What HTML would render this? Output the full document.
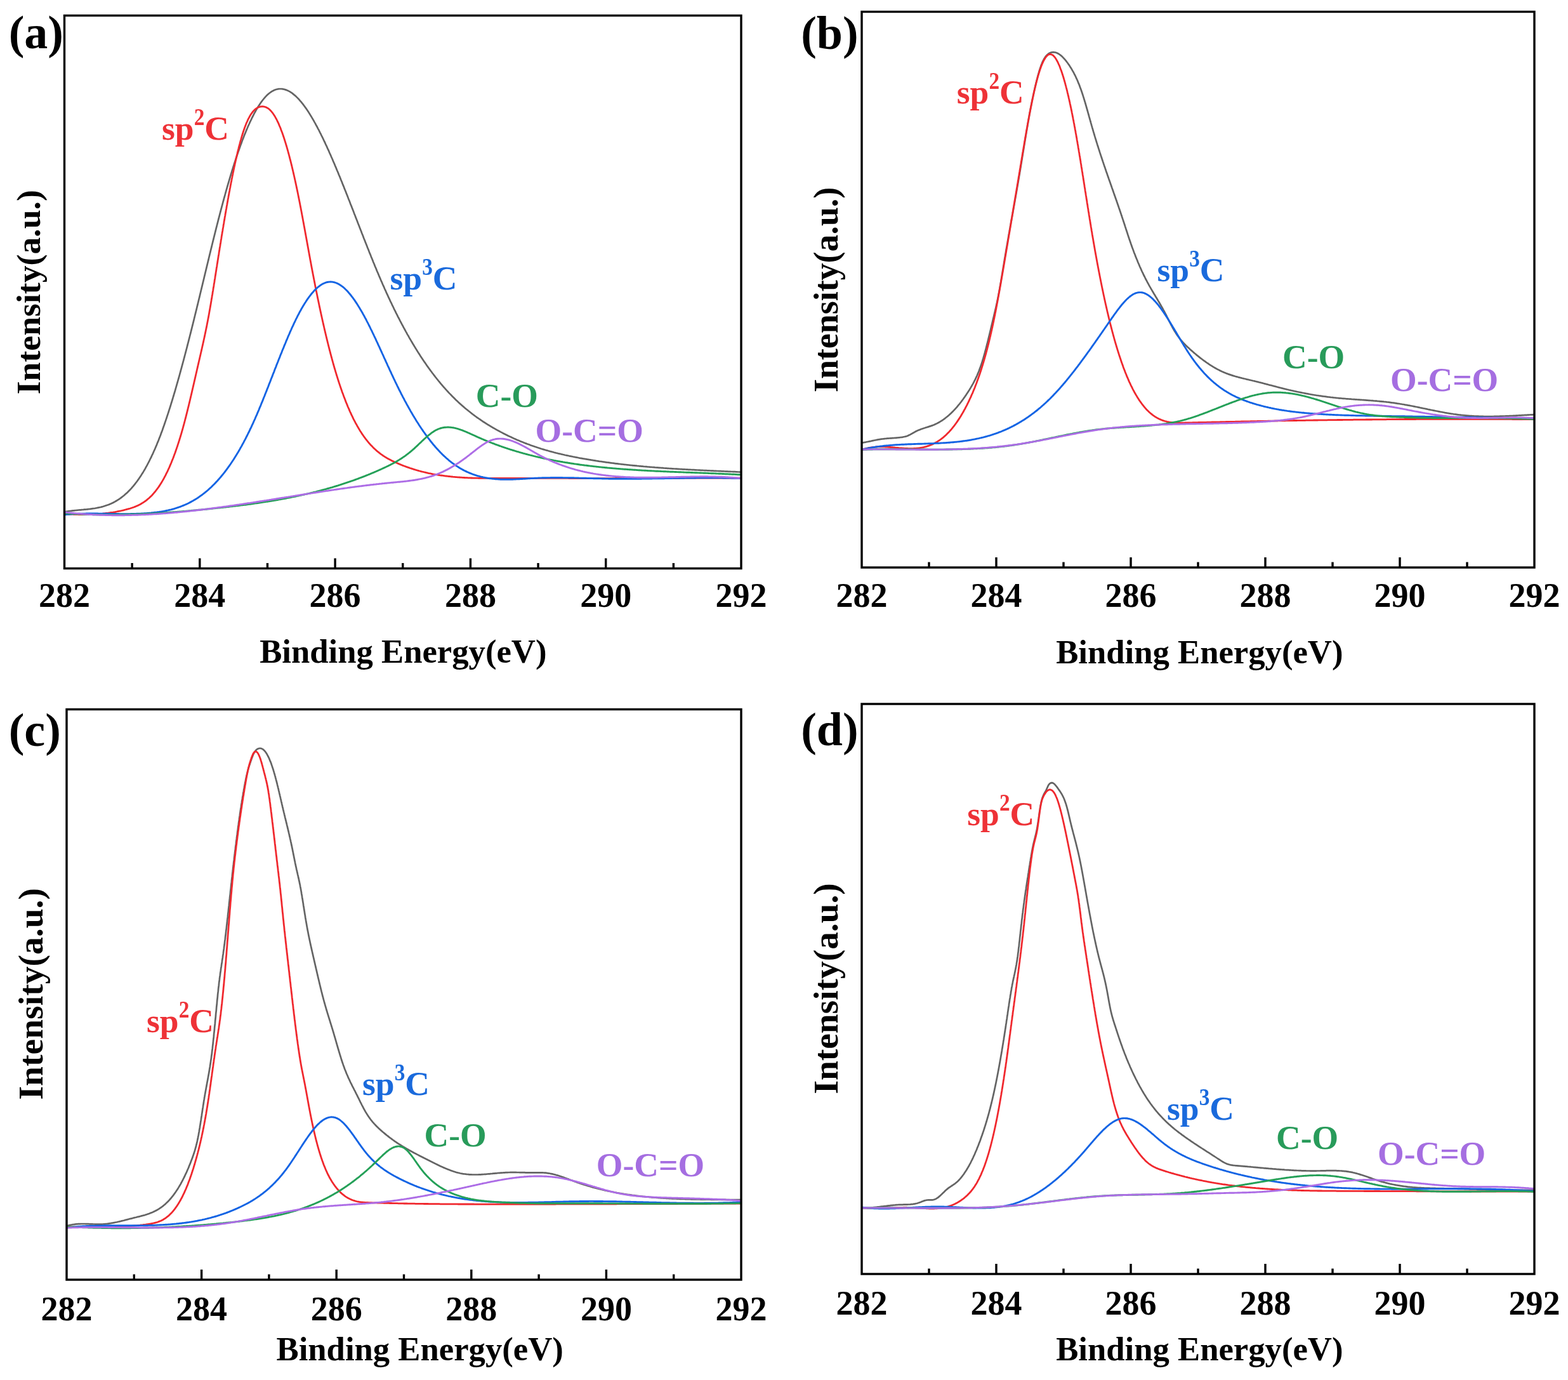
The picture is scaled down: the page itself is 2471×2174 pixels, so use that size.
<!DOCTYPE html>
<html><head><meta charset="utf-8"><title>XPS C1s spectra</title>
<style>html,body{margin:0;padding:0;background:#fff;}svg{display:block;}</style></head>
<body>
<svg xmlns="http://www.w3.org/2000/svg" width="2471" height="2174" viewBox="0 0 2471 2174">
<rect width="2471" height="2174" fill="#fff"/>
<g id="pa">
<clipPath id="ca"><rect x="101.5" y="24.5" width="1066.5" height="871.0"/></clipPath>
<g clip-path="url(#ca)" fill="none" stroke-linejoin="round" stroke-linecap="round">
<path d="M101.5 806.5L103.0 806.2 104.5 805.9 106.0 805.7 107.5 805.4 109.0 805.2 110.5 805.0 112.0 804.8 113.5 804.6 115.0 804.4 116.5 804.3 118.0 804.1 119.5 804.0 121.0 803.8 122.5 803.7 124.0 803.5 125.5 803.4 127.0 803.3 128.5 803.1 130.0 803.0 131.5 802.9 133.0 802.7 134.5 802.6 136.0 802.5 137.5 802.3 139.0 802.1 140.5 802.0 142.0 801.8 143.5 801.6 145.0 801.4 146.5 801.2 148.0 801.0 149.5 800.8 151.0 800.5 152.5 800.2 154.0 799.9 155.5 799.6 157.0 799.3 158.5 799.0 160.0 798.6 161.5 798.2 163.0 797.8 164.5 797.3 166.0 796.8 167.5 796.3 169.0 795.8 170.5 795.3 172.0 794.7 173.5 794.0 175.0 793.4 176.5 792.7 178.0 792.0 179.5 791.2 181.0 790.4 182.5 789.5 184.0 788.7 185.5 787.7 187.0 786.8 188.2 785.9 189.5 785.1 190.8 784.1 192.0 783.2 193.2 782.2 194.5 781.2 195.8 780.2 197.0 779.1 198.2 778.0 199.5 776.9 200.8 775.7 202.0 774.5 203.2 773.3 204.5 772.0 205.8 770.6 207.0 769.3 208.0 768.1 209.0 767.0 210.0 765.8 211.0 764.6 212.0 763.4 213.0 762.1 214.0 760.8 215.0 759.5 216.0 758.2 217.0 756.8 218.0 755.4 219.0 753.9 220.0 752.5 221.0 751.0 222.0 749.5 223.0 747.9 224.0 746.3 225.0 744.7 226.0 743.1 227.0 741.4 228.0 739.7 228.8 738.4 229.5 737.0 230.2 735.7 231.0 734.3 231.8 732.9 232.5 731.5 233.2 730.1 234.0 728.7 234.8 727.2 235.5 725.7 236.2 724.2 237.0 722.7 237.8 721.2 238.5 719.6 239.2 718.0 240.0 716.4 240.8 714.8 241.5 713.2 242.2 711.5 243.0 709.8 243.8 708.1 244.5 706.4 245.2 704.7 246.0 702.9 246.8 701.1 247.5 699.3 248.2 697.4 249.0 695.6 249.8 693.7 250.5 691.8 251.2 689.9 252.0 687.9 252.8 686.0 253.5 684.0 254.2 682.0 255.0 679.9 255.8 677.9 256.5 675.8 257.2 673.7 258.0 671.6 258.5 670.2 259.0 668.7 259.5 667.3 260.0 665.8 260.5 664.4 261.0 662.9 261.5 661.4 262.0 659.9 262.5 658.5 263.0 656.9 263.5 655.4 264.0 653.9 264.5 652.4 265.0 650.9 265.5 649.3 266.0 647.8 266.5 646.2 267.0 644.6 267.5 643.1 268.0 641.5 268.5 639.9 269.0 638.3 269.5 636.7 270.0 635.0 270.5 633.4 271.0 631.8 271.5 630.2 272.0 628.5 272.5 626.9 273.0 625.2 273.5 623.5 274.0 621.8 274.5 620.2 275.0 618.5 275.5 616.8 276.0 615.1 276.5 613.4 277.0 611.6 277.5 609.9 278.0 608.2 278.5 606.4 279.0 604.7 279.5 602.9 280.0 601.2 280.5 599.4 281.0 597.6 281.5 595.9 282.0 594.1 282.5 592.3 283.0 590.5 283.5 588.7 284.0 586.9 284.5 585.1 285.0 583.2 285.5 581.4 286.0 579.6 286.5 577.7 287.0 575.9 287.5 574.0 288.0 572.2 288.5 570.3 289.0 568.5 289.5 566.6 290.0 564.7 290.5 562.8 291.0 560.9 291.5 559.0 292.0 557.1 292.5 555.2 293.0 553.3 293.5 551.4 294.0 549.5 294.5 547.6 295.0 545.6 295.5 543.7 296.0 541.7 296.5 539.8 297.0 537.9 297.5 535.9 298.0 533.9 298.5 532.0 299.0 530.0 299.5 528.0 300.0 526.1 300.5 524.1 301.0 522.1 301.5 520.1 302.0 518.1 302.5 516.1 303.0 514.1 303.5 512.1 304.0 510.1 304.5 508.1 305.0 506.1 305.5 504.1 306.0 502.0 306.5 500.0 307.0 498.0 307.5 495.9 308.0 493.9 308.5 491.9 309.0 489.8 309.5 487.8 310.0 485.7 310.5 483.7 311.0 481.6 311.5 479.6 312.0 477.5 312.5 475.5 313.0 473.4 313.5 471.3 314.0 469.3 314.5 467.2 315.0 465.1 315.5 463.0 316.0 461.0 316.5 458.9 317.0 456.8 317.5 454.7 318.0 452.7 318.5 450.6 319.0 448.5 319.5 446.4 320.0 444.4 320.5 442.3 321.0 440.2 321.5 438.1 322.0 436.0 322.5 434.0 323.0 431.9 323.5 429.8 324.0 427.7 324.5 425.6 325.0 423.6 325.5 421.5 326.0 419.4 326.5 417.4 327.0 415.3 327.5 413.2 328.0 411.1 328.5 409.1 329.0 407.0 329.5 405.0 330.0 402.9 330.5 400.8 331.0 398.8 331.5 396.7 332.0 394.7 332.5 392.6 333.0 390.6 333.5 388.6 334.0 386.5 334.5 384.5 335.0 382.5 335.5 380.4 336.0 378.4 336.5 376.4 337.0 374.4 337.5 372.4 338.0 370.4 338.5 368.4 339.0 366.4 339.5 364.4 340.0 362.4 340.5 360.4 341.0 358.4 341.5 356.5 342.0 354.5 342.5 352.5 343.0 350.6 343.5 348.6 344.0 346.7 344.5 344.7 345.0 342.8 345.5 340.9 346.0 339.0 346.5 337.0 347.0 335.1 347.5 333.2 348.0 331.3 348.5 329.4 349.0 327.6 349.5 325.7 350.0 323.8 350.5 322.0 351.0 320.1 351.5 318.2 352.0 316.4 352.5 314.6 353.0 312.7 353.5 310.9 354.0 309.1 354.5 307.3 355.0 305.5 355.5 303.7 356.0 301.9 356.5 300.2 357.0 298.4 357.5 296.6 358.0 294.9 358.5 293.1 359.0 291.4 359.5 289.7 360.0 288.0 360.5 286.3 361.0 284.6 361.5 282.9 362.0 281.2 362.5 279.5 363.0 277.8 363.5 276.2 364.0 274.5 364.5 272.9 365.0 271.3 365.5 269.6 366.0 268.0 366.5 266.4 367.0 264.8 367.5 263.2 368.0 261.6 368.5 260.1 369.0 258.5 369.5 257.0 370.0 255.4 370.5 253.9 371.0 252.4 371.5 250.8 372.0 249.3 372.5 247.8 373.0 246.3 373.5 244.9 374.0 243.4 374.5 241.9 375.0 240.5 375.5 239.0 376.0 237.6 376.5 236.2 377.0 234.7 377.8 232.6 378.5 230.5 379.2 228.5 380.0 226.4 380.8 224.4 381.5 222.4 382.2 220.4 383.0 218.5 383.8 216.5 384.5 214.6 385.2 212.7 386.0 210.9 386.8 209.0 387.5 207.2 388.2 205.4 389.0 203.6 389.8 201.8 390.5 200.1 391.2 198.4 392.0 196.7 392.8 195.0 393.5 193.4 394.2 191.8 395.0 190.2 395.8 188.6 396.5 187.0 397.2 185.5 398.0 184.0 398.8 182.5 399.5 181.1 400.2 179.6 401.0 178.2 401.8 176.8 402.5 175.5 403.2 174.2 404.0 172.8 405.0 171.1 406.0 169.5 407.0 167.8 408.0 166.3 409.0 164.7 410.0 163.2 411.0 161.8 412.0 160.4 413.0 159.0 414.0 157.7 415.0 156.5 416.0 155.2 417.0 154.1 418.0 152.9 419.2 151.6 420.5 150.3 421.8 149.1 423.0 148.0 424.2 147.0 425.5 146.0 426.8 145.1 428.2 144.1 429.8 143.3 431.2 142.5 432.8 141.8 434.2 141.3 435.8 140.8 437.2 140.5 438.8 140.2 440.2 140.0 441.8 140.0 443.2 140.0 444.8 140.1 446.2 140.4 447.8 140.7 449.2 141.1 450.8 141.6 452.2 142.2 453.8 142.8 455.2 143.6 456.8 144.4 458.2 145.4 459.5 146.2 460.8 147.1 462.0 148.1 463.2 149.1 464.5 150.1 465.8 151.2 467.0 152.4 468.2 153.6 469.5 154.9 470.8 156.2 472.0 157.6 473.0 158.8 474.0 159.9 475.0 161.1 476.0 162.4 477.0 163.6 478.0 164.9 479.0 166.3 480.0 167.6 481.0 169.0 482.0 170.4 483.0 171.8 484.0 173.3 485.0 174.8 486.0 176.3 487.0 177.9 488.0 179.5 489.0 181.1 490.0 182.7 491.0 184.4 492.0 186.1 493.0 187.8 493.8 189.1 494.5 190.4 495.2 191.7 496.0 193.1 496.8 194.4 497.5 195.8 498.2 197.2 499.0 198.5 499.8 200.0 500.5 201.4 501.2 202.8 502.0 204.2 502.8 205.7 503.5 207.2 504.2 208.6 505.0 210.1 505.8 211.6 506.5 213.2 507.2 214.7 508.0 216.2 508.8 217.8 509.5 219.3 510.2 220.9 511.0 222.5 511.8 224.0 512.5 225.6 513.2 227.3 514.0 228.9 514.8 230.5 515.5 232.1 516.2 233.8 517.0 235.4 517.8 237.1 518.5 238.8 519.2 240.5 520.0 242.2 520.8 243.9 521.5 245.6 522.2 247.3 523.0 249.0 523.8 250.7 524.5 252.5 525.2 254.2 526.0 256.0 526.8 257.7 527.5 259.5 528.2 261.3 529.0 263.1 529.8 264.9 530.5 266.7 531.2 268.5 532.0 270.3 532.8 272.1 533.5 273.9 534.2 275.7 535.0 277.6 535.8 279.4 536.5 281.3 537.2 283.1 538.0 285.0 538.8 286.8 539.5 288.7 540.2 290.6 541.0 292.4 541.8 294.3 542.5 296.2 543.2 298.1 544.0 300.0 544.8 301.8 545.5 303.7 546.2 305.6 547.0 307.5 547.8 309.5 548.5 311.4 549.2 313.3 550.0 315.2 550.8 317.1 551.5 319.0 552.2 320.9 553.0 322.9 553.8 324.8 554.5 326.7 555.2 328.6 556.0 330.6 556.8 332.5 557.5 334.4 558.2 336.4 559.0 338.3 559.8 340.2 560.5 342.2 561.2 344.1 562.0 346.0 562.8 348.0 563.5 349.9 564.2 351.8 565.0 353.8 565.8 355.7 566.5 357.6 567.2 359.6 568.0 361.5 568.8 363.4 569.5 365.3 570.2 367.3 571.0 369.2 571.8 371.1 572.5 373.0 573.2 375.0 574.0 376.9 574.8 378.8 575.5 380.7 576.2 382.6 577.0 384.5 577.8 386.4 578.5 388.3 579.2 390.2 580.0 392.1 580.8 394.0 581.5 395.9 582.2 397.8 583.0 399.6 583.8 401.5 584.5 403.4 585.2 405.2 586.0 407.1 586.8 409.0 587.5 410.8 588.2 412.7 589.0 414.5 589.8 416.3 590.5 418.2 591.2 420.0 592.0 421.8 592.8 423.6 593.5 425.4 594.2 427.2 595.0 429.0 595.8 430.8 596.5 432.6 597.2 434.3 598.0 436.1 598.8 437.9 599.5 439.6 600.2 441.3 601.0 443.1 601.8 444.8 602.5 446.5 603.2 448.2 604.0 449.9 604.8 451.6 605.5 453.3 606.2 455.0 607.0 456.7 607.8 458.3 608.5 460.0 609.2 461.7 610.0 463.3 610.8 464.9 611.5 466.6 612.2 468.2 613.0 469.8 613.8 471.4 614.5 473.0 615.2 474.6 616.0 476.2 616.8 477.7 617.5 479.3 618.2 480.9 619.0 482.4 619.8 484.0 620.5 485.5 621.2 487.1 622.0 488.6 622.8 490.1 623.5 491.6 624.2 493.1 625.0 494.6 625.8 496.1 626.5 497.6 627.2 499.1 628.0 500.5 628.8 502.0 629.5 503.4 630.2 504.9 631.0 506.3 631.8 507.8 632.5 509.2 633.2 510.6 634.0 512.0 634.8 513.4 635.5 514.8 636.2 516.2 637.0 517.6 637.8 519.0 638.5 520.3 639.2 521.7 640.0 523.1 640.8 524.4 641.5 525.8 642.2 527.1 643.0 528.4 643.8 529.7 644.5 531.1 645.2 532.4 646.0 533.7 647.0 535.4 648.0 537.1 649.0 538.8 650.0 540.5 651.0 542.2 652.0 543.8 653.0 545.5 654.0 547.1 655.0 548.8 656.0 550.4 657.0 552.0 658.0 553.6 659.0 555.2 660.0 556.7 661.0 558.3 662.0 559.9 663.0 561.4 664.0 562.9 665.0 564.4 666.0 565.9 667.0 567.4 668.0 568.9 669.0 570.4 670.0 571.8 671.0 573.3 672.0 574.7 673.0 576.2 674.0 577.6 675.0 579.0 676.0 580.4 677.0 581.7 678.0 583.1 679.0 584.5 680.0 585.8 681.0 587.2 682.0 588.5 683.0 589.8 684.0 591.1 685.0 592.4 686.0 593.7 687.0 595.0 688.0 596.2 689.0 597.5 690.0 598.7 691.0 600.0 692.0 601.2 693.0 602.4 694.0 603.6 695.0 604.8 696.0 606.0 697.0 607.1 698.0 608.3 699.0 609.5 700.0 610.6 701.0 611.7 702.0 612.8 703.2 614.2 704.5 615.6 705.8 617.0 707.0 618.3 708.2 619.6 709.5 620.9 710.8 622.2 712.0 623.5 713.2 624.8 714.5 626.0 715.8 627.3 717.0 628.5 718.2 629.7 719.5 630.9 720.8 632.1 722.0 633.3 723.2 634.4 724.5 635.6 725.8 636.7 727.0 637.8 728.2 638.9 729.5 640.0 730.8 641.1 732.0 642.2 733.2 643.2 734.5 644.3 735.8 645.3 737.0 646.3 738.2 647.3 739.5 648.3 740.8 649.3 742.0 650.3 743.2 651.3 744.5 652.2 745.8 653.2 747.0 654.1 748.2 655.0 749.5 656.0 750.8 656.9 752.0 657.8 753.2 658.6 754.5 659.5 755.8 660.4 757.0 661.2 758.2 662.1 759.5 662.9 760.8 663.8 762.2 664.8 763.8 665.7 765.2 666.7 766.8 667.6 768.2 668.6 769.8 669.5 771.2 670.4 772.8 671.3 774.2 672.2 775.8 673.1 777.2 674.0 778.8 674.9 780.2 675.7 781.8 676.6 783.2 677.4 784.8 678.2 786.2 679.0 787.8 679.8 789.2 680.6 790.8 681.4 792.2 682.2 793.8 683.0 795.2 683.7 796.8 684.5 798.2 685.2 799.8 686.0 801.2 686.7 802.8 687.4 804.2 688.1 805.8 688.8 807.2 689.5 808.8 690.2 810.2 690.9 811.8 691.5 813.2 692.2 814.8 692.9 816.2 693.5 817.8 694.1 819.2 694.8 820.8 695.4 822.2 696.0 823.8 696.6 825.2 697.2 826.8 697.8 828.2 698.4 829.8 698.9 831.2 699.5 832.8 700.1 834.2 700.6 835.8 701.2 837.2 701.7 838.8 702.2 840.2 702.7 841.8 703.3 843.2 703.8 844.8 704.3 846.2 704.8 847.8 705.3 849.2 705.7 850.8 706.2 852.2 706.7 853.8 707.2 855.2 707.6 856.8 708.1 858.2 708.5 859.8 709.0 861.2 709.4 862.8 709.8 864.2 710.3 865.8 710.7 867.2 711.1 868.8 711.5 870.2 711.9 871.8 712.3 873.2 712.7 874.8 713.1 876.2 713.5 877.8 713.8 879.2 714.2 880.8 714.6 882.2 714.9 883.8 715.3 885.2 715.6 886.8 716.0 888.2 716.3 889.8 716.7 891.2 717.0 892.8 717.3 894.2 717.7 895.8 718.0 897.2 718.3 898.8 718.6 900.2 718.9 901.8 719.2 903.2 719.5 904.8 719.8 906.2 720.1 907.8 720.4 909.2 720.7 910.8 721.0 912.2 721.3 913.8 721.6 915.2 721.8 916.8 722.1 918.2 722.4 919.8 722.7 921.2 722.9 922.8 723.2 924.2 723.4 925.8 723.7 927.2 723.9 928.8 724.2 930.2 724.4 931.8 724.7 933.2 724.9 934.8 725.2 936.2 725.4 937.8 725.6 939.2 725.9 940.8 726.1 942.2 726.3 943.8 726.6 945.2 726.8 946.8 727.0 948.2 727.2 949.8 727.5 951.2 727.7 952.8 727.9 954.2 728.1 955.8 728.3 957.2 728.5 958.8 728.7 960.2 728.9 961.8 729.1 963.2 729.3 964.8 729.5 966.2 729.7 967.8 729.9 969.2 730.1 970.8 730.3 972.2 730.4 973.8 730.6 975.2 730.8 976.8 731.0 978.2 731.2 979.8 731.3 981.2 731.5 982.8 731.7 984.2 731.8 985.8 732.0 987.2 732.2 988.8 732.3 990.2 732.5 991.8 732.7 993.2 732.8 994.8 733.0 996.2 733.1 997.8 733.3 999.2 733.4 1000.8 733.6 1002.2 733.7 1003.8 733.9 1005.2 734.0 1006.8 734.2 1008.2 734.3 1009.8 734.4 1011.2 734.6 1012.8 734.7 1014.2 734.9 1015.8 735.0 1017.2 735.1 1018.8 735.2 1020.2 735.4 1021.8 735.5 1023.2 735.6 1024.8 735.8 1026.2 735.9 1027.8 736.0 1029.2 736.1 1030.8 736.2 1032.2 736.4 1033.8 736.5 1035.2 736.6 1036.8 736.7 1038.2 736.8 1039.8 736.9 1041.2 737.0 1042.8 737.1 1044.2 737.2 1045.8 737.4 1047.2 737.5 1048.8 737.6 1050.2 737.7 1051.8 737.8 1053.2 737.9 1054.8 738.0 1056.2 738.1 1057.8 738.2 1059.2 738.3 1060.8 738.4 1062.2 738.5 1063.8 738.5 1065.2 738.6 1066.8 738.7 1068.2 738.8 1069.8 738.9 1071.2 739.0 1072.8 739.1 1074.2 739.2 1075.8 739.3 1077.2 739.3 1078.8 739.4 1080.2 739.5 1081.8 739.6 1083.2 739.7 1084.8 739.8 1086.2 739.8 1087.8 739.9 1089.2 740.0 1090.8 740.1 1092.2 740.2 1093.8 740.2 1095.2 740.3 1096.8 740.4 1098.2 740.5 1099.8 740.5 1101.2 740.6 1102.8 740.7 1104.2 740.8 1105.8 740.8 1107.2 740.9 1108.8 741.0 1110.2 741.1 1111.8 741.1 1113.2 741.2 1114.8 741.3 1116.2 741.3 1117.8 741.4 1119.2 741.5 1120.8 741.6 1122.2 741.6 1123.8 741.7 1125.2 741.8 1126.8 741.8 1128.2 741.9 1129.8 742.0 1131.2 742.0 1132.8 742.1 1134.2 742.2 1135.8 742.2 1137.2 742.3 1138.8 742.4 1140.2 742.4 1141.8 742.5 1143.2 742.6 1144.8 742.6 1146.2 742.7 1147.8 742.8 1149.2 742.8 1150.8 742.9 1152.2 743.0 1153.8 743.0 1155.2 743.1 1156.8 743.2 1158.2 743.2 1159.8 743.3 1161.2 743.4 1162.8 743.5 1164.2 743.5 1165.8 743.6 1167.2 743.7 1168.0 743.7" stroke="#646464" stroke-width="2.7"/>
<path d="M101.5 809.7L103.0 809.8 104.5 809.8 106.0 809.9 107.5 810.0 109.0 810.0 110.5 810.1 112.0 810.1 113.5 810.2 115.0 810.2 116.5 810.3 118.0 810.3 119.5 810.4 121.0 810.4 122.5 810.4 124.0 810.5 125.5 810.5 127.0 810.5 128.5 810.5 130.0 810.5 131.5 810.5 133.0 810.5 134.5 810.5 136.0 810.5 137.5 810.4 139.0 810.4 140.5 810.4 142.0 810.3 143.5 810.3 145.0 810.2 146.5 810.2 148.0 810.1 149.5 810.0 151.0 809.9 152.5 809.9 154.0 809.8 155.5 809.7 157.0 809.5 158.5 809.4 160.0 809.3 161.5 809.2 163.0 809.0 164.5 808.9 166.0 808.7 167.5 808.5 169.0 808.3 170.5 808.2 172.0 808.0 173.5 807.7 175.0 807.5 176.5 807.3 178.0 807.1 179.5 806.8 181.0 806.6 182.5 806.3 184.0 806.0 185.5 805.7 187.0 805.4 188.5 805.1 190.0 804.8 191.5 804.5 193.0 804.1 194.5 803.8 196.0 803.4 197.5 803.0 199.0 802.6 200.5 802.2 202.0 801.8 203.5 801.4 205.0 801.0 206.5 800.5 208.0 800.0 209.5 799.5 211.0 799.0 212.5 798.4 214.0 797.8 215.5 797.1 217.0 796.5 218.5 795.7 220.0 795.0 221.5 794.2 223.0 793.3 224.5 792.4 226.0 791.5 227.2 790.6 228.5 789.8 229.8 788.8 231.0 787.9 232.2 786.9 233.5 785.8 234.8 784.7 236.0 783.6 237.2 782.4 238.5 781.2 239.8 779.9 241.0 778.5 242.0 777.4 243.0 776.2 244.0 775.0 245.0 773.8 246.0 772.5 247.0 771.2 248.0 769.9 249.0 768.5 250.0 767.1 251.0 765.6 252.0 764.1 253.0 762.5 254.0 760.9 255.0 759.3 256.0 757.6 257.0 755.9 257.8 754.5 258.5 753.2 259.2 751.8 260.0 750.4 260.8 748.9 261.5 747.4 262.2 745.9 263.0 744.4 263.8 742.9 264.5 741.3 265.2 739.7 266.0 738.0 266.8 736.3 267.5 734.6 268.2 732.9 269.0 731.1 269.8 729.3 270.5 727.5 271.2 725.6 272.0 723.7 272.8 721.8 273.5 719.9 274.2 717.9 275.0 715.8 275.8 713.8 276.5 711.7 277.0 710.3 277.5 708.8 278.0 707.4 278.5 705.9 279.0 704.4 279.5 703.0 280.0 701.4 280.5 699.9 281.0 698.4 281.5 696.8 282.0 695.2 282.5 693.7 283.0 692.0 283.5 690.4 284.0 688.8 284.5 687.1 285.0 685.5 285.5 683.8 286.0 682.1 286.5 680.3 287.0 678.6 287.5 676.8 288.0 675.1 288.5 673.3 289.0 671.4 289.5 669.6 290.0 667.8 290.5 665.9 291.0 664.0 291.5 662.1 292.0 660.2 292.5 658.3 293.0 656.3 293.5 654.4 294.0 652.4 294.5 650.4 295.0 648.4 295.5 646.4 296.0 644.4 296.5 642.3 297.0 640.3 297.5 638.2 298.0 636.1 298.5 634.1 299.0 632.0 299.5 629.9 300.0 627.8 300.5 625.6 301.0 623.5 301.5 621.4 302.0 619.2 302.5 617.1 303.0 614.9 303.5 612.8 304.0 610.6 304.5 608.4 305.0 606.3 305.5 604.1 306.0 601.9 306.5 599.8 307.0 597.6 307.5 595.4 308.0 593.2 308.5 591.0 309.0 588.8 309.5 586.7 310.0 584.5 310.5 582.3 311.0 580.1 311.5 577.9 312.0 575.8 312.5 573.6 313.0 571.4 313.5 569.3 314.0 567.1 314.5 565.0 315.0 562.8 315.5 560.6 316.0 558.5 316.5 556.3 317.0 554.1 317.5 551.9 318.0 549.7 318.5 547.5 319.0 545.3 319.5 543.1 320.0 540.8 320.5 538.6 321.0 536.3 321.5 534.0 322.0 531.7 322.5 529.4 323.0 527.0 323.5 524.6 324.0 522.2 324.5 519.8 325.0 517.4 325.5 514.9 326.0 512.4 326.5 509.8 327.0 507.3 327.5 504.7 328.0 502.0 328.5 499.4 329.0 496.7 329.5 493.9 330.0 491.1 330.5 488.3 331.0 485.5 331.5 482.6 332.0 479.7 332.5 476.8 333.0 473.8 333.2 472.3 333.5 470.8 333.8 469.4 334.0 467.8 334.2 466.3 334.5 464.8 334.8 463.3 335.0 461.8 335.2 460.2 335.5 458.7 335.8 457.2 336.0 455.6 336.2 454.1 336.5 452.5 336.8 451.0 337.0 449.4 337.2 447.9 337.5 446.3 337.8 444.7 338.0 443.2 338.2 441.6 338.5 440.0 338.8 438.4 339.0 436.9 339.2 435.3 339.5 433.7 339.8 432.1 340.0 430.6 340.2 429.0 340.5 427.4 340.8 425.8 341.0 424.2 341.2 422.6 341.5 421.0 341.8 419.5 342.0 417.9 342.2 416.3 342.5 414.7 342.8 413.1 343.0 411.5 343.2 410.0 343.5 408.4 343.8 406.8 344.0 405.2 344.2 403.7 344.5 402.1 344.8 400.5 345.0 399.0 345.2 397.4 345.5 395.8 345.8 394.3 346.0 392.7 346.2 391.1 346.5 389.6 346.8 388.0 347.0 386.5 347.2 384.9 347.5 383.4 347.8 381.8 348.0 380.3 348.2 378.8 348.5 377.2 348.8 375.7 349.0 374.1 349.2 372.6 349.5 371.1 349.8 369.6 350.0 368.0 350.2 366.5 350.5 365.0 350.8 363.5 351.0 362.0 351.2 360.5 351.5 359.0 351.8 357.5 352.0 356.0 352.2 354.5 352.5 353.0 352.8 351.5 353.0 350.0 353.2 348.5 353.8 345.6 354.2 342.6 354.8 339.7 355.2 336.8 355.8 333.9 356.2 331.0 356.8 328.2 357.2 325.3 357.8 322.5 358.2 319.7 358.8 316.9 359.2 314.1 359.8 311.3 360.2 308.6 360.8 305.9 361.2 303.2 361.8 300.5 362.2 297.8 362.8 295.2 363.2 292.5 363.8 289.9 364.2 287.3 364.8 284.8 365.2 282.3 365.8 279.7 366.2 277.2 366.8 274.8 367.2 272.3 367.8 269.9 368.2 267.5 368.8 265.1 369.2 262.8 369.8 260.5 370.2 258.2 370.8 255.9 371.2 253.7 371.8 251.4 372.2 249.2 372.8 247.1 373.2 244.9 373.8 242.8 374.2 240.7 374.8 238.7 375.2 236.6 375.8 234.6 376.2 232.7 376.8 230.7 377.2 228.8 377.8 226.9 378.2 225.0 378.8 223.2 379.2 221.4 379.8 219.6 380.2 217.9 380.8 216.2 381.2 214.5 381.8 212.8 382.2 211.2 382.8 209.6 383.2 208.1 383.8 206.5 384.2 205.0 384.8 203.6 385.2 202.2 386.0 200.1 386.8 198.1 387.5 196.1 388.2 194.3 389.0 192.5 389.8 190.8 390.5 189.1 391.2 187.6 392.0 186.1 392.8 184.7 393.5 183.3 394.5 181.6 395.5 180.0 396.5 178.6 397.5 177.2 398.5 176.0 399.5 174.8 400.8 173.5 402.0 172.4 403.2 171.4 404.5 170.5 406.0 169.6 407.5 168.9 409.0 168.4 410.5 168.0 412.0 167.8 413.5 167.7 415.0 167.8 416.5 168.1 418.0 168.5 419.5 169.1 421.0 169.9 422.5 170.8 423.8 171.7 425.0 172.8 426.2 174.0 427.5 175.4 428.5 176.6 429.5 177.8 430.5 179.2 431.5 180.7 432.5 182.2 433.5 183.9 434.2 185.2 435.0 186.6 435.8 188.0 436.5 189.5 437.2 191.0 438.0 192.6 438.8 194.2 439.5 195.9 440.2 197.7 441.0 199.5 441.8 201.3 442.5 203.2 443.2 205.2 444.0 207.2 444.8 209.3 445.5 211.4 446.0 212.8 446.5 214.3 447.0 215.8 447.5 217.3 448.0 218.8 448.5 220.4 449.0 222.0 449.5 223.6 450.0 225.2 450.5 226.8 451.0 228.5 451.5 230.2 452.0 231.9 452.5 233.7 453.0 235.4 453.5 237.2 454.0 239.0 454.5 240.8 455.0 242.7 455.5 244.5 456.0 246.4 456.5 248.3 457.0 250.3 457.5 252.2 458.0 254.2 458.5 256.2 459.0 258.2 459.5 260.2 460.0 262.3 460.5 264.4 461.0 266.5 461.5 268.6 462.0 270.7 462.5 272.9 463.0 275.1 463.5 277.3 464.0 279.5 464.5 281.7 465.0 284.0 465.5 286.3 466.0 288.6 466.5 290.9 467.0 293.2 467.5 295.6 468.0 298.0 468.5 300.4 469.0 302.8 469.5 305.3 470.0 307.7 470.5 310.2 471.0 312.7 471.5 315.2 472.0 317.8 472.5 320.3 473.0 322.9 473.5 325.5 474.0 328.1 474.5 330.7 475.0 333.3 475.5 336.0 476.0 338.7 476.5 341.3 477.0 344.0 477.5 346.7 478.0 349.4 478.5 352.1 479.0 354.9 479.5 357.6 480.0 360.3 480.5 363.1 481.0 365.8 481.5 368.6 482.0 371.3 482.5 374.1 483.0 376.8 483.5 379.6 484.0 382.3 484.5 385.1 485.0 387.8 485.5 390.6 486.0 393.3 486.5 396.1 487.0 398.8 487.5 401.5 488.0 404.2 488.5 407.0 489.0 409.7 489.5 412.3 490.0 415.0 490.5 417.7 491.0 420.4 491.5 423.0 492.0 425.7 492.5 428.3 493.0 430.9 493.5 433.5 494.0 436.1 494.5 438.7 495.0 441.2 495.5 443.8 496.0 446.3 496.5 448.9 497.0 451.4 497.5 453.9 498.0 456.4 498.5 458.9 499.0 461.3 499.5 463.8 500.0 466.3 500.5 468.7 501.0 471.1 501.5 473.5 502.0 475.9 502.5 478.3 503.0 480.7 503.5 483.1 504.0 485.4 504.5 487.7 505.0 490.1 505.5 492.4 506.0 494.7 506.5 497.0 507.0 499.2 507.5 501.5 508.0 503.7 508.5 506.0 509.0 508.2 509.5 510.4 510.0 512.6 510.5 514.8 511.0 517.0 511.5 519.1 512.0 521.3 512.5 523.4 513.0 525.5 513.5 527.6 514.0 529.7 514.5 531.8 515.0 533.8 515.5 535.9 516.0 537.9 516.5 540.0 517.0 542.0 517.5 544.0 518.0 546.0 518.5 547.9 519.0 549.9 519.5 551.8 520.0 553.7 520.5 555.7 521.0 557.6 521.5 559.4 522.0 561.3 522.5 563.2 523.0 565.0 523.5 566.9 524.0 568.7 524.5 570.5 525.0 572.3 525.5 574.0 526.0 575.8 526.5 577.5 527.0 579.3 527.5 581.0 528.0 582.7 528.5 584.4 529.0 586.1 529.5 587.7 530.0 589.4 530.5 591.0 531.0 592.6 531.5 594.2 532.0 595.8 532.5 597.4 533.0 599.0 533.5 600.5 534.0 602.1 534.5 603.6 535.0 605.1 535.5 606.6 536.0 608.1 536.5 609.6 537.0 611.0 537.5 612.5 538.0 613.9 538.5 615.3 539.2 617.5 540.0 619.5 540.8 621.6 541.5 623.6 542.2 625.6 543.0 627.6 543.8 629.6 544.5 631.5 545.2 633.4 546.0 635.3 546.8 637.1 547.5 638.9 548.2 640.7 549.0 642.5 549.8 644.2 550.5 645.9 551.2 647.6 552.0 649.3 552.8 650.9 553.5 652.6 554.2 654.2 555.0 655.7 555.8 657.3 556.5 658.8 557.2 660.3 558.0 661.8 558.8 663.3 559.5 664.7 560.2 666.1 561.0 667.5 561.8 668.9 562.5 670.2 563.2 671.5 564.0 672.8 565.0 674.6 566.0 676.2 567.0 677.9 568.0 679.5 569.0 681.0 570.0 682.6 571.0 684.1 572.0 685.5 573.0 687.0 574.0 688.4 575.0 689.7 576.0 691.1 577.0 692.4 578.0 693.7 579.0 694.9 580.0 696.1 581.0 697.3 582.0 698.5 583.0 699.6 584.2 701.0 585.5 702.3 586.8 703.6 588.0 704.9 589.2 706.1 590.5 707.3 591.8 708.4 593.0 709.6 594.2 710.6 595.5 711.7 596.8 712.7 598.0 713.7 599.2 714.6 600.5 715.6 601.8 716.4 603.0 717.3 604.2 718.2 605.8 719.1 607.2 720.1 608.8 721.0 610.2 721.9 611.8 722.7 613.2 723.5 614.8 724.3 616.2 725.1 617.8 725.9 619.2 726.6 620.8 727.3 622.2 728.0 623.8 728.7 625.2 729.3 626.8 730.0 628.2 730.6 629.8 731.3 631.2 731.9 632.8 732.5 634.2 733.1 635.8 733.7 637.2 734.2 638.8 734.8 640.2 735.4 641.8 735.9 643.2 736.4 644.8 736.9 646.2 737.5 647.8 737.9 649.2 738.4 650.8 738.9 652.2 739.4 653.8 739.8 655.2 740.3 656.8 740.7 658.2 741.2 659.8 741.6 661.2 742.0 662.8 742.4 664.2 742.8 665.8 743.2 667.2 743.5 668.8 743.9 670.2 744.2 671.8 744.6 673.2 744.9 674.8 745.3 676.2 745.6 677.8 745.9 679.2 746.2 680.8 746.5 682.2 746.8 683.8 747.1 685.2 747.3 686.8 747.6 688.2 747.8 689.8 748.1 691.2 748.3 692.8 748.6 694.2 748.8 695.8 749.0 697.2 749.2 698.8 749.4 700.2 749.6 701.8 749.8 703.2 750.0 704.8 750.2 706.2 750.4 707.8 750.5 709.2 750.7 710.8 750.9 712.2 751.0 713.8 751.2 715.2 751.3 716.8 751.4 718.2 751.6 719.8 751.7 721.2 751.8 722.8 751.9 724.2 752.0 725.8 752.1 727.2 752.2 728.8 752.3 730.2 752.4 731.8 752.5 733.2 752.6 734.8 752.6 736.2 752.7 737.8 752.8 739.2 752.8 740.8 752.9 742.2 753.0 743.8 753.0 745.2 753.1 746.8 753.1 748.2 753.1 749.8 753.2 751.2 753.2 752.8 753.2 754.2 753.3 755.8 753.3 757.2 753.3 758.8 753.3 760.2 753.4 761.8 753.4 763.2 753.4 764.8 753.4 766.2 753.4 767.8 753.4 769.2 753.4 770.8 753.4 772.2 753.4 773.8 753.4 775.2 753.4 776.8 753.4 778.2 753.4 779.8 753.4 781.2 753.4 782.8 753.4 784.2 753.4 785.8 753.4 787.2 753.4 788.8 753.4 790.2 753.4 791.8 753.4 793.2 753.4 794.8 753.4 796.2 753.4 797.8 753.3 799.2 753.3 800.8 753.3 802.2 753.3 803.8 753.3 805.2 753.3 806.8 753.3 808.2 753.3 809.8 753.3 811.2 753.3 812.8 753.3 814.2 753.3 815.8 753.3 817.2 753.3 818.8 753.3 820.2 753.3 821.8 753.3 823.2 753.3 824.8 753.3 826.2 753.3 827.8 753.3 829.2 753.3 830.8 753.3 832.2 753.3 833.8 753.3 835.2 753.3 836.8 753.3 838.2 753.3 839.8 753.3 841.2 753.3 842.8 753.3 844.2 753.3 845.8 753.3 847.2 753.3 848.8 753.3 850.2 753.3 851.8 753.3 853.2 753.3 854.8 753.3 856.2 753.3 857.8 753.3 859.2 753.3 860.8 753.3 862.2 753.3 863.8 753.3 865.2 753.3 866.8 753.3 868.2 753.3 869.8 753.4 871.2 753.4 872.8 753.4 874.2 753.4 875.8 753.4 877.2 753.4 878.8 753.4 880.2 753.4 881.8 753.4 883.2 753.4 884.8 753.4 886.2 753.4 887.8 753.4 889.2 753.4 890.8 753.4 892.2 753.4 893.8 753.4 895.2 753.4 896.8 753.5 898.2 753.5 899.8 753.5 901.2 753.5 902.8 753.5 904.2 753.5 905.8 753.5 907.2 753.5 908.8 753.5 910.2 753.5 911.8 753.5 913.2 753.5 914.8 753.5 916.2 753.5 917.8 753.5 919.2 753.5 920.8 753.5 922.2 753.5 923.8 753.5 925.2 753.5 926.8 753.5 928.2 753.5 929.8 753.5 931.2 753.5 932.8 753.6 934.2 753.6 935.8 753.6 937.2 753.6 938.8 753.6 940.2 753.6 941.8 753.6 943.2 753.6 944.8 753.6 946.2 753.6 947.8 753.6 949.2 753.6 950.8 753.6 952.2 753.6 953.8 753.6 955.2 753.6 956.8 753.6 958.2 753.6 959.8 753.6 961.2 753.6 962.8 753.6 964.2 753.6 965.8 753.6 967.2 753.6 968.8 753.6 970.2 753.5 971.8 753.5 973.2 753.5 974.8 753.5 976.2 753.5 977.8 753.5 979.2 753.5 980.8 753.5 982.2 753.5 983.8 753.5 985.2 753.5 986.8 753.5 988.2 753.5 989.8 753.5 991.2 753.5 992.8 753.5 994.2 753.5 995.8 753.5 997.2 753.5 998.8 753.5 1000.2 753.5 1001.8 753.5 1003.2 753.5 1004.8 753.5 1006.2 753.5 1007.8 753.5 1009.2 753.5 1010.8 753.5 1012.2 753.5 1013.8 753.4 1015.2 753.4 1016.8 753.4 1018.2 753.4 1019.8 753.4 1021.2 753.4 1022.8 753.4 1024.2 753.4 1025.8 753.4 1027.2 753.4 1028.8 753.4 1030.2 753.4 1031.8 753.4 1033.2 753.4 1034.8 753.4 1036.2 753.4 1037.8 753.4 1039.2 753.4 1040.8 753.4 1042.2 753.4 1043.8 753.3 1045.2 753.3 1046.8 753.3 1048.2 753.3 1049.8 753.3 1051.2 753.3 1052.8 753.3 1054.2 753.3 1055.8 753.3 1057.2 753.3 1058.8 753.3 1060.2 753.3 1061.8 753.3 1063.2 753.3 1064.8 753.3 1066.2 753.3 1067.8 753.3 1069.2 753.3 1070.8 753.3 1072.2 753.2 1073.8 753.2 1075.2 753.2 1076.8 753.2 1078.2 753.2 1079.8 753.2 1081.2 753.2 1082.8 753.2 1084.2 753.2 1085.8 753.2 1087.2 753.2 1088.8 753.2 1090.2 753.2 1091.8 753.2 1093.2 753.2 1094.8 753.2 1096.2 753.2 1097.8 753.2 1099.2 753.2 1100.8 753.2 1102.2 753.2 1103.8 753.2 1105.2 753.1 1106.8 753.1 1108.2 753.1 1109.8 753.1 1111.2 753.1 1112.8 753.1 1114.2 753.1 1115.8 753.1 1117.2 753.1 1118.8 753.1 1120.2 753.1 1121.8 753.1 1123.2 753.1 1124.8 753.1 1126.2 753.1 1127.8 753.1 1129.2 753.1 1130.8 753.1 1132.2 753.1 1133.8 753.1 1135.2 753.1 1136.8 753.1 1138.2 753.1 1139.8 753.1 1141.2 753.1 1142.8 753.1 1144.2 753.1 1145.8 753.1 1147.2 753.1 1148.8 753.1 1150.2 753.1 1151.8 753.1 1153.2 753.1 1154.8 753.1 1156.2 753.1 1157.8 753.1 1159.2 753.1 1160.8 753.1 1162.2 753.1 1163.8 753.1 1165.2 753.1 1166.8 753.1 1168.0 753.1" stroke="#f0282e" stroke-width="2.8"/>
<path d="M101.5 810.8L103.0 810.7 104.5 810.6 106.0 810.4 107.5 810.3 109.0 810.2 110.5 810.1 112.0 810.0 113.5 809.9 115.0 809.8 116.5 809.7 118.0 809.6 119.5 809.5 121.0 809.5 122.5 809.4 124.0 809.3 125.5 809.3 127.0 809.2 128.5 809.2 130.0 809.1 131.5 809.1 133.0 809.1 134.5 809.1 136.0 809.0 137.5 809.0 139.0 809.0 140.5 809.0 142.0 809.0 143.5 809.0 145.0 809.0 146.5 809.0 148.0 809.0 149.5 809.0 151.0 809.0 152.5 809.0 154.0 809.0 155.5 809.1 157.0 809.1 158.5 809.1 160.0 809.1 161.5 809.1 163.0 809.2 164.5 809.2 166.0 809.2 167.5 809.2 169.0 809.3 170.5 809.3 172.0 809.3 173.5 809.3 175.0 809.4 176.5 809.4 178.0 809.4 179.5 809.4 181.0 809.5 182.5 809.5 184.0 809.5 185.5 809.5 187.0 809.5 188.5 809.6 190.0 809.6 191.5 809.6 193.0 809.6 194.5 809.6 196.0 809.6 197.5 809.6 199.0 809.6 200.5 809.6 202.0 809.6 203.5 809.6 205.0 809.6 206.5 809.5 208.0 809.5 209.5 809.5 211.0 809.5 212.5 809.4 214.0 809.4 215.5 809.3 217.0 809.3 218.5 809.2 220.0 809.2 221.5 809.1 223.0 809.0 224.5 809.0 226.0 808.9 227.5 808.8 229.0 808.7 230.5 808.6 232.0 808.5 233.5 808.4 235.0 808.2 236.5 808.1 238.0 808.0 239.5 807.8 241.0 807.7 242.5 807.5 244.0 807.3 245.5 807.1 247.0 807.0 248.5 806.8 250.0 806.6 251.5 806.3 253.0 806.1 254.5 805.9 256.0 805.6 257.5 805.4 259.0 805.1 260.5 804.8 262.0 804.5 263.5 804.2 265.0 803.9 266.5 803.5 268.0 803.1 269.5 802.8 271.0 802.4 272.5 802.0 274.0 801.6 275.5 801.1 277.0 800.7 278.5 800.2 280.0 799.7 281.5 799.2 283.0 798.7 284.5 798.1 286.0 797.5 287.5 796.9 289.0 796.3 290.5 795.7 292.0 795.0 293.5 794.4 295.0 793.7 296.5 793.0 298.0 792.2 299.5 791.4 301.0 790.6 302.5 789.8 304.0 789.0 305.5 788.1 307.0 787.2 308.5 786.3 310.0 785.4 311.5 784.4 312.8 783.6 314.0 782.7 315.2 781.8 316.5 780.9 317.8 780.0 319.0 779.1 320.2 778.2 321.5 777.2 322.8 776.2 324.0 775.2 325.2 774.1 326.5 773.1 327.8 772.0 329.0 770.9 330.2 769.8 331.5 768.6 332.8 767.5 334.0 766.3 335.2 765.0 336.5 763.8 337.8 762.5 339.0 761.2 340.2 759.9 341.5 758.6 342.8 757.2 344.0 755.8 345.0 754.7 346.0 753.6 347.0 752.4 348.0 751.2 349.0 750.0 350.0 748.8 351.0 747.6 352.0 746.3 353.0 745.1 354.0 743.8 355.0 742.5 356.0 741.2 357.0 739.8 358.0 738.5 359.0 737.1 360.0 735.7 361.0 734.3 362.0 732.9 363.0 731.5 364.0 730.0 365.0 728.5 366.0 727.0 367.0 725.5 368.0 724.0 369.0 722.4 370.0 720.8 371.0 719.2 372.0 717.6 373.0 716.0 374.0 714.3 375.0 712.7 376.0 711.0 377.0 709.2 377.8 707.9 378.5 706.6 379.2 705.3 380.0 704.0 380.8 702.6 381.5 701.3 382.2 699.9 383.0 698.5 383.8 697.1 384.5 695.7 385.2 694.3 386.0 692.9 386.8 691.4 387.5 690.0 388.2 688.5 389.0 687.0 389.8 685.5 390.5 684.0 391.2 682.5 392.0 681.0 392.8 679.5 393.5 677.9 394.2 676.3 395.0 674.8 395.8 673.2 396.5 671.6 397.2 669.9 398.0 668.3 398.8 666.7 399.5 665.0 400.2 663.3 401.0 661.7 401.8 660.0 402.5 658.3 403.2 656.5 404.0 654.8 404.8 653.1 405.5 651.3 406.2 649.6 407.0 647.8 407.8 646.0 408.5 644.2 409.2 642.4 410.0 640.6 410.8 638.8 411.5 637.0 412.2 635.1 413.0 633.3 413.8 631.4 414.5 629.6 415.2 627.7 416.0 625.8 416.8 624.0 417.5 622.1 418.2 620.2 419.0 618.3 419.8 616.4 420.5 614.5 421.2 612.6 422.0 610.7 422.8 608.8 423.5 606.8 424.2 604.9 425.0 603.0 425.8 601.1 426.5 599.2 427.2 597.2 428.0 595.3 428.8 593.4 429.5 591.4 430.2 589.5 431.0 587.6 431.8 585.7 432.5 583.7 433.2 581.8 434.0 579.9 434.8 578.0 435.5 576.0 436.2 574.1 437.0 572.2 437.8 570.3 438.5 568.4 439.2 566.5 440.0 564.6 440.8 562.7 441.5 560.8 442.2 558.9 443.0 557.1 443.8 555.2 444.5 553.3 445.2 551.5 446.0 549.6 446.8 547.8 447.5 545.9 448.2 544.1 449.0 542.3 449.8 540.5 450.5 538.7 451.2 536.9 452.0 535.1 452.8 533.3 453.5 531.5 454.2 529.8 455.0 528.0 455.8 526.3 456.5 524.6 457.2 522.9 458.0 521.2 458.8 519.5 459.5 517.8 460.2 516.2 461.0 514.5 461.8 512.9 462.5 511.3 463.2 509.7 464.0 508.1 464.8 506.5 465.5 505.0 466.2 503.4 467.0 501.9 467.8 500.4 468.5 498.9 469.2 497.4 470.0 496.0 470.8 494.5 471.5 493.1 472.2 491.7 473.0 490.3 473.8 489.0 474.5 487.6 475.2 486.3 476.0 485.0 477.0 483.3 478.0 481.6 479.0 479.9 480.0 478.3 481.0 476.7 482.0 475.2 483.0 473.6 484.0 472.1 485.0 470.7 486.0 469.3 487.0 467.9 488.0 466.6 489.0 465.3 490.0 464.0 491.0 462.7 492.0 461.5 493.0 460.4 494.0 459.3 495.2 457.9 496.5 456.6 497.8 455.4 499.0 454.2 500.2 453.1 501.5 452.0 502.8 451.1 504.0 450.1 505.2 449.3 506.8 448.3 508.2 447.4 509.8 446.7 511.2 446.0 512.8 445.4 514.2 444.9 515.8 444.5 517.2 444.3 518.8 444.1 520.2 444.0 521.8 444.0 523.2 444.1 524.8 444.3 526.2 444.6 527.8 445.0 529.2 445.5 530.8 446.1 532.2 446.8 533.8 447.6 535.2 448.4 536.8 449.4 538.0 450.3 539.2 451.2 540.5 452.2 541.8 453.2 543.0 454.3 544.2 455.5 545.5 456.7 546.8 458.0 548.0 459.3 549.2 460.7 550.2 461.9 551.2 463.0 552.2 464.3 553.2 465.5 554.2 466.8 555.2 468.1 556.2 469.4 557.2 470.8 558.2 472.2 559.2 473.6 560.2 475.1 561.2 476.6 562.2 478.1 563.2 479.7 564.2 481.3 565.2 482.9 566.2 484.5 567.2 486.2 568.2 487.9 569.2 489.6 570.0 490.9 570.8 492.2 571.5 493.5 572.2 494.9 573.0 496.2 573.8 497.6 574.5 499.0 575.2 500.4 576.0 501.8 576.8 503.2 577.5 504.7 578.2 506.1 579.0 507.6 579.8 509.0 580.5 510.5 581.2 512.0 582.0 513.5 582.8 515.0 583.5 516.5 584.2 518.1 585.0 519.6 585.8 521.1 586.5 522.7 587.2 524.2 588.0 525.8 588.8 527.4 589.5 529.0 590.2 530.5 591.0 532.1 591.8 533.7 592.5 535.3 593.2 536.9 594.0 538.6 594.8 540.2 595.5 541.8 596.2 543.4 597.0 545.1 597.8 546.7 598.5 548.3 599.2 550.0 600.0 551.6 600.8 553.3 601.5 554.9 602.2 556.5 603.0 558.2 603.8 559.8 604.5 561.5 605.2 563.1 606.0 564.8 606.8 566.4 607.5 568.1 608.2 569.7 609.0 571.4 609.8 573.0 610.5 574.7 611.2 576.3 612.0 578.0 612.8 579.6 613.5 581.2 614.2 582.9 615.0 584.5 615.8 586.1 616.5 587.7 617.2 589.3 618.0 590.9 618.8 592.6 619.5 594.1 620.2 595.7 621.0 597.3 621.8 598.9 622.5 600.5 623.2 602.0 624.0 603.6 624.8 605.1 625.5 606.7 626.2 608.2 627.0 609.8 627.8 611.3 628.5 612.8 629.2 614.3 630.0 615.8 630.8 617.3 631.5 618.7 632.2 620.2 633.0 621.7 633.8 623.1 634.5 624.6 635.2 626.0 636.0 627.4 636.8 628.8 637.5 630.3 638.2 631.7 639.0 633.1 639.8 634.4 640.5 635.8 641.2 637.2 642.0 638.6 642.8 639.9 643.5 641.3 644.2 642.6 645.0 643.9 645.8 645.2 646.5 646.6 647.2 647.9 648.2 649.6 649.2 651.3 650.2 653.0 651.2 654.7 652.2 656.3 653.2 658.0 654.2 659.6 655.2 661.3 656.2 662.9 657.2 664.5 658.2 666.0 659.2 667.6 660.2 669.2 661.2 670.7 662.2 672.2 663.2 673.7 664.2 675.2 665.2 676.7 666.2 678.1 667.2 679.6 668.2 681.0 669.2 682.4 670.2 683.8 671.2 685.2 672.2 686.6 673.2 687.9 674.2 689.3 675.2 690.6 676.2 691.9 677.2 693.2 678.2 694.5 679.2 695.8 680.2 697.0 681.2 698.2 682.2 699.5 683.2 700.7 684.2 701.8 685.2 703.0 686.2 704.2 687.2 705.3 688.2 706.4 689.5 707.8 690.8 709.2 692.0 710.5 693.2 711.9 694.5 713.2 695.8 714.4 697.0 715.7 698.2 716.9 699.5 718.1 700.8 719.3 702.0 720.4 703.2 721.5 704.5 722.6 705.8 723.7 707.0 724.8 708.2 725.8 709.5 726.8 710.8 727.8 712.0 728.8 713.2 729.7 714.5 730.6 715.8 731.5 717.0 732.4 718.2 733.3 719.5 734.1 721.0 735.1 722.5 736.0 724.0 737.0 725.5 737.9 727.0 738.7 728.5 739.6 730.0 740.4 731.5 741.2 733.0 741.9 734.5 742.6 736.0 743.4 737.5 744.0 739.0 744.7 740.5 745.3 742.0 745.9 743.5 746.5 745.0 747.1 746.5 747.6 748.0 748.1 749.5 748.6 751.0 749.1 752.5 749.6 754.0 750.0 755.5 750.4 757.0 750.8 758.5 751.2 760.0 751.5 761.5 751.9 763.0 752.2 764.5 752.5 766.0 752.8 767.5 753.0 769.0 753.3 770.5 753.5 772.0 753.7 773.5 753.9 775.0 754.1 776.5 754.3 778.0 754.4 779.5 754.6 781.0 754.7 782.5 754.8 784.0 754.9 785.5 755.0 787.0 755.1 788.5 755.2 790.0 755.2 791.5 755.3 793.0 755.3 794.5 755.3 796.0 755.3 797.5 755.3 799.0 755.3 800.5 755.3 802.0 755.3 803.5 755.3 805.0 755.3 806.5 755.2 808.0 755.2 809.5 755.1 811.0 755.1 812.5 755.0 814.0 754.9 815.5 754.9 817.0 754.8 818.5 754.7 820.0 754.6 821.5 754.5 823.0 754.5 824.5 754.4 826.0 754.3 827.5 754.2 829.0 754.1 830.5 754.0 832.0 753.9 833.5 753.8 835.0 753.7 836.5 753.6 838.0 753.6 839.5 753.5 841.0 753.4 842.5 753.3 844.0 753.2 845.5 753.2 847.0 753.1 848.5 753.0 850.0 753.0 851.5 752.9 853.0 752.9 854.5 752.8 856.0 752.8 857.5 752.7 859.0 752.7 860.5 752.7 862.0 752.6 863.5 752.6 865.0 752.6 866.5 752.6 868.0 752.5 869.5 752.5 871.0 752.5 872.5 752.5 874.0 752.5 875.5 752.5 877.0 752.5 878.5 752.5 880.0 752.5 881.5 752.5 883.0 752.5 884.5 752.5 886.0 752.5 887.5 752.6 889.0 752.6 890.5 752.6 892.0 752.6 893.5 752.6 895.0 752.7 896.5 752.7 898.0 752.7 899.5 752.7 901.0 752.8 902.5 752.8 904.0 752.8 905.5 752.9 907.0 752.9 908.5 752.9 910.0 753.0 911.5 753.0 913.0 753.1 914.5 753.1 916.0 753.1 917.5 753.2 919.0 753.2 920.5 753.3 922.0 753.3 923.5 753.3 925.0 753.4 926.5 753.4 928.0 753.5 929.5 753.5 931.0 753.5 932.5 753.6 934.0 753.6 935.5 753.7 937.0 753.7 938.5 753.7 940.0 753.8 941.5 753.8 943.0 753.8 944.5 753.9 946.0 753.9 947.5 753.9 949.0 754.0 950.5 754.0 952.0 754.0 953.5 754.1 955.0 754.1 956.5 754.1 958.0 754.1 959.5 754.2 961.0 754.2 962.5 754.2 964.0 754.2 965.5 754.2 967.0 754.2 968.5 754.3 970.0 754.3 971.5 754.3 973.0 754.3 974.5 754.3 976.0 754.3 977.5 754.3 979.0 754.3 980.5 754.3 982.0 754.3 983.5 754.3 985.0 754.3 986.5 754.3 988.0 754.3 989.5 754.3 991.0 754.3 992.5 754.3 994.0 754.3 995.5 754.3 997.0 754.3 998.5 754.3 1000.0 754.2 1001.5 754.2 1003.0 754.2 1004.5 754.2 1006.0 754.2 1007.5 754.2 1009.0 754.2 1010.5 754.2 1012.0 754.1 1013.5 754.1 1015.0 754.1 1016.5 754.1 1018.0 754.1 1019.5 754.1 1021.0 754.0 1022.5 754.0 1024.0 754.0 1025.5 754.0 1027.0 754.0 1028.5 753.9 1030.0 753.9 1031.5 753.9 1033.0 753.9 1034.5 753.8 1036.0 753.8 1037.5 753.8 1039.0 753.8 1040.5 753.7 1042.0 753.7 1043.5 753.7 1045.0 753.7 1046.5 753.7 1048.0 753.6 1049.5 753.6 1051.0 753.6 1052.5 753.6 1054.0 753.5 1055.5 753.5 1057.0 753.5 1058.5 753.5 1060.0 753.4 1061.5 753.4 1063.0 753.4 1064.5 753.4 1066.0 753.3 1067.5 753.3 1069.0 753.3 1070.5 753.3 1072.0 753.3 1073.5 753.2 1075.0 753.2 1076.5 753.2 1078.0 753.2 1079.5 753.1 1081.0 753.1 1082.5 753.1 1084.0 753.1 1085.5 753.1 1087.0 753.1 1088.5 753.0 1090.0 753.0 1091.5 753.0 1093.0 753.0 1094.5 753.0 1096.0 753.0 1097.5 752.9 1099.0 752.9 1100.5 752.9 1102.0 752.9 1103.5 752.9 1105.0 752.9 1106.5 752.9 1108.0 752.9 1109.5 752.9 1111.0 752.9 1112.5 752.9 1114.0 752.9 1115.5 752.8 1117.0 752.8 1118.5 752.8 1120.0 752.8 1121.5 752.8 1123.0 752.8 1124.5 752.9 1126.0 752.9 1127.5 752.9 1129.0 752.9 1130.5 752.9 1132.0 752.9 1133.5 752.9 1135.0 752.9 1136.5 752.9 1138.0 752.9 1139.5 753.0 1141.0 753.0 1142.5 753.0 1144.0 753.0 1145.5 753.0 1147.0 753.1 1148.5 753.1 1150.0 753.1 1151.5 753.1 1153.0 753.2 1154.5 753.2 1156.0 753.2 1157.5 753.3 1159.0 753.3 1160.5 753.3 1162.0 753.4 1163.5 753.4 1165.0 753.5 1166.5 753.5 1168.0 753.6" stroke="#1464e4" stroke-width="2.9"/>
<path d="M101.5 808.6L103.0 808.7 104.5 808.8 106.0 808.9 107.5 809.0 109.0 809.1 110.5 809.2 112.0 809.2 113.5 809.3 115.0 809.4 116.5 809.5 118.0 809.6 119.5 809.7 121.0 809.7 122.5 809.8 124.0 809.9 125.5 809.9 127.0 810.0 128.5 810.1 130.0 810.1 131.5 810.2 133.0 810.2 134.5 810.3 136.0 810.4 137.5 810.4 139.0 810.5 140.5 810.5 142.0 810.5 143.5 810.6 145.0 810.6 146.5 810.7 148.0 810.7 149.5 810.7 151.0 810.7 152.5 810.8 154.0 810.8 155.5 810.8 157.0 810.8 158.5 810.9 160.0 810.9 161.5 810.9 163.0 810.9 164.5 810.9 166.0 810.9 167.5 810.9 169.0 810.9 170.5 810.9 172.0 810.9 173.5 810.9 175.0 810.9 176.5 810.9 178.0 810.9 179.5 810.9 181.0 810.9 182.5 810.9 184.0 810.9 185.5 810.8 187.0 810.8 188.5 810.8 190.0 810.8 191.5 810.7 193.0 810.7 194.5 810.7 196.0 810.7 197.5 810.6 199.0 810.6 200.5 810.6 202.0 810.5 203.5 810.5 205.0 810.4 206.5 810.4 208.0 810.3 209.5 810.3 211.0 810.2 212.5 810.2 214.0 810.1 215.5 810.1 217.0 810.0 218.5 810.0 220.0 809.9 221.5 809.8 223.0 809.8 224.5 809.7 226.0 809.6 227.5 809.6 229.0 809.5 230.5 809.4 232.0 809.4 233.5 809.3 235.0 809.2 236.5 809.1 238.0 809.1 239.5 809.0 241.0 808.9 242.5 808.8 244.0 808.7 245.5 808.6 247.0 808.5 248.5 808.5 250.0 808.4 251.5 808.3 253.0 808.2 254.5 808.1 256.0 808.0 257.5 807.9 259.0 807.8 260.5 807.7 262.0 807.6 263.5 807.5 265.0 807.4 266.5 807.3 268.0 807.2 269.5 807.0 271.0 806.9 272.5 806.8 274.0 806.7 275.5 806.6 277.0 806.5 278.5 806.4 280.0 806.2 281.5 806.1 283.0 806.0 284.5 805.9 286.0 805.8 287.5 805.6 289.0 805.5 290.5 805.4 292.0 805.3 293.5 805.1 295.0 805.0 296.5 804.9 298.0 804.7 299.5 804.6 301.0 804.5 302.5 804.3 304.0 804.2 305.5 804.0 307.0 803.9 308.5 803.8 310.0 803.6 311.5 803.5 313.0 803.3 314.5 803.2 316.0 803.1 317.5 802.9 319.0 802.8 320.5 802.6 322.0 802.5 323.5 802.3 325.0 802.2 326.5 802.0 328.0 801.9 329.5 801.7 331.0 801.5 332.5 801.4 334.0 801.2 335.5 801.1 337.0 800.9 338.5 800.8 340.0 800.6 341.5 800.4 343.0 800.3 344.5 800.1 346.0 800.0 347.5 799.8 349.0 799.6 350.5 799.5 352.0 799.3 353.5 799.1 355.0 799.0 356.5 798.8 358.0 798.6 359.5 798.5 361.0 798.3 362.5 798.1 364.0 797.9 365.5 797.8 367.0 797.6 368.5 797.4 370.0 797.2 371.5 797.0 373.0 796.9 374.5 796.7 376.0 796.5 377.5 796.3 379.0 796.1 380.5 795.9 382.0 795.7 383.5 795.6 385.0 795.4 386.5 795.2 388.0 795.0 389.5 794.8 391.0 794.6 392.5 794.4 394.0 794.2 395.5 794.0 397.0 793.8 398.5 793.5 400.0 793.3 401.5 793.1 403.0 792.9 404.5 792.7 406.0 792.5 407.5 792.3 409.0 792.0 410.5 791.8 412.0 791.6 413.5 791.4 415.0 791.1 416.5 790.9 418.0 790.7 419.5 790.4 421.0 790.2 422.5 790.0 424.0 789.7 425.5 789.5 427.0 789.2 428.5 789.0 430.0 788.7 431.5 788.5 433.0 788.2 434.5 788.0 436.0 787.7 437.5 787.5 439.0 787.2 440.5 786.9 442.0 786.7 443.5 786.4 445.0 786.1 446.5 785.8 448.0 785.6 449.5 785.3 451.0 785.0 452.5 784.7 454.0 784.4 455.5 784.1 457.0 783.8 458.5 783.5 460.0 783.2 461.5 782.9 463.0 782.6 464.5 782.3 466.0 782.0 467.5 781.7 469.0 781.4 470.5 781.1 472.0 780.7 473.5 780.4 475.0 780.1 476.5 779.7 478.0 779.4 479.5 779.1 481.0 778.7 482.5 778.4 484.0 778.0 485.5 777.7 487.0 777.3 488.5 777.0 490.0 776.6 491.5 776.2 493.0 775.9 494.5 775.5 496.0 775.1 497.5 774.8 499.0 774.4 500.5 774.0 502.0 773.6 503.5 773.2 505.0 772.8 506.5 772.4 508.0 772.0 509.5 771.6 511.0 771.2 512.5 770.8 514.0 770.4 515.5 769.9 517.0 769.5 518.5 769.1 520.0 768.7 521.5 768.2 523.0 767.8 524.5 767.3 526.0 766.9 527.5 766.4 529.0 766.0 530.5 765.5 532.0 765.1 533.5 764.6 535.0 764.1 536.5 763.7 538.0 763.2 539.5 762.7 541.0 762.2 542.5 761.7 544.0 761.2 545.5 760.7 547.0 760.2 548.5 759.7 550.0 759.2 551.5 758.7 553.0 758.1 554.5 757.6 556.0 757.1 557.5 756.6 559.0 756.0 560.5 755.5 562.0 754.9 563.5 754.4 565.0 753.8 566.5 753.2 568.0 752.7 569.5 752.1 571.0 751.5 572.5 751.0 574.0 750.4 575.5 749.8 577.0 749.2 578.5 748.6 580.0 748.0 581.5 747.4 583.0 746.8 584.5 746.1 586.0 745.5 587.5 744.9 589.0 744.3 590.5 743.6 592.0 743.0 593.5 742.3 595.0 741.7 596.5 741.0 598.0 740.3 599.5 739.7 601.0 739.0 602.5 738.3 604.0 737.6 605.5 736.9 607.0 736.2 608.5 735.5 610.0 734.8 611.5 734.1 613.0 733.3 614.5 732.6 616.0 731.8 617.5 731.0 619.0 730.2 620.5 729.4 622.0 728.6 623.5 727.7 625.0 726.9 626.5 726.0 628.0 725.1 629.5 724.1 631.0 723.2 632.5 722.2 634.0 721.2 635.2 720.4 636.5 719.5 637.8 718.7 639.0 717.8 640.2 716.8 641.5 715.9 642.8 714.9 644.0 714.0 645.2 713.0 646.5 712.0 647.8 710.9 649.0 709.9 650.2 708.8 651.5 707.7 652.8 706.6 654.0 705.4 655.2 704.3 656.5 703.1 657.8 701.9 659.0 700.7 660.2 699.5 661.5 698.3 662.8 697.2 664.0 696.0 665.2 694.8 666.5 693.6 667.8 692.4 669.0 691.3 670.2 690.2 671.5 689.0 672.8 687.9 674.0 686.9 675.2 685.8 676.5 684.8 677.8 683.8 679.0 682.8 680.2 681.9 681.5 681.0 682.8 680.2 684.2 679.2 685.8 678.3 687.2 677.5 688.8 676.8 690.2 676.1 691.8 675.5 693.2 675.0 694.8 674.5 696.2 674.1 697.8 673.8 699.2 673.5 700.8 673.3 702.2 673.2 703.8 673.1 705.2 673.0 706.8 673.0 708.2 673.1 709.8 673.2 711.2 673.4 712.8 673.6 714.2 673.8 715.8 674.1 717.2 674.4 718.8 674.8 720.2 675.2 721.8 675.6 723.2 676.1 724.8 676.6 726.2 677.1 727.8 677.6 729.2 678.2 730.8 678.8 732.2 679.4 733.8 680.0 735.2 680.6 736.8 681.3 738.2 682.0 739.8 682.6 741.2 683.3 742.8 684.0 744.2 684.7 745.8 685.4 747.2 686.0 748.8 686.7 750.2 687.4 751.8 688.1 753.2 688.8 754.8 689.4 756.2 690.1 757.8 690.7 759.2 691.4 760.8 692.0 762.2 692.6 763.8 693.3 765.2 693.9 766.8 694.5 768.2 695.1 769.8 695.7 771.2 696.3 772.8 696.9 774.2 697.5 775.8 698.1 777.2 698.6 778.8 699.2 780.2 699.8 781.8 700.3 783.2 700.9 784.8 701.4 786.2 702.0 787.8 702.5 789.2 703.0 790.8 703.6 792.2 704.1 793.8 704.6 795.2 705.1 796.8 705.6 798.2 706.1 799.8 706.6 801.2 707.1 802.8 707.6 804.2 708.1 805.8 708.5 807.2 709.0 808.8 709.5 810.2 709.9 811.8 710.4 813.2 710.8 814.8 711.3 816.2 711.7 817.8 712.2 819.2 712.6 820.8 713.0 822.2 713.5 823.8 713.9 825.2 714.3 826.8 714.7 828.2 715.1 829.8 715.5 831.2 715.9 832.8 716.3 834.2 716.7 835.8 717.1 837.2 717.4 838.8 717.8 840.2 718.2 841.8 718.6 843.2 718.9 844.8 719.3 846.2 719.6 847.8 720.0 849.2 720.3 850.8 720.7 852.2 721.0 853.8 721.3 855.2 721.7 856.8 722.0 858.2 722.3 859.8 722.6 861.2 723.0 862.8 723.3 864.2 723.6 865.8 723.9 867.2 724.2 868.8 724.5 870.2 724.8 871.8 725.1 873.2 725.4 874.8 725.6 876.2 725.9 877.8 726.2 879.2 726.5 880.8 726.7 882.2 727.0 883.8 727.3 885.2 727.5 886.8 727.8 888.2 728.1 889.8 728.3 891.2 728.6 892.8 728.8 894.2 729.0 895.8 729.3 897.2 729.5 898.8 729.8 900.2 730.0 901.8 730.2 903.2 730.4 904.8 730.7 906.2 730.9 907.8 731.1 909.2 731.3 910.8 731.5 912.2 731.7 913.8 732.0 915.2 732.2 916.8 732.4 918.2 732.6 919.8 732.8 921.2 733.0 922.8 733.1 924.2 733.3 925.8 733.5 927.2 733.7 928.8 733.9 930.2 734.1 931.8 734.2 933.2 734.4 934.8 734.6 936.2 734.8 937.8 734.9 939.2 735.1 940.8 735.3 942.2 735.4 943.8 735.6 945.2 735.8 946.8 735.9 948.2 736.1 949.8 736.2 951.2 736.4 952.8 736.5 954.2 736.7 955.8 736.8 957.2 737.0 958.8 737.1 960.2 737.2 961.8 737.4 963.2 737.5 964.8 737.6 966.2 737.8 967.8 737.9 969.2 738.0 970.8 738.1 972.2 738.3 973.8 738.4 975.2 738.5 976.8 738.6 978.2 738.8 979.8 738.9 981.2 739.0 982.8 739.1 984.2 739.2 985.8 739.3 987.2 739.4 988.8 739.5 990.2 739.6 991.8 739.7 993.2 739.8 994.8 739.9 996.2 740.0 997.8 740.1 999.2 740.2 1000.8 740.3 1002.2 740.4 1003.8 740.5 1005.2 740.6 1006.8 740.7 1008.2 740.8 1009.8 740.9 1011.2 741.0 1012.8 741.1 1014.2 741.1 1015.8 741.2 1017.2 741.3 1018.8 741.4 1020.2 741.5 1021.8 741.6 1023.2 741.6 1024.8 741.7 1026.2 741.8 1027.8 741.9 1029.2 741.9 1030.8 742.0 1032.2 742.1 1033.8 742.2 1035.2 742.2 1036.8 742.3 1038.2 742.4 1039.8 742.4 1041.2 742.5 1042.8 742.6 1044.2 742.6 1045.8 742.7 1047.2 742.8 1048.8 742.8 1050.2 742.9 1051.8 743.0 1053.2 743.0 1054.8 743.1 1056.2 743.2 1057.8 743.2 1059.2 743.3 1060.8 743.3 1062.2 743.4 1063.8 743.5 1065.2 743.5 1066.8 743.6 1068.2 743.6 1069.8 743.7 1071.2 743.8 1072.8 743.8 1074.2 743.9 1075.8 743.9 1077.2 744.0 1078.8 744.1 1080.2 744.1 1081.8 744.2 1083.2 744.2 1084.8 744.3 1086.2 744.3 1087.8 744.4 1089.2 744.5 1090.8 744.5 1092.2 744.6 1093.8 744.6 1095.2 744.7 1096.8 744.7 1098.2 744.8 1099.8 744.9 1101.2 744.9 1102.8 745.0 1104.2 745.0 1105.8 745.1 1107.2 745.1 1108.8 745.2 1110.2 745.3 1111.8 745.3 1113.2 745.4 1114.8 745.4 1116.2 745.5 1117.8 745.6 1119.2 745.6 1120.8 745.7 1122.2 745.7 1123.8 745.8 1125.2 745.9 1126.8 745.9 1128.2 746.0 1129.8 746.1 1131.2 746.1 1132.8 746.2 1134.2 746.3 1135.8 746.3 1137.2 746.4 1138.8 746.5 1140.2 746.5 1141.8 746.6 1143.2 746.7 1144.8 746.7 1146.2 746.8 1147.8 746.9 1149.2 747.0 1150.8 747.0 1152.2 747.1 1153.8 747.2 1155.2 747.3 1156.8 747.3 1158.2 747.4 1159.8 747.5 1161.2 747.6 1162.8 747.7 1164.2 747.8 1165.8 747.8 1167.2 747.9 1168.0 748.0" stroke="#24a058" stroke-width="2.9"/>
<path d="M101.5 806.9L103.0 807.0 104.5 807.2 106.0 807.4 107.5 807.6 109.0 807.7 110.5 807.9 112.0 808.0 113.5 808.2 115.0 808.3 116.5 808.5 118.0 808.6 119.5 808.8 121.0 808.9 122.5 809.0 124.0 809.2 125.5 809.3 127.0 809.4 128.5 809.5 130.0 809.6 131.5 809.8 133.0 809.9 134.5 810.0 136.0 810.1 137.5 810.2 139.0 810.3 140.5 810.4 142.0 810.5 143.5 810.5 145.0 810.6 146.5 810.7 148.0 810.8 149.5 810.9 151.0 810.9 152.5 811.0 154.0 811.1 155.5 811.1 157.0 811.2 158.5 811.2 160.0 811.3 161.5 811.3 163.0 811.4 164.5 811.4 166.0 811.5 167.5 811.5 169.0 811.5 170.5 811.6 172.0 811.6 173.5 811.6 175.0 811.6 176.5 811.7 178.0 811.7 179.5 811.7 181.0 811.7 182.5 811.7 184.0 811.7 185.5 811.7 187.0 811.7 188.5 811.7 190.0 811.7 191.5 811.7 193.0 811.7 194.5 811.7 196.0 811.7 197.5 811.6 199.0 811.6 200.5 811.6 202.0 811.6 203.5 811.5 205.0 811.5 206.5 811.5 208.0 811.4 209.5 811.4 211.0 811.4 212.5 811.3 214.0 811.3 215.5 811.2 217.0 811.2 218.5 811.1 220.0 811.1 221.5 811.0 223.0 810.9 224.5 810.9 226.0 810.8 227.5 810.7 229.0 810.7 230.5 810.6 232.0 810.5 233.5 810.5 235.0 810.4 236.5 810.3 238.0 810.2 239.5 810.1 241.0 810.0 242.5 809.9 244.0 809.8 245.5 809.8 247.0 809.7 248.5 809.6 250.0 809.5 251.5 809.4 253.0 809.2 254.5 809.1 256.0 809.0 257.5 808.9 259.0 808.8 260.5 808.7 262.0 808.6 263.5 808.5 265.0 808.3 266.5 808.2 268.0 808.1 269.5 808.0 271.0 807.8 272.5 807.7 274.0 807.6 275.5 807.4 277.0 807.3 278.5 807.2 280.0 807.0 281.5 806.9 283.0 806.7 284.5 806.6 286.0 806.4 287.5 806.3 289.0 806.1 290.5 806.0 292.0 805.8 293.5 805.7 295.0 805.5 296.5 805.4 298.0 805.2 299.5 805.0 301.0 804.9 302.5 804.7 304.0 804.5 305.5 804.4 307.0 804.2 308.5 804.0 310.0 803.9 311.5 803.7 313.0 803.5 314.5 803.3 316.0 803.2 317.5 803.0 319.0 802.8 320.5 802.6 322.0 802.4 323.5 802.3 325.0 802.1 326.5 801.9 328.0 801.7 329.5 801.5 331.0 801.3 332.5 801.1 334.0 800.9 335.5 800.7 337.0 800.5 338.5 800.3 340.0 800.1 341.5 799.9 343.0 799.7 344.5 799.5 346.0 799.3 347.5 799.1 349.0 798.9 350.5 798.7 352.0 798.5 353.5 798.3 355.0 798.1 356.5 797.9 358.0 797.7 359.5 797.5 361.0 797.2 362.5 797.0 364.0 796.8 365.5 796.6 367.0 796.4 368.5 796.2 370.0 795.9 371.5 795.7 373.0 795.5 374.5 795.3 376.0 795.1 377.5 794.8 379.0 794.6 380.5 794.4 382.0 794.2 383.5 793.9 385.0 793.7 386.5 793.5 388.0 793.3 389.5 793.0 391.0 792.8 392.5 792.6 394.0 792.4 395.5 792.1 397.0 791.9 398.5 791.7 400.0 791.4 401.5 791.2 403.0 791.0 404.5 790.7 406.0 790.5 407.5 790.3 409.0 790.0 410.5 789.8 412.0 789.6 413.5 789.3 415.0 789.1 416.5 788.8 418.0 788.6 419.5 788.4 421.0 788.1 422.5 787.9 424.0 787.7 425.5 787.4 427.0 787.2 428.5 786.9 430.0 786.7 431.5 786.5 433.0 786.2 434.5 786.0 436.0 785.7 437.5 785.5 439.0 785.3 440.5 785.0 442.0 784.8 443.5 784.5 445.0 784.3 446.5 784.1 448.0 783.8 449.5 783.6 451.0 783.3 452.5 783.1 454.0 782.9 455.5 782.6 457.0 782.4 458.5 782.1 460.0 781.9 461.5 781.7 463.0 781.4 464.5 781.2 466.0 780.9 467.5 780.7 469.0 780.5 470.5 780.2 472.0 780.0 473.5 779.7 475.0 779.5 476.5 779.3 478.0 779.0 479.5 778.8 481.0 778.6 482.5 778.3 484.0 778.1 485.5 777.8 487.0 777.6 488.5 777.4 490.0 777.1 491.5 776.9 493.0 776.7 494.5 776.4 496.0 776.2 497.5 776.0 499.0 775.7 500.5 775.5 502.0 775.3 503.5 775.0 505.0 774.8 506.5 774.6 508.0 774.4 509.5 774.1 511.0 773.9 512.5 773.7 514.0 773.4 515.5 773.2 517.0 773.0 518.5 772.8 520.0 772.5 521.5 772.3 523.0 772.1 524.5 771.9 526.0 771.7 527.5 771.4 529.0 771.2 530.5 771.0 532.0 770.8 533.5 770.6 535.0 770.3 536.5 770.1 538.0 769.9 539.5 769.7 541.0 769.5 542.5 769.3 544.0 769.1 545.5 768.9 547.0 768.7 548.5 768.4 550.0 768.2 551.5 768.0 553.0 767.8 554.5 767.6 556.0 767.4 557.5 767.2 559.0 767.0 560.5 766.8 562.0 766.6 563.5 766.4 565.0 766.2 566.5 766.0 568.0 765.9 569.5 765.7 571.0 765.5 572.5 765.3 574.0 765.1 575.5 764.9 577.0 764.7 578.5 764.5 580.0 764.4 581.5 764.2 583.0 764.0 584.5 763.8 586.0 763.6 587.5 763.5 589.0 763.3 590.5 763.1 592.0 763.0 593.5 762.8 595.0 762.6 596.5 762.5 598.0 762.3 599.5 762.1 601.0 762.0 602.5 761.8 604.0 761.6 605.5 761.5 607.0 761.3 608.5 761.2 610.0 761.0 611.5 760.9 613.0 760.7 614.5 760.6 616.0 760.4 617.5 760.3 619.0 760.2 620.5 760.0 622.0 759.9 623.5 759.7 625.0 759.6 626.5 759.4 628.0 759.3 629.5 759.2 631.0 759.0 632.5 758.9 634.0 758.7 635.5 758.6 637.0 758.4 638.5 758.2 640.0 758.1 641.5 757.9 643.0 757.7 644.5 757.5 646.0 757.3 647.5 757.1 649.0 756.9 650.5 756.7 652.0 756.5 653.5 756.3 655.0 756.0 656.5 755.8 658.0 755.5 659.5 755.2 661.0 754.9 662.5 754.6 664.0 754.3 665.5 754.0 667.0 753.7 668.5 753.3 670.0 753.0 671.5 752.6 673.0 752.2 674.5 751.8 676.0 751.4 677.5 750.9 679.0 750.5 680.5 750.0 682.0 749.5 683.5 749.0 685.0 748.5 686.5 747.9 688.0 747.4 689.5 746.8 691.0 746.2 692.5 745.5 694.0 744.9 695.5 744.2 697.0 743.6 698.5 742.9 700.0 742.1 701.5 741.4 703.0 740.6 704.5 739.9 706.0 739.1 707.5 738.3 709.0 737.4 710.5 736.6 712.0 735.7 713.5 734.8 715.0 733.9 716.5 733.0 718.0 732.1 719.5 731.1 721.0 730.2 722.5 729.2 723.8 728.4 725.0 727.5 726.2 726.7 727.5 725.8 728.8 724.9 730.0 724.0 731.2 723.1 732.5 722.2 733.8 721.3 735.0 720.3 736.2 719.4 737.5 718.4 738.8 717.5 740.0 716.5 741.2 715.5 742.5 714.5 743.8 713.5 745.0 712.5 746.2 711.6 747.5 710.6 748.8 709.6 750.0 708.6 751.2 707.6 752.5 706.7 753.8 705.7 755.0 704.8 756.2 703.9 757.5 703.0 758.8 702.1 760.0 701.2 761.2 700.4 762.8 699.4 764.2 698.5 765.8 697.6 767.2 696.8 768.8 696.0 770.2 695.2 771.8 694.5 773.2 693.9 774.8 693.4 776.2 692.9 777.8 692.4 779.2 692.1 780.8 691.7 782.2 691.5 783.8 691.3 785.2 691.2 786.8 691.1 788.2 691.1 789.8 691.1 791.2 691.2 792.8 691.3 794.2 691.5 795.8 691.7 797.2 692.0 798.8 692.3 800.2 692.6 801.8 693.0 803.2 693.4 804.8 693.9 806.2 694.4 807.8 694.9 809.2 695.5 810.8 696.1 812.2 696.7 813.8 697.3 815.2 698.0 816.8 698.7 818.2 699.4 819.8 700.2 821.2 700.9 822.8 701.7 824.2 702.5 825.8 703.3 827.2 704.1 828.8 704.9 830.2 705.8 831.8 706.6 833.2 707.5 834.8 708.3 836.2 709.2 837.8 710.1 839.2 710.9 840.8 711.8 842.2 712.7 843.8 713.5 845.2 714.4 846.8 715.2 848.2 716.1 849.8 716.9 851.2 717.7 852.8 718.5 854.2 719.3 855.8 720.0 857.2 720.8 858.8 721.6 860.2 722.3 861.8 723.0 863.2 723.7 864.8 724.4 866.2 725.1 867.8 725.8 869.2 726.5 870.8 727.1 872.2 727.8 873.8 728.4 875.2 729.0 876.8 729.6 878.2 730.2 879.8 730.8 881.2 731.4 882.8 732.0 884.2 732.5 885.8 733.1 887.2 733.6 888.8 734.2 890.2 734.7 891.8 735.2 893.2 735.7 894.8 736.2 896.2 736.7 897.8 737.1 899.2 737.6 900.8 738.0 902.2 738.5 903.8 738.9 905.2 739.3 906.8 739.8 908.2 740.2 909.8 740.6 911.2 741.0 912.8 741.3 914.2 741.7 915.8 742.1 917.2 742.4 918.8 742.8 920.2 743.1 921.8 743.5 923.2 743.8 924.8 744.1 926.2 744.4 927.8 744.7 929.2 745.0 930.8 745.3 932.2 745.6 933.8 745.8 935.2 746.1 936.8 746.4 938.2 746.6 939.8 746.9 941.2 747.1 942.8 747.3 944.2 747.6 945.8 747.8 947.2 748.0 948.8 748.2 950.2 748.4 951.8 748.6 953.2 748.8 954.8 749.0 956.2 749.2 957.8 749.3 959.2 749.5 960.8 749.6 962.2 749.8 963.8 749.9 965.2 750.1 966.8 750.2 968.2 750.4 969.8 750.5 971.2 750.6 972.8 750.7 974.2 750.8 975.8 750.9 977.2 751.0 978.8 751.1 980.2 751.2 981.8 751.3 983.2 751.4 984.8 751.5 986.2 751.6 987.8 751.6 989.2 751.7 990.8 751.8 992.2 751.8 993.8 751.9 995.2 751.9 996.8 752.0 998.2 752.0 999.8 752.1 1001.2 752.1 1002.8 752.1 1004.2 752.2 1005.8 752.2 1007.2 752.2 1008.8 752.2 1010.2 752.2 1011.8 752.3 1013.2 752.3 1014.8 752.3 1016.2 752.3 1017.8 752.3 1019.2 752.3 1020.8 752.3 1022.2 752.3 1023.8 752.3 1025.2 752.3 1026.8 752.3 1028.2 752.3 1029.8 752.2 1031.2 752.2 1032.8 752.2 1034.2 752.2 1035.8 752.2 1037.2 752.1 1038.8 752.1 1040.2 752.1 1041.8 752.1 1043.2 752.0 1044.8 752.0 1046.2 752.0 1047.8 751.9 1049.2 751.9 1050.8 751.9 1052.2 751.9 1053.8 751.8 1055.2 751.8 1056.8 751.7 1058.2 751.7 1059.8 751.7 1061.2 751.6 1062.8 751.6 1064.2 751.6 1065.8 751.5 1067.2 751.5 1068.8 751.5 1070.2 751.4 1071.8 751.4 1073.2 751.3 1074.8 751.3 1076.2 751.3 1077.8 751.2 1079.2 751.2 1080.8 751.2 1082.2 751.1 1083.8 751.1 1085.2 751.1 1086.8 751.1 1088.2 751.0 1089.8 751.0 1091.2 751.0 1092.8 751.0 1094.2 750.9 1095.8 750.9 1097.2 750.9 1098.8 750.9 1100.2 750.9 1101.8 750.9 1103.2 750.8 1104.8 750.8 1106.2 750.8 1107.8 750.8 1109.2 750.8 1110.8 750.8 1112.2 750.8 1113.8 750.8 1115.2 750.8 1116.8 750.9 1118.2 750.9 1119.8 750.9 1121.2 750.9 1122.8 750.9 1124.2 751.0 1125.8 751.0 1127.2 751.0 1128.8 751.1 1130.2 751.1 1131.8 751.1 1133.2 751.2 1134.8 751.2 1136.2 751.3 1137.8 751.3 1139.2 751.4 1140.8 751.5 1142.2 751.5 1143.8 751.6 1145.2 751.7 1146.8 751.8 1148.2 751.9 1149.8 752.0 1151.2 752.1 1152.8 752.2 1154.2 752.3 1155.8 752.4 1157.2 752.5 1158.8 752.6 1160.2 752.7 1161.8 752.9 1163.2 753.0 1164.8 753.1 1166.2 753.3 1167.8 753.4 1168.0 753.5" stroke="#ad6de6" stroke-width="2.9"/>
</g>
<path d="M208.15 895.5V887.0 M314.80 895.5V879.5 M421.45 895.5V887.0 M528.10 895.5V879.5 M634.75 895.5V887.0 M741.40 895.5V879.5 M848.05 895.5V887.0 M954.70 895.5V879.5 M1061.35 895.5V887.0" stroke="#000" stroke-width="3.4" fill="none"/>
<rect x="101.5" y="24.5" width="1066.5" height="871.0" fill="none" stroke="#000" stroke-width="3.4"/>
</g>
<g id="pb">
<clipPath id="cb"><rect x="1358" y="18.5" width="1060" height="875.5"/></clipPath>
<g clip-path="url(#cb)" fill="none" stroke-linejoin="round" stroke-linecap="round">
<path d="M1358.0 697.5L1359.5 697.3 1361.0 697.1 1362.5 696.8 1364.0 696.6 1365.5 696.3 1367.0 696.0 1368.5 695.7 1370.0 695.4 1371.5 695.1 1373.0 694.8 1374.5 694.4 1376.0 694.1 1377.5 693.8 1379.0 693.5 1380.5 693.2 1382.0 692.9 1383.5 692.6 1385.0 692.3 1386.5 692.1 1388.0 691.9 1389.5 691.7 1391.0 691.5 1392.5 691.3 1394.0 691.1 1395.5 691.0 1397.0 690.8 1398.5 690.7 1400.0 690.6 1401.5 690.5 1403.0 690.4 1404.5 690.3 1406.0 690.2 1407.5 690.1 1409.0 690.0 1410.5 689.9 1412.0 689.8 1413.5 689.6 1415.0 689.5 1416.5 689.3 1418.0 689.2 1419.5 689.0 1421.0 688.8 1422.5 688.6 1424.0 688.3 1425.5 688.0 1427.0 687.6 1428.5 687.2 1430.0 686.7 1431.5 686.0 1433.0 685.3 1434.5 684.6 1436.0 683.7 1437.5 682.9 1439.0 682.0 1440.5 681.2 1442.0 680.3 1443.5 679.5 1445.0 678.8 1446.5 678.1 1448.0 677.5 1449.5 676.9 1451.0 676.3 1452.5 675.7 1454.0 675.2 1455.5 674.7 1457.0 674.3 1458.5 673.8 1460.0 673.3 1461.5 672.9 1463.0 672.4 1464.5 671.9 1466.0 671.4 1467.5 670.9 1469.0 670.4 1470.5 669.8 1472.0 669.2 1473.5 668.5 1475.0 667.8 1476.5 667.1 1478.0 666.3 1479.5 665.5 1481.0 664.6 1482.5 663.7 1484.0 662.8 1485.2 661.9 1486.5 661.1 1487.8 660.2 1489.0 659.3 1490.2 658.3 1491.5 657.3 1492.8 656.3 1494.0 655.2 1495.2 654.2 1496.5 653.0 1497.8 651.9 1499.0 650.7 1500.2 649.5 1501.5 648.2 1502.8 646.9 1504.0 645.6 1505.2 644.3 1506.5 642.9 1507.5 641.8 1508.5 640.6 1509.5 639.4 1510.5 638.2 1511.5 637.0 1512.5 635.8 1513.5 634.5 1514.5 633.2 1515.5 631.9 1516.5 630.5 1517.5 629.2 1518.5 627.8 1519.5 626.4 1520.5 625.0 1521.5 623.5 1522.5 622.1 1523.5 620.6 1524.5 619.1 1525.5 617.5 1526.5 615.9 1527.5 614.4 1528.5 612.7 1529.5 611.1 1530.5 609.4 1531.5 607.7 1532.2 606.4 1533.0 605.1 1533.8 603.7 1534.5 602.3 1535.2 600.9 1536.0 599.4 1536.8 597.9 1537.5 596.4 1538.2 594.8 1539.0 593.2 1539.8 591.5 1540.5 589.8 1541.2 588.0 1542.0 586.2 1542.8 584.3 1543.5 582.3 1544.2 580.3 1545.0 578.3 1545.5 576.8 1546.0 575.4 1546.5 573.9 1547.0 572.4 1547.5 570.9 1548.0 569.3 1548.5 567.7 1549.0 566.0 1549.5 564.4 1550.0 562.6 1550.5 560.9 1551.0 559.2 1551.5 557.4 1552.0 555.6 1552.5 553.7 1553.0 551.9 1553.5 550.0 1554.0 548.1 1554.5 546.1 1555.0 544.2 1555.5 542.2 1556.0 540.3 1556.5 538.3 1557.0 536.2 1557.5 534.2 1558.0 532.2 1558.5 530.1 1559.0 528.1 1559.5 526.0 1560.0 523.9 1560.5 521.8 1561.0 519.7 1561.5 517.6 1562.0 515.5 1562.5 513.4 1563.0 511.3 1563.5 509.2 1564.0 507.1 1564.5 505.0 1565.0 502.9 1565.5 500.8 1566.0 498.7 1566.5 496.6 1567.0 494.5 1567.5 492.4 1568.0 490.3 1568.5 488.1 1569.0 486.0 1569.5 483.8 1570.0 481.6 1570.5 479.3 1571.0 477.0 1571.5 474.7 1572.0 472.3 1572.5 469.8 1573.0 467.3 1573.5 464.8 1574.0 462.1 1574.5 459.5 1575.0 456.7 1575.5 453.9 1576.0 451.1 1576.5 448.3 1577.0 445.4 1577.5 442.4 1578.0 439.5 1578.2 438.0 1578.5 436.5 1578.8 435.0 1579.0 433.5 1579.2 432.0 1579.5 430.5 1579.8 429.0 1580.0 427.5 1580.2 426.0 1580.5 424.4 1580.8 422.9 1581.0 421.4 1581.2 419.9 1581.5 418.4 1581.8 416.9 1582.0 415.3 1582.2 413.8 1582.5 412.3 1582.8 410.8 1583.0 409.3 1583.2 407.8 1583.5 406.3 1583.8 404.8 1584.0 403.4 1584.2 401.9 1584.8 398.9 1585.2 396.0 1585.8 393.1 1586.2 390.2 1586.8 387.3 1587.2 384.4 1587.8 381.5 1588.2 378.6 1588.8 375.8 1589.2 372.9 1589.8 370.1 1590.2 367.3 1590.8 364.4 1591.2 361.6 1591.8 358.8 1592.2 356.0 1592.8 353.2 1593.2 350.4 1593.8 347.6 1594.2 344.8 1594.8 342.0 1595.2 339.2 1595.8 336.5 1596.2 333.7 1596.8 330.9 1597.2 328.1 1597.8 325.3 1598.2 322.5 1598.8 319.7 1599.2 316.9 1599.8 314.0 1600.2 311.2 1600.8 308.4 1601.2 305.6 1601.8 302.7 1602.2 299.9 1602.8 297.0 1603.2 294.1 1603.8 291.2 1604.2 288.4 1604.8 285.4 1605.2 282.5 1605.8 279.6 1606.2 276.6 1606.5 275.2 1606.8 273.7 1607.0 272.2 1607.2 270.7 1607.5 269.2 1607.8 267.7 1608.0 266.2 1608.2 264.7 1608.5 263.2 1608.8 261.7 1609.0 260.1 1609.2 258.6 1609.5 257.1 1609.8 255.6 1610.0 254.0 1610.2 252.5 1610.5 251.0 1610.8 249.4 1611.0 247.9 1611.2 246.3 1611.5 244.8 1611.8 243.3 1612.0 241.7 1612.2 240.2 1612.5 238.6 1612.8 237.1 1613.0 235.5 1613.2 234.0 1613.5 232.4 1613.8 230.9 1614.0 229.4 1614.2 227.8 1614.5 226.3 1614.8 224.8 1615.0 223.2 1615.2 221.7 1615.5 220.2 1615.8 218.6 1616.0 217.1 1616.2 215.6 1616.5 214.1 1616.8 212.6 1617.0 211.1 1617.2 209.6 1617.5 208.1 1617.8 206.6 1618.0 205.1 1618.2 203.6 1618.8 200.7 1619.2 197.7 1619.8 194.9 1620.2 192.0 1620.8 189.2 1621.2 186.4 1621.8 183.6 1622.2 180.8 1622.8 178.1 1623.2 175.5 1623.8 172.8 1624.2 170.2 1624.8 167.6 1625.2 165.1 1625.8 162.6 1626.2 160.1 1626.8 157.6 1627.2 155.2 1627.8 152.8 1628.2 150.5 1628.8 148.1 1629.2 145.9 1629.8 143.6 1630.2 141.4 1630.8 139.2 1631.2 137.0 1631.8 134.9 1632.2 132.8 1632.8 130.7 1633.2 128.7 1633.8 126.7 1634.2 124.7 1634.8 122.8 1635.2 120.9 1635.8 119.0 1636.2 117.2 1636.8 115.4 1637.2 113.7 1637.8 112.0 1638.2 110.4 1638.8 108.8 1639.2 107.2 1639.8 105.7 1640.2 104.3 1641.0 102.2 1641.8 100.3 1642.5 98.5 1643.2 96.8 1644.0 95.3 1644.8 93.8 1645.5 92.5 1646.5 90.9 1647.5 89.4 1648.5 88.2 1649.8 86.8 1651.0 85.7 1652.2 84.7 1653.8 83.8 1655.2 83.1 1656.8 82.6 1658.2 82.3 1659.8 82.2 1661.2 82.3 1662.8 82.5 1664.2 82.9 1665.8 83.5 1667.2 84.2 1668.8 85.1 1670.0 86.0 1671.2 86.9 1672.5 87.9 1673.8 89.1 1675.0 90.3 1676.2 91.6 1677.5 93.0 1678.5 94.2 1679.5 95.4 1680.5 96.6 1681.5 98.0 1682.5 99.3 1683.5 100.7 1684.5 102.1 1685.5 103.6 1686.5 105.2 1687.5 106.7 1688.5 108.4 1689.5 110.1 1690.2 111.4 1691.0 112.7 1691.8 114.1 1692.5 115.5 1693.2 117.0 1694.0 118.4 1694.8 120.0 1695.5 121.5 1696.2 123.2 1697.0 124.8 1697.8 126.5 1698.5 128.3 1699.2 130.1 1700.0 131.9 1700.8 133.8 1701.5 135.7 1702.2 137.7 1703.0 139.8 1703.8 141.9 1704.2 143.3 1704.8 144.8 1705.2 146.3 1705.8 147.8 1706.2 149.3 1706.8 150.9 1707.2 152.4 1707.8 154.0 1708.2 155.7 1708.8 157.3 1709.2 159.0 1709.8 160.6 1710.2 162.3 1710.8 164.0 1711.2 165.8 1711.8 167.5 1712.2 169.2 1712.8 171.0 1713.2 172.7 1713.8 174.5 1714.2 176.3 1714.8 178.1 1715.2 179.8 1715.8 181.6 1716.2 183.4 1716.8 185.2 1717.2 187.0 1717.8 188.8 1718.2 190.5 1718.8 192.3 1719.2 194.1 1719.8 195.8 1720.2 197.6 1720.8 199.3 1721.2 201.1 1721.8 202.8 1722.2 204.5 1722.8 206.2 1723.2 207.9 1723.8 209.6 1724.2 211.3 1724.8 213.0 1725.2 214.6 1725.8 216.3 1726.2 217.9 1726.8 219.5 1727.2 221.2 1727.8 222.8 1728.2 224.4 1728.8 226.0 1729.2 227.6 1729.8 229.2 1730.2 230.8 1730.8 232.3 1731.2 233.9 1731.8 235.5 1732.2 237.0 1732.8 238.6 1733.2 240.1 1733.8 241.7 1734.2 243.2 1734.8 244.7 1735.2 246.2 1735.8 247.7 1736.2 249.3 1736.8 250.8 1737.2 252.3 1737.8 253.8 1738.2 255.2 1738.8 256.7 1739.2 258.2 1739.8 259.7 1740.2 261.2 1740.8 262.6 1741.2 264.1 1741.8 265.6 1742.2 267.0 1742.8 268.5 1743.2 269.9 1743.8 271.4 1744.2 272.8 1744.8 274.2 1745.2 275.7 1745.8 277.1 1746.2 278.6 1746.8 280.0 1747.2 281.4 1747.8 282.9 1748.2 284.3 1748.8 285.7 1749.2 287.1 1749.8 288.6 1750.2 290.0 1750.8 291.4 1751.2 292.8 1751.8 294.3 1752.2 295.7 1752.8 297.1 1753.2 298.5 1753.8 299.9 1754.2 301.4 1754.8 302.8 1755.2 304.2 1755.8 305.6 1756.2 307.1 1756.8 308.5 1757.2 309.9 1757.8 311.3 1758.2 312.8 1758.8 314.2 1759.2 315.6 1759.8 317.1 1760.2 318.5 1760.8 320.0 1761.2 321.4 1761.8 322.8 1762.2 324.3 1762.8 325.7 1763.2 327.2 1763.8 328.7 1764.2 330.1 1764.8 331.6 1765.2 333.0 1765.8 334.5 1766.2 336.0 1766.8 337.5 1767.2 339.0 1767.8 340.4 1768.2 341.9 1768.8 343.4 1769.2 344.9 1769.8 346.5 1770.2 348.0 1770.8 349.5 1771.2 351.0 1771.8 352.5 1772.2 354.1 1772.8 355.6 1773.2 357.1 1773.8 358.7 1774.2 360.2 1774.8 361.8 1775.2 363.3 1775.8 364.8 1776.2 366.3 1776.8 367.9 1777.2 369.4 1777.8 370.9 1778.2 372.4 1778.8 373.9 1779.2 375.4 1779.8 376.9 1780.2 378.4 1780.8 379.8 1781.2 381.3 1781.8 382.7 1782.2 384.2 1782.8 385.6 1783.5 387.7 1784.2 389.8 1785.0 391.8 1785.8 393.9 1786.5 395.9 1787.2 397.9 1788.0 399.8 1788.8 401.8 1789.5 403.7 1790.2 405.6 1791.0 407.5 1791.8 409.3 1792.5 411.1 1793.2 413.0 1794.0 414.7 1794.8 416.5 1795.5 418.2 1796.2 420.0 1797.0 421.7 1797.8 423.3 1798.5 425.0 1799.2 426.6 1800.0 428.3 1800.8 429.8 1801.5 431.4 1802.2 433.0 1803.0 434.5 1803.8 436.0 1804.5 437.5 1805.2 439.0 1806.0 440.5 1806.8 441.9 1807.5 443.3 1808.2 444.8 1809.0 446.1 1809.8 447.5 1810.5 448.9 1811.2 450.2 1812.0 451.6 1812.8 452.9 1813.5 454.2 1814.5 455.9 1815.5 457.6 1816.5 459.3 1817.5 461.0 1818.5 462.7 1819.5 464.3 1820.5 466.0 1821.5 467.7 1822.5 469.3 1823.5 471.0 1824.5 472.7 1825.5 474.4 1826.5 476.0 1827.5 477.7 1828.5 479.5 1829.5 481.2 1830.2 482.5 1831.0 483.8 1831.8 485.2 1832.5 486.5 1833.2 487.9 1834.0 489.3 1834.8 490.7 1835.5 492.1 1836.2 493.5 1837.0 494.9 1837.8 496.4 1838.5 497.9 1839.2 499.4 1840.0 500.8 1840.8 502.3 1841.5 503.8 1842.2 505.3 1843.0 506.8 1843.8 508.3 1844.5 509.7 1845.2 511.2 1846.0 512.6 1846.8 514.0 1847.5 515.4 1848.2 516.8 1849.0 518.1 1849.8 519.5 1850.8 521.2 1851.8 522.8 1852.8 524.4 1853.8 525.9 1854.8 527.4 1855.8 528.9 1856.8 530.2 1857.8 531.6 1858.8 532.9 1859.8 534.2 1860.8 535.4 1861.8 536.6 1862.8 537.7 1863.8 538.9 1865.0 540.2 1866.2 541.5 1867.5 542.8 1868.8 544.1 1870.0 545.3 1871.2 546.5 1872.5 547.6 1873.8 548.8 1875.0 549.9 1876.2 551.0 1877.5 552.1 1878.8 553.2 1880.0 554.3 1881.2 555.4 1882.5 556.5 1883.8 557.5 1885.0 558.6 1886.2 559.6 1887.5 560.6 1888.8 561.6 1890.0 562.6 1891.2 563.6 1892.5 564.6 1893.8 565.5 1895.0 566.5 1896.2 567.4 1897.5 568.3 1898.8 569.2 1900.0 570.1 1901.2 571.0 1902.5 571.9 1903.8 572.7 1905.0 573.6 1906.5 574.6 1908.0 575.5 1909.5 576.5 1911.0 577.4 1912.5 578.3 1914.0 579.2 1915.5 580.0 1917.0 580.9 1918.5 581.7 1920.0 582.4 1921.5 583.2 1923.0 584.0 1924.5 584.7 1926.0 585.4 1927.5 586.0 1929.0 586.7 1930.5 587.3 1932.0 587.9 1933.5 588.5 1935.0 589.1 1936.5 589.6 1938.0 590.1 1939.5 590.6 1941.0 591.1 1942.5 591.6 1944.0 592.1 1945.5 592.5 1947.0 593.0 1948.5 593.4 1950.0 593.8 1951.5 594.2 1953.0 594.6 1954.5 595.0 1956.0 595.4 1957.5 595.8 1959.0 596.1 1960.5 596.5 1962.0 596.8 1963.5 597.2 1965.0 597.6 1966.5 597.9 1968.0 598.3 1969.5 598.6 1971.0 599.0 1972.5 599.3 1974.0 599.7 1975.5 600.0 1977.0 600.4 1978.5 600.8 1980.0 601.1 1981.5 601.5 1983.0 601.9 1984.5 602.3 1986.0 602.6 1987.5 603.0 1989.0 603.4 1990.5 603.8 1992.0 604.2 1993.5 604.6 1995.0 605.0 1996.5 605.4 1998.0 605.8 1999.5 606.2 2001.0 606.6 2002.5 606.9 2004.0 607.3 2005.5 607.7 2007.0 608.1 2008.5 608.5 2010.0 608.9 2011.5 609.3 2013.0 609.7 2014.5 610.1 2016.0 610.5 2017.5 610.9 2019.0 611.2 2020.5 611.6 2022.0 612.0 2023.5 612.4 2025.0 612.7 2026.5 613.1 2028.0 613.5 2029.5 613.8 2031.0 614.2 2032.5 614.5 2034.0 614.9 2035.5 615.2 2037.0 615.5 2038.5 615.9 2040.0 616.2 2041.5 616.5 2043.0 616.9 2044.5 617.2 2046.0 617.5 2047.5 617.8 2049.0 618.1 2050.5 618.4 2052.0 618.7 2053.5 619.0 2055.0 619.3 2056.5 619.6 2058.0 619.9 2059.5 620.2 2061.0 620.4 2062.5 620.7 2064.0 621.0 2065.5 621.3 2067.0 621.5 2068.5 621.8 2070.0 622.0 2071.5 622.3 2073.0 622.5 2074.5 622.8 2076.0 623.0 2077.5 623.2 2079.0 623.5 2080.5 623.7 2082.0 623.9 2083.5 624.1 2085.0 624.3 2086.5 624.5 2088.0 624.7 2089.5 624.9 2091.0 625.1 2092.5 625.3 2094.0 625.5 2095.5 625.7 2097.0 625.9 2098.5 626.0 2100.0 626.2 2101.5 626.4 2103.0 626.5 2104.5 626.7 2106.0 626.8 2107.5 627.0 2109.0 627.1 2110.5 627.3 2112.0 627.4 2113.5 627.5 2115.0 627.7 2116.5 627.8 2118.0 627.9 2119.5 628.0 2121.0 628.2 2122.5 628.3 2124.0 628.4 2125.5 628.5 2127.0 628.6 2128.5 628.7 2130.0 628.9 2131.5 629.0 2133.0 629.1 2134.5 629.2 2136.0 629.3 2137.5 629.4 2139.0 629.5 2140.5 629.6 2142.0 629.7 2143.5 629.8 2145.0 629.9 2146.5 630.0 2148.0 630.1 2149.5 630.2 2151.0 630.3 2152.5 630.4 2154.0 630.6 2155.5 630.7 2157.0 630.8 2158.5 630.9 2160.0 631.0 2161.5 631.1 2163.0 631.2 2164.5 631.4 2166.0 631.5 2167.5 631.6 2169.0 631.7 2170.5 631.9 2172.0 632.0 2173.5 632.1 2175.0 632.3 2176.5 632.4 2178.0 632.6 2179.5 632.7 2181.0 632.9 2182.5 633.0 2184.0 633.2 2185.5 633.4 2187.0 633.5 2188.5 633.7 2190.0 633.9 2191.5 634.1 2193.0 634.3 2194.5 634.5 2196.0 634.7 2197.5 634.9 2199.0 635.1 2200.5 635.3 2202.0 635.6 2203.5 635.8 2205.0 636.0 2206.5 636.3 2208.0 636.5 2209.5 636.8 2211.0 637.0 2212.5 637.3 2214.0 637.6 2215.5 637.8 2217.0 638.1 2218.5 638.4 2220.0 638.7 2221.5 638.9 2223.0 639.2 2224.5 639.5 2226.0 639.8 2227.5 640.1 2229.0 640.4 2230.5 640.7 2232.0 641.0 2233.5 641.3 2235.0 641.6 2236.5 641.9 2238.0 642.3 2239.5 642.6 2241.0 642.9 2242.5 643.2 2244.0 643.5 2245.5 643.8 2247.0 644.1 2248.5 644.4 2250.0 644.8 2251.5 645.1 2253.0 645.4 2254.5 645.7 2256.0 646.0 2257.5 646.3 2259.0 646.6 2260.5 646.9 2262.0 647.2 2263.5 647.5 2265.0 647.8 2266.5 648.1 2268.0 648.4 2269.5 648.7 2271.0 649.0 2272.5 649.2 2274.0 649.5 2275.5 649.8 2277.0 650.1 2278.5 650.3 2280.0 650.6 2281.5 650.8 2283.0 651.1 2284.5 651.3 2286.0 651.6 2287.5 651.8 2289.0 652.0 2290.5 652.3 2292.0 652.5 2293.5 652.7 2295.0 652.9 2296.5 653.1 2298.0 653.3 2299.5 653.5 2301.0 653.6 2302.5 653.8 2304.0 654.0 2305.5 654.1 2307.0 654.3 2308.5 654.4 2310.0 654.6 2311.5 654.7 2313.0 654.8 2314.5 654.9 2316.0 655.0 2317.5 655.1 2319.0 655.2 2320.5 655.3 2322.0 655.4 2323.5 655.5 2325.0 655.5 2326.5 655.6 2328.0 655.7 2329.5 655.7 2331.0 655.8 2332.5 655.8 2334.0 655.9 2335.5 655.9 2337.0 655.9 2338.5 656.0 2340.0 656.0 2341.5 656.0 2343.0 656.0 2344.5 656.0 2346.0 656.0 2347.5 656.0 2349.0 656.0 2350.5 656.0 2352.0 656.0 2353.5 656.0 2355.0 655.9 2356.5 655.9 2358.0 655.9 2359.5 655.9 2361.0 655.8 2362.5 655.8 2364.0 655.7 2365.5 655.7 2367.0 655.7 2368.5 655.6 2370.0 655.5 2371.5 655.5 2373.0 655.4 2374.5 655.4 2376.0 655.3 2377.5 655.3 2379.0 655.2 2380.5 655.1 2382.0 655.0 2383.5 655.0 2385.0 654.9 2386.5 654.8 2388.0 654.8 2389.5 654.7 2391.0 654.6 2392.5 654.5 2394.0 654.4 2395.5 654.4 2397.0 654.3 2398.5 654.2 2400.0 654.1 2401.5 654.0 2403.0 653.9 2404.5 653.9 2406.0 653.8 2407.5 653.7 2409.0 653.6 2410.5 653.5 2412.0 653.4 2413.5 653.4 2415.0 653.3 2416.5 653.2 2418.0 653.1" stroke="#646464" stroke-width="2.7"/>
<path d="M1358.0 708.8L1359.5 708.2 1361.0 707.7 1362.5 707.2 1364.0 706.8 1365.5 706.4 1367.0 706.0 1368.5 705.7 1370.0 705.4 1371.5 705.1 1373.0 704.9 1374.5 704.6 1376.0 704.5 1377.5 704.3 1379.0 704.2 1380.5 704.0 1382.0 704.0 1383.5 703.9 1385.0 703.8 1386.5 703.8 1388.0 703.8 1389.5 703.8 1391.0 703.8 1392.5 703.9 1394.0 703.9 1395.5 704.0 1397.0 704.1 1398.5 704.2 1400.0 704.3 1401.5 704.4 1403.0 704.5 1404.5 704.6 1406.0 704.7 1407.5 704.9 1409.0 705.0 1410.5 705.1 1412.0 705.3 1413.5 705.4 1415.0 705.5 1416.5 705.7 1418.0 705.8 1419.5 705.9 1421.0 706.0 1422.5 706.1 1424.0 706.2 1425.5 706.3 1427.0 706.4 1428.5 706.5 1430.0 706.5 1431.5 706.6 1433.0 706.6 1434.5 706.6 1436.0 706.6 1437.5 706.6 1439.0 706.6 1440.5 706.5 1442.0 706.4 1443.5 706.3 1445.0 706.2 1446.5 706.1 1448.0 705.9 1449.5 705.7 1451.0 705.4 1452.5 705.2 1454.0 704.9 1455.5 704.6 1457.0 704.2 1458.5 703.8 1460.0 703.4 1461.5 702.9 1463.0 702.4 1464.5 701.9 1466.0 701.3 1467.5 700.7 1469.0 700.1 1470.5 699.4 1472.0 698.6 1473.5 697.8 1475.0 697.0 1476.5 696.1 1478.0 695.2 1479.5 694.2 1480.8 693.4 1482.0 692.5 1483.2 691.6 1484.5 690.6 1485.8 689.6 1487.0 688.6 1488.2 687.5 1489.5 686.4 1490.8 685.2 1492.0 684.0 1493.2 682.8 1494.5 681.5 1495.8 680.2 1497.0 678.8 1498.0 677.7 1499.0 676.6 1500.0 675.4 1501.0 674.2 1502.0 672.9 1503.0 671.7 1504.0 670.4 1505.0 669.0 1506.0 667.7 1507.0 666.3 1508.0 664.9 1509.0 663.4 1510.0 661.9 1511.0 660.4 1512.0 658.9 1513.0 657.3 1514.0 655.7 1515.0 654.0 1516.0 652.3 1517.0 650.6 1517.8 649.3 1518.5 648.0 1519.2 646.6 1520.0 645.3 1520.8 643.9 1521.5 642.5 1522.2 641.0 1523.0 639.6 1523.8 638.1 1524.5 636.6 1525.2 635.1 1526.0 633.6 1526.8 632.0 1527.5 630.4 1528.2 628.8 1529.0 627.2 1529.8 625.6 1530.5 623.9 1531.2 622.2 1532.0 620.5 1532.8 618.8 1533.5 617.0 1534.2 615.2 1535.0 613.4 1535.8 611.5 1536.5 609.7 1537.2 607.7 1538.0 605.8 1538.8 603.8 1539.5 601.8 1540.2 599.8 1541.0 597.7 1541.8 595.6 1542.2 594.2 1542.8 592.8 1543.2 591.3 1543.8 589.9 1544.2 588.4 1544.8 586.9 1545.2 585.4 1545.8 583.8 1546.2 582.3 1546.8 580.7 1547.2 579.1 1547.8 577.5 1548.2 575.9 1548.8 574.3 1549.2 572.6 1549.8 571.0 1550.2 569.3 1550.8 567.6 1551.2 565.8 1551.8 564.1 1552.2 562.3 1552.8 560.5 1553.2 558.7 1553.8 556.9 1554.2 555.0 1554.8 553.1 1555.2 551.3 1555.8 549.3 1556.2 547.4 1556.8 545.5 1557.2 543.5 1557.8 541.5 1558.2 539.5 1558.8 537.4 1559.2 535.3 1559.8 533.3 1560.2 531.1 1560.8 529.0 1561.2 526.8 1561.8 524.7 1562.2 522.5 1562.8 520.2 1563.2 518.0 1563.8 515.7 1564.2 513.4 1564.8 511.1 1565.2 508.7 1565.8 506.3 1566.2 503.9 1566.8 501.5 1567.2 499.0 1567.8 496.6 1568.2 494.0 1568.8 491.5 1569.2 489.0 1569.8 486.4 1570.2 483.8 1570.8 481.1 1571.2 478.5 1571.8 475.8 1572.2 473.1 1572.8 470.4 1573.2 467.7 1573.8 464.9 1574.2 462.1 1574.8 459.4 1575.2 456.6 1575.8 453.7 1576.2 450.9 1576.8 448.1 1577.2 445.2 1577.8 442.4 1578.2 439.5 1578.8 436.6 1579.2 433.7 1579.8 430.8 1580.2 427.9 1580.8 425.0 1581.2 422.0 1581.8 419.1 1582.2 416.2 1582.8 413.2 1583.2 410.3 1583.8 407.4 1584.2 404.4 1584.8 401.5 1585.2 398.5 1585.8 395.6 1586.2 392.6 1586.8 389.7 1587.2 386.7 1587.8 383.8 1588.0 382.3 1588.2 380.8 1588.5 379.3 1588.8 377.8 1589.0 376.4 1589.2 374.9 1589.5 373.4 1589.8 371.9 1590.0 370.4 1590.2 368.9 1590.5 367.5 1590.8 366.0 1591.0 364.5 1591.2 363.0 1591.5 361.5 1591.8 360.0 1592.0 358.6 1592.2 357.1 1592.5 355.6 1592.8 354.1 1593.0 352.6 1593.2 351.1 1593.5 349.6 1593.8 348.1 1594.0 346.7 1594.2 345.2 1594.5 343.7 1594.8 342.2 1595.0 340.7 1595.2 339.2 1595.5 337.7 1595.8 336.2 1596.0 334.7 1596.2 333.2 1596.5 331.8 1596.8 330.3 1597.0 328.8 1597.2 327.3 1597.5 325.8 1597.8 324.3 1598.0 322.8 1598.2 321.3 1598.5 319.8 1598.8 318.3 1599.0 316.8 1599.2 315.3 1599.5 313.8 1599.8 312.3 1600.0 310.9 1600.2 309.4 1600.5 307.9 1600.8 306.4 1601.0 304.9 1601.2 303.4 1601.5 301.9 1601.8 300.4 1602.0 298.9 1602.2 297.4 1602.5 295.9 1602.8 294.4 1603.0 292.9 1603.2 291.4 1603.5 289.9 1603.8 288.4 1604.0 286.9 1604.2 285.4 1604.5 283.9 1604.8 282.4 1605.0 280.9 1605.2 279.4 1605.5 277.9 1605.8 276.4 1606.0 275.0 1606.2 273.5 1606.5 272.0 1606.8 270.5 1607.0 269.0 1607.2 267.5 1607.5 266.0 1607.8 264.5 1608.0 263.0 1608.2 261.5 1608.5 260.0 1608.8 258.5 1609.0 257.0 1609.2 255.5 1609.5 254.0 1609.8 252.5 1610.0 251.0 1610.2 249.5 1610.5 248.0 1610.8 246.5 1611.0 245.0 1611.2 243.6 1611.5 242.1 1611.8 240.6 1612.0 239.1 1612.2 237.6 1612.5 236.1 1612.8 234.7 1613.2 231.7 1613.8 228.8 1614.2 225.8 1614.8 222.9 1615.2 220.0 1615.8 217.1 1616.2 214.2 1616.8 211.3 1617.2 208.4 1617.8 205.6 1618.2 202.8 1618.8 200.0 1619.2 197.2 1619.8 194.4 1620.2 191.6 1620.8 188.9 1621.2 186.2 1621.8 183.5 1622.2 180.8 1622.8 178.1 1623.2 175.5 1623.8 172.9 1624.2 170.3 1624.8 167.8 1625.2 165.3 1625.8 162.8 1626.2 160.3 1626.8 157.9 1627.2 155.5 1627.8 153.1 1628.2 150.8 1628.8 148.4 1629.2 146.2 1629.8 143.9 1630.2 141.7 1630.8 139.6 1631.2 137.4 1631.8 135.3 1632.2 133.3 1632.8 131.3 1633.2 129.3 1633.8 127.4 1634.2 125.5 1634.8 123.6 1635.2 121.8 1635.8 120.0 1636.2 118.3 1636.8 116.6 1637.2 115.0 1637.8 113.4 1638.2 111.8 1638.8 110.3 1639.2 108.8 1639.8 107.4 1640.5 105.3 1641.2 103.4 1642.0 101.5 1642.8 99.7 1643.5 98.1 1644.2 96.5 1645.0 95.0 1645.8 93.7 1646.8 92.0 1647.8 90.5 1648.8 89.2 1650.0 87.9 1651.2 86.8 1652.8 85.9 1654.2 85.5 1655.8 85.5 1657.2 85.9 1658.8 86.7 1660.0 87.7 1661.2 89.0 1662.2 90.2 1663.2 91.5 1664.2 93.1 1665.2 94.8 1666.0 96.2 1666.8 97.6 1667.5 99.2 1668.2 100.8 1669.0 102.5 1669.8 104.3 1670.5 106.2 1671.2 108.2 1672.0 110.2 1672.8 112.3 1673.2 113.8 1673.8 115.3 1674.2 116.8 1674.8 118.4 1675.2 120.0 1675.8 121.6 1676.2 123.3 1676.8 125.0 1677.2 126.7 1677.8 128.5 1678.2 130.3 1678.8 132.1 1679.2 133.9 1679.8 135.8 1680.2 137.8 1680.8 139.7 1681.2 141.7 1681.8 143.7 1682.2 145.8 1682.8 147.9 1683.2 150.0 1683.8 152.1 1684.2 154.3 1684.8 156.5 1685.2 158.7 1685.8 161.0 1686.2 163.3 1686.8 165.6 1687.2 167.9 1687.8 170.3 1688.2 172.7 1688.8 175.2 1689.2 177.6 1689.8 180.1 1690.2 182.6 1690.8 185.2 1691.2 187.8 1691.8 190.4 1692.2 193.0 1692.8 195.6 1693.2 198.3 1693.8 201.0 1694.2 203.8 1694.8 206.5 1695.2 209.3 1695.8 212.1 1696.2 214.9 1696.8 217.8 1697.2 220.7 1697.8 223.6 1698.2 226.5 1698.8 229.4 1699.0 230.9 1699.2 232.4 1699.5 233.9 1699.8 235.4 1700.0 236.9 1700.2 238.4 1700.5 239.9 1700.8 241.4 1701.0 242.9 1701.2 244.4 1701.5 246.0 1701.8 247.5 1702.0 249.0 1702.2 250.6 1702.5 252.1 1702.8 253.6 1703.0 255.2 1703.2 256.7 1703.5 258.3 1703.8 259.8 1704.0 261.4 1704.2 262.9 1704.5 264.5 1704.8 266.1 1705.0 267.6 1705.2 269.2 1705.5 270.8 1705.8 272.3 1706.0 273.9 1706.2 275.5 1706.5 277.1 1706.8 278.6 1707.0 280.2 1707.2 281.8 1707.5 283.4 1707.8 285.0 1708.0 286.6 1708.2 288.1 1708.5 289.7 1708.8 291.3 1709.0 292.9 1709.2 294.5 1709.5 296.1 1709.8 297.7 1710.0 299.3 1710.2 300.9 1710.5 302.4 1710.8 304.0 1711.0 305.6 1711.2 307.2 1711.5 308.8 1711.8 310.4 1712.0 312.0 1712.2 313.6 1712.5 315.1 1712.8 316.7 1713.0 318.3 1713.2 319.9 1713.5 321.5 1713.8 323.1 1714.0 324.6 1714.2 326.2 1714.5 327.8 1714.8 329.4 1715.0 330.9 1715.2 332.5 1715.5 334.1 1715.8 335.6 1716.0 337.2 1716.2 338.7 1716.5 340.3 1716.8 341.9 1717.0 343.4 1717.2 345.0 1717.5 346.5 1717.8 348.0 1718.0 349.6 1718.2 351.1 1718.5 352.7 1718.8 354.2 1719.0 355.7 1719.2 357.2 1719.5 358.7 1719.8 360.3 1720.0 361.8 1720.2 363.3 1720.5 364.8 1720.8 366.3 1721.0 367.8 1721.2 369.2 1721.5 370.7 1722.0 373.7 1722.5 376.6 1723.0 379.5 1723.5 382.4 1724.0 385.3 1724.5 388.2 1725.0 391.0 1725.5 393.9 1726.0 396.7 1726.5 399.5 1727.0 402.2 1727.5 405.0 1728.0 407.7 1728.5 410.5 1729.0 413.2 1729.5 415.9 1730.0 418.5 1730.5 421.2 1731.0 423.8 1731.5 426.5 1732.0 429.1 1732.5 431.6 1733.0 434.2 1733.5 436.8 1734.0 439.3 1734.5 441.8 1735.0 444.3 1735.5 446.8 1736.0 449.3 1736.5 451.7 1737.0 454.1 1737.5 456.5 1738.0 458.9 1738.5 461.3 1739.0 463.7 1739.5 466.0 1740.0 468.3 1740.5 470.7 1741.0 472.9 1741.5 475.2 1742.0 477.5 1742.5 479.7 1743.0 481.9 1743.5 484.1 1744.0 486.3 1744.5 488.5 1745.0 490.7 1745.5 492.8 1746.0 494.9 1746.5 497.0 1747.0 499.1 1747.5 501.2 1748.0 503.2 1748.5 505.3 1749.0 507.3 1749.5 509.3 1750.0 511.3 1750.5 513.2 1751.0 515.2 1751.5 517.1 1752.0 519.0 1752.5 520.9 1753.0 522.8 1753.5 524.7 1754.0 526.5 1754.5 528.4 1755.0 530.2 1755.5 532.0 1756.0 533.8 1756.5 535.6 1757.0 537.3 1757.5 539.1 1758.0 540.8 1758.5 542.5 1759.0 544.2 1759.5 545.9 1760.0 547.5 1760.5 549.2 1761.0 550.8 1761.5 552.4 1762.0 554.0 1762.5 555.6 1763.0 557.2 1763.5 558.8 1764.0 560.3 1764.5 561.8 1765.0 563.3 1765.5 564.8 1766.0 566.3 1766.5 567.8 1767.0 569.2 1767.5 570.7 1768.0 572.1 1768.8 574.2 1769.5 576.3 1770.2 578.4 1771.0 580.4 1771.8 582.4 1772.5 584.3 1773.2 586.3 1774.0 588.2 1774.8 590.0 1775.5 591.9 1776.2 593.7 1777.0 595.4 1777.8 597.2 1778.5 598.9 1779.2 600.6 1780.0 602.3 1780.8 603.9 1781.5 605.5 1782.2 607.1 1783.0 608.6 1783.8 610.2 1784.5 611.7 1785.2 613.1 1786.0 614.6 1786.8 616.0 1787.5 617.4 1788.2 618.8 1789.0 620.1 1789.8 621.4 1790.8 623.1 1791.8 624.8 1792.8 626.4 1793.8 628.0 1794.8 629.6 1795.8 631.1 1796.8 632.5 1797.8 633.9 1798.8 635.3 1799.8 636.7 1800.8 638.0 1801.8 639.2 1802.8 640.5 1803.8 641.6 1804.8 642.8 1806.0 644.2 1807.2 645.5 1808.5 646.8 1809.8 648.0 1811.0 649.2 1812.2 650.3 1813.5 651.4 1814.8 652.4 1816.0 653.4 1817.2 654.3 1818.5 655.2 1819.8 656.1 1821.2 657.0 1822.8 657.9 1824.2 658.7 1825.8 659.5 1827.2 660.2 1828.8 660.9 1830.2 661.5 1831.8 662.1 1833.2 662.6 1834.8 663.1 1836.2 663.5 1837.8 663.9 1839.2 664.3 1840.8 664.6 1842.2 664.9 1843.8 665.1 1845.2 665.3 1846.8 665.5 1848.2 665.7 1849.8 665.8 1851.2 665.9 1852.8 666.0 1854.2 666.1 1855.8 666.1 1857.2 666.1 1858.8 666.2 1860.2 666.2 1861.8 666.1 1863.2 666.1 1864.8 666.1 1866.2 666.1 1867.8 666.0 1869.2 666.0 1870.8 666.0 1872.2 665.9 1873.8 665.9 1875.2 665.9 1876.8 665.8 1878.2 665.8 1879.8 665.7 1881.2 665.7 1882.8 665.7 1884.2 665.6 1885.8 665.6 1887.2 665.6 1888.8 665.5 1890.2 665.5 1891.8 665.5 1893.2 665.4 1894.8 665.4 1896.2 665.4 1897.8 665.3 1899.2 665.3 1900.8 665.3 1902.2 665.2 1903.8 665.2 1905.2 665.1 1906.8 665.1 1908.2 665.1 1909.8 665.0 1911.2 665.0 1912.8 665.0 1914.2 664.9 1915.8 664.9 1917.2 664.9 1918.8 664.8 1920.2 664.8 1921.8 664.8 1923.2 664.7 1924.8 664.7 1926.2 664.7 1927.8 664.6 1929.2 664.6 1930.8 664.6 1932.2 664.5 1933.8 664.5 1935.2 664.5 1936.8 664.5 1938.2 664.4 1939.8 664.4 1941.2 664.4 1942.8 664.3 1944.2 664.3 1945.8 664.3 1947.2 664.2 1948.8 664.2 1950.2 664.2 1951.8 664.1 1953.2 664.1 1954.8 664.1 1956.2 664.0 1957.8 664.0 1959.2 664.0 1960.8 664.0 1962.2 663.9 1963.8 663.9 1965.2 663.9 1966.8 663.8 1968.2 663.8 1969.8 663.8 1971.2 663.7 1972.8 663.7 1974.2 663.7 1975.8 663.7 1977.2 663.6 1978.8 663.6 1980.2 663.6 1981.8 663.5 1983.2 663.5 1984.8 663.5 1986.2 663.5 1987.8 663.4 1989.2 663.4 1990.8 663.4 1992.2 663.3 1993.8 663.3 1995.2 663.3 1996.8 663.3 1998.2 663.2 1999.8 663.2 2001.2 663.2 2002.8 663.2 2004.2 663.1 2005.8 663.1 2007.2 663.1 2008.8 663.0 2010.2 663.0 2011.8 663.0 2013.2 663.0 2014.8 662.9 2016.2 662.9 2017.8 662.9 2019.2 662.9 2020.8 662.8 2022.2 662.8 2023.8 662.8 2025.2 662.8 2026.8 662.7 2028.2 662.7 2029.8 662.7 2031.2 662.7 2032.8 662.6 2034.2 662.6 2035.8 662.6 2037.2 662.6 2038.8 662.5 2040.2 662.5 2041.8 662.5 2043.2 662.5 2044.8 662.4 2046.2 662.4 2047.8 662.4 2049.2 662.4 2050.8 662.3 2052.2 662.3 2053.8 662.3 2055.2 662.3 2056.8 662.3 2058.2 662.2 2059.8 662.2 2061.2 662.2 2062.8 662.2 2064.2 662.1 2065.8 662.1 2067.2 662.1 2068.8 662.1 2070.2 662.0 2071.8 662.0 2073.2 662.0 2074.8 662.0 2076.2 662.0 2077.8 661.9 2079.2 661.9 2080.8 661.9 2082.2 661.9 2083.8 661.9 2085.2 661.8 2086.8 661.8 2088.2 661.8 2089.8 661.8 2091.2 661.8 2092.8 661.7 2094.2 661.7 2095.8 661.7 2097.2 661.7 2098.8 661.7 2100.2 661.6 2101.8 661.6 2103.2 661.6 2104.8 661.6 2106.2 661.6 2107.8 661.5 2109.2 661.5 2110.8 661.5 2112.2 661.5 2113.8 661.5 2115.2 661.5 2116.8 661.4 2118.2 661.4 2119.8 661.4 2121.2 661.4 2122.8 661.4 2124.2 661.3 2125.8 661.3 2127.2 661.3 2128.8 661.3 2130.2 661.3 2131.8 661.3 2133.2 661.2 2134.8 661.2 2136.2 661.2 2137.8 661.2 2139.2 661.2 2140.8 661.2 2142.2 661.1 2143.8 661.1 2145.2 661.1 2146.8 661.1 2148.2 661.1 2149.8 661.1 2151.2 661.1 2152.8 661.0 2154.2 661.0 2155.8 661.0 2157.2 661.0 2158.8 661.0 2160.2 661.0 2161.8 661.0 2163.2 660.9 2164.8 660.9 2166.2 660.9 2167.8 660.9 2169.2 660.9 2170.8 660.9 2172.2 660.9 2173.8 660.8 2175.2 660.8 2176.8 660.8 2178.2 660.8 2179.8 660.8 2181.2 660.8 2182.8 660.8 2184.2 660.8 2185.8 660.7 2187.2 660.7 2188.8 660.7 2190.2 660.7 2191.8 660.7 2193.2 660.7 2194.8 660.7 2196.2 660.7 2197.8 660.7 2199.2 660.6 2200.8 660.6 2202.2 660.6 2203.8 660.6 2205.2 660.6 2206.8 660.6 2208.2 660.6 2209.8 660.6 2211.2 660.6 2212.8 660.6 2214.2 660.5 2215.8 660.5 2217.2 660.5 2218.8 660.5 2220.2 660.5 2221.8 660.5 2223.2 660.5 2224.8 660.5 2226.2 660.5 2227.8 660.5 2229.2 660.5 2230.8 660.5 2232.2 660.4 2233.8 660.4 2235.2 660.4 2236.8 660.4 2238.2 660.4 2239.8 660.4 2241.2 660.4 2242.8 660.4 2244.2 660.4 2245.8 660.4 2247.2 660.4 2248.8 660.4 2250.2 660.4 2251.8 660.4 2253.2 660.4 2254.8 660.4 2256.2 660.3 2257.8 660.3 2259.2 660.3 2260.8 660.3 2262.2 660.3 2263.8 660.3 2265.2 660.3 2266.8 660.3 2268.2 660.3 2269.8 660.3 2271.2 660.3 2272.8 660.3 2274.2 660.3 2275.8 660.3 2277.2 660.3 2278.8 660.3 2280.2 660.3 2281.8 660.3 2283.2 660.3 2284.8 660.3 2286.2 660.3 2287.8 660.3 2289.2 660.3 2290.8 660.3 2292.2 660.3 2293.8 660.3 2295.2 660.3 2296.8 660.3 2298.2 660.3 2299.8 660.3 2301.2 660.3 2302.8 660.3 2304.2 660.3 2305.8 660.3 2307.2 660.3 2308.8 660.3 2310.2 660.3 2311.8 660.3 2313.2 660.3 2314.8 660.3 2316.2 660.3 2317.8 660.3 2319.2 660.3 2320.8 660.3 2322.2 660.3 2323.8 660.3 2325.2 660.3 2326.8 660.3 2328.2 660.3 2329.8 660.3 2331.2 660.3 2332.8 660.3 2334.2 660.3 2335.8 660.3 2337.2 660.3 2338.8 660.3 2340.2 660.3 2341.8 660.3 2343.2 660.3 2344.8 660.3 2346.2 660.3 2347.8 660.3 2349.2 660.3 2350.8 660.3 2352.2 660.3 2353.8 660.3 2355.2 660.3 2356.8 660.3 2358.2 660.3 2359.8 660.4 2361.2 660.4 2362.8 660.4 2364.2 660.4 2365.8 660.4 2367.2 660.4 2368.8 660.4 2370.2 660.4 2371.8 660.4 2373.2 660.4 2374.8 660.4 2376.2 660.4 2377.8 660.4 2379.2 660.4 2380.8 660.4 2382.2 660.4 2383.8 660.5 2385.2 660.5 2386.8 660.5 2388.2 660.5 2389.8 660.5 2391.2 660.5 2392.8 660.5 2394.2 660.5 2395.8 660.5 2397.2 660.5 2398.8 660.5 2400.2 660.6 2401.8 660.6 2403.2 660.6 2404.8 660.6 2406.2 660.6 2407.8 660.6 2409.2 660.6 2410.8 660.6 2412.2 660.6 2413.8 660.6 2415.2 660.7 2416.8 660.7 2418.0 660.7" stroke="#f0282e" stroke-width="2.8"/>
<path d="M1358.0 708.2L1359.5 707.9 1361.0 707.6 1362.5 707.2 1364.0 706.9 1365.5 706.6 1367.0 706.3 1368.5 706.0 1370.0 705.8 1371.5 705.5 1373.0 705.2 1374.5 705.0 1376.0 704.7 1377.5 704.5 1379.0 704.3 1380.5 704.0 1382.0 703.8 1383.5 703.6 1385.0 703.4 1386.5 703.2 1388.0 703.0 1389.5 702.9 1391.0 702.7 1392.5 702.5 1394.0 702.3 1395.5 702.2 1397.0 702.0 1398.5 701.9 1400.0 701.8 1401.5 701.6 1403.0 701.5 1404.5 701.4 1406.0 701.3 1407.5 701.1 1409.0 701.0 1410.5 700.9 1412.0 700.8 1413.5 700.7 1415.0 700.6 1416.5 700.6 1418.0 700.5 1419.5 700.4 1421.0 700.3 1422.5 700.2 1424.0 700.2 1425.5 700.1 1427.0 700.0 1428.5 700.0 1430.0 699.9 1431.5 699.8 1433.0 699.8 1434.5 699.7 1436.0 699.7 1437.5 699.6 1439.0 699.6 1440.5 699.5 1442.0 699.5 1443.5 699.4 1445.0 699.4 1446.5 699.3 1448.0 699.3 1449.5 699.2 1451.0 699.2 1452.5 699.2 1454.0 699.1 1455.5 699.1 1457.0 699.0 1458.5 699.0 1460.0 698.9 1461.5 698.9 1463.0 698.8 1464.5 698.8 1466.0 698.7 1467.5 698.7 1469.0 698.6 1470.5 698.6 1472.0 698.5 1473.5 698.4 1475.0 698.4 1476.5 698.3 1478.0 698.2 1479.5 698.2 1481.0 698.1 1482.5 698.0 1484.0 697.9 1485.5 697.9 1487.0 697.8 1488.5 697.7 1490.0 697.6 1491.5 697.5 1493.0 697.4 1494.5 697.3 1496.0 697.2 1497.5 697.0 1499.0 696.9 1500.5 696.8 1502.0 696.7 1503.5 696.5 1505.0 696.4 1506.5 696.2 1508.0 696.1 1509.5 695.9 1511.0 695.8 1512.5 695.6 1514.0 695.4 1515.5 695.2 1517.0 695.0 1518.5 694.8 1520.0 694.6 1521.5 694.4 1523.0 694.2 1524.5 694.0 1526.0 693.7 1527.5 693.5 1529.0 693.2 1530.5 693.0 1532.0 692.7 1533.5 692.4 1535.0 692.1 1536.5 691.8 1538.0 691.5 1539.5 691.2 1541.0 690.9 1542.5 690.6 1544.0 690.2 1545.5 689.9 1547.0 689.5 1548.5 689.2 1550.0 688.8 1551.5 688.4 1553.0 688.0 1554.5 687.6 1556.0 687.2 1557.5 686.7 1559.0 686.3 1560.5 685.8 1562.0 685.4 1563.5 684.9 1565.0 684.4 1566.5 683.9 1568.0 683.4 1569.5 682.9 1571.0 682.3 1572.5 681.8 1574.0 681.2 1575.5 680.6 1577.0 680.1 1578.5 679.5 1580.0 678.8 1581.5 678.2 1583.0 677.6 1584.5 676.9 1586.0 676.3 1587.5 675.6 1589.0 674.9 1590.5 674.2 1592.0 673.4 1593.5 672.7 1595.0 671.9 1596.5 671.2 1598.0 670.4 1599.5 669.6 1601.0 668.8 1602.5 667.9 1604.0 667.1 1605.5 666.2 1607.0 665.3 1608.5 664.4 1610.0 663.5 1611.5 662.6 1613.0 661.7 1614.5 660.7 1616.0 659.7 1617.2 658.9 1618.5 658.0 1619.8 657.2 1621.0 656.3 1622.2 655.4 1623.5 654.6 1624.8 653.6 1626.0 652.7 1627.2 651.8 1628.5 650.9 1629.8 649.9 1631.0 648.9 1632.2 648.0 1633.5 647.0 1634.8 646.0 1636.0 644.9 1637.2 643.9 1638.5 642.9 1639.8 641.8 1641.0 640.7 1642.2 639.6 1643.5 638.5 1644.8 637.4 1646.0 636.3 1647.2 635.2 1648.5 634.0 1649.8 632.8 1651.0 631.6 1652.2 630.4 1653.5 629.2 1654.8 628.0 1656.0 626.8 1657.2 625.5 1658.5 624.2 1659.8 622.9 1661.0 621.6 1662.2 620.3 1663.5 619.0 1664.8 617.6 1666.0 616.3 1667.2 614.9 1668.5 613.5 1669.5 612.4 1670.5 611.3 1671.5 610.1 1672.5 609.0 1673.5 607.8 1674.5 606.7 1675.5 605.5 1676.5 604.3 1677.5 603.2 1678.5 602.0 1679.5 600.8 1680.5 599.6 1681.5 598.3 1682.5 597.1 1683.5 595.9 1684.5 594.7 1685.5 593.4 1686.5 592.2 1687.5 590.9 1688.5 589.7 1689.5 588.4 1690.5 587.1 1691.5 585.9 1692.5 584.6 1693.5 583.3 1694.5 582.0 1695.5 580.7 1696.5 579.4 1697.5 578.1 1698.5 576.8 1699.5 575.4 1700.5 574.1 1701.5 572.8 1702.5 571.4 1703.5 570.1 1704.5 568.7 1705.5 567.4 1706.5 566.0 1707.5 564.7 1708.5 563.3 1709.5 561.9 1710.5 560.6 1711.5 559.2 1712.5 557.8 1713.5 556.4 1714.5 555.0 1715.5 553.6 1716.5 552.3 1717.5 550.9 1718.5 549.5 1719.5 548.1 1720.5 546.6 1721.5 545.2 1722.5 543.8 1723.5 542.4 1724.5 541.0 1725.5 539.6 1726.5 538.1 1727.5 536.7 1728.5 535.3 1729.5 533.9 1730.5 532.4 1731.5 531.0 1732.5 529.6 1733.5 528.1 1734.5 526.7 1735.5 525.3 1736.5 523.8 1737.5 522.4 1738.5 520.9 1739.5 519.5 1740.5 518.0 1741.5 516.6 1742.5 515.2 1743.5 513.7 1744.5 512.3 1745.5 510.8 1746.5 509.4 1747.5 507.9 1748.5 506.5 1749.5 505.0 1750.5 503.6 1751.5 502.1 1752.5 500.7 1753.5 499.3 1754.5 497.9 1755.5 496.4 1756.5 495.0 1757.5 493.6 1758.5 492.3 1759.5 490.9 1760.5 489.5 1761.5 488.2 1762.5 486.9 1763.5 485.6 1764.5 484.3 1765.5 483.0 1766.5 481.8 1767.5 480.5 1768.5 479.3 1769.5 478.2 1770.5 477.0 1771.5 475.9 1772.8 474.5 1774.0 473.2 1775.2 472.0 1776.5 470.8 1777.8 469.6 1779.0 468.5 1780.2 467.5 1781.5 466.5 1782.8 465.6 1784.0 464.8 1785.5 463.8 1787.0 463.0 1788.5 462.3 1790.0 461.7 1791.5 461.3 1793.0 460.9 1794.5 460.7 1796.0 460.6 1797.5 460.6 1799.0 460.8 1800.5 461.0 1802.0 461.4 1803.5 461.9 1805.0 462.6 1806.5 463.3 1808.0 464.2 1809.5 465.1 1810.8 466.0 1812.0 466.9 1813.2 467.9 1814.5 469.0 1815.8 470.1 1817.0 471.3 1818.2 472.6 1819.5 473.9 1820.8 475.2 1821.8 476.4 1822.8 477.5 1823.8 478.7 1824.8 479.9 1825.8 481.2 1826.8 482.5 1827.8 483.8 1828.8 485.1 1829.8 486.5 1830.8 487.9 1831.8 489.3 1832.8 490.7 1833.8 492.2 1834.8 493.6 1835.8 495.1 1836.8 496.7 1837.8 498.2 1838.8 499.7 1839.8 501.3 1840.8 502.9 1841.8 504.5 1842.8 506.1 1843.8 507.7 1844.8 509.3 1845.8 511.0 1846.8 512.6 1847.8 514.3 1848.8 515.9 1849.8 517.6 1850.8 519.3 1851.8 521.0 1852.8 522.6 1853.8 524.3 1854.8 526.0 1855.8 527.7 1856.8 529.4 1857.8 531.1 1858.8 532.8 1859.8 534.4 1860.8 536.1 1861.8 537.8 1862.8 539.4 1863.8 541.1 1864.8 542.7 1865.8 544.4 1866.8 546.0 1867.8 547.6 1868.8 549.2 1869.8 550.8 1870.8 552.4 1871.8 553.9 1872.8 555.5 1873.8 557.0 1874.8 558.5 1875.8 560.0 1876.8 561.4 1877.8 562.9 1878.8 564.3 1879.8 565.7 1880.8 567.1 1881.8 568.5 1882.8 569.8 1883.8 571.1 1884.8 572.5 1885.8 573.8 1886.8 575.0 1887.8 576.3 1888.8 577.5 1889.8 578.8 1890.8 580.0 1891.8 581.1 1892.8 582.3 1893.8 583.5 1894.8 584.6 1895.8 585.7 1897.0 587.1 1898.2 588.5 1899.5 589.8 1900.8 591.1 1902.0 592.4 1903.2 593.6 1904.5 594.9 1905.8 596.1 1907.0 597.3 1908.2 598.4 1909.5 599.6 1910.8 600.7 1912.0 601.8 1913.2 602.9 1914.5 603.9 1915.8 604.9 1917.0 606.0 1918.2 606.9 1919.5 607.9 1920.8 608.9 1922.0 609.8 1923.2 610.7 1924.5 611.6 1925.8 612.5 1927.0 613.3 1928.2 614.2 1929.8 615.2 1931.2 616.1 1932.8 617.0 1934.2 618.0 1935.8 618.8 1937.2 619.7 1938.8 620.6 1940.2 621.4 1941.8 622.2 1943.2 623.0 1944.8 623.7 1946.2 624.4 1947.8 625.2 1949.2 625.9 1950.8 626.6 1952.2 627.2 1953.8 627.9 1955.2 628.5 1956.8 629.1 1958.2 629.7 1959.8 630.3 1961.2 630.9 1962.8 631.4 1964.2 632.0 1965.8 632.5 1967.2 633.0 1968.8 633.6 1970.2 634.1 1971.8 634.5 1973.2 635.0 1974.8 635.5 1976.2 636.0 1977.8 636.4 1979.2 636.8 1980.8 637.3 1982.2 637.7 1983.8 638.1 1985.2 638.5 1986.8 638.9 1988.2 639.3 1989.8 639.7 1991.2 640.1 1992.8 640.5 1994.2 640.8 1995.8 641.2 1997.2 641.5 1998.8 641.9 2000.2 642.2 2001.8 642.5 2003.2 642.9 2004.8 643.2 2006.2 643.5 2007.8 643.8 2009.2 644.1 2010.8 644.4 2012.2 644.7 2013.8 644.9 2015.2 645.2 2016.8 645.5 2018.2 645.7 2019.8 646.0 2021.2 646.2 2022.8 646.4 2024.2 646.7 2025.8 646.9 2027.2 647.1 2028.8 647.4 2030.2 647.6 2031.8 647.8 2033.2 648.0 2034.8 648.2 2036.2 648.4 2037.8 648.6 2039.2 648.7 2040.8 648.9 2042.2 649.1 2043.8 649.3 2045.2 649.4 2046.8 649.6 2048.2 649.8 2049.8 649.9 2051.2 650.1 2052.8 650.2 2054.2 650.3 2055.8 650.5 2057.2 650.6 2058.8 650.8 2060.2 650.9 2061.8 651.0 2063.2 651.1 2064.8 651.3 2066.2 651.4 2067.8 651.5 2069.2 651.6 2070.8 651.7 2072.2 651.8 2073.8 651.9 2075.2 652.0 2076.8 652.2 2078.2 652.3 2079.8 652.3 2081.2 652.4 2082.8 652.5 2084.2 652.6 2085.8 652.7 2087.2 652.8 2088.8 652.9 2090.2 653.0 2091.8 653.0 2093.2 653.1 2094.8 653.2 2096.2 653.3 2097.8 653.3 2099.2 653.4 2100.8 653.5 2102.2 653.5 2103.8 653.6 2105.2 653.7 2106.8 653.7 2108.2 653.8 2109.8 653.9 2111.2 653.9 2112.8 654.0 2114.2 654.0 2115.8 654.1 2117.2 654.1 2118.8 654.2 2120.2 654.2 2121.8 654.3 2123.2 654.3 2124.8 654.3 2126.2 654.4 2127.8 654.4 2129.2 654.5 2130.8 654.5 2132.2 654.5 2133.8 654.6 2135.2 654.6 2136.8 654.7 2138.2 654.7 2139.8 654.7 2141.2 654.8 2142.8 654.8 2144.2 654.8 2145.8 654.8 2147.2 654.9 2148.8 654.9 2150.2 654.9 2151.8 655.0 2153.2 655.0 2154.8 655.0 2156.2 655.0 2157.8 655.1 2159.2 655.1 2160.8 655.1 2162.2 655.1 2163.8 655.1 2165.2 655.2 2166.8 655.2 2168.2 655.2 2169.8 655.2 2171.2 655.2 2172.8 655.3 2174.2 655.3 2175.8 655.3 2177.2 655.3 2178.8 655.4 2180.2 655.4 2181.8 655.4 2183.2 655.4 2184.8 655.4 2186.2 655.5 2187.8 655.5 2189.2 655.5 2190.8 655.5 2192.2 655.5 2193.8 655.6 2195.2 655.6 2196.8 655.6 2198.2 655.6 2199.8 655.6 2201.2 655.7 2202.8 655.7 2204.2 655.7 2205.8 655.7 2207.2 655.8 2208.8 655.8 2210.2 655.8 2211.8 655.8 2213.2 655.8 2214.8 655.9 2216.2 655.9 2217.8 655.9 2219.2 655.9 2220.8 656.0 2222.2 656.0 2223.8 656.0 2225.2 656.0 2226.8 656.1 2228.2 656.1 2229.8 656.1 2231.2 656.1 2232.8 656.1 2234.2 656.2 2235.8 656.2 2237.2 656.2 2238.8 656.2 2240.2 656.3 2241.8 656.3 2243.2 656.3 2244.8 656.3 2246.2 656.4 2247.8 656.4 2249.2 656.4 2250.8 656.4 2252.2 656.5 2253.8 656.5 2255.2 656.5 2256.8 656.5 2258.2 656.6 2259.8 656.6 2261.2 656.6 2262.8 656.6 2264.2 656.7 2265.8 656.7 2267.2 656.7 2268.8 656.7 2270.2 656.8 2271.8 656.8 2273.2 656.8 2274.8 656.8 2276.2 656.9 2277.8 656.9 2279.2 656.9 2280.8 656.9 2282.2 657.0 2283.8 657.0 2285.2 657.0 2286.8 657.0 2288.2 657.1 2289.8 657.1 2291.2 657.1 2292.8 657.1 2294.2 657.2 2295.8 657.2 2297.2 657.2 2298.8 657.2 2300.2 657.3 2301.8 657.3 2303.2 657.3 2304.8 657.3 2306.2 657.4 2307.8 657.4 2309.2 657.4 2310.8 657.4 2312.2 657.4 2313.8 657.5 2315.2 657.5 2316.8 657.5 2318.2 657.5 2319.8 657.6 2321.2 657.6 2322.8 657.6 2324.2 657.6 2325.8 657.7 2327.2 657.7 2328.8 657.7 2330.2 657.7 2331.8 657.8 2333.2 657.8 2334.8 657.8 2336.2 657.8 2337.8 657.9 2339.2 657.9 2340.8 657.9 2342.2 657.9 2343.8 658.0 2345.2 658.0 2346.8 658.0 2348.2 658.0 2349.8 658.1 2351.2 658.1 2352.8 658.1 2354.2 658.1 2355.8 658.1 2357.2 658.2 2358.8 658.2 2360.2 658.2 2361.8 658.2 2363.2 658.3 2364.8 658.3 2366.2 658.3 2367.8 658.3 2369.2 658.4 2370.8 658.4 2372.2 658.4 2373.8 658.4 2375.2 658.4 2376.8 658.5 2378.2 658.5 2379.8 658.5 2381.2 658.5 2382.8 658.6 2384.2 658.6 2385.8 658.6 2387.2 658.6 2388.8 658.6 2390.2 658.7 2391.8 658.7 2393.2 658.7 2394.8 658.7 2396.2 658.7 2397.8 658.8 2399.2 658.8 2400.8 658.8 2402.2 658.8 2403.8 658.8 2405.2 658.9 2406.8 658.9 2408.2 658.9 2409.8 658.9 2411.2 658.9 2412.8 659.0 2414.2 659.0 2415.8 659.0 2417.2 659.0 2418.0 659.0" stroke="#1464e4" stroke-width="2.9"/>
<path d="M1358.0 708.4L1359.5 708.3 1361.0 708.3 1362.5 708.3 1364.0 708.2 1365.5 708.2 1367.0 708.1 1368.5 708.1 1370.0 708.0 1371.5 708.0 1373.0 708.0 1374.5 708.0 1376.0 707.9 1377.5 707.9 1379.0 707.9 1380.5 707.8 1382.0 707.8 1383.5 707.8 1385.0 707.8 1386.5 707.8 1388.0 707.8 1389.5 707.7 1391.0 707.7 1392.5 707.7 1394.0 707.7 1395.5 707.7 1397.0 707.7 1398.5 707.7 1400.0 707.7 1401.5 707.7 1403.0 707.7 1404.5 707.7 1406.0 707.7 1407.5 707.7 1409.0 707.7 1410.5 707.7 1412.0 707.7 1413.5 707.7 1415.0 707.7 1416.5 707.7 1418.0 707.7 1419.5 707.7 1421.0 707.7 1422.5 707.7 1424.0 707.8 1425.5 707.8 1427.0 707.8 1428.5 707.8 1430.0 707.8 1431.5 707.8 1433.0 707.8 1434.5 707.8 1436.0 707.8 1437.5 707.9 1439.0 707.9 1440.5 707.9 1442.0 707.9 1443.5 707.9 1445.0 707.9 1446.5 707.9 1448.0 707.9 1449.5 708.0 1451.0 708.0 1452.5 708.0 1454.0 708.0 1455.5 708.0 1457.0 708.0 1458.5 708.0 1460.0 708.0 1461.5 708.0 1463.0 708.1 1464.5 708.1 1466.0 708.1 1467.5 708.1 1469.0 708.1 1470.5 708.1 1472.0 708.1 1473.5 708.1 1475.0 708.1 1476.5 708.1 1478.0 708.1 1479.5 708.1 1481.0 708.1 1482.5 708.1 1484.0 708.1 1485.5 708.1 1487.0 708.1 1488.5 708.1 1490.0 708.1 1491.5 708.0 1493.0 708.0 1494.5 708.0 1496.0 708.0 1497.5 708.0 1499.0 708.0 1500.5 708.0 1502.0 707.9 1503.5 707.9 1505.0 707.9 1506.5 707.9 1508.0 707.8 1509.5 707.8 1511.0 707.8 1512.5 707.7 1514.0 707.7 1515.5 707.7 1517.0 707.6 1518.5 707.6 1520.0 707.5 1521.5 707.5 1523.0 707.4 1524.5 707.4 1526.0 707.3 1527.5 707.3 1529.0 707.2 1530.5 707.1 1532.0 707.1 1533.5 707.0 1535.0 706.9 1536.5 706.9 1538.0 706.8 1539.5 706.7 1541.0 706.6 1542.5 706.6 1544.0 706.5 1545.5 706.4 1547.0 706.3 1548.5 706.2 1550.0 706.1 1551.5 706.0 1553.0 705.9 1554.5 705.8 1556.0 705.7 1557.5 705.5 1559.0 705.4 1560.5 705.3 1562.0 705.2 1563.5 705.1 1565.0 704.9 1566.5 704.8 1568.0 704.7 1569.5 704.5 1571.0 704.4 1572.5 704.2 1574.0 704.1 1575.5 703.9 1577.0 703.7 1578.5 703.6 1580.0 703.4 1581.5 703.2 1583.0 703.1 1584.5 702.9 1586.0 702.7 1587.5 702.5 1589.0 702.3 1590.5 702.1 1592.0 701.9 1593.5 701.7 1595.0 701.5 1596.5 701.3 1598.0 701.1 1599.5 700.8 1601.0 700.6 1602.5 700.4 1604.0 700.1 1605.5 699.9 1607.0 699.7 1608.5 699.4 1610.0 699.2 1611.5 698.9 1613.0 698.6 1614.5 698.4 1616.0 698.1 1617.5 697.8 1619.0 697.6 1620.5 697.3 1622.0 697.0 1623.5 696.7 1625.0 696.4 1626.5 696.2 1628.0 695.9 1629.5 695.6 1631.0 695.3 1632.5 695.0 1634.0 694.7 1635.5 694.4 1637.0 694.1 1638.5 693.8 1640.0 693.5 1641.5 693.2 1643.0 692.9 1644.5 692.5 1646.0 692.2 1647.5 691.9 1649.0 691.6 1650.5 691.3 1652.0 691.0 1653.5 690.7 1655.0 690.3 1656.5 690.0 1658.0 689.7 1659.5 689.4 1661.0 689.1 1662.5 688.8 1664.0 688.5 1665.5 688.1 1667.0 687.8 1668.5 687.5 1670.0 687.2 1671.5 686.9 1673.0 686.6 1674.5 686.3 1676.0 686.0 1677.5 685.7 1679.0 685.3 1680.5 685.0 1682.0 684.7 1683.5 684.4 1685.0 684.1 1686.5 683.8 1688.0 683.6 1689.5 683.3 1691.0 683.0 1692.5 682.7 1694.0 682.4 1695.5 682.1 1697.0 681.8 1698.5 681.6 1700.0 681.3 1701.5 681.0 1703.0 680.7 1704.5 680.5 1706.0 680.2 1707.5 680.0 1709.0 679.7 1710.5 679.5 1712.0 679.2 1713.5 679.0 1715.0 678.7 1716.5 678.5 1718.0 678.3 1719.5 678.1 1721.0 677.8 1722.5 677.6 1724.0 677.4 1725.5 677.2 1727.0 677.0 1728.5 676.8 1730.0 676.6 1731.5 676.4 1733.0 676.3 1734.5 676.1 1736.0 675.9 1737.5 675.8 1739.0 675.6 1740.5 675.5 1742.0 675.3 1743.5 675.2 1745.0 675.0 1746.5 674.9 1748.0 674.8 1749.5 674.6 1751.0 674.5 1752.5 674.4 1754.0 674.3 1755.5 674.2 1757.0 674.1 1758.5 674.0 1760.0 673.9 1761.5 673.8 1763.0 673.7 1764.5 673.6 1766.0 673.5 1767.5 673.4 1769.0 673.3 1770.5 673.2 1772.0 673.1 1773.5 673.0 1775.0 672.9 1776.5 672.8 1778.0 672.7 1779.5 672.7 1781.0 672.6 1782.5 672.5 1784.0 672.4 1785.5 672.3 1787.0 672.2 1788.5 672.1 1790.0 672.0 1791.5 671.9 1793.0 671.8 1794.5 671.7 1796.0 671.6 1797.5 671.5 1799.0 671.4 1800.5 671.3 1802.0 671.2 1803.5 671.1 1805.0 671.0 1806.5 670.9 1808.0 670.8 1809.5 670.6 1811.0 670.5 1812.5 670.4 1814.0 670.2 1815.5 670.1 1817.0 669.9 1818.5 669.8 1820.0 669.6 1821.5 669.5 1823.0 669.3 1824.5 669.1 1826.0 669.0 1827.5 668.8 1829.0 668.6 1830.5 668.4 1832.0 668.2 1833.5 668.0 1835.0 667.8 1836.5 667.6 1838.0 667.3 1839.5 667.1 1841.0 666.9 1842.5 666.6 1844.0 666.3 1845.5 666.1 1847.0 665.8 1848.5 665.5 1850.0 665.2 1851.5 664.9 1853.0 664.6 1854.5 664.3 1856.0 664.0 1857.5 663.6 1859.0 663.3 1860.5 662.9 1862.0 662.6 1863.5 662.2 1865.0 661.8 1866.5 661.4 1868.0 661.0 1869.5 660.6 1871.0 660.1 1872.5 659.7 1874.0 659.2 1875.5 658.8 1877.0 658.3 1878.5 657.8 1880.0 657.4 1881.5 656.9 1883.0 656.4 1884.5 655.8 1886.0 655.3 1887.5 654.8 1889.0 654.3 1890.5 653.7 1892.0 653.2 1893.5 652.7 1895.0 652.1 1896.5 651.5 1898.0 651.0 1899.5 650.4 1901.0 649.8 1902.5 649.3 1904.0 648.7 1905.5 648.1 1907.0 647.5 1908.5 646.9 1910.0 646.3 1911.5 645.7 1913.0 645.2 1914.5 644.6 1916.0 644.0 1917.5 643.4 1919.0 642.8 1920.5 642.2 1922.0 641.6 1923.5 641.0 1925.0 640.4 1926.5 639.8 1928.0 639.2 1929.5 638.6 1931.0 638.0 1932.5 637.4 1934.0 636.8 1935.5 636.3 1937.0 635.7 1938.5 635.1 1940.0 634.5 1941.5 634.0 1943.0 633.4 1944.5 632.9 1946.0 632.3 1947.5 631.8 1949.0 631.2 1950.5 630.7 1952.0 630.2 1953.5 629.6 1955.0 629.1 1956.5 628.6 1958.0 628.1 1959.5 627.6 1961.0 627.1 1962.5 626.7 1964.0 626.2 1965.5 625.8 1967.0 625.3 1968.5 624.9 1970.0 624.4 1971.5 624.0 1973.0 623.6 1974.5 623.2 1976.0 622.9 1977.5 622.5 1979.0 622.1 1980.5 621.8 1982.0 621.5 1983.5 621.2 1985.0 620.9 1986.5 620.6 1988.0 620.3 1989.5 620.0 1991.0 619.8 1992.5 619.6 1994.0 619.4 1995.5 619.2 1997.0 619.0 1998.5 618.8 2000.0 618.7 2001.5 618.6 2003.0 618.5 2004.5 618.4 2006.0 618.3 2007.5 618.2 2009.0 618.2 2010.5 618.2 2012.0 618.2 2013.5 618.2 2015.0 618.2 2016.5 618.3 2018.0 618.3 2019.5 618.4 2021.0 618.5 2022.5 618.6 2024.0 618.7 2025.5 618.8 2027.0 619.0 2028.5 619.1 2030.0 619.3 2031.5 619.5 2033.0 619.7 2034.5 619.9 2036.0 620.1 2037.5 620.3 2039.0 620.6 2040.5 620.8 2042.0 621.1 2043.5 621.4 2045.0 621.7 2046.5 622.0 2048.0 622.3 2049.5 622.6 2051.0 623.0 2052.5 623.3 2054.0 623.7 2055.5 624.0 2057.0 624.4 2058.5 624.8 2060.0 625.2 2061.5 625.6 2063.0 626.0 2064.5 626.4 2066.0 626.8 2067.5 627.3 2069.0 627.7 2070.5 628.1 2072.0 628.6 2073.5 629.0 2075.0 629.5 2076.5 630.0 2078.0 630.4 2079.5 630.9 2081.0 631.4 2082.5 631.9 2084.0 632.4 2085.5 632.8 2087.0 633.3 2088.5 633.8 2090.0 634.3 2091.5 634.8 2093.0 635.3 2094.5 635.8 2096.0 636.3 2097.5 636.8 2099.0 637.3 2100.5 637.8 2102.0 638.3 2103.5 638.8 2105.0 639.3 2106.5 639.8 2108.0 640.3 2109.5 640.8 2111.0 641.2 2112.5 641.7 2114.0 642.2 2115.5 642.7 2117.0 643.2 2118.5 643.6 2120.0 644.1 2121.5 644.5 2123.0 645.0 2124.5 645.4 2126.0 645.9 2127.5 646.3 2129.0 646.7 2130.5 647.2 2132.0 647.6 2133.5 648.0 2135.0 648.4 2136.5 648.8 2138.0 649.1 2139.5 649.5 2141.0 649.9 2142.5 650.2 2144.0 650.6 2145.5 650.9 2147.0 651.2 2148.5 651.5 2150.0 651.8 2151.5 652.1 2153.0 652.4 2154.5 652.7 2156.0 652.9 2157.5 653.2 2159.0 653.4 2160.5 653.6 2162.0 653.8 2163.5 654.0 2165.0 654.2 2166.5 654.4 2168.0 654.6 2169.5 654.8 2171.0 654.9 2172.5 655.1 2174.0 655.2 2175.5 655.4 2177.0 655.5 2178.5 655.7 2180.0 655.8 2181.5 655.9 2183.0 656.0 2184.5 656.1 2186.0 656.2 2187.5 656.3 2189.0 656.4 2190.5 656.5 2192.0 656.6 2193.5 656.7 2195.0 656.7 2196.5 656.8 2198.0 656.9 2199.5 656.9 2201.0 657.0 2202.5 657.1 2204.0 657.1 2205.5 657.2 2207.0 657.3 2208.5 657.3 2210.0 657.4 2211.5 657.4 2213.0 657.5 2214.5 657.5 2216.0 657.6 2217.5 657.6 2219.0 657.7 2220.5 657.7 2222.0 657.8 2223.5 657.8 2225.0 657.9 2226.5 657.9 2228.0 657.9 2229.5 658.0 2231.0 658.0 2232.5 658.1 2234.0 658.1 2235.5 658.1 2237.0 658.2 2238.5 658.2 2240.0 658.2 2241.5 658.2 2243.0 658.3 2244.5 658.3 2246.0 658.3 2247.5 658.3 2249.0 658.4 2250.5 658.4 2252.0 658.4 2253.5 658.4 2255.0 658.4 2256.5 658.4 2258.0 658.5 2259.5 658.5 2261.0 658.5 2262.5 658.5 2264.0 658.5 2265.5 658.5 2267.0 658.5 2268.5 658.5 2270.0 658.6 2271.5 658.6 2273.0 658.6 2274.5 658.6 2276.0 658.6 2277.5 658.6 2279.0 658.6 2280.5 658.6 2282.0 658.6 2283.5 658.6 2285.0 658.6 2286.5 658.6 2288.0 658.6 2289.5 658.6 2291.0 658.6 2292.5 658.6 2294.0 658.6 2295.5 658.6 2297.0 658.6 2298.5 658.6 2300.0 658.6 2301.5 658.6 2303.0 658.6 2304.5 658.6 2306.0 658.6 2307.5 658.6 2309.0 658.6 2310.5 658.6 2312.0 658.6 2313.5 658.6 2315.0 658.6 2316.5 658.6 2318.0 658.6 2319.5 658.6 2321.0 658.6 2322.5 658.6 2324.0 658.6 2325.5 658.6 2327.0 658.6 2328.5 658.6 2330.0 658.6 2331.5 658.7 2333.0 658.7 2334.5 658.7 2336.0 658.7 2337.5 658.7 2339.0 658.7 2340.5 658.7 2342.0 658.7 2343.5 658.7 2345.0 658.7 2346.5 658.7 2348.0 658.7 2349.5 658.7 2351.0 658.7 2352.5 658.8 2354.0 658.8 2355.5 658.8 2357.0 658.8 2358.5 658.8 2360.0 658.8 2361.5 658.8 2363.0 658.9 2364.5 658.9 2366.0 658.9 2367.5 658.9 2369.0 658.9 2370.5 659.0 2372.0 659.0 2373.5 659.0 2375.0 659.0 2376.5 659.1 2378.0 659.1 2379.5 659.1 2381.0 659.1 2382.5 659.2 2384.0 659.2 2385.5 659.2 2387.0 659.3 2388.5 659.3 2390.0 659.4 2391.5 659.4 2393.0 659.4 2394.5 659.5 2396.0 659.5 2397.5 659.6 2399.0 659.6 2400.5 659.7 2402.0 659.7 2403.5 659.8 2405.0 659.8 2406.5 659.9 2408.0 659.9 2409.5 660.0 2411.0 660.0 2412.5 660.1 2414.0 660.2 2415.5 660.2 2417.0 660.3 2418.0 660.4" stroke="#24a058" stroke-width="2.9"/>
<path d="M1358.0 708.0L1359.5 708.0 1361.0 708.0 1362.5 708.0 1364.0 708.0 1365.5 708.0 1367.0 707.9 1368.5 707.9 1370.0 707.9 1371.5 707.9 1373.0 707.9 1374.5 707.9 1376.0 707.9 1377.5 707.9 1379.0 707.9 1380.5 707.9 1382.0 707.9 1383.5 707.9 1385.0 707.9 1386.5 707.9 1388.0 707.9 1389.5 707.9 1391.0 707.9 1392.5 707.9 1394.0 707.9 1395.5 707.9 1397.0 707.9 1398.5 707.9 1400.0 707.9 1401.5 707.9 1403.0 707.9 1404.5 707.9 1406.0 707.9 1407.5 707.9 1409.0 707.9 1410.5 707.9 1412.0 708.0 1413.5 708.0 1415.0 708.0 1416.5 708.0 1418.0 708.0 1419.5 708.0 1421.0 708.0 1422.5 708.0 1424.0 708.0 1425.5 708.0 1427.0 708.1 1428.5 708.1 1430.0 708.1 1431.5 708.1 1433.0 708.1 1434.5 708.1 1436.0 708.1 1437.5 708.1 1439.0 708.1 1440.5 708.1 1442.0 708.1 1443.5 708.2 1445.0 708.2 1446.5 708.2 1448.0 708.2 1449.5 708.2 1451.0 708.2 1452.5 708.2 1454.0 708.2 1455.5 708.2 1457.0 708.2 1458.5 708.2 1460.0 708.2 1461.5 708.2 1463.0 708.2 1464.5 708.2 1466.0 708.2 1467.5 708.2 1469.0 708.2 1470.5 708.2 1472.0 708.2 1473.5 708.2 1475.0 708.2 1476.5 708.2 1478.0 708.2 1479.5 708.1 1481.0 708.1 1482.5 708.1 1484.0 708.1 1485.5 708.1 1487.0 708.1 1488.5 708.0 1490.0 708.0 1491.5 708.0 1493.0 708.0 1494.5 708.0 1496.0 707.9 1497.5 707.9 1499.0 707.9 1500.5 707.8 1502.0 707.8 1503.5 707.8 1505.0 707.7 1506.5 707.7 1508.0 707.7 1509.5 707.6 1511.0 707.6 1512.5 707.5 1514.0 707.5 1515.5 707.4 1517.0 707.4 1518.5 707.3 1520.0 707.3 1521.5 707.2 1523.0 707.2 1524.5 707.1 1526.0 707.0 1527.5 707.0 1529.0 706.9 1530.5 706.8 1532.0 706.8 1533.5 706.7 1535.0 706.6 1536.5 706.5 1538.0 706.4 1539.5 706.4 1541.0 706.3 1542.5 706.2 1544.0 706.1 1545.5 706.0 1547.0 705.9 1548.5 705.8 1550.0 705.7 1551.5 705.6 1553.0 705.5 1554.5 705.4 1556.0 705.3 1557.5 705.1 1559.0 705.0 1560.5 704.9 1562.0 704.8 1563.5 704.6 1565.0 704.5 1566.5 704.4 1568.0 704.2 1569.5 704.1 1571.0 704.0 1572.5 703.8 1574.0 703.7 1575.5 703.5 1577.0 703.3 1578.5 703.2 1580.0 703.0 1581.5 702.9 1583.0 702.7 1584.5 702.5 1586.0 702.3 1587.5 702.2 1589.0 702.0 1590.5 701.8 1592.0 701.6 1593.5 701.4 1595.0 701.2 1596.5 701.0 1598.0 700.8 1599.5 700.6 1601.0 700.4 1602.5 700.2 1604.0 699.9 1605.5 699.7 1607.0 699.5 1608.5 699.3 1610.0 699.0 1611.5 698.8 1613.0 698.5 1614.5 698.3 1616.0 698.0 1617.5 697.8 1619.0 697.5 1620.5 697.3 1622.0 697.0 1623.5 696.8 1625.0 696.5 1626.5 696.2 1628.0 696.0 1629.5 695.7 1631.0 695.4 1632.5 695.2 1634.0 694.9 1635.5 694.6 1637.0 694.3 1638.5 694.1 1640.0 693.8 1641.5 693.5 1643.0 693.2 1644.5 692.9 1646.0 692.6 1647.5 692.3 1649.0 692.1 1650.5 691.8 1652.0 691.5 1653.5 691.2 1655.0 690.9 1656.5 690.6 1658.0 690.3 1659.5 690.0 1661.0 689.7 1662.5 689.4 1664.0 689.1 1665.5 688.8 1667.0 688.5 1668.5 688.2 1670.0 687.9 1671.5 687.6 1673.0 687.3 1674.5 687.0 1676.0 686.7 1677.5 686.4 1679.0 686.2 1680.5 685.9 1682.0 685.6 1683.5 685.3 1685.0 685.0 1686.5 684.7 1688.0 684.4 1689.5 684.1 1691.0 683.8 1692.5 683.5 1694.0 683.3 1695.5 683.0 1697.0 682.7 1698.5 682.4 1700.0 682.1 1701.5 681.9 1703.0 681.6 1704.5 681.3 1706.0 681.1 1707.5 680.8 1709.0 680.5 1710.5 680.3 1712.0 680.0 1713.5 679.8 1715.0 679.5 1716.5 679.2 1718.0 679.0 1719.5 678.8 1721.0 678.5 1722.5 678.3 1724.0 678.0 1725.5 677.8 1727.0 677.6 1728.5 677.3 1730.0 677.1 1731.5 676.9 1733.0 676.7 1734.5 676.5 1736.0 676.3 1737.5 676.1 1739.0 675.9 1740.5 675.7 1742.0 675.5 1743.5 675.3 1745.0 675.1 1746.5 674.9 1748.0 674.7 1749.5 674.6 1751.0 674.4 1752.5 674.2 1754.0 674.0 1755.5 673.9 1757.0 673.7 1758.5 673.6 1760.0 673.4 1761.5 673.3 1763.0 673.1 1764.5 673.0 1766.0 672.8 1767.5 672.7 1769.0 672.5 1770.5 672.4 1772.0 672.3 1773.5 672.1 1775.0 672.0 1776.5 671.9 1778.0 671.8 1779.5 671.7 1781.0 671.5 1782.5 671.4 1784.0 671.3 1785.5 671.2 1787.0 671.1 1788.5 671.0 1790.0 670.9 1791.5 670.8 1793.0 670.7 1794.5 670.6 1796.0 670.5 1797.5 670.4 1799.0 670.4 1800.5 670.3 1802.0 670.2 1803.5 670.1 1805.0 670.0 1806.5 670.0 1808.0 669.9 1809.5 669.8 1811.0 669.7 1812.5 669.7 1814.0 669.6 1815.5 669.5 1817.0 669.5 1818.5 669.4 1820.0 669.3 1821.5 669.3 1823.0 669.2 1824.5 669.2 1826.0 669.1 1827.5 669.1 1829.0 669.0 1830.5 668.9 1832.0 668.9 1833.5 668.8 1835.0 668.8 1836.5 668.8 1838.0 668.7 1839.5 668.7 1841.0 668.6 1842.5 668.6 1844.0 668.5 1845.5 668.5 1847.0 668.5 1848.5 668.4 1850.0 668.4 1851.5 668.3 1853.0 668.3 1854.5 668.3 1856.0 668.2 1857.5 668.2 1859.0 668.2 1860.5 668.1 1862.0 668.1 1863.5 668.1 1865.0 668.0 1866.5 668.0 1868.0 668.0 1869.5 667.9 1871.0 667.9 1872.5 667.9 1874.0 667.9 1875.5 667.8 1877.0 667.8 1878.5 667.8 1880.0 667.7 1881.5 667.7 1883.0 667.7 1884.5 667.7 1886.0 667.6 1887.5 667.6 1889.0 667.6 1890.5 667.6 1892.0 667.5 1893.5 667.5 1895.0 667.5 1896.5 667.4 1898.0 667.4 1899.5 667.4 1901.0 667.4 1902.5 667.3 1904.0 667.3 1905.5 667.3 1907.0 667.3 1908.5 667.2 1910.0 667.2 1911.5 667.2 1913.0 667.1 1914.5 667.1 1916.0 667.1 1917.5 667.0 1919.0 667.0 1920.5 667.0 1922.0 666.9 1923.5 666.9 1925.0 666.9 1926.5 666.8 1928.0 666.8 1929.5 666.8 1931.0 666.7 1932.5 666.7 1934.0 666.7 1935.5 666.6 1937.0 666.6 1938.5 666.5 1940.0 666.5 1941.5 666.5 1943.0 666.4 1944.5 666.4 1946.0 666.3 1947.5 666.3 1949.0 666.2 1950.5 666.2 1952.0 666.1 1953.5 666.1 1955.0 666.0 1956.5 666.0 1958.0 665.9 1959.5 665.9 1961.0 665.8 1962.5 665.8 1964.0 665.7 1965.5 665.6 1967.0 665.6 1968.5 665.5 1970.0 665.4 1971.5 665.4 1973.0 665.3 1974.5 665.2 1976.0 665.2 1977.5 665.1 1979.0 665.0 1980.5 664.9 1982.0 664.9 1983.5 664.8 1985.0 664.7 1986.5 664.6 1988.0 664.5 1989.5 664.5 1991.0 664.4 1992.5 664.3 1994.0 664.2 1995.5 664.1 1997.0 664.0 1998.5 663.9 2000.0 663.8 2001.5 663.7 2003.0 663.5 2004.5 663.4 2006.0 663.3 2007.5 663.2 2009.0 663.1 2010.5 662.9 2012.0 662.8 2013.5 662.6 2015.0 662.5 2016.5 662.4 2018.0 662.2 2019.5 662.0 2021.0 661.9 2022.5 661.7 2024.0 661.5 2025.5 661.3 2027.0 661.2 2028.5 661.0 2030.0 660.8 2031.5 660.6 2033.0 660.3 2034.5 660.1 2036.0 659.9 2037.5 659.7 2039.0 659.4 2040.5 659.2 2042.0 658.9 2043.5 658.7 2045.0 658.4 2046.5 658.1 2048.0 657.9 2049.5 657.6 2051.0 657.3 2052.5 657.0 2054.0 656.6 2055.5 656.3 2057.0 656.0 2058.5 655.7 2060.0 655.3 2061.5 655.0 2063.0 654.6 2064.5 654.3 2066.0 653.9 2067.5 653.6 2069.0 653.2 2070.5 652.8 2072.0 652.4 2073.5 652.1 2075.0 651.7 2076.5 651.3 2078.0 650.9 2079.5 650.6 2081.0 650.2 2082.5 649.8 2084.0 649.4 2085.5 649.0 2087.0 648.6 2088.5 648.3 2090.0 647.9 2091.5 647.5 2093.0 647.1 2094.5 646.8 2096.0 646.4 2097.5 646.0 2099.0 645.7 2100.5 645.3 2102.0 644.9 2103.5 644.6 2105.0 644.3 2106.5 643.9 2108.0 643.6 2109.5 643.3 2111.0 642.9 2112.5 642.6 2114.0 642.3 2115.5 642.0 2117.0 641.7 2118.5 641.5 2120.0 641.2 2121.5 640.9 2123.0 640.7 2124.5 640.4 2126.0 640.2 2127.5 640.0 2129.0 639.8 2130.5 639.6 2132.0 639.4 2133.5 639.2 2135.0 639.0 2136.5 638.9 2138.0 638.7 2139.5 638.6 2141.0 638.5 2142.5 638.4 2144.0 638.3 2145.5 638.2 2147.0 638.1 2148.5 638.0 2150.0 638.0 2151.5 637.9 2153.0 637.9 2154.5 637.9 2156.0 637.9 2157.5 637.8 2159.0 637.9 2160.5 637.9 2162.0 637.9 2163.5 637.9 2165.0 638.0 2166.5 638.1 2168.0 638.1 2169.5 638.2 2171.0 638.3 2172.5 638.4 2174.0 638.6 2175.5 638.7 2177.0 638.8 2178.5 639.0 2180.0 639.1 2181.5 639.3 2183.0 639.5 2184.5 639.7 2186.0 639.9 2187.5 640.1 2189.0 640.3 2190.5 640.6 2192.0 640.8 2193.5 641.0 2195.0 641.3 2196.5 641.5 2198.0 641.8 2199.5 642.1 2201.0 642.3 2202.5 642.6 2204.0 642.9 2205.5 643.2 2207.0 643.5 2208.5 643.7 2210.0 644.0 2211.5 644.3 2213.0 644.6 2214.5 644.9 2216.0 645.2 2217.5 645.5 2219.0 645.8 2220.5 646.1 2222.0 646.4 2223.5 646.7 2225.0 647.0 2226.5 647.3 2228.0 647.6 2229.5 647.9 2231.0 648.1 2232.5 648.4 2234.0 648.7 2235.5 649.0 2237.0 649.3 2238.5 649.5 2240.0 649.8 2241.5 650.1 2243.0 650.4 2244.5 650.6 2246.0 650.9 2247.5 651.1 2249.0 651.4 2250.5 651.6 2252.0 651.9 2253.5 652.1 2255.0 652.4 2256.5 652.6 2258.0 652.9 2259.5 653.1 2261.0 653.3 2262.5 653.5 2264.0 653.8 2265.5 654.0 2267.0 654.2 2268.5 654.4 2270.0 654.6 2271.5 654.8 2273.0 655.0 2274.5 655.2 2276.0 655.4 2277.5 655.5 2279.0 655.7 2280.5 655.9 2282.0 656.1 2283.5 656.2 2285.0 656.4 2286.5 656.5 2288.0 656.7 2289.5 656.8 2291.0 657.0 2292.5 657.1 2294.0 657.2 2295.5 657.3 2297.0 657.4 2298.5 657.6 2300.0 657.7 2301.5 657.8 2303.0 657.8 2304.5 657.9 2306.0 658.0 2307.5 658.1 2309.0 658.1 2310.5 658.2 2312.0 658.3 2313.5 658.3 2315.0 658.4 2316.5 658.4 2318.0 658.4 2319.5 658.5 2321.0 658.5 2322.5 658.5 2324.0 658.5 2325.5 658.5 2327.0 658.6 2328.5 658.6 2330.0 658.6 2331.5 658.6 2333.0 658.6 2334.5 658.6 2336.0 658.6 2337.5 658.5 2339.0 658.5 2340.5 658.5 2342.0 658.5 2343.5 658.5 2345.0 658.5 2346.5 658.4 2348.0 658.4 2349.5 658.4 2351.0 658.4 2352.5 658.3 2354.0 658.3 2355.5 658.3 2357.0 658.2 2358.5 658.2 2360.0 658.2 2361.5 658.1 2363.0 658.1 2364.5 658.1 2366.0 658.1 2367.5 658.0 2369.0 658.0 2370.5 658.0 2372.0 658.0 2373.5 657.9 2375.0 657.9 2376.5 657.9 2378.0 657.9 2379.5 657.9 2381.0 657.9 2382.5 657.8 2384.0 657.8 2385.5 657.8 2387.0 657.8 2388.5 657.8 2390.0 657.8 2391.5 657.9 2393.0 657.9 2394.5 657.9 2396.0 657.9 2397.5 657.9 2399.0 658.0 2400.5 658.0 2402.0 658.0 2403.5 658.1 2405.0 658.1 2406.5 658.2 2408.0 658.2 2409.5 658.3 2411.0 658.4 2412.5 658.4 2414.0 658.5 2415.5 658.6 2417.0 658.7 2418.0 658.8" stroke="#ad6de6" stroke-width="2.9"/>
</g>
<path d="M1464.00 894V885.5 M1570.00 894V878 M1676.00 894V885.5 M1782.00 894V878 M1888.00 894V885.5 M1994.00 894V878 M2100.00 894V885.5 M2206.00 894V878 M2312.00 894V885.5" stroke="#000" stroke-width="3.4" fill="none"/>
<rect x="1358" y="18.5" width="1060" height="875.5" fill="none" stroke="#000" stroke-width="3.4"/>
</g>
<g id="pc">
<clipPath id="cc"><rect x="105" y="1117.5" width="1063" height="898.5"/></clipPath>
<g clip-path="url(#cc)" fill="none" stroke-linejoin="round" stroke-linecap="round">
<path d="M105.0 1931.4L106.5 1930.9 108.0 1930.5 109.5 1930.1 111.0 1929.8 112.5 1929.5 114.0 1929.2 115.5 1929.0 117.0 1928.8 118.5 1928.6 120.0 1928.4 121.5 1928.3 123.0 1928.2 124.5 1928.1 126.0 1928.1 127.5 1928.0 129.0 1928.0 130.5 1928.0 132.0 1928.0 133.5 1928.0 135.0 1928.1 136.5 1928.1 138.0 1928.2 139.5 1928.2 141.0 1928.3 142.5 1928.3 144.0 1928.4 145.5 1928.4 147.0 1928.5 148.5 1928.5 150.0 1928.6 151.5 1928.6 153.0 1928.6 154.5 1928.7 156.0 1928.7 157.5 1928.6 159.0 1928.6 160.5 1928.6 162.0 1928.5 163.5 1928.4 165.0 1928.3 166.5 1928.1 168.0 1928.0 169.5 1927.8 171.0 1927.6 172.5 1927.4 174.0 1927.2 175.5 1926.9 177.0 1926.7 178.5 1926.4 180.0 1926.1 181.5 1925.8 183.0 1925.5 184.5 1925.2 186.0 1924.8 187.5 1924.5 189.0 1924.1 190.5 1923.8 192.0 1923.4 193.5 1923.0 195.0 1922.7 196.5 1922.3 198.0 1921.9 199.5 1921.5 201.0 1921.1 202.5 1920.7 204.0 1920.3 205.5 1919.9 207.0 1919.6 208.5 1919.2 210.0 1918.8 211.5 1918.4 213.0 1918.0 214.5 1917.7 216.0 1917.3 217.5 1916.9 219.0 1916.6 220.5 1916.2 222.0 1915.8 223.5 1915.4 225.0 1915.0 226.5 1914.6 228.0 1914.2 229.5 1913.7 231.0 1913.2 232.5 1912.8 234.0 1912.2 235.5 1911.7 237.0 1911.1 238.5 1910.5 240.0 1909.9 241.5 1909.2 243.0 1908.5 244.5 1907.8 246.0 1907.0 247.5 1906.2 249.0 1905.3 250.5 1904.4 252.0 1903.4 253.2 1902.6 254.5 1901.7 255.8 1900.7 257.0 1899.8 258.2 1898.7 259.5 1897.7 260.8 1896.6 262.0 1895.4 263.2 1894.2 264.5 1893.0 265.8 1891.7 267.0 1890.4 268.2 1889.0 269.2 1887.8 270.2 1886.6 271.2 1885.4 272.2 1884.2 273.2 1882.9 274.2 1881.5 275.2 1880.1 276.2 1878.7 277.2 1877.3 278.2 1875.8 279.2 1874.3 280.2 1872.7 281.2 1871.1 282.2 1869.4 283.2 1867.7 284.0 1866.4 284.8 1865.1 285.5 1863.7 286.2 1862.3 287.0 1860.9 287.8 1859.5 288.5 1858.0 289.2 1856.6 290.0 1855.0 290.8 1853.5 291.5 1851.9 292.2 1850.3 293.0 1848.7 293.8 1847.1 294.5 1845.4 295.2 1843.7 296.0 1842.0 296.8 1840.2 297.5 1838.4 298.2 1836.6 299.0 1834.7 299.8 1832.9 300.5 1831.0 301.2 1829.0 302.0 1827.1 302.8 1825.1 303.5 1823.0 304.2 1821.0 304.8 1819.5 305.2 1818.1 305.8 1816.6 306.2 1815.0 306.8 1813.4 307.2 1811.7 307.8 1810.0 308.2 1808.2 308.8 1806.4 309.2 1804.4 309.8 1802.4 310.2 1800.3 310.8 1798.1 311.2 1795.8 311.8 1793.4 312.2 1790.9 312.8 1788.3 313.2 1785.6 313.8 1782.7 314.2 1779.8 314.5 1778.3 314.8 1776.8 315.0 1775.3 315.2 1773.8 315.5 1772.2 315.8 1770.6 316.0 1769.0 316.2 1767.4 316.5 1765.8 316.8 1764.2 317.0 1762.6 317.2 1761.0 317.5 1759.3 317.8 1757.7 318.0 1756.0 318.2 1754.4 318.5 1752.7 318.8 1751.1 319.0 1749.4 319.2 1747.8 319.5 1746.1 319.8 1744.5 320.0 1742.9 320.2 1741.3 320.5 1739.7 320.8 1738.1 321.0 1736.5 321.2 1734.9 321.5 1733.3 321.8 1731.8 322.0 1730.3 322.2 1728.7 322.5 1727.2 323.0 1724.3 323.5 1721.5 324.0 1718.7 324.5 1715.9 325.0 1713.2 325.5 1710.5 326.0 1707.8 326.5 1705.1 327.0 1702.5 327.5 1699.8 328.0 1697.0 328.5 1694.3 329.0 1691.5 329.5 1688.6 330.0 1685.6 330.2 1684.1 330.5 1682.6 330.8 1681.0 331.0 1679.5 331.2 1677.9 331.5 1676.2 331.8 1674.6 332.0 1672.9 332.2 1671.2 332.5 1669.4 332.8 1667.6 333.0 1665.8 333.2 1663.9 333.5 1662.0 333.8 1660.1 334.0 1658.1 334.2 1656.1 334.5 1654.0 334.8 1651.9 335.0 1649.7 335.2 1647.5 335.5 1645.3 335.8 1643.0 336.0 1640.6 336.2 1638.3 336.5 1635.8 336.8 1633.4 337.0 1630.9 337.2 1628.4 337.5 1625.9 337.8 1623.3 338.0 1620.8 338.2 1618.2 338.5 1615.6 338.8 1612.9 339.0 1610.3 339.2 1607.7 339.5 1605.0 339.8 1602.3 340.0 1599.7 340.2 1597.0 340.5 1594.4 340.8 1591.8 341.0 1589.1 341.2 1586.5 341.5 1583.9 341.8 1581.3 342.0 1578.7 342.2 1576.2 342.5 1573.6 342.8 1571.1 343.0 1568.7 343.2 1566.2 343.5 1563.8 343.8 1561.4 344.0 1559.1 344.2 1556.8 344.5 1554.6 344.8 1552.4 345.0 1550.2 345.2 1548.1 345.5 1546.0 345.8 1544.0 346.0 1542.0 346.2 1540.1 346.5 1538.2 346.8 1536.4 347.0 1534.5 347.2 1532.7 347.5 1531.0 347.8 1529.2 348.0 1527.5 348.2 1525.8 348.5 1524.1 348.8 1522.4 349.0 1520.7 349.2 1519.1 349.5 1517.4 349.8 1515.7 350.0 1514.1 350.2 1512.4 350.5 1510.7 350.8 1509.0 351.0 1507.3 351.2 1505.6 351.5 1503.9 351.8 1502.2 352.0 1500.4 352.2 1498.6 352.5 1496.8 352.8 1494.9 353.0 1493.1 353.2 1491.2 353.5 1489.2 353.8 1487.3 354.0 1485.4 354.2 1483.4 354.5 1481.4 354.8 1479.4 355.0 1477.3 355.2 1475.3 355.5 1473.2 355.8 1471.1 356.0 1469.0 356.2 1466.9 356.5 1464.7 356.8 1462.6 357.0 1460.4 357.2 1458.2 357.5 1456.0 357.8 1453.8 358.0 1451.6 358.2 1449.4 358.5 1447.1 358.8 1444.9 359.0 1442.6 359.2 1440.4 359.5 1438.1 359.8 1435.8 360.0 1433.6 360.2 1431.3 360.5 1429.0 360.8 1426.7 361.0 1424.4 361.2 1422.1 361.5 1419.8 361.8 1417.5 362.0 1415.2 362.2 1412.9 362.5 1410.6 362.8 1408.3 363.0 1406.0 363.2 1403.7 363.5 1401.4 363.8 1399.1 364.0 1396.8 364.2 1394.5 364.5 1392.2 364.8 1389.9 365.0 1387.7 365.2 1385.4 365.5 1383.2 365.8 1380.9 366.0 1378.7 366.2 1376.5 366.5 1374.2 366.8 1372.0 367.0 1369.8 367.2 1367.6 367.5 1365.5 367.8 1363.3 368.0 1361.1 368.2 1359.0 368.5 1356.8 368.8 1354.7 369.0 1352.6 369.2 1350.5 369.5 1348.4 369.8 1346.3 370.0 1344.2 370.2 1342.1 370.5 1340.1 370.8 1338.0 371.0 1336.0 371.2 1333.9 371.5 1331.9 371.8 1329.9 372.0 1327.9 372.2 1325.9 372.5 1323.9 372.8 1322.0 373.0 1320.0 373.2 1318.1 373.5 1316.1 373.8 1314.2 374.0 1312.3 374.2 1310.4 374.5 1308.5 374.8 1306.6 375.0 1304.7 375.2 1302.9 375.5 1301.0 375.8 1299.2 376.0 1297.4 376.2 1295.5 376.5 1293.7 376.8 1292.0 377.0 1290.2 377.2 1288.4 377.5 1286.7 377.8 1284.9 378.0 1283.2 378.2 1281.5 378.5 1279.8 378.8 1278.1 379.0 1276.4 379.2 1274.7 379.5 1273.1 379.8 1271.4 380.0 1269.8 380.2 1268.2 380.5 1266.6 380.8 1265.0 381.0 1263.4 381.2 1261.8 381.5 1260.3 381.8 1258.7 382.0 1257.2 382.2 1255.7 382.5 1254.2 382.8 1252.7 383.2 1249.8 383.8 1246.9 384.2 1244.1 384.8 1241.3 385.2 1238.6 385.8 1235.9 386.2 1233.3 386.8 1230.8 387.2 1228.3 387.8 1225.9 388.2 1223.6 388.8 1221.4 389.2 1219.2 389.8 1217.1 390.2 1215.2 390.8 1213.3 391.2 1211.5 391.8 1209.8 392.2 1208.1 392.8 1206.5 393.2 1205.0 393.8 1203.5 394.2 1202.0 394.8 1200.5 395.2 1199.0 395.8 1197.6 396.2 1196.1 397.0 1194.0 397.8 1192.0 398.5 1190.1 399.2 1188.3 400.0 1186.8 400.8 1185.4 401.8 1183.8 402.8 1182.5 404.0 1181.3 405.2 1180.3 406.8 1179.5 408.2 1179.0 409.8 1178.9 411.2 1179.0 412.8 1179.6 414.2 1180.4 415.5 1181.4 416.8 1182.7 417.8 1183.8 418.8 1185.2 419.8 1186.6 420.8 1188.3 421.5 1189.6 422.2 1191.0 423.0 1192.5 423.8 1194.1 424.5 1195.8 425.2 1197.6 426.0 1199.4 426.8 1201.3 427.5 1203.3 428.2 1205.4 428.8 1206.9 429.2 1208.4 429.8 1209.9 430.2 1211.5 430.8 1213.1 431.2 1214.7 431.8 1216.4 432.2 1218.1 432.8 1219.8 433.2 1221.6 433.8 1223.4 434.2 1225.3 434.8 1227.2 435.2 1229.1 435.8 1231.0 436.2 1233.0 436.8 1235.0 437.2 1237.0 437.8 1239.1 438.2 1241.1 438.8 1243.2 439.2 1245.3 439.8 1247.4 440.2 1249.6 440.8 1251.7 441.2 1253.8 441.8 1256.0 442.2 1258.1 442.8 1260.3 443.2 1262.5 443.8 1264.6 444.2 1266.8 444.8 1268.9 445.2 1271.1 445.8 1273.2 446.2 1275.3 446.8 1277.4 447.2 1279.5 447.8 1281.6 448.2 1283.6 448.8 1285.7 449.2 1287.8 449.8 1289.8 450.2 1291.9 450.8 1293.9 451.2 1295.9 451.8 1298.0 452.2 1300.1 452.8 1302.1 453.2 1304.2 453.8 1306.3 454.2 1308.4 454.8 1310.5 455.2 1312.6 455.8 1314.7 456.2 1316.9 456.8 1319.1 457.2 1321.3 457.8 1323.5 458.2 1325.8 458.8 1328.1 459.2 1330.4 459.8 1332.8 460.2 1335.2 460.8 1337.6 461.2 1340.1 461.8 1342.6 462.2 1345.1 462.8 1347.6 463.2 1350.1 463.8 1352.6 464.2 1355.1 464.8 1357.5 465.2 1360.0 465.8 1362.4 466.2 1364.7 466.8 1367.0 467.2 1369.3 467.8 1371.5 468.2 1373.7 468.8 1375.9 469.2 1378.1 469.8 1380.2 470.2 1382.4 470.8 1384.7 471.2 1386.9 471.8 1389.3 472.2 1391.7 472.8 1394.1 473.2 1396.7 473.8 1399.4 474.2 1402.1 474.8 1405.0 475.2 1407.9 475.5 1409.4 475.8 1410.9 476.0 1412.4 476.2 1413.9 476.5 1415.5 476.8 1417.0 477.0 1418.6 477.2 1420.1 477.5 1421.7 477.8 1423.3 478.0 1424.9 478.2 1426.5 478.5 1428.1 478.8 1429.7 479.0 1431.2 479.2 1432.8 479.5 1434.4 479.8 1436.0 480.0 1437.6 480.2 1439.1 480.5 1440.7 480.8 1442.3 481.0 1443.8 481.2 1445.3 481.5 1446.9 481.8 1448.4 482.0 1449.8 482.5 1452.8 483.0 1455.6 483.5 1458.5 484.0 1461.2 484.5 1463.9 485.0 1466.5 485.5 1469.1 486.0 1471.7 486.5 1474.2 487.0 1476.6 487.5 1479.1 488.0 1481.4 488.5 1483.8 489.0 1486.1 489.5 1488.4 490.0 1490.7 490.5 1492.9 491.0 1495.1 491.5 1497.4 492.0 1499.5 492.5 1501.7 493.0 1503.9 493.5 1506.1 494.0 1508.2 494.5 1510.4 495.0 1512.6 495.5 1514.7 496.0 1516.9 496.5 1519.1 497.0 1521.2 497.5 1523.4 498.0 1525.6 498.5 1527.7 499.0 1529.9 499.5 1532.1 500.0 1534.2 500.5 1536.4 501.0 1538.5 501.5 1540.7 502.0 1542.8 502.5 1544.9 503.0 1547.0 503.5 1549.1 504.0 1551.2 504.5 1553.3 505.0 1555.4 505.5 1557.4 506.0 1559.4 506.5 1561.5 507.0 1563.4 507.5 1565.4 508.0 1567.4 508.5 1569.3 509.0 1571.2 509.5 1573.1 510.0 1575.0 510.5 1576.8 511.0 1578.6 511.5 1580.4 512.0 1582.2 512.5 1584.0 513.0 1585.7 513.5 1587.4 514.0 1589.1 514.5 1590.8 515.0 1592.5 515.5 1594.1 516.0 1595.8 516.5 1597.4 517.0 1599.1 517.5 1600.7 518.0 1602.3 518.5 1603.9 519.0 1605.5 519.5 1607.1 520.0 1608.7 520.5 1610.3 521.0 1612.0 521.5 1613.6 522.0 1615.2 522.5 1616.8 523.0 1618.4 523.5 1620.1 524.0 1621.7 524.5 1623.4 525.0 1625.0 525.5 1626.7 526.0 1628.4 526.5 1630.1 527.0 1631.8 527.5 1633.5 528.0 1635.2 528.5 1636.9 529.0 1638.7 529.5 1640.4 530.0 1642.1 530.5 1643.9 531.0 1645.6 531.5 1647.3 532.0 1649.0 532.5 1650.8 533.0 1652.5 533.5 1654.2 534.0 1655.9 534.5 1657.5 535.0 1659.2 535.5 1660.9 536.0 1662.5 536.5 1664.1 537.0 1665.7 537.5 1667.3 538.0 1668.9 538.5 1670.5 539.0 1672.0 539.5 1673.5 540.0 1675.0 540.5 1676.4 541.0 1677.9 541.8 1679.9 542.5 1682.0 543.2 1684.0 544.0 1685.9 544.8 1687.8 545.5 1689.7 546.2 1691.5 547.0 1693.3 547.8 1695.0 548.5 1696.7 549.2 1698.4 550.0 1700.0 550.8 1701.6 551.5 1703.2 552.2 1704.8 553.0 1706.3 553.8 1707.8 554.5 1709.4 555.2 1710.9 556.0 1712.3 556.8 1713.8 557.5 1715.3 558.2 1716.8 559.0 1718.2 559.8 1719.7 560.5 1721.2 561.2 1722.6 562.0 1724.1 562.8 1725.6 563.5 1727.1 564.2 1728.7 565.0 1730.2 565.8 1731.7 566.5 1733.2 567.2 1734.7 568.0 1736.3 568.8 1737.8 569.5 1739.3 570.2 1740.8 571.0 1742.2 571.8 1743.7 572.5 1745.1 573.2 1746.5 574.0 1747.9 574.8 1749.2 575.5 1750.6 576.5 1752.3 577.5 1753.9 578.5 1755.5 579.5 1757.1 580.5 1758.6 581.5 1760.0 582.5 1761.4 583.5 1762.8 584.5 1764.1 585.5 1765.3 586.5 1766.6 587.5 1767.8 588.5 1768.9 589.5 1770.1 590.8 1771.4 592.0 1772.8 593.2 1774.0 594.5 1775.3 595.8 1776.5 597.0 1777.7 598.2 1778.8 599.5 1780.0 600.8 1781.1 602.0 1782.2 603.2 1783.3 604.5 1784.3 605.8 1785.4 607.0 1786.4 608.2 1787.4 609.5 1788.5 610.8 1789.4 612.0 1790.4 613.2 1791.4 614.5 1792.3 615.8 1793.3 617.0 1794.2 618.2 1795.1 619.5 1796.0 620.8 1796.9 622.0 1797.8 623.2 1798.6 624.5 1799.5 625.8 1800.3 627.2 1801.3 628.8 1802.3 630.2 1803.2 631.8 1804.2 633.2 1805.1 634.8 1806.0 636.2 1807.0 637.8 1807.8 639.2 1808.7 640.8 1809.6 642.2 1810.5 643.8 1811.3 645.2 1812.2 646.8 1813.0 648.2 1813.8 649.8 1814.6 651.2 1815.5 652.8 1816.3 654.2 1817.1 655.8 1817.8 657.2 1818.6 658.8 1819.4 660.2 1820.2 661.8 1821.0 663.2 1821.7 664.8 1822.5 666.2 1823.2 667.8 1824.0 669.2 1824.8 670.8 1825.5 672.2 1826.3 673.8 1827.0 675.2 1827.8 676.8 1828.5 678.2 1829.3 679.8 1830.1 681.2 1830.8 682.8 1831.6 684.2 1832.3 685.8 1833.1 687.2 1833.8 688.8 1834.5 690.2 1835.3 691.8 1836.0 693.2 1836.7 694.8 1837.4 696.2 1838.1 697.8 1838.8 699.2 1839.4 700.8 1840.1 702.2 1840.7 703.8 1841.3 705.2 1842.0 706.8 1842.6 708.2 1843.1 709.8 1843.7 711.2 1844.2 712.8 1844.8 714.2 1845.3 715.8 1845.8 717.2 1846.2 718.8 1846.7 720.2 1847.1 721.8 1847.5 723.2 1847.8 724.8 1848.2 726.2 1848.5 727.8 1848.8 729.2 1849.1 730.8 1849.3 732.2 1849.5 733.8 1849.7 735.2 1849.9 736.8 1850.0 738.2 1850.1 739.8 1850.3 741.2 1850.3 742.8 1850.4 744.2 1850.5 745.8 1850.5 747.2 1850.5 748.8 1850.5 750.2 1850.5 751.8 1850.5 753.2 1850.5 754.8 1850.4 756.2 1850.4 757.8 1850.3 759.2 1850.2 760.8 1850.1 762.2 1850.0 763.8 1849.9 765.2 1849.8 766.8 1849.7 768.2 1849.5 769.8 1849.4 771.2 1849.3 772.8 1849.1 774.2 1849.0 775.8 1848.9 777.2 1848.7 778.8 1848.6 780.2 1848.4 781.8 1848.3 783.2 1848.2 784.8 1848.0 786.2 1847.9 787.8 1847.8 789.2 1847.7 790.8 1847.6 792.2 1847.5 793.8 1847.4 795.2 1847.3 796.8 1847.2 798.2 1847.1 799.8 1847.1 801.2 1847.0 802.8 1847.0 804.2 1846.9 805.8 1846.9 807.2 1846.9 808.8 1846.9 810.2 1846.9 811.8 1846.9 813.2 1846.9 814.8 1847.0 816.2 1847.0 817.8 1847.0 819.2 1847.1 820.8 1847.1 822.2 1847.1 823.8 1847.2 825.2 1847.2 826.8 1847.2 828.2 1847.3 829.8 1847.3 831.2 1847.3 832.8 1847.3 834.2 1847.4 835.8 1847.4 837.2 1847.4 838.8 1847.4 840.2 1847.4 841.8 1847.3 843.2 1847.3 844.8 1847.3 846.2 1847.3 847.8 1847.3 849.2 1847.3 850.8 1847.3 852.2 1847.3 853.8 1847.4 855.2 1847.4 856.8 1847.5 858.2 1847.6 859.8 1847.7 861.2 1847.9 862.8 1848.1 864.2 1848.3 865.8 1848.5 867.2 1848.8 868.8 1849.1 870.2 1849.4 871.8 1849.8 873.2 1850.2 874.8 1850.5 876.2 1851.0 877.8 1851.4 879.2 1851.8 880.8 1852.3 882.2 1852.8 883.8 1853.3 885.2 1853.8 886.8 1854.3 888.2 1854.9 889.8 1855.4 891.2 1855.9 892.8 1856.5 894.2 1857.0 895.8 1857.6 897.2 1858.2 898.8 1858.7 900.2 1859.3 901.8 1859.8 903.2 1860.4 904.8 1861.0 906.2 1861.5 907.8 1862.0 909.2 1862.6 910.8 1863.1 912.2 1863.6 913.8 1864.1 915.2 1864.6 916.8 1865.1 918.2 1865.6 919.8 1866.1 921.2 1866.6 922.8 1867.0 924.2 1867.5 925.8 1868.0 927.2 1868.4 928.8 1868.8 930.2 1869.3 931.8 1869.7 933.2 1870.1 934.8 1870.6 936.2 1871.0 937.8 1871.4 939.2 1871.8 940.8 1872.2 942.2 1872.5 943.8 1872.9 945.2 1873.3 946.8 1873.7 948.2 1874.0 949.8 1874.4 951.2 1874.7 952.8 1875.1 954.2 1875.4 955.8 1875.8 957.2 1876.1 958.8 1876.4 960.2 1876.7 961.8 1877.0 963.2 1877.3 964.8 1877.6 966.2 1877.9 967.8 1878.2 969.2 1878.5 970.8 1878.8 972.2 1879.1 973.8 1879.3 975.2 1879.6 976.8 1879.9 978.2 1880.1 979.8 1880.4 981.2 1880.6 982.8 1880.9 984.2 1881.1 985.8 1881.3 987.2 1881.6 988.8 1881.8 990.2 1882.0 991.8 1882.2 993.2 1882.4 994.8 1882.6 996.2 1882.9 997.8 1883.0 999.2 1883.2 1000.8 1883.4 1002.2 1883.6 1003.8 1883.8 1005.2 1884.0 1006.8 1884.2 1008.2 1884.3 1009.8 1884.5 1011.2 1884.7 1012.8 1884.8 1014.2 1885.0 1015.8 1885.1 1017.2 1885.3 1018.8 1885.4 1020.2 1885.6 1021.8 1885.7 1023.2 1885.9 1024.8 1886.0 1026.2 1886.1 1027.8 1886.3 1029.2 1886.4 1030.8 1886.5 1032.2 1886.6 1033.8 1886.7 1035.2 1886.8 1036.8 1887.0 1038.2 1887.1 1039.8 1887.2 1041.2 1887.3 1042.8 1887.4 1044.2 1887.5 1045.8 1887.6 1047.2 1887.6 1048.8 1887.7 1050.2 1887.8 1051.8 1887.9 1053.2 1888.0 1054.8 1888.1 1056.2 1888.1 1057.8 1888.2 1059.2 1888.3 1060.8 1888.3 1062.2 1888.4 1063.8 1888.5 1065.2 1888.5 1066.8 1888.6 1068.2 1888.7 1069.8 1888.7 1071.2 1888.8 1072.8 1888.8 1074.2 1888.9 1075.8 1888.9 1077.2 1889.0 1078.8 1889.0 1080.2 1889.1 1081.8 1889.1 1083.2 1889.1 1084.8 1889.2 1086.2 1889.2 1087.8 1889.2 1089.2 1889.3 1090.8 1889.3 1092.2 1889.3 1093.8 1889.4 1095.2 1889.4 1096.8 1889.4 1098.2 1889.5 1099.8 1889.5 1101.2 1889.5 1102.8 1889.5 1104.2 1889.6 1105.8 1889.6 1107.2 1889.6 1108.8 1889.6 1110.2 1889.6 1111.8 1889.7 1113.2 1889.7 1114.8 1889.7 1116.2 1889.7 1117.8 1889.7 1119.2 1889.7 1120.8 1889.8 1122.2 1889.8 1123.8 1889.8 1125.2 1889.8 1126.8 1889.8 1128.2 1889.8 1129.8 1889.8 1131.2 1889.8 1132.8 1889.9 1134.2 1889.9 1135.8 1889.9 1137.2 1889.9 1138.8 1889.9 1140.2 1889.9 1141.8 1889.9 1143.2 1889.9 1144.8 1890.0 1146.2 1890.0 1147.8 1890.0 1149.2 1890.0 1150.8 1890.0 1152.2 1890.0 1153.8 1890.0 1155.2 1890.0 1156.8 1890.1 1158.2 1890.1 1159.8 1890.1 1161.2 1890.1 1162.8 1890.1 1164.2 1890.1 1165.8 1890.2 1167.2 1890.2 1168.0 1890.2" stroke="#646464" stroke-width="2.7"/>
<path d="M105.0 1933.1L106.5 1933.0 108.0 1933.0 109.5 1933.0 111.0 1933.0 112.5 1932.9 114.0 1932.9 115.5 1932.9 117.0 1932.9 118.5 1932.9 120.0 1932.9 121.5 1932.9 123.0 1932.9 124.5 1932.8 126.0 1932.8 127.5 1932.8 129.0 1932.8 130.5 1932.8 132.0 1932.8 133.5 1932.8 135.0 1932.8 136.5 1932.8 138.0 1932.8 139.5 1932.8 141.0 1932.8 142.5 1932.8 144.0 1932.8 145.5 1932.8 147.0 1932.8 148.5 1932.8 150.0 1932.8 151.5 1932.8 153.0 1932.8 154.5 1932.8 156.0 1932.8 157.5 1932.8 159.0 1932.8 160.5 1932.8 162.0 1932.8 163.5 1932.8 165.0 1932.7 166.5 1932.7 168.0 1932.7 169.5 1932.7 171.0 1932.7 172.5 1932.7 174.0 1932.6 175.5 1932.6 177.0 1932.6 178.5 1932.5 180.0 1932.5 181.5 1932.5 183.0 1932.4 184.5 1932.4 186.0 1932.3 187.5 1932.3 189.0 1932.2 190.5 1932.2 192.0 1932.1 193.5 1932.1 195.0 1932.0 196.5 1931.9 198.0 1931.9 199.5 1931.8 201.0 1931.7 202.5 1931.6 204.0 1931.5 205.5 1931.4 207.0 1931.3 208.5 1931.2 210.0 1931.1 211.5 1931.0 213.0 1930.9 214.5 1930.8 216.0 1930.6 217.5 1930.5 219.0 1930.3 220.5 1930.2 222.0 1930.0 223.5 1929.8 225.0 1929.7 226.5 1929.5 228.0 1929.3 229.5 1929.1 231.0 1928.8 232.5 1928.6 234.0 1928.4 235.5 1928.1 237.0 1927.9 238.5 1927.6 240.0 1927.3 241.5 1927.0 243.0 1926.7 244.5 1926.3 246.0 1925.9 247.5 1925.5 249.0 1925.0 250.5 1924.4 252.0 1923.8 253.5 1923.2 255.0 1922.4 256.5 1921.7 258.0 1920.8 259.5 1919.9 260.8 1919.0 262.0 1918.1 263.2 1917.2 264.5 1916.2 265.8 1915.1 267.0 1914.0 268.2 1912.8 269.5 1911.5 270.8 1910.2 272.0 1908.8 273.0 1907.6 274.0 1906.4 275.0 1905.1 276.0 1903.8 277.0 1902.4 278.0 1901.0 279.0 1899.6 280.0 1898.0 281.0 1896.5 282.0 1894.8 283.0 1893.1 283.8 1891.8 284.5 1890.5 285.2 1889.1 286.0 1887.7 286.8 1886.3 287.5 1884.8 288.2 1883.3 289.0 1881.7 289.8 1880.2 290.5 1878.6 291.2 1876.9 292.0 1875.2 292.8 1873.5 293.5 1871.7 294.2 1869.9 295.0 1868.1 295.8 1866.2 296.5 1864.3 297.2 1862.3 298.0 1860.3 298.8 1858.3 299.5 1856.2 300.2 1854.0 300.8 1852.6 301.2 1851.1 301.8 1849.7 302.2 1848.2 302.8 1846.6 303.2 1845.1 303.8 1843.5 304.2 1842.0 304.8 1840.4 305.2 1838.7 305.8 1837.1 306.2 1835.5 306.8 1833.8 307.2 1832.1 307.8 1830.3 308.2 1828.6 308.8 1826.8 309.2 1825.1 309.8 1823.3 310.2 1821.4 310.8 1819.6 311.2 1817.7 311.8 1815.8 312.2 1813.9 312.8 1811.9 313.2 1810.0 313.8 1808.0 314.2 1805.9 314.8 1803.9 315.2 1801.8 315.8 1799.7 316.2 1797.5 316.8 1795.3 317.2 1793.1 317.8 1790.8 318.2 1788.5 318.8 1786.2 319.2 1783.8 319.8 1781.4 320.2 1778.9 320.8 1776.4 321.2 1773.8 321.8 1771.2 322.2 1768.6 322.8 1765.9 323.2 1763.2 323.8 1760.4 324.2 1757.6 324.8 1754.7 325.2 1751.8 325.5 1750.3 325.8 1748.8 326.0 1747.2 326.2 1745.7 326.5 1744.2 326.8 1742.6 327.0 1741.1 327.2 1739.5 327.5 1737.9 327.8 1736.3 328.0 1734.6 328.2 1733.0 328.5 1731.3 328.8 1729.7 329.0 1728.0 329.2 1726.3 329.5 1724.6 329.8 1722.9 330.0 1721.1 330.2 1719.4 330.5 1717.7 330.8 1715.9 331.0 1714.1 331.2 1712.4 331.5 1710.6 331.8 1708.8 332.0 1707.0 332.2 1705.2 332.5 1703.4 332.8 1701.6 333.0 1699.8 333.2 1698.0 333.5 1696.2 333.8 1694.4 334.0 1692.6 334.2 1690.8 334.5 1688.9 334.8 1687.1 335.0 1685.3 335.2 1683.5 335.5 1681.7 335.8 1679.9 336.0 1678.1 336.2 1676.3 336.5 1674.5 336.8 1672.7 337.0 1671.0 337.2 1669.2 337.5 1667.4 337.8 1665.7 338.0 1663.9 338.2 1662.2 338.5 1660.5 338.8 1658.8 339.0 1657.1 339.2 1655.4 339.5 1653.7 339.8 1652.0 340.0 1650.4 340.2 1648.7 340.5 1647.1 340.8 1645.5 341.0 1643.9 341.2 1642.3 341.5 1640.7 341.8 1639.1 342.0 1637.5 342.2 1635.9 342.5 1634.3 342.8 1632.7 343.0 1631.1 343.2 1629.5 343.5 1627.9 343.8 1626.3 344.0 1624.7 344.2 1623.0 344.5 1621.4 344.8 1619.7 345.0 1618.0 345.2 1616.3 345.5 1614.5 345.8 1612.8 346.0 1611.0 346.2 1609.2 346.5 1607.4 346.8 1605.5 347.0 1603.6 347.2 1601.7 347.5 1599.7 347.8 1597.7 348.0 1595.7 348.2 1593.6 348.5 1591.5 348.8 1589.4 349.0 1587.2 349.2 1585.0 349.5 1582.7 349.8 1580.4 350.0 1578.1 350.2 1575.8 350.5 1573.4 350.8 1571.0 351.0 1568.5 351.2 1566.1 351.5 1563.5 351.8 1561.0 352.0 1558.4 352.2 1555.8 352.5 1553.2 352.8 1550.5 353.0 1547.8 353.2 1545.1 353.5 1542.3 353.8 1539.5 354.0 1536.7 354.2 1533.8 354.5 1530.9 354.8 1528.0 355.0 1525.1 355.2 1522.1 355.5 1519.1 355.8 1516.1 356.0 1513.1 356.2 1510.0 356.5 1506.9 356.8 1503.8 357.0 1500.7 357.2 1497.6 357.5 1494.4 357.8 1491.2 358.0 1488.1 358.2 1484.9 358.5 1481.7 358.8 1478.5 359.0 1475.3 359.2 1472.1 359.5 1468.9 359.8 1465.8 360.0 1462.6 360.2 1459.4 360.5 1456.2 360.8 1453.0 361.0 1449.9 361.2 1446.8 361.5 1443.6 361.8 1440.5 362.0 1437.4 362.2 1434.3 362.5 1431.3 362.8 1428.2 363.0 1425.2 363.2 1422.2 363.5 1419.2 363.8 1416.2 364.0 1413.3 364.2 1410.4 364.5 1407.5 364.8 1404.7 365.0 1401.8 365.2 1399.0 365.5 1396.3 365.8 1393.5 366.0 1390.8 366.2 1388.2 366.5 1385.5 366.8 1382.9 367.0 1380.4 367.2 1377.8 367.5 1375.3 367.8 1372.9 368.0 1370.5 368.2 1368.1 368.5 1365.7 368.8 1363.4 369.0 1361.1 369.2 1358.8 369.5 1356.6 369.8 1354.4 370.0 1352.2 370.2 1350.0 370.5 1347.8 370.8 1345.7 371.0 1343.6 371.2 1341.5 371.5 1339.5 371.8 1337.4 372.0 1335.4 372.2 1333.4 372.5 1331.4 372.8 1329.4 373.0 1327.4 373.2 1325.5 373.5 1323.5 373.8 1321.6 374.0 1319.7 374.2 1317.8 374.5 1315.9 374.8 1314.0 375.0 1312.1 375.2 1310.2 375.5 1308.4 375.8 1306.5 376.0 1304.7 376.2 1302.9 376.5 1301.1 376.8 1299.3 377.0 1297.5 377.2 1295.7 377.5 1293.9 377.8 1292.2 378.0 1290.4 378.2 1288.7 378.5 1286.9 378.8 1285.2 379.0 1283.5 379.2 1281.8 379.5 1280.1 379.8 1278.4 380.0 1276.7 380.2 1275.0 380.5 1273.4 380.8 1271.7 381.0 1270.1 381.2 1268.4 381.5 1266.8 381.8 1265.2 382.0 1263.6 382.2 1262.0 382.5 1260.4 382.8 1258.8 383.0 1257.2 383.2 1255.6 383.5 1254.1 383.8 1252.5 384.0 1251.0 384.2 1249.4 384.5 1247.9 384.8 1246.4 385.0 1244.9 385.2 1243.3 385.5 1241.8 385.8 1240.3 386.0 1238.9 386.2 1237.4 386.8 1234.4 387.2 1231.5 387.8 1228.6 388.2 1225.8 388.8 1223.1 389.2 1220.4 389.8 1217.9 390.2 1215.5 390.8 1213.2 391.2 1211.0 391.8 1209.0 392.2 1207.0 392.8 1205.2 393.2 1203.4 393.8 1201.7 394.2 1200.0 394.8 1198.4 395.2 1196.9 395.8 1195.4 396.2 1194.0 397.0 1192.0 397.8 1190.1 398.5 1188.4 399.2 1187.0 400.2 1185.5 401.5 1184.3 403.0 1183.9 404.5 1184.5 405.8 1185.8 406.8 1187.2 407.5 1188.6 408.2 1190.1 409.0 1191.9 409.8 1193.9 410.2 1195.3 410.8 1196.8 411.2 1198.4 411.8 1200.1 412.2 1201.8 412.8 1203.6 413.2 1205.4 413.8 1207.2 414.2 1209.1 414.8 1211.0 415.2 1212.9 415.8 1214.9 416.2 1216.8 416.8 1218.7 417.2 1220.7 417.8 1222.6 418.2 1224.6 418.8 1226.6 419.2 1228.6 419.8 1230.7 420.2 1232.9 420.8 1235.2 421.2 1237.7 421.8 1240.2 422.2 1242.9 422.8 1245.8 423.0 1247.3 423.2 1248.8 423.5 1250.4 423.8 1252.1 424.0 1253.8 424.2 1255.5 424.5 1257.2 424.8 1259.0 425.0 1260.9 425.2 1262.7 425.5 1264.6 425.8 1266.5 426.0 1268.5 426.2 1270.4 426.5 1272.4 426.8 1274.4 427.0 1276.4 427.2 1278.4 427.5 1280.4 427.8 1282.5 428.0 1284.5 428.2 1286.6 428.5 1288.6 428.8 1290.7 429.0 1292.8 429.2 1294.9 429.5 1296.9 429.8 1299.0 430.0 1301.1 430.2 1303.3 430.5 1305.4 430.8 1307.5 431.0 1309.6 431.2 1311.8 431.5 1313.9 431.8 1316.0 432.0 1318.2 432.2 1320.3 432.5 1322.5 432.8 1324.6 433.0 1326.7 433.2 1328.9 433.5 1331.0 433.8 1333.2 434.0 1335.3 434.2 1337.5 434.5 1339.6 434.8 1341.8 435.0 1343.9 435.2 1346.1 435.5 1348.2 435.8 1350.3 436.0 1352.5 436.2 1354.6 436.5 1356.7 436.8 1358.8 437.0 1360.9 437.2 1363.0 437.5 1365.1 437.8 1367.2 438.0 1369.3 438.2 1371.4 438.5 1373.6 438.8 1375.7 439.0 1377.8 439.2 1379.9 439.5 1382.1 439.8 1384.2 440.0 1386.4 440.2 1388.6 440.5 1390.8 440.8 1393.0 441.0 1395.3 441.2 1397.5 441.5 1399.8 441.8 1402.1 442.0 1404.5 442.2 1406.8 442.5 1409.2 442.8 1411.6 443.0 1414.0 443.2 1416.5 443.5 1418.9 443.8 1421.4 444.0 1423.9 444.2 1426.3 444.5 1428.8 444.8 1431.3 445.0 1433.8 445.2 1436.3 445.5 1438.7 445.8 1441.2 446.0 1443.7 446.2 1446.1 446.5 1448.6 446.8 1451.0 447.0 1453.4 447.2 1455.8 447.5 1458.1 447.8 1460.5 448.0 1462.9 448.2 1465.2 448.5 1467.5 448.8 1469.8 449.0 1472.1 449.2 1474.4 449.5 1476.7 449.8 1479.0 450.0 1481.2 450.2 1483.5 450.5 1485.7 450.8 1488.0 451.0 1490.2 451.2 1492.4 451.5 1494.7 451.8 1496.9 452.0 1499.1 452.2 1501.3 452.5 1503.5 452.8 1505.7 453.0 1507.9 453.2 1510.1 453.5 1512.3 453.8 1514.5 454.0 1516.7 454.2 1518.9 454.5 1521.0 454.8 1523.2 455.0 1525.4 455.2 1527.6 455.5 1529.8 455.8 1532.0 456.0 1534.2 456.2 1536.4 456.5 1538.6 456.8 1540.8 457.0 1543.0 457.2 1545.2 457.5 1547.4 457.8 1549.6 458.0 1551.8 458.2 1554.0 458.5 1556.2 458.8 1558.4 459.0 1560.6 459.2 1562.8 459.5 1565.0 459.8 1567.2 460.0 1569.4 460.2 1571.5 460.5 1573.7 460.8 1575.9 461.0 1578.0 461.2 1580.2 461.5 1582.3 461.8 1584.4 462.0 1586.6 462.2 1588.7 462.5 1590.8 462.8 1592.9 463.0 1595.0 463.2 1597.1 463.5 1599.2 463.8 1601.3 464.0 1603.4 464.2 1605.4 464.5 1607.5 464.8 1609.5 465.0 1611.6 465.2 1613.6 465.5 1615.6 465.8 1617.6 466.0 1619.6 466.2 1621.6 466.5 1623.5 466.8 1625.5 467.0 1627.4 467.2 1629.3 467.5 1631.2 467.8 1633.1 468.0 1635.0 468.2 1636.9 468.5 1638.7 468.8 1640.6 469.0 1642.4 469.2 1644.2 469.5 1646.0 469.8 1647.8 470.0 1649.5 470.2 1651.3 470.5 1653.0 470.8 1654.7 471.0 1656.4 471.2 1658.1 471.5 1659.7 471.8 1661.4 472.0 1663.0 472.2 1664.6 472.5 1666.1 472.8 1667.7 473.0 1669.2 473.2 1670.8 473.5 1672.2 474.0 1675.2 474.5 1678.0 475.0 1680.7 475.5 1683.4 476.0 1686.0 476.5 1688.6 477.0 1691.1 477.5 1693.6 478.0 1696.0 478.5 1698.5 479.0 1701.0 479.5 1703.5 480.0 1706.0 480.5 1708.6 481.0 1711.2 481.5 1713.9 482.0 1716.6 482.5 1719.3 483.0 1722.1 483.5 1724.8 484.0 1727.6 484.5 1730.3 485.0 1733.1 485.5 1735.8 486.0 1738.5 486.5 1741.2 487.0 1743.9 487.5 1746.6 488.0 1749.2 488.5 1751.8 489.0 1754.4 489.5 1756.9 490.0 1759.4 490.5 1761.9 491.0 1764.4 491.5 1766.8 492.0 1769.2 492.5 1771.6 493.0 1773.9 493.5 1776.2 494.0 1778.4 494.5 1780.7 495.0 1782.9 495.5 1785.0 496.0 1787.1 496.5 1789.2 497.0 1791.3 497.5 1793.3 498.0 1795.3 498.5 1797.3 499.0 1799.2 499.5 1801.1 500.0 1803.0 500.5 1804.8 501.0 1806.6 501.5 1808.4 502.0 1810.1 502.5 1811.8 503.0 1813.5 503.5 1815.2 504.0 1816.8 504.5 1818.4 505.0 1820.0 505.5 1821.5 506.0 1823.1 506.5 1824.6 507.0 1826.0 507.5 1827.5 508.0 1828.9 508.8 1831.0 509.5 1833.0 510.2 1835.0 511.0 1836.9 511.8 1838.8 512.5 1840.6 513.2 1842.3 514.0 1844.1 514.8 1845.7 515.5 1847.4 516.2 1848.9 517.0 1850.5 517.8 1852.0 518.5 1853.4 519.2 1854.8 520.0 1856.2 520.8 1857.5 521.8 1859.2 522.8 1860.9 523.8 1862.5 524.8 1864.0 525.8 1865.5 526.8 1866.9 527.8 1868.3 528.8 1869.6 529.8 1870.9 530.8 1872.1 531.8 1873.3 532.8 1874.4 534.0 1875.8 535.2 1877.1 536.5 1878.4 537.8 1879.6 539.0 1880.7 540.2 1881.7 541.5 1882.7 542.8 1883.7 544.0 1884.6 545.2 1885.4 546.8 1886.4 548.2 1887.3 549.8 1888.1 551.2 1888.8 552.8 1889.5 554.2 1890.1 555.8 1890.7 557.2 1891.2 558.8 1891.7 560.2 1892.1 561.8 1892.5 563.2 1892.8 564.8 1893.1 566.2 1893.4 567.8 1893.6 569.2 1893.8 570.8 1893.9 572.2 1894.1 573.8 1894.2 575.2 1894.3 576.8 1894.4 578.2 1894.5 579.8 1894.5 581.2 1894.6 582.8 1894.6 584.2 1894.7 585.8 1894.7 587.2 1894.8 588.8 1894.8 590.2 1894.8 591.8 1894.9 593.2 1894.9 594.8 1895.0 596.2 1895.0 597.8 1895.1 599.2 1895.1 600.8 1895.1 602.2 1895.2 603.8 1895.2 605.2 1895.3 606.8 1895.3 608.2 1895.3 609.8 1895.4 611.2 1895.4 612.8 1895.4 614.2 1895.5 615.8 1895.5 617.2 1895.5 618.8 1895.6 620.2 1895.6 621.8 1895.6 623.2 1895.7 624.8 1895.7 626.2 1895.7 627.8 1895.8 629.2 1895.8 630.8 1895.8 632.2 1895.9 633.8 1895.9 635.2 1895.9 636.8 1896.0 638.2 1896.0 639.8 1896.0 641.2 1896.0 642.8 1896.1 644.2 1896.1 645.8 1896.1 647.2 1896.1 648.8 1896.2 650.2 1896.2 651.8 1896.2 653.2 1896.2 654.8 1896.3 656.2 1896.3 657.8 1896.3 659.2 1896.3 660.8 1896.4 662.2 1896.4 663.8 1896.4 665.2 1896.4 666.8 1896.4 668.2 1896.5 669.8 1896.5 671.2 1896.5 672.8 1896.5 674.2 1896.5 675.8 1896.6 677.2 1896.6 678.8 1896.6 680.2 1896.6 681.8 1896.6 683.2 1896.6 684.8 1896.7 686.2 1896.7 687.8 1896.7 689.2 1896.7 690.8 1896.7 692.2 1896.7 693.8 1896.8 695.2 1896.8 696.8 1896.8 698.2 1896.8 699.8 1896.8 701.2 1896.8 702.8 1896.8 704.2 1896.8 705.8 1896.9 707.2 1896.9 708.8 1896.9 710.2 1896.9 711.8 1896.9 713.2 1896.9 714.8 1896.9 716.2 1896.9 717.8 1896.9 719.2 1896.9 720.8 1896.9 722.2 1897.0 723.8 1897.0 725.2 1897.0 726.8 1897.0 728.2 1897.0 729.8 1897.0 731.2 1897.0 732.8 1897.0 734.2 1897.0 735.8 1897.0 737.2 1897.0 738.8 1897.0 740.2 1897.0 741.8 1897.0 743.2 1897.0 744.8 1897.0 746.2 1897.0 747.8 1897.1 749.2 1897.1 750.8 1897.1 752.2 1897.1 753.8 1897.1 755.2 1897.1 756.8 1897.1 758.2 1897.1 759.8 1897.1 761.2 1897.1 762.8 1897.1 764.2 1897.1 765.8 1897.1 767.2 1897.1 768.8 1897.1 770.2 1897.1 771.8 1897.1 773.2 1897.1 774.8 1897.1 776.2 1897.1 777.8 1897.1 779.2 1897.1 780.8 1897.1 782.2 1897.1 783.8 1897.1 785.2 1897.1 786.8 1897.1 788.2 1897.1 789.8 1897.1 791.2 1897.1 792.8 1897.1 794.2 1897.1 795.8 1897.1 797.2 1897.1 798.8 1897.1 800.2 1897.1 801.8 1897.1 803.2 1897.1 804.8 1897.1 806.2 1897.1 807.8 1897.1 809.2 1897.1 810.8 1897.1 812.2 1897.1 813.8 1897.1 815.2 1897.1 816.8 1897.1 818.2 1897.0 819.8 1897.0 821.2 1897.0 822.8 1897.0 824.2 1897.0 825.8 1897.0 827.2 1897.0 828.8 1897.0 830.2 1897.0 831.8 1897.0 833.2 1897.0 834.8 1897.0 836.2 1897.0 837.8 1897.0 839.2 1897.0 840.8 1897.0 842.2 1897.0 843.8 1897.0 845.2 1897.0 846.8 1897.0 848.2 1897.0 849.8 1897.0 851.2 1897.0 852.8 1897.0 854.2 1897.0 855.8 1897.0 857.2 1897.0 858.8 1897.0 860.2 1897.0 861.8 1897.0 863.2 1897.0 864.8 1897.0 866.2 1897.0 867.8 1897.0 869.2 1897.0 870.8 1897.0 872.2 1897.0 873.8 1897.0 875.2 1897.0 876.8 1896.9 878.2 1896.9 879.8 1896.9 881.2 1896.9 882.8 1896.9 884.2 1896.9 885.8 1896.9 887.2 1896.9 888.8 1896.9 890.2 1896.9 891.8 1896.9 893.2 1896.9 894.8 1896.9 896.2 1896.9 897.8 1896.9 899.2 1896.9 900.8 1896.9 902.2 1896.9 903.8 1896.9 905.2 1896.9 906.8 1896.9 908.2 1896.9 909.8 1896.9 911.2 1896.9 912.8 1896.9 914.2 1896.9 915.8 1896.9 917.2 1896.9 918.8 1896.9 920.2 1896.9 921.8 1896.9 923.2 1896.9 924.8 1896.9 926.2 1896.9 927.8 1896.9 929.2 1896.8 930.8 1896.8 932.2 1896.8 933.8 1896.8 935.2 1896.8 936.8 1896.8 938.2 1896.8 939.8 1896.8 941.2 1896.8 942.8 1896.8 944.2 1896.8 945.8 1896.8 947.2 1896.8 948.8 1896.8 950.2 1896.8 951.8 1896.8 953.2 1896.8 954.8 1896.8 956.2 1896.8 957.8 1896.8 959.2 1896.8 960.8 1896.8 962.2 1896.8 963.8 1896.8 965.2 1896.8 966.8 1896.8 968.2 1896.8 969.8 1896.8 971.2 1896.8 972.8 1896.7 974.2 1896.7 975.8 1896.7 977.2 1896.7 978.8 1896.7 980.2 1896.7 981.8 1896.7 983.2 1896.7 984.8 1896.7 986.2 1896.7 987.8 1896.7 989.2 1896.7 990.8 1896.7 992.2 1896.7 993.8 1896.7 995.2 1896.7 996.8 1896.7 998.2 1896.7 999.8 1896.7 1001.2 1896.7 1002.8 1896.7 1004.2 1896.7 1005.8 1896.7 1007.2 1896.7 1008.8 1896.6 1010.2 1896.6 1011.8 1896.6 1013.2 1896.6 1014.8 1896.6 1016.2 1896.6 1017.8 1896.6 1019.2 1896.6 1020.8 1896.6 1022.2 1896.6 1023.8 1896.6 1025.2 1896.6 1026.8 1896.6 1028.2 1896.6 1029.8 1896.6 1031.2 1896.6 1032.8 1896.6 1034.2 1896.6 1035.8 1896.6 1037.2 1896.6 1038.8 1896.6 1040.2 1896.5 1041.8 1896.5 1043.2 1896.5 1044.8 1896.5 1046.2 1896.5 1047.8 1896.5 1049.2 1896.5 1050.8 1896.5 1052.2 1896.5 1053.8 1896.5 1055.2 1896.5 1056.8 1896.5 1058.2 1896.5 1059.8 1896.5 1061.2 1896.5 1062.8 1896.5 1064.2 1896.5 1065.8 1896.5 1067.2 1896.5 1068.8 1896.4 1070.2 1896.4 1071.8 1896.4 1073.2 1896.4 1074.8 1896.4 1076.2 1896.4 1077.8 1896.4 1079.2 1896.4 1080.8 1896.4 1082.2 1896.4 1083.8 1896.4 1085.2 1896.4 1086.8 1896.4 1088.2 1896.4 1089.8 1896.4 1091.2 1896.4 1092.8 1896.3 1094.2 1896.3 1095.8 1896.3 1097.2 1896.3 1098.8 1896.3 1100.2 1896.3 1101.8 1896.3 1103.2 1896.3 1104.8 1896.3 1106.2 1896.3 1107.8 1896.3 1109.2 1896.3 1110.8 1896.3 1112.2 1896.3 1113.8 1896.3 1115.2 1896.2 1116.8 1896.2 1118.2 1896.2 1119.8 1896.2 1121.2 1896.2 1122.8 1896.2 1124.2 1896.2 1125.8 1896.2 1127.2 1896.2 1128.8 1896.2 1130.2 1896.2 1131.8 1896.2 1133.2 1896.2 1134.8 1896.1 1136.2 1896.1 1137.8 1896.1 1139.2 1896.1 1140.8 1896.1 1142.2 1896.1 1143.8 1896.1 1145.2 1896.1 1146.8 1896.1 1148.2 1896.1 1149.8 1896.1 1151.2 1896.1 1152.8 1896.0 1154.2 1896.0 1155.8 1896.0 1157.2 1896.0 1158.8 1896.0 1160.2 1896.0 1161.8 1896.0 1163.2 1896.0 1164.8 1896.0 1166.2 1896.0 1167.8 1896.0 1168.0 1896.0" stroke="#f0282e" stroke-width="2.8"/>
<path d="M105.0 1933.8L106.5 1933.7 108.0 1933.5 109.5 1933.4 111.0 1933.2 112.5 1933.1 114.0 1933.0 115.5 1932.8 117.0 1932.7 118.5 1932.6 120.0 1932.5 121.5 1932.4 123.0 1932.3 124.5 1932.2 126.0 1932.1 127.5 1932.0 129.0 1931.9 130.5 1931.8 132.0 1931.8 133.5 1931.7 135.0 1931.6 136.5 1931.5 138.0 1931.5 139.5 1931.4 141.0 1931.4 142.5 1931.3 144.0 1931.3 145.5 1931.2 147.0 1931.2 148.5 1931.1 150.0 1931.1 151.5 1931.1 153.0 1931.0 154.5 1931.0 156.0 1931.0 157.5 1930.9 159.0 1930.9 160.5 1930.9 162.0 1930.9 163.5 1930.8 165.0 1930.8 166.5 1930.8 168.0 1930.8 169.5 1930.8 171.0 1930.8 172.5 1930.8 174.0 1930.8 175.5 1930.8 177.0 1930.8 178.5 1930.7 180.0 1930.7 181.5 1930.7 183.0 1930.7 184.5 1930.7 186.0 1930.7 187.5 1930.7 189.0 1930.7 190.5 1930.7 192.0 1930.7 193.5 1930.7 195.0 1930.7 196.5 1930.7 198.0 1930.7 199.5 1930.7 201.0 1930.7 202.5 1930.7 204.0 1930.7 205.5 1930.7 207.0 1930.7 208.5 1930.7 210.0 1930.7 211.5 1930.7 213.0 1930.7 214.5 1930.7 216.0 1930.7 217.5 1930.7 219.0 1930.7 220.5 1930.6 222.0 1930.6 223.5 1930.6 225.0 1930.6 226.5 1930.6 228.0 1930.5 229.5 1930.5 231.0 1930.5 232.5 1930.5 234.0 1930.4 235.5 1930.4 237.0 1930.3 238.5 1930.3 240.0 1930.3 241.5 1930.2 243.0 1930.2 244.5 1930.1 246.0 1930.1 247.5 1930.0 249.0 1929.9 250.5 1929.9 252.0 1929.8 253.5 1929.7 255.0 1929.6 256.5 1929.6 258.0 1929.5 259.5 1929.4 261.0 1929.3 262.5 1929.2 264.0 1929.1 265.5 1929.0 267.0 1928.9 268.5 1928.8 270.0 1928.6 271.5 1928.5 273.0 1928.4 274.5 1928.2 276.0 1928.1 277.5 1928.0 279.0 1927.8 280.5 1927.7 282.0 1927.5 283.5 1927.3 285.0 1927.2 286.5 1927.0 288.0 1926.8 289.5 1926.6 291.0 1926.4 292.5 1926.2 294.0 1926.0 295.5 1925.8 297.0 1925.6 298.5 1925.3 300.0 1925.1 301.5 1924.9 303.0 1924.6 304.5 1924.4 306.0 1924.1 307.5 1923.8 309.0 1923.6 310.5 1923.3 312.0 1923.0 313.5 1922.7 315.0 1922.4 316.5 1922.1 318.0 1921.8 319.5 1921.4 321.0 1921.1 322.5 1920.8 324.0 1920.4 325.5 1920.1 327.0 1919.7 328.5 1919.3 330.0 1918.9 331.5 1918.6 333.0 1918.2 334.5 1917.7 336.0 1917.3 337.5 1916.9 339.0 1916.5 340.5 1916.0 342.0 1915.6 343.5 1915.1 345.0 1914.6 346.5 1914.2 348.0 1913.7 349.5 1913.2 351.0 1912.7 352.5 1912.1 354.0 1911.6 355.5 1911.1 357.0 1910.5 358.5 1910.0 360.0 1909.4 361.5 1908.8 363.0 1908.2 364.5 1907.6 366.0 1907.0 367.5 1906.4 369.0 1905.7 370.5 1905.1 372.0 1904.4 373.5 1903.8 375.0 1903.1 376.5 1902.4 378.0 1901.7 379.5 1901.0 381.0 1900.3 382.5 1899.5 384.0 1898.8 385.5 1898.0 387.0 1897.3 388.5 1896.5 390.0 1895.7 391.5 1894.9 393.0 1894.0 394.5 1893.2 396.0 1892.3 397.5 1891.4 399.0 1890.5 400.5 1889.6 402.0 1888.6 403.5 1887.6 405.0 1886.6 406.2 1885.8 407.5 1884.9 408.8 1884.1 410.0 1883.2 411.2 1882.2 412.5 1881.3 413.8 1880.4 415.0 1879.4 416.2 1878.4 417.5 1877.4 418.8 1876.4 420.0 1875.3 421.2 1874.3 422.5 1873.2 423.8 1872.1 425.0 1871.0 426.2 1869.8 427.5 1868.6 428.8 1867.4 430.0 1866.2 431.2 1865.0 432.5 1863.7 433.8 1862.4 435.0 1861.1 436.2 1859.8 437.5 1858.4 438.8 1857.0 439.8 1855.9 440.8 1854.7 441.8 1853.6 442.8 1852.4 443.8 1851.2 444.8 1850.0 445.8 1848.7 446.8 1847.5 447.8 1846.2 448.8 1844.9 449.8 1843.6 450.8 1842.3 451.8 1840.9 452.8 1839.6 453.8 1838.2 454.8 1836.8 455.8 1835.4 456.8 1833.9 457.8 1832.5 458.8 1831.0 459.8 1829.5 460.8 1828.0 461.8 1826.5 462.8 1825.0 463.8 1823.5 464.8 1821.9 465.8 1820.4 466.8 1818.9 467.8 1817.3 468.8 1815.8 469.8 1814.2 470.8 1812.7 471.8 1811.1 472.8 1809.6 473.8 1808.0 474.8 1806.5 475.8 1804.9 476.8 1803.4 477.8 1801.9 478.8 1800.4 479.8 1798.8 480.8 1797.4 481.8 1795.9 482.8 1794.4 483.8 1793.0 484.8 1791.5 485.8 1790.1 486.8 1788.7 487.8 1787.3 488.8 1785.9 489.8 1784.6 490.8 1783.3 491.8 1782.0 492.8 1780.7 493.8 1779.5 494.8 1778.3 495.8 1777.1 496.8 1775.9 497.8 1774.8 499.0 1773.4 500.2 1772.1 501.5 1770.9 502.8 1769.7 504.0 1768.5 505.2 1767.5 506.5 1766.5 507.8 1765.5 509.0 1764.6 510.5 1763.7 512.0 1762.8 513.5 1762.1 515.0 1761.4 516.5 1760.9 518.0 1760.4 519.5 1760.1 521.0 1759.9 522.5 1759.8 524.0 1759.9 525.5 1760.0 527.0 1760.3 528.5 1760.7 530.0 1761.3 531.5 1761.9 533.0 1762.7 534.5 1763.6 535.8 1764.5 537.0 1765.5 538.2 1766.5 539.5 1767.6 540.8 1768.8 542.0 1770.0 543.2 1771.3 544.5 1772.7 545.5 1773.8 546.5 1775.0 547.5 1776.2 548.5 1777.4 549.5 1778.7 550.5 1779.9 551.5 1781.2 552.5 1782.6 553.5 1783.9 554.5 1785.3 555.5 1786.7 556.5 1788.0 557.5 1789.4 558.5 1790.9 559.5 1792.3 560.5 1793.7 561.5 1795.1 562.5 1796.6 563.5 1798.0 564.5 1799.4 565.5 1800.9 566.5 1802.3 567.5 1803.7 568.5 1805.1 569.5 1806.5 570.5 1807.8 571.5 1809.2 572.5 1810.5 573.5 1811.9 574.5 1813.2 575.5 1814.4 576.5 1815.7 577.5 1816.9 578.5 1818.1 579.5 1819.3 580.5 1820.4 581.5 1821.5 582.8 1822.9 584.0 1824.3 585.2 1825.6 586.5 1826.9 587.8 1828.1 589.0 1829.3 590.2 1830.5 591.5 1831.7 592.8 1832.8 594.0 1833.9 595.2 1834.9 596.5 1836.0 597.8 1837.0 599.0 1838.0 600.2 1839.0 601.5 1839.9 602.8 1840.8 604.0 1841.7 605.2 1842.6 606.5 1843.5 607.8 1844.3 609.2 1845.3 610.8 1846.3 612.2 1847.2 613.8 1848.1 615.2 1849.0 616.8 1849.9 618.2 1850.8 619.8 1851.6 621.2 1852.5 622.8 1853.3 624.2 1854.1 625.8 1854.9 627.2 1855.6 628.8 1856.4 630.2 1857.2 631.8 1857.9 633.2 1858.7 634.8 1859.4 636.2 1860.1 637.8 1860.8 639.2 1861.5 640.8 1862.2 642.2 1862.9 643.8 1863.6 645.2 1864.3 646.8 1864.9 648.2 1865.6 649.8 1866.2 651.2 1866.8 652.8 1867.5 654.2 1868.1 655.8 1868.7 657.2 1869.3 658.8 1869.8 660.2 1870.4 661.8 1871.0 663.2 1871.5 664.8 1872.1 666.2 1872.6 667.8 1873.2 669.2 1873.7 670.8 1874.2 672.2 1874.7 673.8 1875.2 675.2 1875.7 676.8 1876.2 678.2 1876.7 679.8 1877.1 681.2 1877.6 682.8 1878.1 684.2 1878.5 685.8 1878.9 687.2 1879.4 688.8 1879.8 690.2 1880.2 691.8 1880.6 693.2 1881.0 694.8 1881.4 696.2 1881.8 697.8 1882.2 699.2 1882.5 700.8 1882.9 702.2 1883.2 703.8 1883.6 705.2 1883.9 706.8 1884.3 708.2 1884.6 709.8 1884.9 711.2 1885.2 712.8 1885.5 714.2 1885.8 715.8 1886.1 717.2 1886.4 718.8 1886.7 720.2 1887.0 721.8 1887.3 723.2 1887.5 724.8 1887.8 726.2 1888.0 727.8 1888.3 729.2 1888.5 730.8 1888.8 732.2 1889.0 733.8 1889.2 735.2 1889.4 736.8 1889.6 738.2 1889.8 739.8 1890.0 741.2 1890.2 742.8 1890.4 744.2 1890.6 745.8 1890.8 747.2 1891.0 748.8 1891.1 750.2 1891.3 751.8 1891.5 753.2 1891.6 754.8 1891.8 756.2 1891.9 757.8 1892.1 759.2 1892.2 760.8 1892.3 762.2 1892.4 763.8 1892.6 765.2 1892.7 766.8 1892.8 768.2 1892.9 769.8 1893.0 771.2 1893.1 772.8 1893.2 774.2 1893.3 775.8 1893.4 777.2 1893.5 778.8 1893.5 780.2 1893.6 781.8 1893.7 783.2 1893.8 784.8 1893.8 786.2 1893.9 787.8 1893.9 789.2 1894.0 790.8 1894.1 792.2 1894.1 793.8 1894.1 795.2 1894.2 796.8 1894.2 798.2 1894.3 799.8 1894.3 801.2 1894.3 802.8 1894.3 804.2 1894.4 805.8 1894.4 807.2 1894.4 808.8 1894.4 810.2 1894.4 811.8 1894.4 813.2 1894.4 814.8 1894.5 816.2 1894.5 817.8 1894.5 819.2 1894.5 820.8 1894.5 822.2 1894.4 823.8 1894.4 825.2 1894.4 826.8 1894.4 828.2 1894.4 829.8 1894.4 831.2 1894.4 832.8 1894.3 834.2 1894.3 835.8 1894.3 837.2 1894.3 838.8 1894.3 840.2 1894.2 841.8 1894.2 843.2 1894.2 844.8 1894.1 846.2 1894.1 847.8 1894.1 849.2 1894.0 850.8 1894.0 852.2 1894.0 853.8 1893.9 855.2 1893.9 856.8 1893.9 858.2 1893.8 859.8 1893.8 861.2 1893.8 862.8 1893.7 864.2 1893.7 865.8 1893.6 867.2 1893.6 868.8 1893.6 870.2 1893.5 871.8 1893.5 873.2 1893.4 874.8 1893.4 876.2 1893.3 877.8 1893.3 879.2 1893.3 880.8 1893.2 882.2 1893.2 883.8 1893.1 885.2 1893.1 886.8 1893.1 888.2 1893.0 889.8 1893.0 891.2 1893.0 892.8 1892.9 894.2 1892.9 895.8 1892.9 897.2 1892.8 898.8 1892.8 900.2 1892.8 901.8 1892.7 903.2 1892.7 904.8 1892.7 906.2 1892.6 907.8 1892.6 909.2 1892.6 910.8 1892.6 912.2 1892.6 913.8 1892.5 915.2 1892.5 916.8 1892.5 918.2 1892.5 919.8 1892.5 921.2 1892.5 922.8 1892.5 924.2 1892.5 925.8 1892.5 927.2 1892.5 928.8 1892.4 930.2 1892.4 931.8 1892.4 933.2 1892.4 934.8 1892.4 936.2 1892.5 937.8 1892.5 939.2 1892.5 940.8 1892.5 942.2 1892.5 943.8 1892.5 945.2 1892.5 946.8 1892.5 948.2 1892.5 949.8 1892.5 951.2 1892.6 952.8 1892.6 954.2 1892.6 955.8 1892.6 957.2 1892.6 958.8 1892.7 960.2 1892.7 961.8 1892.7 963.2 1892.7 964.8 1892.7 966.2 1892.8 967.8 1892.8 969.2 1892.8 970.8 1892.8 972.2 1892.9 973.8 1892.9 975.2 1892.9 976.8 1893.0 978.2 1893.0 979.8 1893.0 981.2 1893.1 982.8 1893.1 984.2 1893.1 985.8 1893.2 987.2 1893.2 988.8 1893.2 990.2 1893.3 991.8 1893.3 993.2 1893.3 994.8 1893.4 996.2 1893.4 997.8 1893.4 999.2 1893.5 1000.8 1893.5 1002.2 1893.5 1003.8 1893.6 1005.2 1893.6 1006.8 1893.7 1008.2 1893.7 1009.8 1893.7 1011.2 1893.8 1012.8 1893.8 1014.2 1893.9 1015.8 1893.9 1017.2 1893.9 1018.8 1894.0 1020.2 1894.0 1021.8 1894.0 1023.2 1894.1 1024.8 1894.1 1026.2 1894.2 1027.8 1894.2 1029.2 1894.2 1030.8 1894.3 1032.2 1894.3 1033.8 1894.3 1035.2 1894.4 1036.8 1894.4 1038.2 1894.5 1039.8 1894.5 1041.2 1894.5 1042.8 1894.6 1044.2 1894.6 1045.8 1894.6 1047.2 1894.7 1048.8 1894.7 1050.2 1894.7 1051.8 1894.8 1053.2 1894.8 1054.8 1894.8 1056.2 1894.9 1057.8 1894.9 1059.2 1894.9 1060.8 1894.9 1062.2 1895.0 1063.8 1895.0 1065.2 1895.0 1066.8 1895.1 1068.2 1895.1 1069.8 1895.1 1071.2 1895.1 1072.8 1895.1 1074.2 1895.2 1075.8 1895.2 1077.2 1895.2 1078.8 1895.2 1080.2 1895.2 1081.8 1895.3 1083.2 1895.3 1084.8 1895.3 1086.2 1895.3 1087.8 1895.3 1089.2 1895.3 1090.8 1895.3 1092.2 1895.3 1093.8 1895.4 1095.2 1895.4 1096.8 1895.4 1098.2 1895.4 1099.8 1895.4 1101.2 1895.4 1102.8 1895.4 1104.2 1895.4 1105.8 1895.4 1107.2 1895.4 1108.8 1895.4 1110.2 1895.3 1111.8 1895.3 1113.2 1895.3 1114.8 1895.3 1116.2 1895.3 1117.8 1895.3 1119.2 1895.3 1120.8 1895.2 1122.2 1895.2 1123.8 1895.2 1125.2 1895.2 1126.8 1895.2 1128.2 1895.1 1129.8 1895.1 1131.2 1895.1 1132.8 1895.0 1134.2 1895.0 1135.8 1895.0 1137.2 1894.9 1138.8 1894.9 1140.2 1894.8 1141.8 1894.8 1143.2 1894.8 1144.8 1894.7 1146.2 1894.7 1147.8 1894.6 1149.2 1894.6 1150.8 1894.5 1152.2 1894.4 1153.8 1894.4 1155.2 1894.3 1156.8 1894.3 1158.2 1894.2 1159.8 1894.1 1161.2 1894.0 1162.8 1894.0 1164.2 1893.9 1165.8 1893.8 1167.2 1893.7 1168.0 1893.7" stroke="#1464e4" stroke-width="2.9"/>
<path d="M105.0 1932.6L106.5 1932.7 108.0 1932.8 109.5 1932.9 111.0 1932.9 112.5 1933.0 114.0 1933.1 115.5 1933.1 117.0 1933.2 118.5 1933.2 120.0 1933.3 121.5 1933.4 123.0 1933.4 124.5 1933.5 126.0 1933.5 127.5 1933.6 129.0 1933.6 130.5 1933.7 132.0 1933.7 133.5 1933.8 135.0 1933.8 136.5 1933.9 138.0 1933.9 139.5 1934.0 141.0 1934.0 142.5 1934.1 144.0 1934.1 145.5 1934.1 147.0 1934.2 148.5 1934.2 150.0 1934.2 151.5 1934.3 153.0 1934.3 154.5 1934.3 156.0 1934.4 157.5 1934.4 159.0 1934.4 160.5 1934.5 162.0 1934.5 163.5 1934.5 165.0 1934.5 166.5 1934.6 168.0 1934.6 169.5 1934.6 171.0 1934.6 172.5 1934.6 174.0 1934.6 175.5 1934.7 177.0 1934.7 178.5 1934.7 180.0 1934.7 181.5 1934.7 183.0 1934.7 184.5 1934.7 186.0 1934.7 187.5 1934.7 189.0 1934.7 190.5 1934.7 192.0 1934.7 193.5 1934.7 195.0 1934.7 196.5 1934.7 198.0 1934.7 199.5 1934.7 201.0 1934.7 202.5 1934.7 204.0 1934.7 205.5 1934.7 207.0 1934.6 208.5 1934.6 210.0 1934.6 211.5 1934.6 213.0 1934.6 214.5 1934.6 216.0 1934.5 217.5 1934.5 219.0 1934.5 220.5 1934.5 222.0 1934.4 223.5 1934.4 225.0 1934.4 226.5 1934.3 228.0 1934.3 229.5 1934.3 231.0 1934.2 232.5 1934.2 234.0 1934.2 235.5 1934.1 237.0 1934.1 238.5 1934.1 240.0 1934.0 241.5 1934.0 243.0 1933.9 244.5 1933.9 246.0 1933.8 247.5 1933.8 249.0 1933.7 250.5 1933.7 252.0 1933.6 253.5 1933.6 255.0 1933.5 256.5 1933.4 258.0 1933.4 259.5 1933.3 261.0 1933.3 262.5 1933.2 264.0 1933.1 265.5 1933.1 267.0 1933.0 268.5 1932.9 270.0 1932.9 271.5 1932.8 273.0 1932.7 274.5 1932.6 276.0 1932.6 277.5 1932.5 279.0 1932.4 280.5 1932.3 282.0 1932.3 283.5 1932.2 285.0 1932.1 286.5 1932.0 288.0 1931.9 289.5 1931.8 291.0 1931.7 292.5 1931.6 294.0 1931.5 295.5 1931.5 297.0 1931.4 298.5 1931.3 300.0 1931.2 301.5 1931.1 303.0 1931.0 304.5 1930.9 306.0 1930.8 307.5 1930.6 309.0 1930.5 310.5 1930.4 312.0 1930.3 313.5 1930.2 315.0 1930.1 316.5 1930.0 318.0 1929.9 319.5 1929.8 321.0 1929.6 322.5 1929.5 324.0 1929.4 325.5 1929.3 327.0 1929.1 328.5 1929.0 330.0 1928.9 331.5 1928.8 333.0 1928.6 334.5 1928.5 336.0 1928.4 337.5 1928.2 339.0 1928.1 340.5 1928.0 342.0 1927.8 343.5 1927.7 345.0 1927.5 346.5 1927.4 348.0 1927.2 349.5 1927.1 351.0 1927.0 352.5 1926.8 354.0 1926.7 355.5 1926.5 357.0 1926.3 358.5 1926.2 360.0 1926.0 361.5 1925.9 363.0 1925.7 364.5 1925.6 366.0 1925.4 367.5 1925.2 369.0 1925.1 370.5 1924.9 372.0 1924.7 373.5 1924.6 375.0 1924.4 376.5 1924.2 378.0 1924.0 379.5 1923.9 381.0 1923.7 382.5 1923.5 384.0 1923.3 385.5 1923.1 387.0 1922.9 388.5 1922.8 390.0 1922.6 391.5 1922.4 393.0 1922.2 394.5 1922.0 396.0 1921.8 397.5 1921.6 399.0 1921.4 400.5 1921.1 402.0 1920.9 403.5 1920.7 405.0 1920.5 406.5 1920.3 408.0 1920.0 409.5 1919.8 411.0 1919.6 412.5 1919.3 414.0 1919.1 415.5 1918.8 417.0 1918.6 418.5 1918.3 420.0 1918.0 421.5 1917.8 423.0 1917.5 424.5 1917.2 426.0 1916.9 427.5 1916.7 429.0 1916.4 430.5 1916.1 432.0 1915.8 433.5 1915.5 435.0 1915.1 436.5 1914.8 438.0 1914.5 439.5 1914.2 441.0 1913.8 442.5 1913.5 444.0 1913.1 445.5 1912.8 447.0 1912.4 448.5 1912.0 450.0 1911.7 451.5 1911.3 453.0 1910.9 454.5 1910.5 456.0 1910.1 457.5 1909.7 459.0 1909.2 460.5 1908.8 462.0 1908.4 463.5 1907.9 465.0 1907.5 466.5 1907.0 468.0 1906.6 469.5 1906.1 471.0 1905.6 472.5 1905.1 474.0 1904.6 475.5 1904.1 477.0 1903.6 478.5 1903.1 480.0 1902.5 481.5 1902.0 483.0 1901.4 484.5 1900.9 486.0 1900.3 487.5 1899.7 489.0 1899.1 490.5 1898.5 492.0 1897.9 493.5 1897.3 495.0 1896.7 496.5 1896.0 498.0 1895.4 499.5 1894.7 501.0 1894.1 502.5 1893.4 504.0 1892.7 505.5 1892.0 507.0 1891.3 508.5 1890.6 510.0 1889.8 511.5 1889.1 513.0 1888.3 514.5 1887.6 516.0 1886.8 517.5 1886.0 519.0 1885.2 520.5 1884.4 522.0 1883.6 523.5 1882.7 525.0 1881.9 526.5 1881.0 528.0 1880.1 529.5 1879.3 531.0 1878.4 532.5 1877.5 534.0 1876.5 535.5 1875.6 537.0 1874.7 538.5 1873.7 540.0 1872.7 541.5 1871.8 543.0 1870.8 544.2 1869.9 545.5 1869.1 546.8 1868.2 548.0 1867.3 549.2 1866.5 550.5 1865.6 551.8 1864.7 553.0 1863.8 554.2 1862.9 555.5 1862.0 556.8 1861.0 558.0 1860.1 559.2 1859.1 560.5 1858.2 561.8 1857.2 563.0 1856.2 564.2 1855.3 565.5 1854.3 566.8 1853.3 568.0 1852.2 569.2 1851.2 570.5 1850.2 571.8 1849.1 573.0 1848.1 574.2 1847.0 575.5 1845.9 576.8 1844.9 578.0 1843.8 579.2 1842.7 580.5 1841.5 581.8 1840.4 583.0 1839.3 584.2 1838.1 585.5 1837.0 586.8 1835.8 588.0 1834.6 589.2 1833.4 590.5 1832.3 591.8 1831.0 593.0 1829.8 594.2 1828.6 595.5 1827.4 596.8 1826.1 598.0 1824.9 599.2 1823.7 600.5 1822.5 601.8 1821.3 603.0 1820.1 604.2 1818.9 605.5 1817.8 606.8 1816.7 608.0 1815.6 609.2 1814.5 610.5 1813.5 611.8 1812.6 613.0 1811.7 614.2 1810.8 615.8 1809.9 617.2 1809.0 618.8 1808.2 620.2 1807.5 621.8 1807.0 623.2 1806.5 624.8 1806.2 626.2 1806.0 627.8 1805.9 629.2 1805.9 630.8 1806.2 632.2 1806.5 633.8 1807.0 635.2 1807.7 636.8 1808.6 638.0 1809.4 639.2 1810.4 640.5 1811.5 641.8 1812.6 643.0 1813.9 644.2 1815.3 645.2 1816.5 646.2 1817.7 647.2 1818.9 648.2 1820.2 649.2 1821.5 650.2 1822.9 651.2 1824.2 652.2 1825.6 653.2 1827.0 654.2 1828.5 655.2 1829.9 656.2 1831.3 657.2 1832.8 658.2 1834.2 659.2 1835.6 660.2 1837.0 661.2 1838.4 662.2 1839.8 663.2 1841.1 664.2 1842.4 665.2 1843.7 666.2 1844.9 667.2 1846.2 668.2 1847.4 669.2 1848.5 670.2 1849.7 671.2 1850.8 672.5 1852.2 673.8 1853.5 675.0 1854.8 676.2 1856.0 677.5 1857.3 678.8 1858.5 680.0 1859.6 681.2 1860.7 682.5 1861.8 683.8 1862.9 685.0 1863.9 686.2 1864.9 687.5 1865.8 688.8 1866.8 690.0 1867.7 691.2 1868.6 692.5 1869.4 694.0 1870.4 695.5 1871.3 697.0 1872.3 698.5 1873.1 700.0 1874.0 701.5 1874.8 703.0 1875.6 704.5 1876.4 706.0 1877.1 707.5 1877.8 709.0 1878.5 710.5 1879.1 712.0 1879.8 713.5 1880.4 715.0 1881.0 716.5 1881.6 718.0 1882.1 719.5 1882.7 721.0 1883.2 722.5 1883.7 724.0 1884.2 725.5 1884.7 727.0 1885.1 728.5 1885.6 730.0 1886.0 731.5 1886.4 733.0 1886.8 734.5 1887.2 736.0 1887.5 737.5 1887.9 739.0 1888.2 740.5 1888.5 742.0 1888.9 743.5 1889.1 745.0 1889.4 746.5 1889.7 748.0 1890.0 749.5 1890.2 751.0 1890.5 752.5 1890.7 754.0 1890.9 755.5 1891.1 757.0 1891.3 758.5 1891.5 760.0 1891.7 761.5 1891.8 763.0 1892.0 764.5 1892.2 766.0 1892.3 767.5 1892.5 769.0 1892.6 770.5 1892.7 772.0 1892.9 773.5 1893.0 775.0 1893.1 776.5 1893.2 778.0 1893.3 779.5 1893.4 781.0 1893.5 782.5 1893.6 784.0 1893.7 785.5 1893.8 787.0 1893.9 788.5 1894.0 790.0 1894.0 791.5 1894.1 793.0 1894.2 794.5 1894.3 796.0 1894.3 797.5 1894.4 799.0 1894.5 800.5 1894.5 802.0 1894.6 803.5 1894.7 805.0 1894.7 806.5 1894.8 808.0 1894.8 809.5 1894.9 811.0 1895.0 812.5 1895.0 814.0 1895.0 815.5 1895.1 817.0 1895.1 818.5 1895.2 820.0 1895.2 821.5 1895.3 823.0 1895.3 824.5 1895.3 826.0 1895.4 827.5 1895.4 829.0 1895.4 830.5 1895.5 832.0 1895.5 833.5 1895.5 835.0 1895.5 836.5 1895.6 838.0 1895.6 839.5 1895.6 841.0 1895.6 842.5 1895.7 844.0 1895.7 845.5 1895.7 847.0 1895.7 848.5 1895.7 850.0 1895.7 851.5 1895.7 853.0 1895.8 854.5 1895.8 856.0 1895.8 857.5 1895.8 859.0 1895.8 860.5 1895.8 862.0 1895.8 863.5 1895.8 865.0 1895.8 866.5 1895.8 868.0 1895.8 869.5 1895.8 871.0 1895.8 872.5 1895.8 874.0 1895.8 875.5 1895.8 877.0 1895.8 878.5 1895.8 880.0 1895.8 881.5 1895.8 883.0 1895.8 884.5 1895.8 886.0 1895.8 887.5 1895.8 889.0 1895.8 890.5 1895.8 892.0 1895.8 893.5 1895.8 895.0 1895.8 896.5 1895.8 898.0 1895.8 899.5 1895.8 901.0 1895.8 902.5 1895.8 904.0 1895.8 905.5 1895.8 907.0 1895.8 908.5 1895.8 910.0 1895.8 911.5 1895.8 913.0 1895.8 914.5 1895.8 916.0 1895.8 917.5 1895.8 919.0 1895.8 920.5 1895.8 922.0 1895.8 923.5 1895.8 925.0 1895.8 926.5 1895.8 928.0 1895.8 929.5 1895.8 931.0 1895.8 932.5 1895.8 934.0 1895.8 935.5 1895.8 937.0 1895.8 938.5 1895.8 940.0 1895.8 941.5 1895.8 943.0 1895.8 944.5 1895.8 946.0 1895.8 947.5 1895.8 949.0 1895.8 950.5 1895.9 952.0 1895.9 953.5 1895.9 955.0 1895.9 956.5 1895.9 958.0 1895.9 959.5 1895.9 961.0 1895.9 962.5 1895.9 964.0 1895.9 965.5 1895.9 967.0 1895.9 968.5 1895.9 970.0 1895.9 971.5 1895.9 973.0 1895.9 974.5 1896.0 976.0 1896.0 977.5 1896.0 979.0 1896.0 980.5 1896.0 982.0 1896.0 983.5 1896.0 985.0 1896.0 986.5 1896.0 988.0 1896.0 989.5 1896.0 991.0 1896.0 992.5 1896.0 994.0 1896.1 995.5 1896.1 997.0 1896.1 998.5 1896.1 1000.0 1896.1 1001.5 1896.1 1003.0 1896.1 1004.5 1896.1 1006.0 1896.1 1007.5 1896.1 1009.0 1896.1 1010.5 1896.1 1012.0 1896.1 1013.5 1896.2 1015.0 1896.2 1016.5 1896.2 1018.0 1896.2 1019.5 1896.2 1021.0 1896.2 1022.5 1896.2 1024.0 1896.2 1025.5 1896.2 1027.0 1896.2 1028.5 1896.2 1030.0 1896.2 1031.5 1896.2 1033.0 1896.2 1034.5 1896.2 1036.0 1896.3 1037.5 1896.3 1039.0 1896.3 1040.5 1896.3 1042.0 1896.3 1043.5 1896.3 1045.0 1896.3 1046.5 1896.3 1048.0 1896.3 1049.5 1896.3 1051.0 1896.3 1052.5 1896.3 1054.0 1896.3 1055.5 1896.3 1057.0 1896.3 1058.5 1896.3 1060.0 1896.3 1061.5 1896.3 1063.0 1896.3 1064.5 1896.3 1066.0 1896.3 1067.5 1896.3 1069.0 1896.3 1070.5 1896.3 1072.0 1896.3 1073.5 1896.3 1075.0 1896.3 1076.5 1896.3 1078.0 1896.3 1079.5 1896.3 1081.0 1896.3 1082.5 1896.3 1084.0 1896.3 1085.5 1896.3 1087.0 1896.3 1088.5 1896.3 1090.0 1896.3 1091.5 1896.3 1093.0 1896.3 1094.5 1896.3 1096.0 1896.3 1097.5 1896.3 1099.0 1896.3 1100.5 1896.3 1102.0 1896.3 1103.5 1896.3 1105.0 1896.3 1106.5 1896.2 1108.0 1896.2 1109.5 1896.2 1111.0 1896.2 1112.5 1896.2 1114.0 1896.2 1115.5 1896.2 1117.0 1896.2 1118.5 1896.2 1120.0 1896.2 1121.5 1896.1 1123.0 1896.1 1124.5 1896.1 1126.0 1896.1 1127.5 1896.1 1129.0 1896.1 1130.5 1896.1 1132.0 1896.0 1133.5 1896.0 1135.0 1896.0 1136.5 1896.0 1138.0 1896.0 1139.5 1896.0 1141.0 1895.9 1142.5 1895.9 1144.0 1895.9 1145.5 1895.9 1147.0 1895.9 1148.5 1895.8 1150.0 1895.8 1151.5 1895.8 1153.0 1895.8 1154.5 1895.7 1156.0 1895.7 1157.5 1895.7 1159.0 1895.7 1160.5 1895.6 1162.0 1895.6 1163.5 1895.6 1165.0 1895.5 1166.5 1895.5 1168.0 1895.5" stroke="#24a058" stroke-width="2.9"/>
<path d="M105.0 1934.2L106.5 1934.2 108.0 1934.1 109.5 1934.1 111.0 1934.0 112.5 1934.0 114.0 1933.9 115.5 1933.9 117.0 1933.8 118.5 1933.8 120.0 1933.7 121.5 1933.7 123.0 1933.7 124.5 1933.6 126.0 1933.6 127.5 1933.6 129.0 1933.6 130.5 1933.5 132.0 1933.5 133.5 1933.5 135.0 1933.5 136.5 1933.5 138.0 1933.4 139.5 1933.4 141.0 1933.4 142.5 1933.4 144.0 1933.4 145.5 1933.4 147.0 1933.4 148.5 1933.4 150.0 1933.4 151.5 1933.4 153.0 1933.4 154.5 1933.4 156.0 1933.4 157.5 1933.4 159.0 1933.4 160.5 1933.4 162.0 1933.4 163.5 1933.4 165.0 1933.4 166.5 1933.4 168.0 1933.4 169.5 1933.4 171.0 1933.5 172.5 1933.5 174.0 1933.5 175.5 1933.5 177.0 1933.5 178.5 1933.5 180.0 1933.5 181.5 1933.6 183.0 1933.6 184.5 1933.6 186.0 1933.6 187.5 1933.6 189.0 1933.6 190.5 1933.6 192.0 1933.7 193.5 1933.7 195.0 1933.7 196.5 1933.7 198.0 1933.7 199.5 1933.8 201.0 1933.8 202.5 1933.8 204.0 1933.8 205.5 1933.8 207.0 1933.8 208.5 1933.9 210.0 1933.9 211.5 1933.9 213.0 1933.9 214.5 1933.9 216.0 1933.9 217.5 1933.9 219.0 1934.0 220.5 1934.0 222.0 1934.0 223.5 1934.0 225.0 1934.0 226.5 1934.0 228.0 1934.0 229.5 1934.0 231.0 1934.0 232.5 1934.0 234.0 1934.0 235.5 1934.0 237.0 1934.0 238.5 1934.0 240.0 1934.0 241.5 1934.0 243.0 1934.0 244.5 1934.0 246.0 1934.0 247.5 1934.0 249.0 1934.0 250.5 1934.0 252.0 1934.0 253.5 1934.0 255.0 1934.0 256.5 1934.0 258.0 1933.9 259.5 1933.9 261.0 1933.9 262.5 1933.9 264.0 1933.9 265.5 1933.8 267.0 1933.8 268.5 1933.8 270.0 1933.7 271.5 1933.7 273.0 1933.7 274.5 1933.6 276.0 1933.6 277.5 1933.6 279.0 1933.5 280.5 1933.5 282.0 1933.4 283.5 1933.4 285.0 1933.3 286.5 1933.3 288.0 1933.2 289.5 1933.1 291.0 1933.1 292.5 1933.0 294.0 1932.9 295.5 1932.9 297.0 1932.8 298.5 1932.7 300.0 1932.6 301.5 1932.6 303.0 1932.5 304.5 1932.4 306.0 1932.3 307.5 1932.2 309.0 1932.1 310.5 1932.0 312.0 1931.9 313.5 1931.8 315.0 1931.7 316.5 1931.6 318.0 1931.4 319.5 1931.3 321.0 1931.2 322.5 1931.1 324.0 1930.9 325.5 1930.8 327.0 1930.7 328.5 1930.5 330.0 1930.4 331.5 1930.2 333.0 1930.1 334.5 1929.9 336.0 1929.8 337.5 1929.6 339.0 1929.4 340.5 1929.3 342.0 1929.1 343.5 1928.9 345.0 1928.7 346.5 1928.5 348.0 1928.3 349.5 1928.1 351.0 1927.9 352.5 1927.7 354.0 1927.5 355.5 1927.3 357.0 1927.1 358.5 1926.9 360.0 1926.7 361.5 1926.4 363.0 1926.2 364.5 1925.9 366.0 1925.7 367.5 1925.5 369.0 1925.2 370.5 1925.0 372.0 1924.7 373.5 1924.4 375.0 1924.2 376.5 1923.9 378.0 1923.6 379.5 1923.4 381.0 1923.1 382.5 1922.8 384.0 1922.5 385.5 1922.2 387.0 1921.9 388.5 1921.7 390.0 1921.4 391.5 1921.1 393.0 1920.8 394.5 1920.5 396.0 1920.2 397.5 1919.9 399.0 1919.6 400.5 1919.3 402.0 1919.0 403.5 1918.7 405.0 1918.4 406.5 1918.0 408.0 1917.7 409.5 1917.4 411.0 1917.1 412.5 1916.8 414.0 1916.5 415.5 1916.2 417.0 1915.9 418.5 1915.6 420.0 1915.3 421.5 1914.9 423.0 1914.6 424.5 1914.3 426.0 1914.0 427.5 1913.7 429.0 1913.4 430.5 1913.1 432.0 1912.8 433.5 1912.5 435.0 1912.2 436.5 1911.9 438.0 1911.6 439.5 1911.3 441.0 1911.0 442.5 1910.7 444.0 1910.4 445.5 1910.1 447.0 1909.8 448.5 1909.5 450.0 1909.2 451.5 1908.9 453.0 1908.7 454.5 1908.4 456.0 1908.1 457.5 1907.8 459.0 1907.6 460.5 1907.3 462.0 1907.0 463.5 1906.8 465.0 1906.5 466.5 1906.3 468.0 1906.0 469.5 1905.8 471.0 1905.5 472.5 1905.3 474.0 1905.1 475.5 1904.8 477.0 1904.6 478.5 1904.4 480.0 1904.2 481.5 1904.0 483.0 1903.8 484.5 1903.6 486.0 1903.4 487.5 1903.2 489.0 1903.0 490.5 1902.8 492.0 1902.6 493.5 1902.5 495.0 1902.3 496.5 1902.1 498.0 1902.0 499.5 1901.8 501.0 1901.7 502.5 1901.5 504.0 1901.4 505.5 1901.2 507.0 1901.1 508.5 1900.9 510.0 1900.8 511.5 1900.7 513.0 1900.5 514.5 1900.4 516.0 1900.3 517.5 1900.1 519.0 1900.0 520.5 1899.9 522.0 1899.8 523.5 1899.7 525.0 1899.6 526.5 1899.4 528.0 1899.3 529.5 1899.2 531.0 1899.1 532.5 1899.0 534.0 1898.9 535.5 1898.8 537.0 1898.7 538.5 1898.6 540.0 1898.5 541.5 1898.4 543.0 1898.3 544.5 1898.2 546.0 1898.1 547.5 1898.0 549.0 1897.9 550.5 1897.8 552.0 1897.7 553.5 1897.6 555.0 1897.5 556.5 1897.4 558.0 1897.3 559.5 1897.2 561.0 1897.1 562.5 1897.0 564.0 1896.9 565.5 1896.8 567.0 1896.7 568.5 1896.6 570.0 1896.5 571.5 1896.4 573.0 1896.3 574.5 1896.2 576.0 1896.1 577.5 1895.9 579.0 1895.8 580.5 1895.7 582.0 1895.6 583.5 1895.5 585.0 1895.3 586.5 1895.2 588.0 1895.1 589.5 1895.0 591.0 1894.8 592.5 1894.7 594.0 1894.5 595.5 1894.4 597.0 1894.3 598.5 1894.1 600.0 1894.0 601.5 1893.8 603.0 1893.6 604.5 1893.5 606.0 1893.3 607.5 1893.2 609.0 1893.0 610.5 1892.8 612.0 1892.6 613.5 1892.4 615.0 1892.3 616.5 1892.1 618.0 1891.9 619.5 1891.7 621.0 1891.5 622.5 1891.3 624.0 1891.1 625.5 1890.9 627.0 1890.7 628.5 1890.5 630.0 1890.3 631.5 1890.0 633.0 1889.8 634.5 1889.6 636.0 1889.4 637.5 1889.1 639.0 1888.9 640.5 1888.7 642.0 1888.4 643.5 1888.2 645.0 1888.0 646.5 1887.7 648.0 1887.5 649.5 1887.2 651.0 1887.0 652.5 1886.7 654.0 1886.5 655.5 1886.2 657.0 1886.0 658.5 1885.7 660.0 1885.4 661.5 1885.2 663.0 1884.9 664.5 1884.6 666.0 1884.4 667.5 1884.1 669.0 1883.8 670.5 1883.5 672.0 1883.3 673.5 1883.0 675.0 1882.7 676.5 1882.4 678.0 1882.1 679.5 1881.8 681.0 1881.5 682.5 1881.2 684.0 1881.0 685.5 1880.7 687.0 1880.4 688.5 1880.1 690.0 1879.8 691.5 1879.5 693.0 1879.2 694.5 1878.8 696.0 1878.5 697.5 1878.2 699.0 1877.9 700.5 1877.6 702.0 1877.3 703.5 1877.0 705.0 1876.7 706.5 1876.4 708.0 1876.0 709.5 1875.7 711.0 1875.4 712.5 1875.1 714.0 1874.8 715.5 1874.4 717.0 1874.1 718.5 1873.8 720.0 1873.5 721.5 1873.1 723.0 1872.8 724.5 1872.5 726.0 1872.2 727.5 1871.8 729.0 1871.5 730.5 1871.2 732.0 1870.8 733.5 1870.5 735.0 1870.2 736.5 1869.8 738.0 1869.5 739.5 1869.2 741.0 1868.8 742.5 1868.5 744.0 1868.2 745.5 1867.8 747.0 1867.5 748.5 1867.2 750.0 1866.8 751.5 1866.5 753.0 1866.2 754.5 1865.8 756.0 1865.5 757.5 1865.2 759.0 1864.9 760.5 1864.5 762.0 1864.2 763.5 1863.9 765.0 1863.6 766.5 1863.3 768.0 1862.9 769.5 1862.6 771.0 1862.3 772.5 1862.0 774.0 1861.7 775.5 1861.4 777.0 1861.1 778.5 1860.8 780.0 1860.5 781.5 1860.2 783.0 1860.0 784.5 1859.7 786.0 1859.4 787.5 1859.1 789.0 1858.9 790.5 1858.6 792.0 1858.3 793.5 1858.1 795.0 1857.8 796.5 1857.6 798.0 1857.3 799.5 1857.1 801.0 1856.9 802.5 1856.6 804.0 1856.4 805.5 1856.2 807.0 1856.0 808.5 1855.8 810.0 1855.6 811.5 1855.4 813.0 1855.2 814.5 1855.0 816.0 1854.9 817.5 1854.7 819.0 1854.5 820.5 1854.4 822.0 1854.2 823.5 1854.1 825.0 1854.0 826.5 1853.8 828.0 1853.7 829.5 1853.6 831.0 1853.5 832.5 1853.4 834.0 1853.3 835.5 1853.3 837.0 1853.2 838.5 1853.1 840.0 1853.1 841.5 1853.0 843.0 1853.0 844.5 1853.0 846.0 1853.0 847.5 1853.0 849.0 1853.0 850.5 1853.0 852.0 1853.0 853.5 1853.0 855.0 1853.1 856.5 1853.1 858.0 1853.2 859.5 1853.2 861.0 1853.3 862.5 1853.4 864.0 1853.5 865.5 1853.6 867.0 1853.7 868.5 1853.9 870.0 1854.0 871.5 1854.2 873.0 1854.4 874.5 1854.5 876.0 1854.7 877.5 1854.9 879.0 1855.1 880.5 1855.4 882.0 1855.6 883.5 1855.9 885.0 1856.1 886.5 1856.4 888.0 1856.7 889.5 1857.0 891.0 1857.3 892.5 1857.6 894.0 1857.9 895.5 1858.3 897.0 1858.6 898.5 1859.0 900.0 1859.3 901.5 1859.7 903.0 1860.1 904.5 1860.5 906.0 1860.8 907.5 1861.2 909.0 1861.6 910.5 1862.1 912.0 1862.5 913.5 1862.9 915.0 1863.3 916.5 1863.7 918.0 1864.2 919.5 1864.6 921.0 1865.0 922.5 1865.5 924.0 1865.9 925.5 1866.4 927.0 1866.8 928.5 1867.3 930.0 1867.7 931.5 1868.2 933.0 1868.6 934.5 1869.1 936.0 1869.5 937.5 1870.0 939.0 1870.4 940.5 1870.9 942.0 1871.3 943.5 1871.7 945.0 1872.2 946.5 1872.6 948.0 1873.1 949.5 1873.5 951.0 1873.9 952.5 1874.3 954.0 1874.8 955.5 1875.2 957.0 1875.6 958.5 1876.0 960.0 1876.4 961.5 1876.8 963.0 1877.1 964.5 1877.5 966.0 1877.9 967.5 1878.2 969.0 1878.6 970.5 1878.9 972.0 1879.3 973.5 1879.6 975.0 1879.9 976.5 1880.2 978.0 1880.5 979.5 1880.8 981.0 1881.1 982.5 1881.3 984.0 1881.6 985.5 1881.8 987.0 1882.1 988.5 1882.3 990.0 1882.5 991.5 1882.7 993.0 1883.0 994.5 1883.2 996.0 1883.3 997.5 1883.5 999.0 1883.7 1000.5 1883.9 1002.0 1884.0 1003.5 1884.2 1005.0 1884.3 1006.5 1884.5 1008.0 1884.6 1009.5 1884.8 1011.0 1884.9 1012.5 1885.0 1014.0 1885.1 1015.5 1885.2 1017.0 1885.3 1018.5 1885.4 1020.0 1885.5 1021.5 1885.6 1023.0 1885.7 1024.5 1885.8 1026.0 1885.9 1027.5 1886.0 1029.0 1886.0 1030.5 1886.1 1032.0 1886.2 1033.5 1886.2 1035.0 1886.3 1036.5 1886.4 1038.0 1886.4 1039.5 1886.5 1041.0 1886.5 1042.5 1886.6 1044.0 1886.6 1045.5 1886.7 1047.0 1886.7 1048.5 1886.8 1050.0 1886.8 1051.5 1886.9 1053.0 1886.9 1054.5 1886.9 1056.0 1887.0 1057.5 1887.0 1059.0 1887.1 1060.5 1887.1 1062.0 1887.2 1063.5 1887.2 1065.0 1887.2 1066.5 1887.3 1068.0 1887.3 1069.5 1887.4 1071.0 1887.4 1072.5 1887.4 1074.0 1887.5 1075.5 1887.5 1077.0 1887.6 1078.5 1887.6 1080.0 1887.6 1081.5 1887.7 1083.0 1887.7 1084.5 1887.8 1086.0 1887.8 1087.5 1887.9 1089.0 1887.9 1090.5 1887.9 1092.0 1888.0 1093.5 1888.0 1095.0 1888.1 1096.5 1888.1 1098.0 1888.2 1099.5 1888.2 1101.0 1888.3 1102.5 1888.3 1104.0 1888.4 1105.5 1888.4 1107.0 1888.5 1108.5 1888.5 1110.0 1888.6 1111.5 1888.6 1113.0 1888.7 1114.5 1888.7 1116.0 1888.8 1117.5 1888.8 1119.0 1888.9 1120.5 1888.9 1122.0 1889.0 1123.5 1889.1 1125.0 1889.1 1126.5 1889.2 1128.0 1889.3 1129.5 1889.3 1131.0 1889.4 1132.5 1889.5 1134.0 1889.5 1135.5 1889.6 1137.0 1889.7 1138.5 1889.8 1140.0 1889.8 1141.5 1889.9 1143.0 1890.0 1144.5 1890.1 1146.0 1890.2 1147.5 1890.3 1149.0 1890.3 1150.5 1890.4 1152.0 1890.5 1153.5 1890.6 1155.0 1890.7 1156.5 1890.8 1158.0 1890.9 1159.5 1891.0 1161.0 1891.1 1162.5 1891.2 1164.0 1891.4 1165.5 1891.5 1167.0 1891.6 1168.0 1891.7" stroke="#ad6de6" stroke-width="2.9"/>
</g>
<path d="M211.30 2016V2007.5 M317.60 2016V2000 M423.90 2016V2007.5 M530.20 2016V2000 M636.50 2016V2007.5 M742.80 2016V2000 M849.10 2016V2007.5 M955.40 2016V2000 M1061.70 2016V2007.5" stroke="#000" stroke-width="3.4" fill="none"/>
<rect x="105" y="1117.5" width="1063" height="898.5" fill="none" stroke="#000" stroke-width="3.4"/>
</g>
<g id="pd">
<clipPath id="cd"><rect x="1358" y="1109" width="1060" height="898"/></clipPath>
<g clip-path="url(#cd)" fill="none" stroke-linejoin="round" stroke-linecap="round">
<path d="M1358.0 1902.5L1359.5 1902.5 1361.0 1902.6 1362.5 1902.6 1364.0 1902.7 1365.5 1902.6 1367.0 1902.6 1368.5 1902.6 1370.0 1902.5 1371.5 1902.5 1373.0 1902.4 1374.5 1902.3 1376.0 1902.2 1377.5 1902.0 1379.0 1901.9 1380.5 1901.8 1382.0 1901.6 1383.5 1901.4 1385.0 1901.3 1386.5 1901.1 1388.0 1900.9 1389.5 1900.7 1391.0 1900.6 1392.5 1900.4 1394.0 1900.2 1395.5 1900.0 1397.0 1899.8 1398.5 1899.6 1400.0 1899.4 1401.5 1899.3 1403.0 1899.1 1404.5 1898.9 1406.0 1898.8 1407.5 1898.6 1409.0 1898.5 1410.5 1898.4 1412.0 1898.2 1413.5 1898.1 1415.0 1898.0 1416.5 1897.9 1418.0 1897.9 1419.5 1897.8 1421.0 1897.8 1422.5 1897.8 1424.0 1897.7 1425.5 1897.7 1427.0 1897.7 1428.5 1897.6 1430.0 1897.6 1431.5 1897.5 1433.0 1897.5 1434.5 1897.4 1436.0 1897.2 1437.5 1897.1 1439.0 1896.9 1440.5 1896.6 1442.0 1896.4 1443.5 1896.0 1445.0 1895.7 1446.5 1895.3 1448.0 1894.8 1449.5 1894.2 1451.0 1893.7 1452.5 1893.1 1454.0 1892.5 1455.5 1891.9 1457.0 1891.4 1458.5 1891.0 1460.0 1890.7 1461.5 1890.5 1463.0 1890.4 1464.5 1890.4 1466.0 1890.4 1467.5 1890.4 1469.0 1890.3 1470.5 1890.1 1472.0 1889.8 1473.5 1889.3 1475.0 1888.6 1476.5 1887.7 1477.8 1886.9 1479.0 1885.9 1480.2 1884.9 1481.5 1883.8 1482.8 1882.6 1484.0 1881.4 1485.2 1880.2 1486.5 1878.9 1487.8 1877.7 1489.0 1876.5 1490.2 1875.3 1491.5 1874.2 1492.8 1873.1 1494.0 1872.1 1495.2 1871.2 1496.5 1870.3 1497.8 1869.5 1499.2 1868.5 1500.8 1867.5 1502.2 1866.5 1503.5 1865.7 1504.8 1864.8 1506.0 1863.8 1507.2 1862.8 1508.5 1861.7 1509.8 1860.5 1511.0 1859.3 1512.2 1857.9 1513.2 1856.8 1514.2 1855.6 1515.2 1854.4 1516.2 1853.2 1517.2 1851.8 1518.2 1850.5 1519.2 1849.1 1520.2 1847.6 1521.2 1846.1 1522.2 1844.6 1523.2 1843.0 1524.2 1841.3 1525.2 1839.6 1526.0 1838.3 1526.8 1837.0 1527.5 1835.6 1528.2 1834.2 1529.0 1832.8 1529.8 1831.3 1530.5 1829.8 1531.2 1828.3 1532.0 1826.8 1532.8 1825.2 1533.5 1823.7 1534.2 1822.0 1535.0 1820.4 1535.8 1818.7 1536.5 1817.0 1537.2 1815.3 1538.0 1813.5 1538.8 1811.7 1539.5 1809.9 1540.2 1808.1 1541.0 1806.2 1541.8 1804.3 1542.5 1802.3 1543.2 1800.4 1544.0 1798.4 1544.8 1796.4 1545.5 1794.3 1546.2 1792.2 1547.0 1790.1 1547.5 1788.7 1548.0 1787.3 1548.5 1785.8 1549.0 1784.3 1549.5 1782.9 1550.0 1781.4 1550.5 1779.8 1551.0 1778.3 1551.5 1776.8 1552.0 1775.2 1552.5 1773.6 1553.0 1772.0 1553.5 1770.4 1554.0 1768.7 1554.5 1767.0 1555.0 1765.4 1555.5 1763.7 1556.0 1761.9 1556.5 1760.2 1557.0 1758.4 1557.5 1756.6 1558.0 1754.8 1558.5 1753.0 1559.0 1751.1 1559.5 1749.2 1560.0 1747.3 1560.5 1745.4 1561.0 1743.4 1561.5 1741.4 1562.0 1739.4 1562.5 1737.4 1563.0 1735.3 1563.5 1733.2 1564.0 1731.1 1564.5 1729.0 1565.0 1726.8 1565.5 1724.6 1566.0 1722.4 1566.5 1720.1 1567.0 1717.8 1567.5 1715.5 1568.0 1713.1 1568.5 1710.8 1569.0 1708.4 1569.5 1705.9 1570.0 1703.5 1570.5 1701.0 1571.0 1698.4 1571.5 1695.9 1572.0 1693.3 1572.5 1690.7 1573.0 1688.1 1573.5 1685.4 1574.0 1682.7 1574.5 1680.0 1575.0 1677.3 1575.5 1674.5 1576.0 1671.7 1576.5 1668.8 1577.0 1666.0 1577.5 1663.1 1578.0 1660.2 1578.5 1657.2 1578.8 1655.8 1579.0 1654.3 1579.2 1652.8 1579.5 1651.3 1579.8 1649.8 1580.0 1648.2 1580.2 1646.7 1580.5 1645.2 1580.8 1643.6 1581.0 1642.1 1581.2 1640.5 1581.5 1639.0 1581.8 1637.4 1582.0 1635.8 1582.2 1634.3 1582.5 1632.7 1582.8 1631.1 1583.0 1629.5 1583.2 1627.9 1583.5 1626.3 1583.8 1624.6 1584.0 1623.0 1584.2 1621.4 1584.5 1619.7 1584.8 1618.1 1585.0 1616.4 1585.2 1614.8 1585.5 1613.1 1585.8 1611.4 1586.0 1609.7 1586.2 1608.1 1586.5 1606.4 1586.8 1604.7 1587.0 1603.0 1587.2 1601.3 1587.5 1599.6 1587.8 1597.9 1588.0 1596.2 1588.2 1594.5 1588.5 1592.8 1588.8 1591.1 1589.0 1589.4 1589.2 1587.7 1589.5 1586.0 1589.8 1584.4 1590.0 1582.7 1590.2 1581.1 1590.5 1579.4 1590.8 1577.8 1591.0 1576.2 1591.2 1574.5 1591.5 1572.9 1591.8 1571.4 1592.0 1569.8 1592.2 1568.2 1592.5 1566.7 1592.8 1565.2 1593.0 1563.7 1593.2 1562.2 1593.8 1559.3 1594.2 1556.4 1594.8 1553.7 1595.2 1551.1 1595.8 1548.5 1596.2 1546.1 1596.8 1543.7 1597.2 1541.4 1597.8 1539.1 1598.2 1536.9 1598.8 1534.6 1599.2 1532.3 1599.8 1529.9 1600.2 1527.5 1600.8 1524.9 1601.2 1522.3 1601.8 1519.4 1602.2 1516.5 1602.5 1514.9 1602.8 1513.3 1603.0 1511.7 1603.2 1510.0 1603.5 1508.2 1603.8 1506.4 1604.0 1504.5 1604.2 1502.6 1604.5 1500.6 1604.8 1498.6 1605.0 1496.5 1605.2 1494.5 1605.5 1492.3 1605.8 1490.2 1606.0 1488.0 1606.2 1485.8 1606.5 1483.6 1606.8 1481.3 1607.0 1479.1 1607.2 1476.8 1607.5 1474.5 1607.8 1472.3 1608.0 1470.0 1608.2 1467.7 1608.5 1465.4 1608.8 1463.1 1609.0 1460.9 1609.2 1458.6 1609.5 1456.4 1609.8 1454.2 1610.0 1452.0 1610.2 1449.8 1610.5 1447.7 1610.8 1445.6 1611.0 1443.5 1611.2 1441.5 1611.5 1439.4 1611.8 1437.4 1612.0 1435.4 1612.2 1433.4 1612.5 1431.5 1612.8 1429.6 1613.0 1427.7 1613.2 1425.8 1613.5 1423.9 1613.8 1422.0 1614.0 1420.2 1614.2 1418.4 1614.5 1416.6 1614.8 1414.8 1615.0 1413.0 1615.2 1411.2 1615.5 1409.5 1615.8 1407.8 1616.0 1406.0 1616.2 1404.3 1616.5 1402.6 1616.8 1401.0 1617.0 1399.3 1617.2 1397.6 1617.5 1396.0 1617.8 1394.3 1618.0 1392.7 1618.2 1391.0 1618.5 1389.4 1618.8 1387.8 1619.0 1386.2 1619.2 1384.6 1619.5 1383.0 1619.8 1381.4 1620.0 1379.8 1620.2 1378.2 1620.5 1376.6 1620.8 1375.0 1621.0 1373.4 1621.2 1371.8 1621.5 1370.2 1621.8 1368.6 1622.0 1367.0 1622.2 1365.4 1622.5 1363.8 1622.8 1362.2 1623.0 1360.6 1623.2 1359.1 1623.5 1357.5 1623.8 1355.9 1624.0 1354.4 1624.2 1352.9 1624.5 1351.3 1624.8 1349.8 1625.0 1348.3 1625.5 1345.4 1626.0 1342.5 1626.5 1339.8 1627.0 1337.1 1627.5 1334.6 1628.0 1332.1 1628.5 1329.8 1629.0 1327.6 1629.5 1325.5 1630.0 1323.5 1630.5 1321.6 1631.0 1319.6 1631.5 1317.7 1632.0 1315.7 1632.5 1313.6 1633.0 1311.4 1633.5 1309.1 1634.0 1306.6 1634.5 1304.0 1635.0 1301.1 1635.2 1299.5 1635.5 1297.9 1635.8 1296.3 1636.0 1294.6 1636.2 1292.9 1636.5 1291.2 1636.8 1289.4 1637.0 1287.6 1637.2 1285.9 1637.5 1284.1 1637.8 1282.3 1638.0 1280.6 1638.2 1278.8 1638.5 1277.1 1638.8 1275.5 1639.0 1273.9 1639.2 1272.3 1639.5 1270.8 1640.0 1268.0 1640.5 1265.4 1641.0 1263.1 1641.5 1261.0 1642.0 1259.2 1642.5 1257.5 1643.0 1256.0 1643.8 1254.1 1644.5 1252.4 1645.2 1250.9 1646.0 1249.5 1647.0 1247.8 1647.8 1246.5 1648.5 1245.1 1649.2 1243.5 1650.0 1241.8 1650.8 1240.0 1651.5 1238.4 1652.2 1237.1 1653.2 1235.6 1654.5 1234.3 1656.0 1233.3 1657.5 1233.1 1659.0 1233.4 1660.5 1234.3 1661.8 1235.3 1663.0 1236.6 1664.0 1237.8 1665.0 1239.0 1666.0 1240.4 1667.0 1241.8 1668.0 1243.2 1669.0 1244.6 1670.0 1246.0 1671.0 1247.5 1672.0 1249.1 1673.0 1250.7 1673.8 1252.1 1674.5 1253.5 1675.2 1254.9 1676.0 1256.5 1676.8 1258.2 1677.5 1260.1 1678.2 1262.0 1679.0 1264.2 1679.5 1265.6 1680.0 1267.2 1680.5 1268.9 1681.0 1270.6 1681.5 1272.4 1682.0 1274.3 1682.5 1276.2 1683.0 1278.2 1683.5 1280.3 1684.0 1282.4 1684.5 1284.5 1685.0 1286.6 1685.5 1288.8 1686.0 1290.9 1686.5 1293.1 1687.0 1295.2 1687.5 1297.3 1688.0 1299.3 1688.5 1301.3 1689.0 1303.3 1689.5 1305.3 1690.0 1307.2 1690.5 1309.1 1691.0 1311.0 1691.5 1313.0 1692.0 1314.8 1692.5 1316.7 1693.0 1318.6 1693.5 1320.5 1694.0 1322.4 1694.5 1324.3 1695.0 1326.2 1695.5 1328.2 1696.0 1330.1 1696.5 1332.1 1697.0 1334.1 1697.5 1336.1 1698.0 1338.2 1698.5 1340.3 1699.0 1342.4 1699.5 1344.5 1700.0 1346.7 1700.5 1349.0 1701.0 1351.3 1701.5 1353.6 1702.0 1356.0 1702.5 1358.5 1703.0 1361.0 1703.5 1363.5 1704.0 1366.1 1704.5 1368.7 1705.0 1371.3 1705.5 1374.0 1706.0 1376.7 1706.5 1379.5 1707.0 1382.2 1707.5 1385.0 1708.0 1387.8 1708.5 1390.6 1709.0 1393.4 1709.5 1396.3 1710.0 1399.1 1710.5 1401.9 1711.0 1404.8 1711.5 1407.6 1712.0 1410.5 1712.5 1413.3 1713.0 1416.1 1713.5 1418.9 1714.0 1421.7 1714.5 1424.5 1715.0 1427.3 1715.5 1430.1 1716.0 1432.8 1716.5 1435.5 1717.0 1438.3 1717.5 1441.0 1718.0 1443.6 1718.5 1446.3 1719.0 1449.0 1719.5 1451.6 1720.0 1454.2 1720.5 1456.8 1721.0 1459.4 1721.5 1461.9 1722.0 1464.4 1722.5 1466.9 1723.0 1469.4 1723.5 1471.8 1724.0 1474.2 1724.5 1476.6 1725.0 1479.0 1725.5 1481.3 1726.0 1483.6 1726.5 1485.9 1727.0 1488.2 1727.5 1490.4 1728.0 1492.6 1728.5 1494.8 1729.0 1497.0 1729.5 1499.1 1730.0 1501.2 1730.5 1503.2 1731.0 1505.3 1731.5 1507.3 1732.0 1509.3 1732.5 1511.2 1733.0 1513.1 1733.5 1515.0 1734.0 1516.9 1734.5 1518.8 1735.0 1520.6 1735.5 1522.5 1736.0 1524.3 1736.5 1526.2 1737.0 1528.0 1737.5 1529.9 1738.0 1531.8 1738.5 1533.7 1739.0 1535.7 1739.5 1537.7 1740.0 1539.7 1740.5 1541.8 1741.0 1543.9 1741.5 1546.1 1742.0 1548.3 1742.5 1550.6 1743.0 1553.0 1743.5 1555.5 1744.0 1558.0 1744.5 1560.6 1745.0 1563.3 1745.5 1566.0 1746.0 1568.8 1746.5 1571.6 1747.0 1574.4 1747.5 1577.2 1748.0 1579.9 1748.5 1582.6 1749.0 1585.2 1749.5 1587.7 1750.0 1590.2 1750.5 1592.5 1751.0 1594.6 1751.5 1596.7 1752.0 1598.7 1752.5 1600.6 1753.0 1602.4 1753.5 1604.2 1754.0 1605.9 1754.5 1607.5 1755.0 1609.1 1755.5 1610.7 1756.0 1612.2 1756.5 1613.8 1757.0 1615.3 1757.5 1616.8 1758.0 1618.4 1758.5 1619.9 1759.0 1621.4 1759.5 1623.0 1760.0 1624.5 1760.5 1626.0 1761.0 1627.6 1761.5 1629.1 1762.0 1630.6 1762.5 1632.1 1763.0 1633.6 1763.5 1635.1 1764.0 1636.5 1764.5 1638.0 1765.0 1639.5 1765.5 1640.9 1766.0 1642.4 1766.5 1643.8 1767.0 1645.2 1767.8 1647.3 1768.5 1649.4 1769.2 1651.4 1770.0 1653.5 1770.8 1655.5 1771.5 1657.4 1772.2 1659.4 1773.0 1661.3 1773.8 1663.3 1774.5 1665.1 1775.2 1667.0 1776.0 1668.9 1776.8 1670.7 1777.5 1672.5 1778.2 1674.3 1779.0 1676.0 1779.8 1677.8 1780.5 1679.5 1781.2 1681.2 1782.0 1682.9 1782.8 1684.6 1783.5 1686.2 1784.2 1687.8 1785.0 1689.5 1785.8 1691.1 1786.5 1692.6 1787.2 1694.2 1788.0 1695.7 1788.8 1697.3 1789.5 1698.8 1790.2 1700.3 1791.0 1701.7 1791.8 1703.2 1792.5 1704.7 1793.2 1706.1 1794.0 1707.5 1794.8 1708.9 1795.5 1710.3 1796.2 1711.6 1797.0 1713.0 1797.8 1714.3 1798.5 1715.6 1799.2 1716.9 1800.2 1718.6 1801.2 1720.3 1802.2 1722.0 1803.2 1723.6 1804.2 1725.2 1805.2 1726.8 1806.2 1728.4 1807.2 1729.9 1808.2 1731.4 1809.2 1732.9 1810.2 1734.4 1811.2 1735.8 1812.2 1737.3 1813.2 1738.7 1814.2 1740.0 1815.2 1741.4 1816.2 1742.7 1817.2 1744.0 1818.2 1745.3 1819.2 1746.6 1820.2 1747.9 1821.2 1749.1 1822.2 1750.3 1823.2 1751.5 1824.2 1752.7 1825.2 1753.9 1826.2 1755.0 1827.2 1756.1 1828.5 1757.5 1829.8 1758.9 1831.0 1760.2 1832.2 1761.5 1833.5 1762.8 1834.8 1764.1 1836.0 1765.3 1837.2 1766.5 1838.5 1767.7 1839.8 1768.9 1841.0 1770.0 1842.2 1771.2 1843.5 1772.3 1844.8 1773.4 1846.0 1774.5 1847.2 1775.6 1848.5 1776.6 1849.8 1777.7 1851.0 1778.7 1852.2 1779.7 1853.5 1780.7 1854.8 1781.7 1856.0 1782.6 1857.2 1783.6 1858.5 1784.6 1859.8 1785.5 1861.0 1786.4 1862.2 1787.4 1863.5 1788.3 1864.8 1789.2 1866.0 1790.1 1867.2 1791.0 1868.5 1791.9 1869.8 1792.8 1871.0 1793.6 1872.2 1794.5 1873.5 1795.4 1874.8 1796.2 1876.0 1797.1 1877.2 1798.0 1878.5 1798.8 1879.8 1799.6 1881.0 1800.5 1882.2 1801.3 1883.5 1802.1 1885.0 1803.1 1886.5 1804.1 1888.0 1805.1 1889.5 1806.1 1891.0 1807.1 1892.5 1808.0 1894.0 1809.0 1895.5 1810.0 1897.0 1810.9 1898.5 1811.9 1900.0 1812.9 1901.5 1813.8 1903.0 1814.8 1904.5 1815.7 1906.0 1816.7 1907.5 1817.7 1909.0 1818.6 1910.5 1819.6 1912.0 1820.6 1913.5 1821.5 1915.0 1822.5 1916.5 1823.5 1918.0 1824.5 1919.5 1825.5 1921.0 1826.4 1922.5 1827.4 1924.0 1828.4 1925.5 1829.3 1927.0 1830.3 1928.5 1831.1 1930.0 1831.9 1931.5 1832.6 1933.0 1833.3 1934.5 1833.9 1936.0 1834.3 1937.5 1834.8 1939.0 1835.1 1940.5 1835.4 1942.0 1835.6 1943.5 1835.9 1945.0 1836.0 1946.5 1836.2 1948.0 1836.3 1949.5 1836.4 1951.0 1836.6 1952.5 1836.7 1954.0 1836.8 1955.5 1836.9 1957.0 1837.1 1958.5 1837.2 1960.0 1837.3 1961.5 1837.4 1963.0 1837.6 1964.5 1837.7 1966.0 1837.8 1967.5 1838.0 1969.0 1838.1 1970.5 1838.2 1972.0 1838.4 1973.5 1838.5 1975.0 1838.7 1976.5 1838.8 1978.0 1838.9 1979.5 1839.1 1981.0 1839.2 1982.5 1839.3 1984.0 1839.5 1985.5 1839.6 1987.0 1839.8 1988.5 1839.9 1990.0 1840.0 1991.5 1840.2 1993.0 1840.3 1994.5 1840.4 1996.0 1840.6 1997.5 1840.7 1999.0 1840.8 2000.5 1841.0 2002.0 1841.1 2003.5 1841.2 2005.0 1841.3 2006.5 1841.5 2008.0 1841.6 2009.5 1841.7 2011.0 1841.8 2012.5 1842.0 2014.0 1842.1 2015.5 1842.2 2017.0 1842.3 2018.5 1842.4 2020.0 1842.5 2021.5 1842.6 2023.0 1842.7 2024.5 1842.9 2026.0 1843.0 2027.5 1843.1 2029.0 1843.2 2030.5 1843.2 2032.0 1843.3 2033.5 1843.4 2035.0 1843.5 2036.5 1843.6 2038.0 1843.7 2039.5 1843.8 2041.0 1843.8 2042.5 1843.9 2044.0 1844.0 2045.5 1844.0 2047.0 1844.1 2048.5 1844.2 2050.0 1844.2 2051.5 1844.3 2053.0 1844.3 2054.5 1844.4 2056.0 1844.4 2057.5 1844.4 2059.0 1844.5 2060.5 1844.5 2062.0 1844.5 2063.5 1844.5 2065.0 1844.6 2066.5 1844.6 2068.0 1844.6 2069.5 1844.6 2071.0 1844.6 2072.5 1844.6 2074.0 1844.6 2075.5 1844.5 2077.0 1844.5 2078.5 1844.5 2080.0 1844.5 2081.5 1844.4 2083.0 1844.4 2084.5 1844.4 2086.0 1844.3 2087.5 1844.3 2089.0 1844.3 2090.5 1844.2 2092.0 1844.2 2093.5 1844.2 2095.0 1844.2 2096.5 1844.2 2098.0 1844.1 2099.5 1844.1 2101.0 1844.1 2102.5 1844.2 2104.0 1844.2 2105.5 1844.2 2107.0 1844.3 2108.5 1844.3 2110.0 1844.4 2111.5 1844.5 2113.0 1844.5 2114.5 1844.6 2116.0 1844.8 2117.5 1844.9 2119.0 1845.1 2120.5 1845.2 2122.0 1845.4 2123.5 1845.6 2125.0 1845.8 2126.5 1846.1 2128.0 1846.3 2129.5 1846.6 2131.0 1846.9 2132.5 1847.3 2134.0 1847.6 2135.5 1848.0 2137.0 1848.4 2138.5 1848.8 2140.0 1849.2 2141.5 1849.6 2143.0 1850.1 2144.5 1850.6 2146.0 1851.0 2147.5 1851.5 2149.0 1852.0 2150.5 1852.5 2152.0 1853.0 2153.5 1853.5 2155.0 1854.0 2156.5 1854.6 2158.0 1855.1 2159.5 1855.6 2161.0 1856.1 2162.5 1856.7 2164.0 1857.2 2165.5 1857.7 2167.0 1858.2 2168.5 1858.7 2170.0 1859.2 2171.5 1859.7 2173.0 1860.2 2174.5 1860.7 2176.0 1861.1 2177.5 1861.6 2179.0 1862.0 2180.5 1862.4 2182.0 1862.8 2183.5 1863.2 2185.0 1863.6 2186.5 1864.0 2188.0 1864.4 2189.5 1864.7 2191.0 1865.1 2192.5 1865.4 2194.0 1865.7 2195.5 1866.0 2197.0 1866.3 2198.5 1866.6 2200.0 1866.9 2201.5 1867.2 2203.0 1867.4 2204.5 1867.7 2206.0 1867.9 2207.5 1868.2 2209.0 1868.4 2210.5 1868.6 2212.0 1868.8 2213.5 1869.0 2215.0 1869.2 2216.5 1869.4 2218.0 1869.6 2219.5 1869.8 2221.0 1869.9 2222.5 1870.1 2224.0 1870.2 2225.5 1870.3 2227.0 1870.5 2228.5 1870.6 2230.0 1870.7 2231.5 1870.8 2233.0 1870.9 2234.5 1871.0 2236.0 1871.1 2237.5 1871.2 2239.0 1871.2 2240.5 1871.3 2242.0 1871.4 2243.5 1871.4 2245.0 1871.5 2246.5 1871.6 2248.0 1871.6 2249.5 1871.7 2251.0 1871.7 2252.5 1871.7 2254.0 1871.8 2255.5 1871.8 2257.0 1871.8 2258.5 1871.9 2260.0 1871.9 2261.5 1871.9 2263.0 1872.0 2264.5 1872.0 2266.0 1872.0 2267.5 1872.1 2269.0 1872.1 2270.5 1872.1 2272.0 1872.2 2273.5 1872.2 2275.0 1872.2 2276.5 1872.3 2278.0 1872.3 2279.5 1872.3 2281.0 1872.4 2282.5 1872.4 2284.0 1872.4 2285.5 1872.5 2287.0 1872.5 2288.5 1872.5 2290.0 1872.6 2291.5 1872.6 2293.0 1872.7 2294.5 1872.7 2296.0 1872.7 2297.5 1872.8 2299.0 1872.8 2300.5 1872.9 2302.0 1872.9 2303.5 1872.9 2305.0 1873.0 2306.5 1873.0 2308.0 1873.1 2309.5 1873.1 2311.0 1873.1 2312.5 1873.2 2314.0 1873.2 2315.5 1873.3 2317.0 1873.3 2318.5 1873.3 2320.0 1873.4 2321.5 1873.4 2323.0 1873.5 2324.5 1873.5 2326.0 1873.5 2327.5 1873.6 2329.0 1873.6 2330.5 1873.7 2332.0 1873.7 2333.5 1873.7 2335.0 1873.8 2336.5 1873.8 2338.0 1873.8 2339.5 1873.9 2341.0 1873.9 2342.5 1874.0 2344.0 1874.0 2345.5 1874.0 2347.0 1874.1 2348.5 1874.1 2350.0 1874.1 2351.5 1874.2 2353.0 1874.2 2354.5 1874.2 2356.0 1874.3 2357.5 1874.3 2359.0 1874.3 2360.5 1874.4 2362.0 1874.4 2363.5 1874.4 2365.0 1874.5 2366.5 1874.5 2368.0 1874.5 2369.5 1874.5 2371.0 1874.6 2372.5 1874.6 2374.0 1874.6 2375.5 1874.6 2377.0 1874.7 2378.5 1874.7 2380.0 1874.7 2381.5 1874.7 2383.0 1874.8 2384.5 1874.8 2386.0 1874.8 2387.5 1874.8 2389.0 1874.8 2390.5 1874.8 2392.0 1874.9 2393.5 1874.9 2395.0 1874.9 2396.5 1874.9 2398.0 1874.9 2399.5 1874.9 2401.0 1874.9 2402.5 1874.9 2404.0 1874.9 2405.5 1874.9 2407.0 1874.9 2408.5 1874.9 2410.0 1874.9 2411.5 1874.9 2413.0 1874.9 2414.5 1874.9 2416.0 1874.9 2417.5 1874.9 2418.0 1874.9" stroke="#646464" stroke-width="2.7"/>
<path d="M1358.0 1902.7L1359.5 1902.8 1361.0 1902.9 1362.5 1903.0 1364.0 1903.1 1365.5 1903.2 1367.0 1903.3 1368.5 1903.4 1370.0 1903.4 1371.5 1903.5 1373.0 1903.5 1374.5 1903.5 1376.0 1903.5 1377.5 1903.6 1379.0 1903.6 1380.5 1903.6 1382.0 1903.5 1383.5 1903.5 1385.0 1903.5 1386.5 1903.5 1388.0 1903.4 1389.5 1903.4 1391.0 1903.3 1392.5 1903.3 1394.0 1903.2 1395.5 1903.2 1397.0 1903.1 1398.5 1903.1 1400.0 1903.0 1401.5 1902.9 1403.0 1902.9 1404.5 1902.8 1406.0 1902.8 1407.5 1902.7 1409.0 1902.6 1410.5 1902.6 1412.0 1902.5 1413.5 1902.5 1415.0 1902.4 1416.5 1902.4 1418.0 1902.4 1419.5 1902.3 1421.0 1902.3 1422.5 1902.3 1424.0 1902.2 1425.5 1902.2 1427.0 1902.2 1428.5 1902.2 1430.0 1902.3 1431.5 1902.3 1433.0 1902.3 1434.5 1902.3 1436.0 1902.4 1437.5 1902.5 1439.0 1902.5 1440.5 1902.6 1442.0 1902.7 1443.5 1902.8 1445.0 1902.9 1446.5 1903.0 1448.0 1903.1 1449.5 1903.2 1451.0 1903.3 1452.5 1903.4 1454.0 1903.5 1455.5 1903.6 1457.0 1903.7 1458.5 1903.7 1460.0 1903.8 1461.5 1903.9 1463.0 1903.9 1464.5 1904.0 1466.0 1904.0 1467.5 1904.0 1469.0 1904.0 1470.5 1904.0 1472.0 1904.0 1473.5 1903.9 1475.0 1903.9 1476.5 1903.8 1478.0 1903.7 1479.5 1903.5 1481.0 1903.4 1482.5 1903.2 1484.0 1903.0 1485.5 1902.7 1487.0 1902.5 1488.5 1902.2 1490.0 1901.9 1491.5 1901.5 1493.0 1901.1 1494.5 1900.7 1496.0 1900.2 1497.5 1899.7 1499.0 1899.1 1500.5 1898.6 1502.0 1897.9 1503.5 1897.3 1505.0 1896.6 1506.5 1895.8 1508.0 1895.0 1509.5 1894.1 1511.0 1893.2 1512.5 1892.3 1513.8 1891.5 1515.0 1890.6 1516.2 1889.7 1517.5 1888.8 1518.8 1887.8 1520.0 1886.8 1521.2 1885.7 1522.5 1884.6 1523.8 1883.5 1525.0 1882.3 1526.2 1881.0 1527.5 1879.7 1528.8 1878.3 1529.8 1877.2 1530.8 1876.0 1531.8 1874.7 1532.8 1873.4 1533.8 1872.0 1534.8 1870.6 1535.8 1869.2 1536.8 1867.6 1537.8 1866.0 1538.8 1864.4 1539.8 1862.7 1540.5 1861.3 1541.2 1859.9 1542.0 1858.5 1542.8 1857.1 1543.5 1855.5 1544.2 1854.0 1545.0 1852.4 1545.8 1850.8 1546.5 1849.1 1547.2 1847.3 1548.0 1845.5 1548.8 1843.7 1549.5 1841.8 1550.2 1839.9 1551.0 1837.9 1551.8 1835.8 1552.5 1833.7 1553.0 1832.3 1553.5 1830.9 1554.0 1829.4 1554.5 1827.9 1555.0 1826.3 1555.5 1824.8 1556.0 1823.2 1556.5 1821.6 1557.0 1819.9 1557.5 1818.3 1558.0 1816.6 1558.5 1814.9 1559.0 1813.1 1559.5 1811.3 1560.0 1809.5 1560.5 1807.7 1561.0 1805.8 1561.5 1803.9 1562.0 1802.0 1562.5 1800.0 1563.0 1798.0 1563.5 1796.0 1564.0 1794.0 1564.5 1791.9 1565.0 1789.8 1565.5 1787.6 1566.0 1785.5 1566.5 1783.2 1567.0 1781.0 1567.5 1778.7 1568.0 1776.4 1568.5 1774.1 1569.0 1771.7 1569.5 1769.3 1570.0 1766.9 1570.5 1764.4 1571.0 1761.9 1571.5 1759.4 1572.0 1756.8 1572.5 1754.2 1573.0 1751.5 1573.5 1748.9 1574.0 1746.2 1574.5 1743.4 1575.0 1740.7 1575.5 1737.9 1576.0 1735.0 1576.5 1732.1 1577.0 1729.2 1577.5 1726.3 1577.8 1724.8 1578.0 1723.3 1578.2 1721.8 1578.5 1720.3 1578.8 1718.8 1579.0 1717.3 1579.2 1715.7 1579.5 1714.2 1579.8 1712.6 1580.0 1711.1 1580.2 1709.5 1580.5 1707.9 1580.8 1706.3 1581.0 1704.7 1581.2 1703.1 1581.5 1701.5 1581.8 1699.9 1582.0 1698.3 1582.2 1696.6 1582.5 1695.0 1582.8 1693.3 1583.0 1691.6 1583.2 1690.0 1583.5 1688.3 1583.8 1686.6 1584.0 1684.9 1584.2 1683.2 1584.5 1681.5 1584.8 1679.7 1585.0 1678.0 1585.2 1676.3 1585.5 1674.5 1585.8 1672.7 1586.0 1671.0 1586.2 1669.2 1586.5 1667.4 1586.8 1665.6 1587.0 1663.8 1587.2 1662.0 1587.5 1660.2 1587.8 1658.3 1588.0 1656.5 1588.2 1654.7 1588.5 1652.8 1588.8 1651.0 1589.0 1649.1 1589.2 1647.3 1589.5 1645.4 1589.8 1643.6 1590.0 1641.7 1590.2 1639.8 1590.5 1637.9 1590.8 1636.1 1591.0 1634.2 1591.2 1632.3 1591.5 1630.4 1591.8 1628.5 1592.0 1626.6 1592.2 1624.8 1592.5 1622.9 1592.8 1621.0 1593.0 1619.1 1593.2 1617.2 1593.5 1615.3 1593.8 1613.4 1594.0 1611.5 1594.2 1609.6 1594.5 1607.8 1594.8 1605.9 1595.0 1604.0 1595.2 1602.1 1595.5 1600.2 1595.8 1598.4 1596.0 1596.5 1596.2 1594.6 1596.5 1592.8 1596.8 1590.9 1597.0 1589.0 1597.2 1587.2 1597.5 1585.3 1597.8 1583.5 1598.0 1581.6 1598.2 1579.7 1598.5 1577.9 1598.8 1576.0 1599.0 1574.2 1599.2 1572.3 1599.5 1570.5 1599.8 1568.6 1600.0 1566.8 1600.2 1564.9 1600.5 1563.0 1600.8 1561.2 1601.0 1559.3 1601.2 1557.5 1601.5 1555.6 1601.8 1553.7 1602.0 1551.8 1602.2 1550.0 1602.5 1548.1 1602.8 1546.2 1603.0 1544.3 1603.2 1542.4 1603.5 1540.5 1603.8 1538.7 1604.0 1536.8 1604.2 1534.8 1604.5 1532.9 1604.8 1531.0 1605.0 1529.1 1605.2 1527.2 1605.5 1525.2 1605.8 1523.3 1606.0 1521.3 1606.2 1519.4 1606.5 1517.4 1606.8 1515.5 1607.0 1513.5 1607.2 1511.5 1607.5 1509.5 1607.8 1507.5 1608.0 1505.5 1608.2 1503.5 1608.5 1501.5 1608.8 1499.4 1609.0 1497.4 1609.2 1495.3 1609.5 1493.3 1609.8 1491.2 1610.0 1489.1 1610.2 1487.0 1610.5 1484.9 1610.8 1482.8 1611.0 1480.6 1611.2 1478.5 1611.5 1476.3 1611.8 1474.2 1612.0 1472.0 1612.2 1469.8 1612.5 1467.5 1612.8 1465.3 1613.0 1463.0 1613.2 1460.8 1613.5 1458.5 1613.8 1456.2 1614.0 1453.9 1614.2 1451.6 1614.5 1449.2 1614.8 1446.9 1615.0 1444.5 1615.2 1442.1 1615.5 1439.8 1615.8 1437.4 1616.0 1435.0 1616.2 1432.6 1616.5 1430.2 1616.8 1427.8 1617.0 1425.4 1617.2 1423.0 1617.5 1420.6 1617.8 1418.2 1618.0 1415.8 1618.2 1413.4 1618.5 1411.0 1618.8 1408.7 1619.0 1406.3 1619.2 1403.9 1619.5 1401.6 1619.8 1399.3 1620.0 1396.9 1620.2 1394.6 1620.5 1392.3 1620.8 1390.1 1621.0 1387.8 1621.2 1385.5 1621.5 1383.3 1621.8 1381.1 1622.0 1378.9 1622.2 1376.8 1622.5 1374.6 1622.8 1372.5 1623.0 1370.4 1623.2 1368.4 1623.5 1366.4 1623.8 1364.4 1624.0 1362.4 1624.2 1360.5 1624.5 1358.5 1624.8 1356.7 1625.0 1354.8 1625.2 1353.0 1625.5 1351.3 1625.8 1349.6 1626.0 1347.9 1626.2 1346.2 1626.5 1344.6 1626.8 1343.1 1627.0 1341.6 1627.5 1338.7 1628.0 1336.0 1628.5 1333.5 1629.0 1331.2 1629.5 1329.0 1630.0 1327.0 1630.5 1325.0 1631.0 1323.1 1631.5 1321.2 1632.0 1319.2 1632.5 1317.2 1633.0 1315.0 1633.5 1312.7 1634.0 1310.2 1634.5 1307.5 1634.8 1306.0 1635.0 1304.4 1635.2 1302.8 1635.5 1301.1 1635.8 1299.3 1636.0 1297.5 1636.2 1295.7 1636.5 1293.8 1636.8 1291.8 1637.0 1289.9 1637.2 1288.0 1637.5 1286.0 1637.8 1284.1 1638.0 1282.2 1638.2 1280.3 1638.5 1278.5 1638.8 1276.7 1639.0 1275.0 1639.2 1273.3 1639.5 1271.7 1639.8 1270.2 1640.2 1267.5 1640.8 1265.1 1641.2 1263.0 1641.8 1261.2 1642.2 1259.6 1643.0 1257.5 1643.8 1255.8 1644.5 1254.2 1645.2 1252.8 1646.0 1251.5 1647.0 1249.9 1648.0 1248.4 1649.0 1247.2 1650.2 1245.9 1651.5 1245.0 1653.0 1244.2 1654.5 1244.0 1656.0 1244.2 1657.5 1244.9 1658.8 1245.9 1660.0 1247.3 1661.0 1248.6 1662.0 1250.2 1662.8 1251.6 1663.5 1253.0 1664.2 1254.7 1665.0 1256.5 1665.8 1258.4 1666.5 1260.4 1667.0 1261.9 1667.5 1263.3 1668.0 1264.9 1668.5 1266.5 1669.0 1268.1 1669.5 1269.8 1670.0 1271.6 1670.5 1273.4 1671.0 1275.2 1671.5 1277.1 1672.0 1279.0 1672.5 1281.0 1673.0 1283.0 1673.5 1285.0 1674.0 1287.1 1674.5 1289.2 1675.0 1291.3 1675.5 1293.5 1676.0 1295.7 1676.5 1297.9 1677.0 1300.2 1677.5 1302.5 1678.0 1304.8 1678.5 1307.1 1679.0 1309.4 1679.5 1311.8 1680.0 1314.2 1680.5 1316.6 1681.0 1319.0 1681.5 1321.4 1682.0 1323.9 1682.5 1326.3 1683.0 1328.8 1683.5 1331.2 1684.0 1333.7 1684.5 1336.2 1685.0 1338.7 1685.5 1341.2 1686.0 1343.7 1686.5 1346.2 1687.0 1348.7 1687.5 1351.3 1688.0 1353.8 1688.5 1356.4 1689.0 1358.9 1689.5 1361.5 1690.0 1364.0 1690.5 1366.6 1691.0 1369.2 1691.5 1371.8 1692.0 1374.4 1692.5 1376.9 1693.0 1379.5 1693.5 1382.2 1694.0 1384.8 1694.5 1387.4 1695.0 1390.0 1695.5 1392.6 1696.0 1395.3 1696.5 1398.0 1697.0 1400.8 1697.5 1403.6 1698.0 1406.6 1698.2 1408.1 1698.5 1409.6 1698.8 1411.2 1699.0 1412.8 1699.2 1414.5 1699.5 1416.1 1699.8 1417.8 1700.0 1419.6 1700.2 1421.4 1700.5 1423.2 1700.8 1425.1 1701.0 1427.0 1701.2 1428.9 1701.5 1430.9 1701.8 1432.8 1702.0 1434.8 1702.2 1436.8 1702.5 1438.8 1702.8 1440.9 1703.0 1442.9 1703.2 1444.9 1703.5 1447.0 1703.8 1449.0 1704.0 1451.0 1704.2 1453.0 1704.5 1455.0 1704.8 1456.9 1705.0 1458.9 1705.2 1460.8 1705.5 1462.7 1705.8 1464.6 1706.0 1466.4 1706.2 1468.2 1706.5 1470.0 1706.8 1471.8 1707.0 1473.6 1707.2 1475.3 1707.5 1477.1 1707.8 1478.8 1708.0 1480.5 1708.2 1482.2 1708.5 1483.9 1708.8 1485.6 1709.0 1487.2 1709.2 1488.9 1709.5 1490.6 1709.8 1492.2 1710.0 1493.9 1710.2 1495.5 1710.5 1497.2 1710.8 1498.8 1711.0 1500.5 1711.2 1502.1 1711.5 1503.7 1711.8 1505.4 1712.0 1507.0 1712.2 1508.7 1712.5 1510.3 1712.8 1512.0 1713.0 1513.6 1713.2 1515.3 1713.5 1516.9 1713.8 1518.6 1714.0 1520.2 1714.2 1521.8 1714.5 1523.5 1714.8 1525.1 1715.0 1526.8 1715.2 1528.4 1715.5 1530.0 1715.8 1531.7 1716.0 1533.3 1716.2 1534.9 1716.5 1536.6 1716.8 1538.2 1717.0 1539.8 1717.2 1541.4 1717.5 1543.1 1717.8 1544.7 1718.0 1546.3 1718.2 1547.9 1718.5 1549.5 1718.8 1551.1 1719.0 1552.7 1719.2 1554.4 1719.5 1556.0 1719.8 1557.6 1720.0 1559.1 1720.2 1560.7 1720.5 1562.3 1720.8 1563.9 1721.0 1565.5 1721.2 1567.1 1721.5 1568.6 1721.8 1570.2 1722.0 1571.8 1722.2 1573.3 1722.5 1574.9 1722.8 1576.5 1723.0 1578.0 1723.2 1579.6 1723.5 1581.1 1723.8 1582.6 1724.0 1584.2 1724.2 1585.7 1724.5 1587.2 1724.8 1588.7 1725.0 1590.3 1725.2 1591.8 1725.5 1593.3 1725.8 1594.8 1726.0 1596.3 1726.2 1597.7 1726.5 1599.2 1727.0 1602.2 1727.5 1605.1 1728.0 1608.0 1728.5 1610.9 1729.0 1613.7 1729.5 1616.5 1730.0 1619.3 1730.5 1622.1 1731.0 1624.9 1731.5 1627.6 1732.0 1630.3 1732.5 1632.9 1733.0 1635.5 1733.5 1638.1 1734.0 1640.7 1734.5 1643.2 1735.0 1645.7 1735.5 1648.2 1736.0 1650.6 1736.5 1653.1 1737.0 1655.5 1737.5 1657.9 1738.0 1660.2 1738.5 1662.6 1739.0 1664.9 1739.5 1667.2 1740.0 1669.5 1740.5 1671.8 1741.0 1674.1 1741.5 1676.4 1742.0 1678.7 1742.5 1681.0 1743.0 1683.2 1743.5 1685.5 1744.0 1687.8 1744.5 1690.0 1745.0 1692.3 1745.5 1694.6 1746.0 1696.8 1746.5 1699.1 1747.0 1701.4 1747.5 1703.7 1748.0 1706.0 1748.5 1708.3 1749.0 1710.6 1749.5 1712.9 1750.0 1715.2 1750.5 1717.5 1751.0 1719.7 1751.5 1721.9 1752.0 1724.1 1752.5 1726.3 1753.0 1728.4 1753.5 1730.5 1754.0 1732.6 1754.5 1734.6 1755.0 1736.5 1755.5 1738.5 1756.0 1740.3 1756.5 1742.2 1757.0 1743.9 1757.5 1745.7 1758.0 1747.4 1758.5 1749.0 1759.0 1750.6 1759.5 1752.2 1760.0 1753.7 1760.5 1755.2 1761.0 1756.7 1761.5 1758.1 1762.2 1760.2 1763.0 1762.2 1763.8 1764.1 1764.5 1766.0 1765.2 1767.8 1766.0 1769.5 1766.8 1771.2 1767.5 1772.8 1768.2 1774.4 1769.0 1775.9 1769.8 1777.4 1770.5 1778.9 1771.2 1780.3 1772.0 1781.6 1772.8 1783.0 1773.5 1784.3 1774.5 1786.0 1775.5 1787.7 1776.5 1789.3 1777.5 1790.9 1778.5 1792.6 1779.5 1794.2 1780.5 1795.8 1781.5 1797.3 1782.5 1798.9 1783.5 1800.5 1784.5 1802.0 1785.5 1803.5 1786.5 1805.0 1787.5 1806.5 1788.5 1808.0 1789.5 1809.4 1790.5 1810.8 1791.5 1812.2 1792.5 1813.6 1793.5 1815.0 1794.5 1816.3 1795.5 1817.6 1796.5 1818.9 1797.5 1820.1 1798.5 1821.3 1799.5 1822.5 1800.5 1823.7 1801.5 1824.8 1802.8 1826.1 1804.0 1827.4 1805.2 1828.7 1806.5 1829.9 1807.8 1831.0 1809.0 1832.0 1810.2 1833.0 1811.5 1834.0 1812.8 1834.8 1814.0 1835.7 1815.5 1836.6 1817.0 1837.5 1818.5 1838.3 1820.0 1839.0 1821.5 1839.7 1823.0 1840.4 1824.5 1841.0 1826.0 1841.6 1827.5 1842.1 1829.0 1842.7 1830.5 1843.2 1832.0 1843.7 1833.5 1844.1 1835.0 1844.6 1836.5 1845.1 1838.0 1845.6 1839.5 1846.0 1841.0 1846.5 1842.5 1847.0 1844.0 1847.4 1845.5 1847.9 1847.0 1848.3 1848.5 1848.7 1850.0 1849.2 1851.5 1849.6 1853.0 1850.0 1854.5 1850.4 1856.0 1850.8 1857.5 1851.2 1859.0 1851.6 1860.5 1852.0 1862.0 1852.4 1863.5 1852.8 1865.0 1853.2 1866.5 1853.6 1868.0 1854.0 1869.5 1854.3 1871.0 1854.7 1872.5 1855.1 1874.0 1855.4 1875.5 1855.8 1877.0 1856.1 1878.5 1856.5 1880.0 1856.8 1881.5 1857.2 1883.0 1857.5 1884.5 1857.8 1886.0 1858.2 1887.5 1858.5 1889.0 1858.8 1890.5 1859.1 1892.0 1859.4 1893.5 1859.7 1895.0 1860.0 1896.5 1860.3 1898.0 1860.6 1899.5 1860.9 1901.0 1861.2 1902.5 1861.5 1904.0 1861.8 1905.5 1862.0 1907.0 1862.3 1908.5 1862.6 1910.0 1862.9 1911.5 1863.1 1913.0 1863.4 1914.5 1863.6 1916.0 1863.9 1917.5 1864.1 1919.0 1864.4 1920.5 1864.6 1922.0 1864.9 1923.5 1865.1 1925.0 1865.3 1926.5 1865.6 1928.0 1865.8 1929.5 1866.0 1931.0 1866.2 1932.5 1866.4 1934.0 1866.6 1935.5 1866.9 1937.0 1867.1 1938.5 1867.3 1940.0 1867.5 1941.5 1867.7 1943.0 1867.9 1944.5 1868.0 1946.0 1868.2 1947.5 1868.4 1949.0 1868.6 1950.5 1868.8 1952.0 1868.9 1953.5 1869.1 1955.0 1869.3 1956.5 1869.5 1958.0 1869.6 1959.5 1869.8 1961.0 1869.9 1962.5 1870.1 1964.0 1870.3 1965.5 1870.4 1967.0 1870.6 1968.5 1870.7 1970.0 1870.8 1971.5 1871.0 1973.0 1871.1 1974.5 1871.3 1976.0 1871.4 1977.5 1871.5 1979.0 1871.7 1980.5 1871.8 1982.0 1871.9 1983.5 1872.0 1985.0 1872.1 1986.5 1872.3 1988.0 1872.4 1989.5 1872.5 1991.0 1872.6 1992.5 1872.7 1994.0 1872.8 1995.5 1872.9 1997.0 1873.0 1998.5 1873.1 2000.0 1873.2 2001.5 1873.3 2003.0 1873.4 2004.5 1873.5 2006.0 1873.6 2007.5 1873.7 2009.0 1873.8 2010.5 1873.8 2012.0 1873.9 2013.5 1874.0 2015.0 1874.1 2016.5 1874.2 2018.0 1874.2 2019.5 1874.3 2021.0 1874.4 2022.5 1874.4 2024.0 1874.5 2025.5 1874.6 2027.0 1874.6 2028.5 1874.7 2030.0 1874.8 2031.5 1874.8 2033.0 1874.9 2034.5 1874.9 2036.0 1875.0 2037.5 1875.0 2039.0 1875.1 2040.5 1875.1 2042.0 1875.2 2043.5 1875.2 2045.0 1875.3 2046.5 1875.3 2048.0 1875.4 2049.5 1875.4 2051.0 1875.5 2052.5 1875.5 2054.0 1875.5 2055.5 1875.6 2057.0 1875.6 2058.5 1875.6 2060.0 1875.7 2061.5 1875.7 2063.0 1875.7 2064.5 1875.8 2066.0 1875.8 2067.5 1875.8 2069.0 1875.8 2070.5 1875.9 2072.0 1875.9 2073.5 1875.9 2075.0 1875.9 2076.5 1876.0 2078.0 1876.0 2079.5 1876.0 2081.0 1876.0 2082.5 1876.0 2084.0 1876.1 2085.5 1876.1 2087.0 1876.1 2088.5 1876.1 2090.0 1876.1 2091.5 1876.1 2093.0 1876.2 2094.5 1876.2 2096.0 1876.2 2097.5 1876.2 2099.0 1876.2 2100.5 1876.2 2102.0 1876.2 2103.5 1876.2 2105.0 1876.2 2106.5 1876.3 2108.0 1876.3 2109.5 1876.3 2111.0 1876.3 2112.5 1876.3 2114.0 1876.3 2115.5 1876.3 2117.0 1876.3 2118.5 1876.3 2120.0 1876.3 2121.5 1876.3 2123.0 1876.3 2124.5 1876.3 2126.0 1876.4 2127.5 1876.4 2129.0 1876.4 2130.5 1876.4 2132.0 1876.4 2133.5 1876.4 2135.0 1876.4 2136.5 1876.4 2138.0 1876.4 2139.5 1876.4 2141.0 1876.4 2142.5 1876.4 2144.0 1876.4 2145.5 1876.4 2147.0 1876.4 2148.5 1876.4 2150.0 1876.5 2151.5 1876.5 2153.0 1876.5 2154.5 1876.5 2156.0 1876.5 2157.5 1876.5 2159.0 1876.5 2160.5 1876.5 2162.0 1876.5 2163.5 1876.5 2165.0 1876.5 2166.5 1876.5 2168.0 1876.5 2169.5 1876.5 2171.0 1876.5 2172.5 1876.5 2174.0 1876.5 2175.5 1876.6 2177.0 1876.6 2178.5 1876.6 2180.0 1876.6 2181.5 1876.6 2183.0 1876.6 2184.5 1876.6 2186.0 1876.6 2187.5 1876.6 2189.0 1876.6 2190.5 1876.6 2192.0 1876.6 2193.5 1876.6 2195.0 1876.6 2196.5 1876.6 2198.0 1876.6 2199.5 1876.6 2201.0 1876.6 2202.5 1876.7 2204.0 1876.7 2205.5 1876.7 2207.0 1876.7 2208.5 1876.7 2210.0 1876.7 2211.5 1876.7 2213.0 1876.7 2214.5 1876.7 2216.0 1876.7 2217.5 1876.7 2219.0 1876.7 2220.5 1876.7 2222.0 1876.7 2223.5 1876.7 2225.0 1876.7 2226.5 1876.7 2228.0 1876.7 2229.5 1876.7 2231.0 1876.7 2232.5 1876.8 2234.0 1876.8 2235.5 1876.8 2237.0 1876.8 2238.5 1876.8 2240.0 1876.8 2241.5 1876.8 2243.0 1876.8 2244.5 1876.8 2246.0 1876.8 2247.5 1876.8 2249.0 1876.8 2250.5 1876.8 2252.0 1876.8 2253.5 1876.8 2255.0 1876.8 2256.5 1876.8 2258.0 1876.8 2259.5 1876.8 2261.0 1876.8 2262.5 1876.8 2264.0 1876.8 2265.5 1876.8 2267.0 1876.8 2268.5 1876.9 2270.0 1876.9 2271.5 1876.9 2273.0 1876.9 2274.5 1876.9 2276.0 1876.9 2277.5 1876.9 2279.0 1876.9 2280.5 1876.9 2282.0 1876.9 2283.5 1876.9 2285.0 1876.9 2286.5 1876.9 2288.0 1876.9 2289.5 1876.9 2291.0 1876.9 2292.5 1876.9 2294.0 1876.9 2295.5 1876.9 2297.0 1876.9 2298.5 1876.9 2300.0 1876.9 2301.5 1876.9 2303.0 1876.9 2304.5 1876.9 2306.0 1876.9 2307.5 1876.9 2309.0 1876.9 2310.5 1876.9 2312.0 1876.9 2313.5 1876.9 2315.0 1876.9 2316.5 1877.0 2318.0 1877.0 2319.5 1877.0 2321.0 1877.0 2322.5 1877.0 2324.0 1877.0 2325.5 1877.0 2327.0 1877.0 2328.5 1877.0 2330.0 1877.0 2331.5 1877.0 2333.0 1877.0 2334.5 1877.0 2336.0 1877.0 2337.5 1877.0 2339.0 1877.0 2340.5 1877.0 2342.0 1877.0 2343.5 1877.0 2345.0 1877.0 2346.5 1877.0 2348.0 1877.0 2349.5 1877.0 2351.0 1877.0 2352.5 1877.0 2354.0 1877.0 2355.5 1877.0 2357.0 1877.0 2358.5 1877.0 2360.0 1877.0 2361.5 1877.0 2363.0 1877.0 2364.5 1877.0 2366.0 1877.0 2367.5 1877.0 2369.0 1877.0 2370.5 1877.0 2372.0 1877.0 2373.5 1877.0 2375.0 1877.0 2376.5 1877.0 2378.0 1877.0 2379.5 1877.0 2381.0 1877.0 2382.5 1877.0 2384.0 1877.0 2385.5 1877.0 2387.0 1877.0 2388.5 1877.0 2390.0 1877.0 2391.5 1877.0 2393.0 1877.0 2394.5 1877.0 2396.0 1877.0 2397.5 1877.0 2399.0 1877.0 2400.5 1877.0 2402.0 1877.0 2403.5 1877.0 2405.0 1877.0 2406.5 1877.0 2408.0 1877.0 2409.5 1877.0 2411.0 1877.0 2412.5 1877.0 2414.0 1877.0 2415.5 1877.0 2417.0 1877.0 2418.0 1877.0" stroke="#f0282e" stroke-width="2.8"/>
<path d="M1358.0 1902.0L1359.5 1902.2 1361.0 1902.4 1362.5 1902.5 1364.0 1902.7 1365.5 1902.8 1367.0 1903.0 1368.5 1903.1 1370.0 1903.2 1371.5 1903.3 1373.0 1903.4 1374.5 1903.5 1376.0 1903.6 1377.5 1903.7 1379.0 1903.8 1380.5 1903.8 1382.0 1903.9 1383.5 1903.9 1385.0 1904.0 1386.5 1904.0 1388.0 1904.0 1389.5 1904.0 1391.0 1904.0 1392.5 1904.0 1394.0 1904.0 1395.5 1904.0 1397.0 1904.0 1398.5 1904.0 1400.0 1904.0 1401.5 1904.0 1403.0 1903.9 1404.5 1903.9 1406.0 1903.8 1407.5 1903.8 1409.0 1903.8 1410.5 1903.7 1412.0 1903.6 1413.5 1903.6 1415.0 1903.5 1416.5 1903.5 1418.0 1903.4 1419.5 1903.3 1421.0 1903.2 1422.5 1903.2 1424.0 1903.1 1425.5 1903.0 1427.0 1902.9 1428.5 1902.9 1430.0 1902.8 1431.5 1902.7 1433.0 1902.6 1434.5 1902.5 1436.0 1902.4 1437.5 1902.4 1439.0 1902.3 1440.5 1902.2 1442.0 1902.1 1443.5 1902.0 1445.0 1902.0 1446.5 1901.9 1448.0 1901.8 1449.5 1901.7 1451.0 1901.7 1452.5 1901.6 1454.0 1901.5 1455.5 1901.5 1457.0 1901.4 1458.5 1901.3 1460.0 1901.3 1461.5 1901.2 1463.0 1901.2 1464.5 1901.1 1466.0 1901.1 1467.5 1901.0 1469.0 1901.0 1470.5 1901.0 1472.0 1901.0 1473.5 1900.9 1475.0 1900.9 1476.5 1900.9 1478.0 1900.9 1479.5 1900.9 1481.0 1900.9 1482.5 1900.9 1484.0 1901.0 1485.5 1901.0 1487.0 1901.0 1488.5 1901.1 1490.0 1901.1 1491.5 1901.1 1493.0 1901.2 1494.5 1901.2 1496.0 1901.3 1497.5 1901.4 1499.0 1901.4 1500.5 1901.5 1502.0 1901.6 1503.5 1901.6 1505.0 1901.7 1506.5 1901.8 1508.0 1901.9 1509.5 1901.9 1511.0 1902.0 1512.5 1902.1 1514.0 1902.2 1515.5 1902.2 1517.0 1902.3 1518.5 1902.4 1520.0 1902.4 1521.5 1902.5 1523.0 1902.6 1524.5 1902.6 1526.0 1902.7 1527.5 1902.8 1529.0 1902.8 1530.5 1902.9 1532.0 1902.9 1533.5 1903.0 1535.0 1903.0 1536.5 1903.0 1538.0 1903.1 1539.5 1903.1 1541.0 1903.1 1542.5 1903.1 1544.0 1903.1 1545.5 1903.1 1547.0 1903.1 1548.5 1903.1 1550.0 1903.1 1551.5 1903.0 1553.0 1903.0 1554.5 1902.9 1556.0 1902.9 1557.5 1902.8 1559.0 1902.7 1560.5 1902.7 1562.0 1902.6 1563.5 1902.4 1565.0 1902.3 1566.5 1902.2 1568.0 1902.1 1569.5 1901.9 1571.0 1901.7 1572.5 1901.6 1574.0 1901.4 1575.5 1901.2 1577.0 1900.9 1578.5 1900.7 1580.0 1900.5 1581.5 1900.2 1583.0 1899.9 1584.5 1899.6 1586.0 1899.3 1587.5 1899.0 1589.0 1898.7 1590.5 1898.3 1592.0 1898.0 1593.5 1897.6 1595.0 1897.2 1596.5 1896.8 1598.0 1896.3 1599.5 1895.9 1601.0 1895.4 1602.5 1894.9 1604.0 1894.4 1605.5 1893.9 1607.0 1893.3 1608.5 1892.7 1610.0 1892.2 1611.5 1891.5 1613.0 1890.9 1614.5 1890.3 1616.0 1889.6 1617.5 1888.9 1619.0 1888.2 1620.5 1887.5 1622.0 1886.7 1623.5 1886.0 1625.0 1885.2 1626.5 1884.4 1628.0 1883.5 1629.5 1882.7 1631.0 1881.8 1632.5 1881.0 1634.0 1880.1 1635.5 1879.1 1637.0 1878.2 1638.5 1877.3 1640.0 1876.3 1641.5 1875.3 1642.8 1874.5 1644.0 1873.6 1645.2 1872.7 1646.5 1871.9 1647.8 1871.0 1649.0 1870.1 1650.2 1869.2 1651.5 1868.2 1652.8 1867.3 1654.0 1866.3 1655.2 1865.4 1656.5 1864.4 1657.8 1863.4 1659.0 1862.4 1660.2 1861.4 1661.5 1860.4 1662.8 1859.4 1664.0 1858.3 1665.2 1857.3 1666.5 1856.2 1667.8 1855.1 1669.0 1854.0 1670.2 1852.9 1671.5 1851.8 1672.8 1850.7 1674.0 1849.5 1675.2 1848.4 1676.5 1847.2 1677.8 1846.1 1679.0 1844.9 1680.2 1843.7 1681.5 1842.5 1682.8 1841.3 1684.0 1840.1 1685.2 1838.8 1686.5 1837.6 1687.8 1836.3 1689.0 1835.1 1690.2 1833.8 1691.5 1832.5 1692.8 1831.2 1694.0 1829.9 1695.2 1828.6 1696.5 1827.2 1697.8 1825.9 1699.0 1824.5 1700.2 1823.2 1701.5 1821.8 1702.8 1820.4 1704.0 1819.0 1705.0 1817.9 1706.0 1816.8 1707.0 1815.7 1708.0 1814.5 1709.0 1813.4 1710.0 1812.2 1711.0 1811.1 1712.0 1809.9 1713.0 1808.7 1714.0 1807.6 1715.0 1806.4 1716.0 1805.2 1717.0 1804.1 1718.0 1802.9 1719.0 1801.7 1720.0 1800.6 1721.0 1799.4 1722.0 1798.3 1723.0 1797.1 1724.0 1796.0 1725.0 1794.8 1726.0 1793.7 1727.0 1792.6 1728.0 1791.4 1729.2 1790.0 1730.5 1788.7 1731.8 1787.3 1733.0 1786.0 1734.2 1784.7 1735.5 1783.4 1736.8 1782.1 1738.0 1780.8 1739.2 1779.6 1740.5 1778.4 1741.8 1777.3 1743.0 1776.1 1744.2 1775.0 1745.5 1773.9 1746.8 1772.9 1748.0 1771.9 1749.2 1770.9 1750.5 1770.0 1751.8 1769.1 1753.0 1768.3 1754.5 1767.3 1756.0 1766.4 1757.5 1765.6 1759.0 1764.8 1760.5 1764.2 1762.0 1763.5 1763.5 1763.0 1765.0 1762.6 1766.5 1762.2 1768.0 1761.9 1769.5 1761.7 1771.0 1761.6 1772.5 1761.6 1774.0 1761.7 1775.5 1761.8 1777.0 1762.0 1778.5 1762.3 1780.0 1762.7 1781.5 1763.1 1783.0 1763.6 1784.5 1764.2 1786.0 1764.8 1787.5 1765.5 1789.0 1766.3 1790.5 1767.1 1792.0 1767.9 1793.5 1768.8 1795.0 1769.8 1796.5 1770.7 1797.8 1771.6 1799.0 1772.5 1800.2 1773.4 1801.5 1774.3 1802.8 1775.3 1804.0 1776.2 1805.2 1777.2 1806.5 1778.2 1807.8 1779.2 1809.0 1780.3 1810.2 1781.3 1811.5 1782.4 1812.8 1783.4 1814.0 1784.5 1815.2 1785.6 1816.5 1786.6 1817.8 1787.7 1819.0 1788.8 1820.2 1789.9 1821.5 1791.0 1822.8 1792.1 1824.0 1793.1 1825.2 1794.2 1826.5 1795.3 1827.8 1796.3 1829.0 1797.3 1830.2 1798.4 1831.5 1799.4 1832.8 1800.4 1834.0 1801.4 1835.2 1802.3 1836.5 1803.3 1837.8 1804.2 1839.0 1805.1 1840.2 1806.0 1841.5 1806.9 1842.8 1807.7 1844.0 1808.6 1845.2 1809.4 1846.8 1810.4 1848.2 1811.4 1849.8 1812.3 1851.2 1813.2 1852.8 1814.1 1854.2 1815.0 1855.8 1815.8 1857.2 1816.7 1858.8 1817.5 1860.2 1818.3 1861.8 1819.1 1863.2 1819.9 1864.8 1820.6 1866.2 1821.3 1867.8 1822.1 1869.2 1822.8 1870.8 1823.5 1872.2 1824.2 1873.8 1824.8 1875.2 1825.5 1876.8 1826.1 1878.2 1826.8 1879.8 1827.4 1881.2 1828.0 1882.8 1828.6 1884.2 1829.2 1885.8 1829.8 1887.2 1830.3 1888.8 1830.9 1890.2 1831.4 1891.8 1832.0 1893.2 1832.5 1894.8 1833.1 1896.2 1833.6 1897.8 1834.1 1899.2 1834.6 1900.8 1835.1 1902.2 1835.6 1903.8 1836.1 1905.2 1836.6 1906.8 1837.1 1908.2 1837.6 1909.8 1838.1 1911.2 1838.6 1912.8 1839.1 1914.2 1839.5 1915.8 1840.0 1917.2 1840.5 1918.8 1840.9 1920.2 1841.4 1921.8 1841.8 1923.2 1842.3 1924.8 1842.7 1926.2 1843.2 1927.8 1843.6 1929.2 1844.0 1930.8 1844.4 1932.2 1844.9 1933.8 1845.3 1935.2 1845.7 1936.8 1846.1 1938.2 1846.5 1939.8 1846.9 1941.2 1847.3 1942.8 1847.7 1944.2 1848.1 1945.8 1848.5 1947.2 1848.9 1948.8 1849.2 1950.2 1849.6 1951.8 1850.0 1953.2 1850.3 1954.8 1850.7 1956.2 1851.1 1957.8 1851.4 1959.2 1851.8 1960.8 1852.1 1962.2 1852.5 1963.8 1852.8 1965.2 1853.1 1966.8 1853.5 1968.2 1853.8 1969.8 1854.1 1971.2 1854.4 1972.8 1854.8 1974.2 1855.1 1975.8 1855.4 1977.2 1855.7 1978.8 1856.0 1980.2 1856.3 1981.8 1856.6 1983.2 1856.9 1984.8 1857.2 1986.2 1857.5 1987.8 1857.8 1989.2 1858.0 1990.8 1858.3 1992.2 1858.6 1993.8 1858.9 1995.2 1859.1 1996.8 1859.4 1998.2 1859.6 1999.8 1859.9 2001.2 1860.2 2002.8 1860.4 2004.2 1860.7 2005.8 1860.9 2007.2 1861.1 2008.8 1861.4 2010.2 1861.6 2011.8 1861.8 2013.2 1862.1 2014.8 1862.3 2016.2 1862.5 2017.8 1862.7 2019.2 1863.0 2020.8 1863.2 2022.2 1863.4 2023.8 1863.6 2025.2 1863.8 2026.8 1864.0 2028.2 1864.2 2029.8 1864.4 2031.2 1864.6 2032.8 1864.8 2034.2 1865.0 2035.8 1865.2 2037.2 1865.3 2038.8 1865.5 2040.2 1865.7 2041.8 1865.9 2043.2 1866.0 2044.8 1866.2 2046.2 1866.4 2047.8 1866.5 2049.2 1866.7 2050.8 1866.9 2052.2 1867.0 2053.8 1867.2 2055.2 1867.3 2056.8 1867.5 2058.2 1867.6 2059.8 1867.8 2061.2 1867.9 2062.8 1868.1 2064.2 1868.2 2065.8 1868.3 2067.2 1868.5 2068.8 1868.6 2070.2 1868.7 2071.8 1868.8 2073.2 1869.0 2074.8 1869.1 2076.2 1869.2 2077.8 1869.3 2079.2 1869.4 2080.8 1869.5 2082.2 1869.7 2083.8 1869.8 2085.2 1869.9 2086.8 1870.0 2088.2 1870.1 2089.8 1870.2 2091.2 1870.3 2092.8 1870.4 2094.2 1870.5 2095.8 1870.5 2097.2 1870.6 2098.8 1870.7 2100.2 1870.8 2101.8 1870.9 2103.2 1871.0 2104.8 1871.1 2106.2 1871.1 2107.8 1871.2 2109.2 1871.3 2110.8 1871.4 2112.2 1871.4 2113.8 1871.5 2115.2 1871.6 2116.8 1871.6 2118.2 1871.7 2119.8 1871.8 2121.2 1871.8 2122.8 1871.9 2124.2 1871.9 2125.8 1872.0 2127.2 1872.0 2128.8 1872.1 2130.2 1872.1 2131.8 1872.2 2133.2 1872.2 2134.8 1872.3 2136.2 1872.3 2137.8 1872.4 2139.2 1872.4 2140.8 1872.5 2142.2 1872.5 2143.8 1872.5 2145.2 1872.6 2146.8 1872.6 2148.2 1872.6 2149.8 1872.7 2151.2 1872.7 2152.8 1872.7 2154.2 1872.8 2155.8 1872.8 2157.2 1872.8 2158.8 1872.8 2160.2 1872.9 2161.8 1872.9 2163.2 1872.9 2164.8 1872.9 2166.2 1873.0 2167.8 1873.0 2169.2 1873.0 2170.8 1873.0 2172.2 1873.0 2173.8 1873.0 2175.2 1873.1 2176.8 1873.1 2178.2 1873.1 2179.8 1873.1 2181.2 1873.1 2182.8 1873.1 2184.2 1873.1 2185.8 1873.1 2187.2 1873.1 2188.8 1873.1 2190.2 1873.1 2191.8 1873.1 2193.2 1873.2 2194.8 1873.2 2196.2 1873.2 2197.8 1873.2 2199.2 1873.2 2200.8 1873.2 2202.2 1873.2 2203.8 1873.2 2205.2 1873.2 2206.8 1873.2 2208.2 1873.2 2209.8 1873.2 2211.2 1873.2 2212.8 1873.1 2214.2 1873.1 2215.8 1873.1 2217.2 1873.1 2218.8 1873.1 2220.2 1873.1 2221.8 1873.1 2223.2 1873.1 2224.8 1873.1 2226.2 1873.1 2227.8 1873.1 2229.2 1873.1 2230.8 1873.1 2232.2 1873.1 2233.8 1873.1 2235.2 1873.0 2236.8 1873.0 2238.2 1873.0 2239.8 1873.0 2241.2 1873.0 2242.8 1873.0 2244.2 1873.0 2245.8 1873.0 2247.2 1873.0 2248.8 1873.0 2250.2 1873.0 2251.8 1872.9 2253.2 1872.9 2254.8 1872.9 2256.2 1872.9 2257.8 1872.9 2259.2 1872.9 2260.8 1872.9 2262.2 1872.9 2263.8 1872.9 2265.2 1872.9 2266.8 1872.9 2268.2 1872.8 2269.8 1872.8 2271.2 1872.8 2272.8 1872.8 2274.2 1872.8 2275.8 1872.8 2277.2 1872.8 2278.8 1872.8 2280.2 1872.8 2281.8 1872.8 2283.2 1872.8 2284.8 1872.8 2286.2 1872.8 2287.8 1872.8 2289.2 1872.8 2290.8 1872.8 2292.2 1872.8 2293.8 1872.8 2295.2 1872.8 2296.8 1872.8 2298.2 1872.8 2299.8 1872.8 2301.2 1872.8 2302.8 1872.8 2304.2 1872.8 2305.8 1872.8 2307.2 1872.8 2308.8 1872.8 2310.2 1872.8 2311.8 1872.8 2313.2 1872.8 2314.8 1872.8 2316.2 1872.8 2317.8 1872.9 2319.2 1872.9 2320.8 1872.9 2322.2 1872.9 2323.8 1872.9 2325.2 1872.9 2326.8 1872.9 2328.2 1873.0 2329.8 1873.0 2331.2 1873.0 2332.8 1873.0 2334.2 1873.0 2335.8 1873.1 2337.2 1873.1 2338.8 1873.1 2340.2 1873.1 2341.8 1873.2 2343.2 1873.2 2344.8 1873.2 2346.2 1873.3 2347.8 1873.3 2349.2 1873.3 2350.8 1873.4 2352.2 1873.4 2353.8 1873.4 2355.2 1873.5 2356.8 1873.5 2358.2 1873.6 2359.8 1873.6 2361.2 1873.6 2362.8 1873.7 2364.2 1873.7 2365.8 1873.8 2367.2 1873.8 2368.8 1873.9 2370.2 1873.9 2371.8 1874.0 2373.2 1874.1 2374.8 1874.1 2376.2 1874.2 2377.8 1874.2 2379.2 1874.3 2380.8 1874.4 2382.2 1874.4 2383.8 1874.5 2385.2 1874.6 2386.8 1874.6 2388.2 1874.7 2389.8 1874.8 2391.2 1874.9 2392.8 1875.0 2394.2 1875.0 2395.8 1875.1 2397.2 1875.2 2398.8 1875.3 2400.2 1875.4 2401.8 1875.5 2403.2 1875.6 2404.8 1875.7 2406.2 1875.8 2407.8 1875.9 2409.2 1876.0 2410.8 1876.1 2412.2 1876.2 2413.8 1876.3 2415.2 1876.4 2416.8 1876.5 2418.0 1876.6" stroke="#1464e4" stroke-width="2.9"/>
<path d="M1358.0 1903.2L1359.5 1903.1 1361.0 1903.1 1362.5 1903.1 1364.0 1903.1 1365.5 1903.0 1367.0 1903.0 1368.5 1903.0 1370.0 1903.0 1371.5 1903.0 1373.0 1902.9 1374.5 1902.9 1376.0 1902.9 1377.5 1902.9 1379.0 1902.9 1380.5 1902.9 1382.0 1902.9 1383.5 1902.9 1385.0 1902.8 1386.5 1902.8 1388.0 1902.8 1389.5 1902.8 1391.0 1902.8 1392.5 1902.8 1394.0 1902.8 1395.5 1902.8 1397.0 1902.8 1398.5 1902.8 1400.0 1902.8 1401.5 1902.8 1403.0 1902.8 1404.5 1902.8 1406.0 1902.8 1407.5 1902.8 1409.0 1902.8 1410.5 1902.8 1412.0 1902.9 1413.5 1902.9 1415.0 1902.9 1416.5 1902.9 1418.0 1902.9 1419.5 1902.9 1421.0 1902.9 1422.5 1902.9 1424.0 1902.9 1425.5 1902.9 1427.0 1902.9 1428.5 1902.9 1430.0 1903.0 1431.5 1903.0 1433.0 1903.0 1434.5 1903.0 1436.0 1903.0 1437.5 1903.0 1439.0 1903.0 1440.5 1903.0 1442.0 1903.1 1443.5 1903.1 1445.0 1903.1 1446.5 1903.1 1448.0 1903.1 1449.5 1903.1 1451.0 1903.1 1452.5 1903.1 1454.0 1903.1 1455.5 1903.2 1457.0 1903.2 1458.5 1903.2 1460.0 1903.2 1461.5 1903.2 1463.0 1903.2 1464.5 1903.2 1466.0 1903.2 1467.5 1903.2 1469.0 1903.2 1470.5 1903.2 1472.0 1903.3 1473.5 1903.3 1475.0 1903.3 1476.5 1903.3 1478.0 1903.3 1479.5 1903.3 1481.0 1903.3 1482.5 1903.3 1484.0 1903.3 1485.5 1903.3 1487.0 1903.3 1488.5 1903.3 1490.0 1903.3 1491.5 1903.3 1493.0 1903.3 1494.5 1903.3 1496.0 1903.3 1497.5 1903.3 1499.0 1903.3 1500.5 1903.3 1502.0 1903.2 1503.5 1903.2 1505.0 1903.2 1506.5 1903.2 1508.0 1903.2 1509.5 1903.2 1511.0 1903.2 1512.5 1903.2 1514.0 1903.1 1515.5 1903.1 1517.0 1903.1 1518.5 1903.1 1520.0 1903.0 1521.5 1903.0 1523.0 1903.0 1524.5 1903.0 1526.0 1902.9 1527.5 1902.9 1529.0 1902.9 1530.5 1902.8 1532.0 1902.8 1533.5 1902.8 1535.0 1902.7 1536.5 1902.7 1538.0 1902.7 1539.5 1902.6 1541.0 1902.6 1542.5 1902.5 1544.0 1902.5 1545.5 1902.4 1547.0 1902.4 1548.5 1902.3 1550.0 1902.3 1551.5 1902.2 1553.0 1902.1 1554.5 1902.1 1556.0 1902.0 1557.5 1901.9 1559.0 1901.9 1560.5 1901.8 1562.0 1901.7 1563.5 1901.7 1565.0 1901.6 1566.5 1901.5 1568.0 1901.4 1569.5 1901.3 1571.0 1901.2 1572.5 1901.2 1574.0 1901.1 1575.5 1901.0 1577.0 1900.9 1578.5 1900.8 1580.0 1900.7 1581.5 1900.6 1583.0 1900.5 1584.5 1900.4 1586.0 1900.3 1587.5 1900.1 1589.0 1900.0 1590.5 1899.9 1592.0 1899.8 1593.5 1899.7 1595.0 1899.5 1596.5 1899.4 1598.0 1899.3 1599.5 1899.1 1601.0 1899.0 1602.5 1898.9 1604.0 1898.7 1605.5 1898.6 1607.0 1898.4 1608.5 1898.3 1610.0 1898.1 1611.5 1898.0 1613.0 1897.8 1614.5 1897.6 1616.0 1897.5 1617.5 1897.3 1619.0 1897.1 1620.5 1897.0 1622.0 1896.8 1623.5 1896.6 1625.0 1896.5 1626.5 1896.3 1628.0 1896.1 1629.5 1895.9 1631.0 1895.7 1632.5 1895.6 1634.0 1895.4 1635.5 1895.2 1637.0 1895.0 1638.5 1894.8 1640.0 1894.6 1641.5 1894.5 1643.0 1894.3 1644.5 1894.1 1646.0 1893.9 1647.5 1893.7 1649.0 1893.5 1650.5 1893.3 1652.0 1893.1 1653.5 1892.9 1655.0 1892.7 1656.5 1892.5 1658.0 1892.4 1659.5 1892.2 1661.0 1892.0 1662.5 1891.8 1664.0 1891.6 1665.5 1891.4 1667.0 1891.2 1668.5 1891.0 1670.0 1890.8 1671.5 1890.6 1673.0 1890.4 1674.5 1890.2 1676.0 1890.1 1677.5 1889.9 1679.0 1889.7 1680.5 1889.5 1682.0 1889.3 1683.5 1889.1 1685.0 1889.0 1686.5 1888.8 1688.0 1888.6 1689.5 1888.4 1691.0 1888.2 1692.5 1888.1 1694.0 1887.9 1695.5 1887.7 1697.0 1887.6 1698.5 1887.4 1700.0 1887.2 1701.5 1887.1 1703.0 1886.9 1704.5 1886.7 1706.0 1886.6 1707.5 1886.4 1709.0 1886.3 1710.5 1886.1 1712.0 1886.0 1713.5 1885.8 1715.0 1885.7 1716.5 1885.6 1718.0 1885.4 1719.5 1885.3 1721.0 1885.2 1722.5 1885.0 1724.0 1884.9 1725.5 1884.8 1727.0 1884.7 1728.5 1884.6 1730.0 1884.5 1731.5 1884.4 1733.0 1884.2 1734.5 1884.1 1736.0 1884.1 1737.5 1884.0 1739.0 1883.9 1740.5 1883.8 1742.0 1883.7 1743.5 1883.6 1745.0 1883.5 1746.5 1883.5 1748.0 1883.4 1749.5 1883.3 1751.0 1883.3 1752.5 1883.2 1754.0 1883.2 1755.5 1883.1 1757.0 1883.0 1758.5 1883.0 1760.0 1882.9 1761.5 1882.9 1763.0 1882.8 1764.5 1882.8 1766.0 1882.8 1767.5 1882.7 1769.0 1882.7 1770.5 1882.6 1772.0 1882.6 1773.5 1882.6 1775.0 1882.5 1776.5 1882.5 1778.0 1882.5 1779.5 1882.4 1781.0 1882.4 1782.5 1882.4 1784.0 1882.3 1785.5 1882.3 1787.0 1882.3 1788.5 1882.2 1790.0 1882.2 1791.5 1882.2 1793.0 1882.2 1794.5 1882.1 1796.0 1882.1 1797.5 1882.1 1799.0 1882.0 1800.5 1882.0 1802.0 1882.0 1803.5 1882.0 1805.0 1881.9 1806.5 1881.9 1808.0 1881.9 1809.5 1881.8 1811.0 1881.8 1812.5 1881.8 1814.0 1881.7 1815.5 1881.7 1817.0 1881.6 1818.5 1881.6 1820.0 1881.6 1821.5 1881.5 1823.0 1881.5 1824.5 1881.4 1826.0 1881.4 1827.5 1881.3 1829.0 1881.3 1830.5 1881.2 1832.0 1881.1 1833.5 1881.1 1835.0 1881.0 1836.5 1881.0 1838.0 1880.9 1839.5 1880.8 1841.0 1880.7 1842.5 1880.7 1844.0 1880.6 1845.5 1880.5 1847.0 1880.4 1848.5 1880.3 1850.0 1880.2 1851.5 1880.1 1853.0 1880.0 1854.5 1879.9 1856.0 1879.8 1857.5 1879.7 1859.0 1879.6 1860.5 1879.5 1862.0 1879.3 1863.5 1879.2 1865.0 1879.1 1866.5 1879.0 1868.0 1878.8 1869.5 1878.7 1871.0 1878.6 1872.5 1878.4 1874.0 1878.3 1875.5 1878.1 1877.0 1878.0 1878.5 1877.8 1880.0 1877.7 1881.5 1877.5 1883.0 1877.3 1884.5 1877.2 1886.0 1877.0 1887.5 1876.8 1889.0 1876.7 1890.5 1876.5 1892.0 1876.3 1893.5 1876.1 1895.0 1875.9 1896.5 1875.8 1898.0 1875.6 1899.5 1875.4 1901.0 1875.2 1902.5 1875.0 1904.0 1874.8 1905.5 1874.6 1907.0 1874.4 1908.5 1874.2 1910.0 1874.0 1911.5 1873.8 1913.0 1873.6 1914.5 1873.4 1916.0 1873.2 1917.5 1872.9 1919.0 1872.7 1920.5 1872.5 1922.0 1872.3 1923.5 1872.1 1925.0 1871.9 1926.5 1871.6 1928.0 1871.4 1929.5 1871.2 1931.0 1871.0 1932.5 1870.7 1934.0 1870.5 1935.5 1870.3 1937.0 1870.0 1938.5 1869.8 1940.0 1869.6 1941.5 1869.3 1943.0 1869.1 1944.5 1868.9 1946.0 1868.6 1947.5 1868.4 1949.0 1868.1 1950.5 1867.9 1952.0 1867.7 1953.5 1867.4 1955.0 1867.2 1956.5 1866.9 1958.0 1866.7 1959.5 1866.4 1961.0 1866.2 1962.5 1865.9 1964.0 1865.7 1965.5 1865.5 1967.0 1865.2 1968.5 1865.0 1970.0 1864.7 1971.5 1864.5 1973.0 1864.2 1974.5 1864.0 1976.0 1863.7 1977.5 1863.5 1979.0 1863.2 1980.5 1863.0 1982.0 1862.7 1983.5 1862.5 1985.0 1862.2 1986.5 1862.0 1988.0 1861.7 1989.5 1861.5 1991.0 1861.2 1992.5 1861.0 1994.0 1860.7 1995.5 1860.5 1997.0 1860.2 1998.5 1860.0 2000.0 1859.7 2001.5 1859.5 2003.0 1859.2 2004.5 1859.0 2006.0 1858.8 2007.5 1858.5 2009.0 1858.3 2010.5 1858.0 2012.0 1857.8 2013.5 1857.6 2015.0 1857.3 2016.5 1857.1 2018.0 1856.9 2019.5 1856.6 2021.0 1856.4 2022.5 1856.2 2024.0 1856.0 2025.5 1855.8 2027.0 1855.5 2028.5 1855.3 2030.0 1855.1 2031.5 1854.9 2033.0 1854.7 2034.5 1854.5 2036.0 1854.4 2037.5 1854.2 2039.0 1854.0 2040.5 1853.8 2042.0 1853.7 2043.5 1853.5 2045.0 1853.3 2046.5 1853.2 2048.0 1853.0 2049.5 1852.9 2051.0 1852.8 2052.5 1852.6 2054.0 1852.5 2055.5 1852.4 2057.0 1852.3 2058.5 1852.2 2060.0 1852.1 2061.5 1852.0 2063.0 1851.9 2064.5 1851.8 2066.0 1851.8 2067.5 1851.7 2069.0 1851.7 2070.5 1851.6 2072.0 1851.6 2073.5 1851.6 2075.0 1851.5 2076.5 1851.5 2078.0 1851.5 2079.5 1851.5 2081.0 1851.6 2082.5 1851.6 2084.0 1851.6 2085.5 1851.7 2087.0 1851.7 2088.5 1851.8 2090.0 1851.9 2091.5 1852.0 2093.0 1852.1 2094.5 1852.2 2096.0 1852.3 2097.5 1852.5 2099.0 1852.6 2100.5 1852.8 2102.0 1852.9 2103.5 1853.1 2105.0 1853.3 2106.5 1853.5 2108.0 1853.7 2109.5 1853.9 2111.0 1854.2 2112.5 1854.4 2114.0 1854.6 2115.5 1854.9 2117.0 1855.2 2118.5 1855.4 2120.0 1855.7 2121.5 1856.0 2123.0 1856.3 2124.5 1856.6 2126.0 1856.9 2127.5 1857.2 2129.0 1857.5 2130.5 1857.8 2132.0 1858.2 2133.5 1858.5 2135.0 1858.8 2136.5 1859.2 2138.0 1859.5 2139.5 1859.8 2141.0 1860.2 2142.5 1860.5 2144.0 1860.9 2145.5 1861.2 2147.0 1861.6 2148.5 1861.9 2150.0 1862.3 2151.5 1862.6 2153.0 1863.0 2154.5 1863.3 2156.0 1863.7 2157.5 1864.0 2159.0 1864.4 2160.5 1864.7 2162.0 1865.0 2163.5 1865.4 2165.0 1865.7 2166.5 1866.0 2168.0 1866.4 2169.5 1866.7 2171.0 1867.0 2172.5 1867.3 2174.0 1867.6 2175.5 1867.9 2177.0 1868.2 2178.5 1868.5 2180.0 1868.8 2181.5 1869.1 2183.0 1869.3 2184.5 1869.6 2186.0 1869.9 2187.5 1870.1 2189.0 1870.4 2190.5 1870.6 2192.0 1870.8 2193.5 1871.1 2195.0 1871.3 2196.5 1871.5 2198.0 1871.7 2199.5 1871.9 2201.0 1872.1 2202.5 1872.4 2204.0 1872.5 2205.5 1872.7 2207.0 1872.9 2208.5 1873.1 2210.0 1873.3 2211.5 1873.5 2213.0 1873.6 2214.5 1873.8 2216.0 1873.9 2217.5 1874.1 2219.0 1874.2 2220.5 1874.4 2222.0 1874.5 2223.5 1874.7 2225.0 1874.8 2226.5 1874.9 2228.0 1875.1 2229.5 1875.2 2231.0 1875.3 2232.5 1875.4 2234.0 1875.5 2235.5 1875.6 2237.0 1875.7 2238.5 1875.8 2240.0 1875.9 2241.5 1876.0 2243.0 1876.1 2244.5 1876.2 2246.0 1876.2 2247.5 1876.3 2249.0 1876.4 2250.5 1876.5 2252.0 1876.5 2253.5 1876.6 2255.0 1876.7 2256.5 1876.7 2258.0 1876.8 2259.5 1876.8 2261.0 1876.9 2262.5 1876.9 2264.0 1877.0 2265.5 1877.0 2267.0 1877.0 2268.5 1877.1 2270.0 1877.1 2271.5 1877.1 2273.0 1877.2 2274.5 1877.2 2276.0 1877.2 2277.5 1877.2 2279.0 1877.2 2280.5 1877.3 2282.0 1877.3 2283.5 1877.3 2285.0 1877.3 2286.5 1877.3 2288.0 1877.3 2289.5 1877.3 2291.0 1877.3 2292.5 1877.3 2294.0 1877.3 2295.5 1877.3 2297.0 1877.3 2298.5 1877.3 2300.0 1877.3 2301.5 1877.3 2303.0 1877.3 2304.5 1877.3 2306.0 1877.3 2307.5 1877.3 2309.0 1877.3 2310.5 1877.2 2312.0 1877.2 2313.5 1877.2 2315.0 1877.2 2316.5 1877.2 2318.0 1877.2 2319.5 1877.1 2321.0 1877.1 2322.5 1877.1 2324.0 1877.1 2325.5 1877.1 2327.0 1877.1 2328.5 1877.0 2330.0 1877.0 2331.5 1877.0 2333.0 1877.0 2334.5 1876.9 2336.0 1876.9 2337.5 1876.9 2339.0 1876.9 2340.5 1876.9 2342.0 1876.8 2343.5 1876.8 2345.0 1876.8 2346.5 1876.8 2348.0 1876.8 2349.5 1876.7 2351.0 1876.7 2352.5 1876.7 2354.0 1876.7 2355.5 1876.7 2357.0 1876.7 2358.5 1876.6 2360.0 1876.6 2361.5 1876.6 2363.0 1876.6 2364.5 1876.6 2366.0 1876.6 2367.5 1876.6 2369.0 1876.6 2370.5 1876.6 2372.0 1876.6 2373.5 1876.5 2375.0 1876.5 2376.5 1876.5 2378.0 1876.5 2379.5 1876.5 2381.0 1876.6 2382.5 1876.6 2384.0 1876.6 2385.5 1876.6 2387.0 1876.6 2388.5 1876.6 2390.0 1876.6 2391.5 1876.6 2393.0 1876.7 2394.5 1876.7 2396.0 1876.7 2397.5 1876.7 2399.0 1876.8 2400.5 1876.8 2402.0 1876.8 2403.5 1876.9 2405.0 1876.9 2406.5 1876.9 2408.0 1877.0 2409.5 1877.0 2411.0 1877.1 2412.5 1877.1 2414.0 1877.2 2415.5 1877.2 2417.0 1877.3 2418.0 1877.3" stroke="#24a058" stroke-width="2.9"/>
<path d="M1358.0 1903.0L1359.5 1903.0 1361.0 1903.0 1362.5 1903.0 1364.0 1903.0 1365.5 1903.0 1367.0 1902.9 1368.5 1902.9 1370.0 1902.9 1371.5 1902.9 1373.0 1902.9 1374.5 1902.9 1376.0 1902.9 1377.5 1902.9 1379.0 1902.9 1380.5 1902.9 1382.0 1902.9 1383.5 1902.9 1385.0 1902.9 1386.5 1902.9 1388.0 1902.9 1389.5 1902.9 1391.0 1902.9 1392.5 1902.9 1394.0 1902.9 1395.5 1902.9 1397.0 1902.9 1398.5 1902.9 1400.0 1902.9 1401.5 1902.9 1403.0 1902.9 1404.5 1902.9 1406.0 1902.9 1407.5 1902.9 1409.0 1902.9 1410.5 1902.9 1412.0 1902.9 1413.5 1903.0 1415.0 1903.0 1416.5 1903.0 1418.0 1903.0 1419.5 1903.0 1421.0 1903.0 1422.5 1903.0 1424.0 1903.0 1425.5 1903.0 1427.0 1903.0 1428.5 1903.1 1430.0 1903.1 1431.5 1903.1 1433.0 1903.1 1434.5 1903.1 1436.0 1903.1 1437.5 1903.1 1439.0 1903.1 1440.5 1903.1 1442.0 1903.1 1443.5 1903.2 1445.0 1903.2 1446.5 1903.2 1448.0 1903.2 1449.5 1903.2 1451.0 1903.2 1452.5 1903.2 1454.0 1903.2 1455.5 1903.2 1457.0 1903.2 1458.5 1903.2 1460.0 1903.2 1461.5 1903.3 1463.0 1903.3 1464.5 1903.3 1466.0 1903.3 1467.5 1903.3 1469.0 1903.3 1470.5 1903.3 1472.0 1903.3 1473.5 1903.3 1475.0 1903.3 1476.5 1903.3 1478.0 1903.3 1479.5 1903.3 1481.0 1903.3 1482.5 1903.3 1484.0 1903.3 1485.5 1903.3 1487.0 1903.3 1488.5 1903.3 1490.0 1903.3 1491.5 1903.3 1493.0 1903.3 1494.5 1903.2 1496.0 1903.2 1497.5 1903.2 1499.0 1903.2 1500.5 1903.2 1502.0 1903.2 1503.5 1903.2 1505.0 1903.2 1506.5 1903.1 1508.0 1903.1 1509.5 1903.1 1511.0 1903.1 1512.5 1903.1 1514.0 1903.0 1515.5 1903.0 1517.0 1903.0 1518.5 1903.0 1520.0 1902.9 1521.5 1902.9 1523.0 1902.9 1524.5 1902.9 1526.0 1902.8 1527.5 1902.8 1529.0 1902.8 1530.5 1902.7 1532.0 1902.7 1533.5 1902.6 1535.0 1902.6 1536.5 1902.6 1538.0 1902.5 1539.5 1902.5 1541.0 1902.4 1542.5 1902.4 1544.0 1902.3 1545.5 1902.3 1547.0 1902.2 1548.5 1902.1 1550.0 1902.1 1551.5 1902.0 1553.0 1902.0 1554.5 1901.9 1556.0 1901.8 1557.5 1901.8 1559.0 1901.7 1560.5 1901.6 1562.0 1901.6 1563.5 1901.5 1565.0 1901.4 1566.5 1901.3 1568.0 1901.2 1569.5 1901.2 1571.0 1901.1 1572.5 1901.0 1574.0 1900.9 1575.5 1900.8 1577.0 1900.7 1578.5 1900.6 1580.0 1900.5 1581.5 1900.4 1583.0 1900.3 1584.5 1900.2 1586.0 1900.1 1587.5 1900.0 1589.0 1899.9 1590.5 1899.8 1592.0 1899.6 1593.5 1899.5 1595.0 1899.4 1596.5 1899.3 1598.0 1899.1 1599.5 1899.0 1601.0 1898.9 1602.5 1898.8 1604.0 1898.6 1605.5 1898.5 1607.0 1898.3 1608.5 1898.2 1610.0 1898.0 1611.5 1897.9 1613.0 1897.7 1614.5 1897.6 1616.0 1897.4 1617.5 1897.3 1619.0 1897.1 1620.5 1897.0 1622.0 1896.8 1623.5 1896.6 1625.0 1896.5 1626.5 1896.3 1628.0 1896.1 1629.5 1896.0 1631.0 1895.8 1632.5 1895.6 1634.0 1895.5 1635.5 1895.3 1637.0 1895.1 1638.5 1894.9 1640.0 1894.8 1641.5 1894.6 1643.0 1894.4 1644.5 1894.2 1646.0 1894.0 1647.5 1893.9 1649.0 1893.7 1650.5 1893.5 1652.0 1893.3 1653.5 1893.1 1655.0 1893.0 1656.5 1892.8 1658.0 1892.6 1659.5 1892.4 1661.0 1892.2 1662.5 1892.0 1664.0 1891.9 1665.5 1891.7 1667.0 1891.5 1668.5 1891.3 1670.0 1891.1 1671.5 1890.9 1673.0 1890.8 1674.5 1890.6 1676.0 1890.4 1677.5 1890.2 1679.0 1890.0 1680.5 1889.9 1682.0 1889.7 1683.5 1889.5 1685.0 1889.3 1686.5 1889.2 1688.0 1889.0 1689.5 1888.8 1691.0 1888.6 1692.5 1888.5 1694.0 1888.3 1695.5 1888.1 1697.0 1888.0 1698.5 1887.8 1700.0 1887.6 1701.5 1887.5 1703.0 1887.3 1704.5 1887.2 1706.0 1887.0 1707.5 1886.8 1709.0 1886.7 1710.5 1886.5 1712.0 1886.4 1713.5 1886.2 1715.0 1886.1 1716.5 1886.0 1718.0 1885.8 1719.5 1885.7 1721.0 1885.5 1722.5 1885.4 1724.0 1885.3 1725.5 1885.2 1727.0 1885.0 1728.5 1884.9 1730.0 1884.8 1731.5 1884.7 1733.0 1884.6 1734.5 1884.4 1736.0 1884.3 1737.5 1884.2 1739.0 1884.1 1740.5 1884.0 1742.0 1883.9 1743.5 1883.8 1745.0 1883.8 1746.5 1883.7 1748.0 1883.6 1749.5 1883.5 1751.0 1883.4 1752.5 1883.3 1754.0 1883.3 1755.5 1883.2 1757.0 1883.1 1758.5 1883.0 1760.0 1883.0 1761.5 1882.9 1763.0 1882.8 1764.5 1882.8 1766.0 1882.7 1767.5 1882.7 1769.0 1882.6 1770.5 1882.6 1772.0 1882.5 1773.5 1882.5 1775.0 1882.4 1776.5 1882.4 1778.0 1882.3 1779.5 1882.3 1781.0 1882.2 1782.5 1882.2 1784.0 1882.2 1785.5 1882.1 1787.0 1882.1 1788.5 1882.1 1790.0 1882.0 1791.5 1882.0 1793.0 1882.0 1794.5 1881.9 1796.0 1881.9 1797.5 1881.9 1799.0 1881.9 1800.5 1881.8 1802.0 1881.8 1803.5 1881.8 1805.0 1881.8 1806.5 1881.7 1808.0 1881.7 1809.5 1881.7 1811.0 1881.7 1812.5 1881.7 1814.0 1881.7 1815.5 1881.6 1817.0 1881.6 1818.5 1881.6 1820.0 1881.6 1821.5 1881.6 1823.0 1881.6 1824.5 1881.5 1826.0 1881.5 1827.5 1881.5 1829.0 1881.5 1830.5 1881.5 1832.0 1881.5 1833.5 1881.5 1835.0 1881.4 1836.5 1881.4 1838.0 1881.4 1839.5 1881.4 1841.0 1881.4 1842.5 1881.4 1844.0 1881.4 1845.5 1881.3 1847.0 1881.3 1848.5 1881.3 1850.0 1881.3 1851.5 1881.3 1853.0 1881.3 1854.5 1881.2 1856.0 1881.2 1857.5 1881.2 1859.0 1881.2 1860.5 1881.2 1862.0 1881.1 1863.5 1881.1 1865.0 1881.1 1866.5 1881.1 1868.0 1881.0 1869.5 1881.0 1871.0 1881.0 1872.5 1880.9 1874.0 1880.9 1875.5 1880.9 1877.0 1880.9 1878.5 1880.8 1880.0 1880.8 1881.5 1880.8 1883.0 1880.7 1884.5 1880.7 1886.0 1880.7 1887.5 1880.6 1889.0 1880.6 1890.5 1880.5 1892.0 1880.5 1893.5 1880.5 1895.0 1880.4 1896.5 1880.4 1898.0 1880.3 1899.5 1880.3 1901.0 1880.3 1902.5 1880.2 1904.0 1880.2 1905.5 1880.1 1907.0 1880.1 1908.5 1880.1 1910.0 1880.0 1911.5 1880.0 1913.0 1879.9 1914.5 1879.9 1916.0 1879.9 1917.5 1879.8 1919.0 1879.8 1920.5 1879.8 1922.0 1879.7 1923.5 1879.7 1925.0 1879.6 1926.5 1879.6 1928.0 1879.6 1929.5 1879.5 1931.0 1879.5 1932.5 1879.4 1934.0 1879.4 1935.5 1879.4 1937.0 1879.3 1938.5 1879.3 1940.0 1879.3 1941.5 1879.2 1943.0 1879.2 1944.5 1879.2 1946.0 1879.1 1947.5 1879.1 1949.0 1879.1 1950.5 1879.0 1952.0 1879.0 1953.5 1879.0 1955.0 1878.9 1956.5 1878.9 1958.0 1878.8 1959.5 1878.8 1961.0 1878.8 1962.5 1878.7 1964.0 1878.7 1965.5 1878.6 1967.0 1878.6 1968.5 1878.5 1970.0 1878.5 1971.5 1878.4 1973.0 1878.4 1974.5 1878.3 1976.0 1878.2 1977.5 1878.2 1979.0 1878.1 1980.5 1878.0 1982.0 1877.9 1983.5 1877.9 1985.0 1877.8 1986.5 1877.7 1988.0 1877.6 1989.5 1877.5 1991.0 1877.4 1992.5 1877.3 1994.0 1877.2 1995.5 1877.1 1997.0 1877.0 1998.5 1876.9 2000.0 1876.8 2001.5 1876.6 2003.0 1876.5 2004.5 1876.4 2006.0 1876.3 2007.5 1876.1 2009.0 1876.0 2010.5 1875.8 2012.0 1875.7 2013.5 1875.5 2015.0 1875.4 2016.5 1875.2 2018.0 1875.0 2019.5 1874.9 2021.0 1874.7 2022.5 1874.5 2024.0 1874.4 2025.5 1874.2 2027.0 1874.0 2028.5 1873.8 2030.0 1873.6 2031.5 1873.4 2033.0 1873.2 2034.5 1873.0 2036.0 1872.8 2037.5 1872.6 2039.0 1872.4 2040.5 1872.2 2042.0 1872.0 2043.5 1871.8 2045.0 1871.5 2046.5 1871.3 2048.0 1871.1 2049.5 1870.9 2051.0 1870.6 2052.5 1870.4 2054.0 1870.2 2055.5 1869.9 2057.0 1869.7 2058.5 1869.5 2060.0 1869.2 2061.5 1869.0 2063.0 1868.7 2064.5 1868.5 2066.0 1868.2 2067.5 1868.0 2069.0 1867.7 2070.5 1867.5 2072.0 1867.2 2073.5 1867.0 2075.0 1866.7 2076.5 1866.5 2078.0 1866.2 2079.5 1866.0 2081.0 1865.7 2082.5 1865.5 2084.0 1865.2 2085.5 1865.0 2087.0 1864.7 2088.5 1864.5 2090.0 1864.3 2091.5 1864.0 2093.0 1863.8 2094.5 1863.6 2096.0 1863.4 2097.5 1863.1 2099.0 1862.9 2100.5 1862.7 2102.0 1862.5 2103.5 1862.3 2105.0 1862.1 2106.5 1861.9 2108.0 1861.8 2109.5 1861.6 2111.0 1861.4 2112.5 1861.2 2114.0 1861.1 2115.5 1860.9 2117.0 1860.8 2118.5 1860.6 2120.0 1860.5 2121.5 1860.3 2123.0 1860.2 2124.5 1860.1 2126.0 1860.0 2127.5 1859.8 2129.0 1859.7 2130.5 1859.6 2132.0 1859.5 2133.5 1859.4 2135.0 1859.4 2136.5 1859.3 2138.0 1859.2 2139.5 1859.1 2141.0 1859.1 2142.5 1859.0 2144.0 1859.0 2145.5 1858.9 2147.0 1858.9 2148.5 1858.8 2150.0 1858.8 2151.5 1858.8 2153.0 1858.8 2154.5 1858.8 2156.0 1858.8 2157.5 1858.8 2159.0 1858.8 2160.5 1858.8 2162.0 1858.8 2163.5 1858.8 2165.0 1858.8 2166.5 1858.9 2168.0 1858.9 2169.5 1859.0 2171.0 1859.0 2172.5 1859.1 2174.0 1859.1 2175.5 1859.2 2177.0 1859.2 2178.5 1859.3 2180.0 1859.4 2181.5 1859.5 2183.0 1859.5 2184.5 1859.6 2186.0 1859.7 2187.5 1859.8 2189.0 1859.9 2190.5 1860.0 2192.0 1860.1 2193.5 1860.2 2195.0 1860.3 2196.5 1860.4 2198.0 1860.5 2199.5 1860.7 2201.0 1860.8 2202.5 1860.9 2204.0 1861.0 2205.5 1861.2 2207.0 1861.3 2208.5 1861.4 2210.0 1861.5 2211.5 1861.7 2213.0 1861.8 2214.5 1862.0 2216.0 1862.1 2217.5 1862.2 2219.0 1862.4 2220.5 1862.5 2222.0 1862.7 2223.5 1862.8 2225.0 1863.0 2226.5 1863.1 2228.0 1863.3 2229.5 1863.4 2231.0 1863.6 2232.5 1863.7 2234.0 1863.9 2235.5 1864.0 2237.0 1864.2 2238.5 1864.3 2240.0 1864.5 2241.5 1864.6 2243.0 1864.7 2244.5 1864.9 2246.0 1865.0 2247.5 1865.2 2249.0 1865.3 2250.5 1865.5 2252.0 1865.6 2253.5 1865.8 2255.0 1865.9 2256.5 1866.1 2258.0 1866.2 2259.5 1866.3 2261.0 1866.5 2262.5 1866.6 2264.0 1866.7 2265.5 1866.9 2267.0 1867.0 2268.5 1867.1 2270.0 1867.2 2271.5 1867.4 2273.0 1867.5 2274.5 1867.6 2276.0 1867.7 2277.5 1867.8 2279.0 1867.9 2280.5 1868.0 2282.0 1868.1 2283.5 1868.2 2285.0 1868.3 2286.5 1868.4 2288.0 1868.5 2289.5 1868.6 2291.0 1868.7 2292.5 1868.7 2294.0 1868.8 2295.5 1868.9 2297.0 1868.9 2298.5 1869.0 2300.0 1869.0 2301.5 1869.1 2303.0 1869.2 2304.5 1869.2 2306.0 1869.2 2307.5 1869.3 2309.0 1869.3 2310.5 1869.4 2312.0 1869.4 2313.5 1869.4 2315.0 1869.4 2316.5 1869.5 2318.0 1869.5 2319.5 1869.5 2321.0 1869.5 2322.5 1869.6 2324.0 1869.6 2325.5 1869.6 2327.0 1869.6 2328.5 1869.6 2330.0 1869.6 2331.5 1869.6 2333.0 1869.7 2334.5 1869.7 2336.0 1869.7 2337.5 1869.7 2339.0 1869.7 2340.5 1869.7 2342.0 1869.7 2343.5 1869.7 2345.0 1869.7 2346.5 1869.7 2348.0 1869.7 2349.5 1869.7 2351.0 1869.8 2352.5 1869.8 2354.0 1869.8 2355.5 1869.8 2357.0 1869.8 2358.5 1869.8 2360.0 1869.8 2361.5 1869.9 2363.0 1869.9 2364.5 1869.9 2366.0 1869.9 2367.5 1869.9 2369.0 1870.0 2370.5 1870.0 2372.0 1870.0 2373.5 1870.1 2375.0 1870.1 2376.5 1870.1 2378.0 1870.2 2379.5 1870.2 2381.0 1870.3 2382.5 1870.3 2384.0 1870.4 2385.5 1870.4 2387.0 1870.5 2388.5 1870.6 2390.0 1870.6 2391.5 1870.7 2393.0 1870.8 2394.5 1870.9 2396.0 1871.0 2397.5 1871.1 2399.0 1871.2 2400.5 1871.3 2402.0 1871.4 2403.5 1871.5 2405.0 1871.6 2406.5 1871.7 2408.0 1871.8 2409.5 1872.0 2411.0 1872.1 2412.5 1872.2 2414.0 1872.4 2415.5 1872.5 2417.0 1872.7 2418.0 1872.8" stroke="#ad6de6" stroke-width="2.9"/>
</g>
<path d="M1464.00 2007V1998.5 M1570.00 2007V1991 M1676.00 2007V1998.5 M1782.00 2007V1991 M1888.00 2007V1998.5 M1994.00 2007V1991 M2100.00 2007V1998.5 M2206.00 2007V1991 M2312.00 2007V1998.5" stroke="#000" stroke-width="3.4" fill="none"/>
<rect x="1358" y="1109" width="1060" height="898" fill="none" stroke="#000" stroke-width="3.4"/>
</g>
<g font-family="'Liberation Serif','Times New Roman',serif" font-weight="bold">
<text x="101.50" y="955.70" font-size="54" fill="#000" text-anchor="middle">282</text>
<text x="314.80" y="955.70" font-size="54" fill="#000" text-anchor="middle">284</text>
<text x="528.10" y="955.70" font-size="54" fill="#000" text-anchor="middle">286</text>
<text x="741.40" y="955.70" font-size="54" fill="#000" text-anchor="middle">288</text>
<text x="954.70" y="955.70" font-size="54" fill="#000" text-anchor="middle">290</text>
<text x="1168.00" y="955.70" font-size="54" fill="#000" text-anchor="middle">292</text>
<text x="1358.00" y="956.00" font-size="54" fill="#000" text-anchor="middle">282</text>
<text x="1570.00" y="956.00" font-size="54" fill="#000" text-anchor="middle">284</text>
<text x="1782.00" y="956.00" font-size="54" fill="#000" text-anchor="middle">286</text>
<text x="1994.00" y="956.00" font-size="54" fill="#000" text-anchor="middle">288</text>
<text x="2206.00" y="956.00" font-size="54" fill="#000" text-anchor="middle">290</text>
<text x="2418.00" y="956.00" font-size="54" fill="#000" text-anchor="middle">292</text>
<text x="105.00" y="2080.00" font-size="54" fill="#000" text-anchor="middle">282</text>
<text x="317.60" y="2080.00" font-size="54" fill="#000" text-anchor="middle">284</text>
<text x="530.20" y="2080.00" font-size="54" fill="#000" text-anchor="middle">286</text>
<text x="742.80" y="2080.00" font-size="54" fill="#000" text-anchor="middle">288</text>
<text x="955.40" y="2080.00" font-size="54" fill="#000" text-anchor="middle">290</text>
<text x="1168.00" y="2080.00" font-size="54" fill="#000" text-anchor="middle">292</text>
<text x="1358.00" y="2070.70" font-size="54" fill="#000" text-anchor="middle">282</text>
<text x="1570.00" y="2070.70" font-size="54" fill="#000" text-anchor="middle">284</text>
<text x="1782.00" y="2070.70" font-size="54" fill="#000" text-anchor="middle">286</text>
<text x="1994.00" y="2070.70" font-size="54" fill="#000" text-anchor="middle">288</text>
<text x="2206.00" y="2070.70" font-size="54" fill="#000" text-anchor="middle">290</text>
<text x="2418.00" y="2070.70" font-size="54" fill="#000" text-anchor="middle">292</text>
<text x="409.20" y="1043.75" font-size="52.7" fill="#000" text-anchor="start">Binding Energy(eV)</text>
<text x="1664.20" y="1044.50" font-size="52.7" fill="#000" text-anchor="start">Binding Energy(eV)</text>
<text x="435.50" y="2142.50" font-size="52.7" fill="#000" text-anchor="start">Binding Energy(eV)</text>
<text x="1664.20" y="2142.50" font-size="52.7" fill="#000" text-anchor="start">Binding Energy(eV)</text>
<text transform="translate(63.4 460.25) rotate(-90)" font-size="53.7" text-anchor="middle">Intensity(a.u.)</text>
<text transform="translate(1320 456.4) rotate(-90)" font-size="53.9" text-anchor="middle">Intensity(a.u.)</text>
<text transform="translate(66.7 1565.8) rotate(-90)" font-size="55.6" text-anchor="middle">Intensity(a.u.)</text>
<text transform="translate(1320 1557.4) rotate(-90)" font-size="55.4" text-anchor="middle">Intensity(a.u.)</text>
<text x="13.70" y="76.00" font-size="74" fill="#000" text-anchor="start">(a)</text>
<text x="1262.20" y="77.00" font-size="74" fill="#000" text-anchor="start">(b)</text>
<text x="13.70" y="1174.80" font-size="74" fill="#000" text-anchor="start">(c)</text>
<text x="1262.20" y="1173.50" font-size="74" fill="#000" text-anchor="start">(d)</text>
<text font-size="53.5" fill="#ee3237"><tspan x="255.00" y="220.20">sp</tspan><tspan x="322.32" y="220.20">C</tspan></text><text transform="translate(305.77 197.40) scale(0.9 1)" font-size="37" fill="#ee3237">2</text>
<text font-size="53.5" fill="#1a6adc"><tspan x="614.39" y="456.00">sp</tspan><tspan x="681.73" y="456.00">C</tspan></text><text transform="translate(665.17 433.20) scale(0.9 1)" font-size="37" fill="#1a6adc">3</text>
<text x="749.83" y="640.70" font-size="53.5" fill="#289b5a" text-anchor="start">C-O</text>
<text x="843.58" y="695.70" font-size="53.5" fill="#a56ee1" text-anchor="start">O-C=O</text>
<text font-size="53.5" fill="#ee3237"><tspan x="1507.64" y="162.50">sp</tspan><tspan x="1574.98" y="162.50">C</tspan></text><text transform="translate(1558.42 139.70) scale(0.9 1)" font-size="37" fill="#ee3237">2</text>
<text font-size="53.5" fill="#1a6adc"><tspan x="1823.39" y="442.50">sp</tspan><tspan x="1890.73" y="442.50">C</tspan></text><text transform="translate(1874.17 419.70) scale(0.9 1)" font-size="37" fill="#1a6adc">3</text>
<text x="2021.08" y="579.50" font-size="53.5" fill="#289b5a" text-anchor="start">C-O</text>
<text x="2191.07" y="615.50" font-size="53.5" fill="#a56ee1" text-anchor="start">O-C=O</text>
<text font-size="53.5" fill="#ee3237"><tspan x="230.90" y="1626.25">sp</tspan><tspan x="298.22" y="1626.25">C</tspan></text><text transform="translate(281.67 1603.45) scale(0.9 1)" font-size="37" fill="#ee3237">2</text>
<text font-size="53.5" fill="#1a6adc"><tspan x="570.89" y="1725.00">sp</tspan><tspan x="638.23" y="1725.00">C</tspan></text><text transform="translate(621.67 1702.20) scale(0.9 1)" font-size="37" fill="#1a6adc">3</text>
<text x="668.58" y="1805.70" font-size="53.5" fill="#289b5a" text-anchor="start">C-O</text>
<text x="939.83" y="1853.20" font-size="53.5" fill="#a56ee1" text-anchor="start">O-C=O</text>
<text font-size="53.5" fill="#ee3237"><tspan x="1524.19" y="1300.00">sp</tspan><tspan x="1591.53" y="1300.00">C</tspan></text><text transform="translate(1574.97 1277.20) scale(0.9 1)" font-size="37" fill="#ee3237">2</text>
<text font-size="53.5" fill="#1a6adc"><tspan x="1838.89" y="1763.75">sp</tspan><tspan x="1906.23" y="1763.75">C</tspan></text><text transform="translate(1889.67 1740.95) scale(0.9 1)" font-size="37" fill="#1a6adc">3</text>
<text x="2011.08" y="1809.50" font-size="53.5" fill="#289b5a" text-anchor="start">C-O</text>
<text x="2171.07" y="1834.50" font-size="53.5" fill="#a56ee1" text-anchor="start">O-C=O</text>
</g>
</svg>
</body></html>
